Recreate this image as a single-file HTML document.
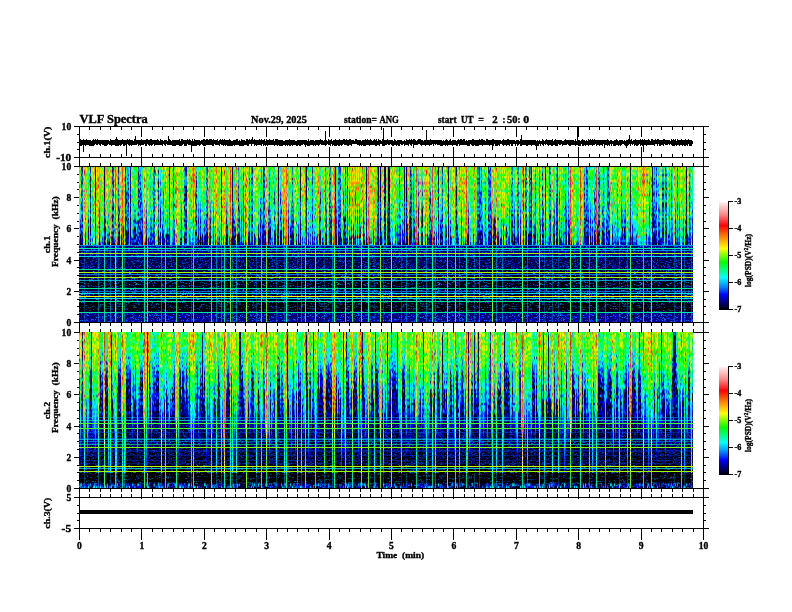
<!DOCTYPE html>
<html><head><meta charset="utf-8"><style>
html,body{margin:0;padding:0;background:#fff;width:792px;height:612px;overflow:hidden;position:relative}
svg{position:absolute;left:0;top:0}
text{font-family:"Liberation Serif",serif;font-weight:bold;fill:#000;stroke:#000;stroke-width:0.35px}
.sp{position:absolute;left:79px;width:614px;display:flex}
.sp i{display:block;width:1px;height:100%;flex:none}
.rw{position:absolute;left:79px;width:614px;mix-blend-mode:lighten}
.rw i{position:absolute;left:0;width:614px;height:1px}
.a0{background:linear-gradient(#5fff00 0px,#4cff00 2px,#ffcb00 4px,#00ffe6 6px,#87ff00 8px,#f9ff00 10px,#4dff00 12px,#57ff00 14px,#ffd400 16px,#00ffae 18px,#68ff00 20px,#6fff00 22px,#66ff00 24px,#23ff00 26px,#00ff3b 28px,#84ff00 30px,#ffa300 32px,#35ff00 34px,#deff00 36px,#77ff00 38px,#00ff00 40px,#00ffad 42px,#00ff47 44px,#1eff00 46px,#00ff1b 48px,#00ffd8 50px,#0038ff 52px,#009cff 54px,#00ff20 56px,#00ff2c 58px,#10ff00 60px,#00a1ff 62px,#00ff47 64px,#004cff 66px,#0081ff 68px,#0057ff 70px,#00c0ff 72px,#0032ff 74px,#0020ff 76px,#000aff 77px)}.a1{background:linear-gradient(#ffa700 0px,#ffd200 2px,#ff0808 4px,#ff0300 6px,#ff5800 8px,#e2ff00 10px,#c1ff00 12px,#ffe700 14px,#ff8c00 16px,#ff9f00 18px,#ffe000 20px,#6fff00 22px,#ff2a2a 24px,#a4ff00 26px,#ff6200 28px,#ffd000 30px,#ff1f00 32px,#fff700 34px,#ff2c00 36px,#daff00 38px,#ff3900 40px,#ffa800 42px,#ff7a00 44px,#ffe800 46px,#ffc100 48px,#ffa600 50px,#fff800 52px,#fff500 54px,#ff6900 56px,#d5ff00 58px,#ffc500 60px,#fff800 62px,#ffd700 64px,#fffe00 66px,#ff7f00 68px,#30ff00 70px,#e2ff00 72px,#e1ff00 74px,#49ff00 76px,#ffca00 77px)}.a2{background:linear-gradient(#00ff89 0px,#0073ff 2px,#00eeff 4px,#00ffd0 6px,#0059ff 8px,#00a5ff 10px,#00ff47 12px,#0030ff 14px,#00edff 16px,#0074ff 18px,#00f6ff 20px,#00ffa3 22px,#009aff 24px,#00deff 26px,#000011 28px,#00d2ff 30px,#0000a8 32px,#0038ff 34px,#0000aa 36px,#0059ff 38px,#0000f4 40px,#0000ee 42px,#0041ff 44px,#0015ff 46px,#002cff 48px,#0034ff 50px,#0089ff 52px,#002aff 54px,#000036 56px,#0024ff 58px,#005dff 60px,#00003b 62px,#004cff 64px,#000050 66px,#0000ac 68px,#008eff 70px,#000035 72px,#000069 74px,#000000 76px,#0000b0 77px)}.a3{background:linear-gradient(#00ffb2 0px,#00ffb2 2px,#dfff00 4px,#00ffc2 6px,#0044ff 8px,#00ff97 10px,#00ffb5 12px,#00ff6f 14px,#0076ff 16px,#03ff00 18px,#00ffdd 20px,#0052ff 22px,#00cbff 24px,#00d7ff 26px,#00fff8 28px,#00fff8 30px,#000088 32px,#0000ab 34px,#00ff71 36px,#0077ff 38px,#0000e9 40px,#0004ff 42px,#00ffee 44px,#00b7ff 46px,#0000ea 48px,#0010ff 50px,#00a0ff 52px,#0081ff 54px,#000070 56px,#00ffde 58px,#000000 60px,#00d3ff 62px,#0000b2 64px,#00fff6 66px,#0000b6 68px,#003cff 70px,#000070 72px,#00002a 74px,#0000b4 76px,#0000e4 77px)}.a4{background:linear-gradient(#03ff00 0px,#00ff01 2px,#00ffb7 4px,#00ffc9 6px,#00ffd3 8px,#34ff00 10px,#00ff42 12px,#00ffe2 14px,#00ff0f 16px,#00ff57 18px,#00ff2e 20px,#00ff7f 22px,#00ffa2 24px,#00ff93 26px,#00ff61 28px,#25ff00 30px,#00ff7c 32px,#00ffb0 34px,#77ff00 36px,#00ff92 38px,#00ffaa 40px,#00ff4d 42px,#0063ff 44px,#00ffec 46px,#00a6ff 48px,#00acff 50px,#0070ff 52px,#0000e0 54px,#003cff 56px,#00e8ff 58px,#0024ff 60px,#000029 62px,#000033 64px,#0000f1 66px,#0000ea 68px,#000015 70px,#0000e4 72px,#00aaff 74px,#0000a7 76px,#0000b7 77px)}.a5{background:linear-gradient(#00ffc6 0px,#73ff00 2px,#fffc00 4px,#deff00 6px,#43ff00 8px,#ffff00 10px,#00ffae 12px,#00ff33 14px,#a0ff00 16px,#13ff00 18px,#44ff00 20px,#00ffa8 22px,#00ffad 24px,#59ff00 26px,#00ff89 28px,#00e5ff 30px,#00ffd0 32px,#96ff00 34px,#00ff75 36px,#00d7ff 38px,#00ff64 40px,#00fbff 42px,#00d2ff 44px,#00ffe3 46px,#0bff00 48px,#0065ff 50px,#00006e 52px,#000000 54px,#0000e6 56px,#0000f4 58px,#000078 60px,#0000a9 62px,#002bff 64px,#000017 66px,#000009 68px,#0058ff 70px,#0020ff 72px,#000094 74px,#000000 76px,#0000a6 77px)}.a6{background:linear-gradient(#ff7a00 0px,#8aff00 2px,#ff8100 4px,#2eff00 6px,#ffd100 8px,#9fff00 10px,#ffe400 12px,#ffcf00 14px,#a1ff00 16px,#19ff00 18px,#ff1c00 20px,#ffe200 22px,#ff6c00 24px,#ffa500 26px,#ffc600 28px,#ffca00 30px,#73ff00 32px,#6cff00 34px,#ff9400 36px,#c1ff00 38px,#dcff00 40px,#edff00 42px,#5fff00 44px,#c3ff00 46px,#9dff00 48px,#fff200 50px,#00ff99 52px,#92ff00 54px,#3eff00 56px,#c8ff00 58px,#18ff00 60px,#b0ff00 62px,#00ffaa 64px,#00ff4d 66px,#06ff00 68px,#00ffbe 70px,#0088ff 72px,#0089ff 74px,#0030ff 76px,#00d9ff 77px)}.a7{background:linear-gradient(#95ff00 0px,#ffdd00 2px,#fff400 4px,#5aff00 6px,#01ff00 8px,#93ff00 10px,#88ff00 12px,#00ffba 14px,#6eff00 16px,#00ff74 18px,#84ff00 20px,#00ff0b 22px,#ff7800 24px,#00ff79 26px,#ffce00 28px,#abff00 30px,#00ff6c 32px,#ffe600 34px,#35ff00 36px,#ffc900 38px,#ffd700 40px,#81ff00 42px,#f1ff00 44px,#3cff00 46px,#1bff00 48px,#f5ff00 50px,#32ff00 52px,#feff00 54px,#73ff00 56px,#38ff00 58px,#00ff10 60px,#15ff00 62px,#5dff00 64px,#00ff98 66px,#00ff23 68px,#00ff7c 70px,#73ff00 72px,#00ff0f 74px,#50ff00 76px,#00ffe4 77px)}.a8{background:linear-gradient(#00a2ff 0px,#00007e 2px,#005dff 4px,#00a2ff 6px,#000054 8px,#008eff 10px,#00bfff 12px,#0019ff 14px,#0009ff 16px,#002fff 18px,#000cff 20px,#00e5ff 22px,#005bff 24px,#0015ff 26px,#0000a8 28px,#005aff 30px,#00ddff 32px,#00c9ff 34px,#002dff 36px,#0000ff 38px,#0000e1 40px,#00005f 42px,#0098ff 44px,#00f8ff 46px,#003bff 48px,#0000bc 50px,#008dff 52px,#0097ff 54px,#0085ff 56px,#0067ff 58px,#0000da 60px,#00d1ff 62px,#000094 64px,#000048 66px,#0000de 68px,#0078ff 70px,#000aff 72px,#0005ff 74px,#00009e 76px,#00001a 77px)}.a9{background:linear-gradient(#ccff00 0px,#ffb200 2px,#00ffb7 4px,#f5ff00 6px,#00ff55 8px,#9bff00 10px,#88ff00 12px,#8aff00 14px,#00ff4e 16px,#0cff00 18px,#00ff24 20px,#ffa800 22px,#91ff00 24px,#ffe100 26px,#6cff00 28px,#fffc00 30px,#44ff00 32px,#93ff00 34px,#d8ff00 36px,#6cff00 38px,#87ff00 40px,#61ff00 42px,#00ff1d 44px,#1fff00 46px,#00ff83 48px,#99ff00 50px,#00ff97 52px,#68ff00 54px,#00cdff 56px,#00ff7c 58px,#00ff27 60px,#00d8ff 62px,#00aaff 64px,#00ff87 66px,#00ffe0 68px,#00ff6c 70px,#0000ac 72px,#0000b0 74px,#0000f1 76px,#0000ea 77px)}.a10{background:linear-gradient(#00ffab 0px,#ffe800 2px,#00ecff 4px,#00ff7a 6px,#00fffd 8px,#36ff00 10px,#f8ff00 12px,#1aff00 14px,#00ff21 16px,#0eff00 18px,#00ff08 20px,#ffe200 22px,#00ddff 24px,#02ff00 26px,#00ff18 28px,#00ff9a 30px,#7eff00 32px,#0bff00 34px,#00ff0a 36px,#a4ff00 38px,#00ff35 40px,#00ff77 42px,#00ffdb 44px,#00ff55 46px,#00acff 48px,#00ff22 50px,#00ff21 52px,#00ff87 54px,#00ffc4 56px,#00fcff 58px,#00ebff 60px,#00fff1 62px,#00ff51 64px,#00fff2 66px,#0044ff 68px,#000049 70px,#008eff 72px,#0009ff 74px,#0001ff 76px,#0000e5 77px)}.a11{background:linear-gradient(#ff6100 0px,#ffe800 2px,#fbff00 4px,#ff8900 6px,#ff9a00 8px,#ffb800 10px,#44ff00 12px,#e6ff00 14px,#ff5f00 16px,#ffbf00 18px,#ffa400 20px,#ffd900 22px,#26ff00 24px,#ffdd00 26px,#ffe900 28px,#ffa800 30px,#ff6500 32px,#ffb000 34px,#ffd700 36px,#ff1000 38px,#ffe500 40px,#ff3232 42px,#83ff00 44px,#ff0600 46px,#5eff00 48px,#ffe200 50px,#ff5b00 52px,#ff3f00 54px,#77ff00 56px,#b1ff00 58px,#ff5300 60px,#ffe300 62px,#a2ff00 64px,#2aff00 66px,#ff9200 68px,#ff6f00 70px,#e3ff00 72px,#cdff00 74px,#ffe500 76px,#ff6f00 77px)}.a12{background:linear-gradient(#0061ff 0px,#000082 2px,#0030ff 4px,#0039ff 6px,#007bff 8px,#00ffba 10px,#0069ff 12px,#000038 14px,#00cfff 16px,#006bff 18px,#0000ce 20px,#000005 22px,#00f0ff 24px,#00ff46 26px,#00bfff 28px,#0049ff 30px,#00c1ff 32px,#000aff 34px,#008aff 36px,#00007d 38px,#0094ff 40px,#000088 42px,#00cdff 44px,#000035 46px,#00009f 48px,#0000e7 50px,#0095ff 52px,#0073ff 54px,#00a8ff 56px,#0023ff 58px,#00b8ff 60px,#000000 62px,#0072ff 64px,#00006f 66px,#000091 68px,#000000 70px,#000099 72px,#0000bd 74px,#002fff 76px,#0000bc 77px)}.a13{background:linear-gradient(#3eff00 0px,#9bff00 2px,#00ff1b 4px,#ffb000 6px,#fff700 8px,#00ff22 10px,#00ff0a 12px,#00ffb1 14px,#1cff00 16px,#4bff00 18px,#00ff10 20px,#76ff00 22px,#00ff44 24px,#00ff09 26px,#00ff71 28px,#00ff81 30px,#fff300 32px,#00fdff 34px,#00ffcc 36px,#74ff00 38px,#00ff6a 40px,#00d9ff 42px,#00ffe3 44px,#00ffa8 46px,#33ff00 48px,#0050ff 50px,#00ff2e 52px,#00ff86 54px,#00f0ff 56px,#00fff3 58px,#00b7ff 60px,#00ffe7 62px,#00c2ff 64px,#00008e 66px,#00ffac 68px,#002dff 70px,#00006e 72px,#005eff 74px,#0047ff 76px,#000082 77px)}.a14{background:linear-gradient(#0000ea 0px,#0084ff 2px,#0000ab 4px,#0001ff 6px,#0006ff 8px,#0052ff 10px,#00afff 12px,#000069 14px,#00f0ff 16px,#000038 18px,#00abff 20px,#008bff 22px,#00ff13 24px,#0093ff 26px,#0080ff 28px,#0000c9 30px,#0044ff 32px,#0087ff 34px,#0000ab 36px,#00cdff 38px,#0023ff 40px,#0000c3 42px,#000fff 44px,#0020ff 46px,#00a5ff 48px,#00006c 50px,#000098 52px,#0000f0 54px,#000052 56px,#00008b 58px,#00008b 60px,#0040ff 62px,#0000a9 64px,#000000 66px,#00008d 68px,#000035 70px,#000085 72px,#0004ff 74px,#0000a3 76px,#0000d9 77px)}.a15{background:linear-gradient(#00efff 0px,#00cbff 2px,#0094ff 4px,#00d4ff 6px,#0001ff 8px,#00b5ff 10px,#00b3ff 12px,#00b6ff 14px,#0009ff 16px,#005eff 18px,#0099ff 20px,#000000 22px,#00cbff 24px,#006eff 26px,#00005b 28px,#004cff 30px,#0036ff 32px,#00efff 34px,#000081 36px,#0000d9 38px,#0000f9 40px,#006cff 42px,#0000ff 44px,#0095ff 46px,#0032ff 48px,#00e9ff 50px,#00003f 52px,#007cff 54px,#0000b9 56px,#007bff 58px,#0048ff 60px,#000070 62px,#000cff 64px,#000000 66px,#0000a5 68px,#0000d8 70px,#0000ec 72px,#0028ff 74px,#0000e6 76px,#0076ff 77px)}.a16{background:linear-gradient(#76ff00 0px,#ffd300 2px,#aeff00 4px,#e1ff00 6px,#7bff00 8px,#80ff00 10px,#ff5400 12px,#02ff00 14px,#a2ff00 16px,#ff9700 18px,#57ff00 20px,#fffd00 22px,#00ff20 24px,#74ff00 26px,#bbff00 28px,#00ff1a 30px,#a4ff00 32px,#6cff00 34px,#56ff00 36px,#ffab00 38px,#68ff00 40px,#7aff00 42px,#00ff58 44px,#8cff00 46px,#95ff00 48px,#fffb00 50px,#00ff2c 52px,#4fff00 54px,#ffd900 56px,#acff00 58px,#00ff8a 60px,#2aff00 62px,#64ff00 64px,#68ff00 66px,#11ff00 68px,#c6ff00 70px,#00ff76 72px,#0dff00 74px,#82ff00 76px,#5eff00 77px)}.a17{background:linear-gradient(#00ff63 0px,#00eeff 2px,#5aff00 4px,#2fff00 6px,#21ff00 8px,#00ff3d 10px,#00ff08 12px,#00ff9b 14px,#00ff62 16px,#00ff81 18px,#00ff43 20px,#00ffb9 22px,#00ffa1 24px,#00ff9e 26px,#00ffca 28px,#00ff84 30px,#00fffb 32px,#00ff8b 34px,#00a5ff 36px,#0099ff 38px,#00a8ff 40px,#0099ff 42px,#000bff 44px,#006cff 46px,#00a8ff 48px,#0052ff 50px,#0026ff 52px,#0000b8 54px,#0000c7 56px,#0087ff 58px,#000059 60px,#004cff 62px,#0046ff 64px,#0033ff 66px,#0000e0 68px,#000000 70px,#000040 72px,#000082 74px,#000000 76px,#000000 77px)}.a18{background:linear-gradient(#82ff00 0px,#84ff00 2px,#69ff00 4px,#1aff00 6px,#00ff16 8px,#00ff40 10px,#00ffbe 12px,#82ff00 14px,#93ff00 16px,#00ffc7 18px,#1cff00 20px,#39ff00 22px,#00fff9 24px,#ffbc00 26px,#0eff00 28px,#1cff00 30px,#fff700 32px,#00ff5c 34px,#00ffb0 36px,#00ff3b 38px,#00d2ff 40px,#83ff00 42px,#00ff5e 44px,#00ff57 46px,#00ffdd 48px,#14ff00 50px,#0015ff 52px,#00ffd2 54px,#00ff4f 56px,#00ff95 58px,#00ffd7 60px,#00b2ff 62px,#00baff 64px,#000cff 66px,#0061ff 68px,#0000b4 70px,#00009c 72px,#000092 74px,#0000ae 76px,#0000ad 77px)}.a19{background:linear-gradient(#a0ff00 0px,#00ff99 2px,#00e6ff 4px,#ffcc00 6px,#ffc700 8px,#ffbd00 10px,#00ffc5 12px,#00ff2f 14px,#00ff40 16px,#00ffdf 18px,#00ff5f 20px,#00ff23 22px,#00ffee 24px,#00b2ff 26px,#00ff8c 28px,#00ff8a 30px,#0060ff 32px,#009aff 34px,#0009ff 36px,#00ffb2 38px,#00f1ff 40px,#0000a6 42px,#00007f 44px,#0090ff 46px,#0010ff 48px,#0000a6 50px,#000052 52px,#0038ff 54px,#0000da 56px,#00007f 58px,#000000 60px,#0051ff 62px,#0054ff 64px,#0000ad 66px,#00008d 68px,#0022ff 70px,#000fff 72px,#000042 74px,#000051 76px,#0000cb 77px)}.a20{background:linear-gradient(#80ff00 0px,#ffe100 2px,#00ff19 4px,#13ff00 6px,#ffd300 8px,#16ff00 10px,#00ff17 12px,#0eff00 14px,#c8ff00 16px,#01ff00 18px,#35ff00 20px,#fff400 22px,#c9ff00 24px,#bcff00 26px,#00ff55 28px,#dcff00 30px,#00ff67 32px,#00ff54 34px,#83ff00 36px,#00aaff 38px,#00ff96 40px,#00ff1a 42px,#00e4ff 44px,#00ff87 46px,#00edff 48px,#00dbff 50px,#00b7ff 52px,#0025ff 54px,#0091ff 56px,#0000f4 58px,#0000aa 60px,#002dff 62px,#0051ff 64px,#0086ff 66px,#000006 68px,#000000 70px,#00007a 72px,#000083 74px,#000031 76px,#000000 77px)}.a21{background:linear-gradient(#ff4400 0px,#ff6c00 2px,#ffaa00 4px,#d2ff00 6px,#fff800 8px,#ff1b00 10px,#ff5100 12px,#ffc800 14px,#ff7979 16px,#ff5400 18px,#c2ff00 20px,#fffa00 22px,#b3ff00 24px,#d4ff00 26px,#e2ff00 28px,#ffb300 30px,#ff0b00 32px,#ffac00 34px,#ff9c00 36px,#ffd000 38px,#ffcf00 40px,#ff9400 42px,#fff900 44px,#ddff00 46px,#ff8000 48px,#c4ff00 50px,#ffeb00 52px,#ff9100 54px,#ff9e00 56px,#c2ff00 58px,#9eff00 60px,#ff7500 62px,#c4ff00 64px,#ff1c00 66px,#00ff50 68px,#80ff00 70px,#ffef00 72px,#ffce00 74px,#f5ff00 76px,#02ff00 77px)}.a22{background:linear-gradient(#0000ee 0px,#0024ff 2px,#000000 4px,#000017 6px,#0000e8 8px,#000000 10px,#000055 12px,#000000 14px,#0048ff 16px,#000000 18px,#000000 20px,#0000c8 22px,#0000be 24px,#0057ff 26px,#000000 28px,#0000cb 30px,#000000 32px,#000000 34px,#00002d 36px,#007eff 38px,#000000 40px,#000000 42px,#000000 44px,#0000b0 46px,#0059ff 48px,#0000e5 50px,#000000 52px,#000020 54px,#00004f 56px,#000035 58px,#0000f0 60px,#000000 62px,#00001c 64px,#0000d9 66px,#000000 68px,#000046 70px,#0000a5 72px,#0000cc 74px,#00000f 76px,#0000c5 77px)}.a23{background:linear-gradient(#ff5800 0px,#ffb300 2px,#ffe500 4px,#ff3535 6px,#ffc000 8px,#fffb00 10px,#ffe900 12px,#ff5c00 14px,#ff1b00 16px,#ffc400 18px,#ffcc00 20px,#ff9e00 22px,#ff6d6d 24px,#ffd100 26px,#d5ff00 28px,#ffcc00 30px,#ff2b00 32px,#dbff00 34px,#ff0505 36px,#ffc400 38px,#fff100 40px,#ffba00 42px,#ffa400 44px,#6aff00 46px,#bdff00 48px,#ffc700 50px,#51ff00 52px,#ffda00 54px,#fffd00 56px,#ff3e00 58px,#ffa300 60px,#ffee00 62px,#ffa600 64px,#97ff00 66px,#1fff00 68px,#8eff00 70px,#24ff00 72px,#beff00 74px,#0eff00 76px,#00ffb0 77px)}.a24{background:linear-gradient(#00ff33 0px,#00fff0 2px,#00ff14 4px,#d1ff00 6px,#1cff00 8px,#ffcd00 10px,#00ff5b 12px,#bbff00 14px,#6aff00 16px,#00ff04 18px,#00ffb5 20px,#10ff00 22px,#7aff00 24px,#00ffc5 26px,#00ffa9 28px,#00ff39 30px,#37ff00 32px,#00f9ff 34px,#00ff17 36px,#00ffa6 38px,#00ff7b 40px,#00ffe1 42px,#00ff43 44px,#00f2ff 46px,#0062ff 48px,#00a3ff 50px,#00daff 52px,#00ff86 54px,#00ff2b 56px,#00ffbd 58px,#0047ff 60px,#00e6ff 62px,#00bbff 64px,#00ff5f 66px,#0000e1 68px,#0075ff 70px,#007cff 72px,#005cff 74px,#000074 76px,#0000a9 77px)}.a25{background:linear-gradient(#ff2800 0px,#ff2c00 2px,#22ff00 4px,#ff5a00 6px,#6eff00 8px,#ff8200 10px,#ffd400 12px,#1cff00 14px,#ffac00 16px,#ff3800 18px,#ffa300 20px,#dbff00 22px,#ff1000 24px,#ff8c00 26px,#ff8d00 28px,#ff8a00 30px,#ff0404 32px,#ffc500 34px,#ffc100 36px,#ffef00 38px,#ffa700 40px,#ffd300 42px,#ff9000 44px,#fff000 46px,#f3ff00 48px,#b8ff00 50px,#ff8300 52px,#ffa400 54px,#4dff00 56px,#f3ff00 58px,#ff9100 60px,#47ff00 62px,#9bff00 64px,#c2ff00 66px,#ff4700 68px,#ecff00 70px,#79ff00 72px,#e0ff00 74px,#32ff00 76px,#4eff00 77px)}.a26{background:linear-gradient(#0000a5 0px,#0000bb 2px,#000000 4px,#0000c9 6px,#000000 8px,#00003c 10px,#000000 12px,#00006d 14px,#0000a7 16px,#0000bc 18px,#000071 20px,#000000 22px,#000093 24px,#000030 26px,#000011 28px,#000029 30px,#00009b 32px,#00002a 34px,#007bff 36px,#0000c5 38px,#0074ff 40px,#000013 42px,#004bff 44px,#0000a5 46px,#00005a 48px,#0068ff 50px,#0000b9 52px,#0000ed 54px,#000047 56px,#000043 58px,#000092 60px,#000000 62px,#00004e 64px,#0000e4 66px,#0036ff 68px,#000000 70px,#000060 72px,#00006d 74px,#000078 76px,#000000 77px)}.a27{background:linear-gradient(#00c0ff 0px,#0086ff 2px,#00f3ff 4px,#0000ec 6px,#00f6ff 8px,#00f7ff 10px,#00ffe7 12px,#00ffb5 14px,#00fcff 16px,#004aff 18px,#0000c0 20px,#00efff 22px,#0000d7 24px,#00ffd0 26px,#000040 28px,#0095ff 30px,#00ff93 32px,#0091ff 34px,#008dff 36px,#0087ff 38px,#00cbff 40px,#00ff78 42px,#0000d9 44px,#009aff 46px,#000094 48px,#0000c3 50px,#0039ff 52px,#0067ff 54px,#0000f1 56px,#0000f8 58px,#0000ff 60px,#000aff 62px,#0000c2 64px,#0075ff 66px,#00004e 68px,#0023ff 70px,#000034 72px,#0000b5 74px,#004fff 76px,#00c4ff 77px)}.a28{background:linear-gradient(#ff8100 0px,#ffd700 2px,#ffb100 4px,#ffd600 6px,#ffe200 8px,#ff9200 10px,#ff3100 12px,#ff3a00 14px,#e8ff00 16px,#ff3700 18px,#ff1900 20px,#ffe400 22px,#e7ff00 24px,#ffb200 26px,#ffb800 28px,#ffc200 30px,#ffce00 32px,#ff1600 34px,#ffcf00 36px,#fffb00 38px,#ffc100 40px,#ff6c00 42px,#ff7e00 44px,#ffab00 46px,#ff3000 48px,#ff8c00 50px,#edff00 52px,#c4ff00 54px,#ff1f00 56px,#ffd800 58px,#ff3800 60px,#ffd400 62px,#ffcd00 64px,#ff7800 66px,#ffeb00 68px,#d4ff00 70px,#ffc900 72px,#ffe200 74px,#ff4a00 76px,#ff4b00 77px)}.a29{background:linear-gradient(#ffb200 0px,#1eff00 2px,#bdff00 4px,#ffc000 6px,#5cff00 8px,#ffe400 10px,#ffd900 12px,#ffec00 14px,#ff8700 16px,#fffe00 18px,#11ff00 20px,#ffe300 22px,#0fff00 24px,#fff500 26px,#ff9700 28px,#00ff0b 30px,#26ff00 32px,#00ff15 34px,#b6ff00 36px,#00ff1d 38px,#ffdc00 40px,#55ff00 42px,#38ff00 44px,#ffe900 46px,#90ff00 48px,#00ff90 50px,#35ff00 52px,#45ff00 54px,#07ff00 56px,#00ff3b 58px,#00ffad 60px,#4cff00 62px,#00ffdc 64px,#00ffcb 66px,#00fff1 68px,#0080ff 70px,#0003ff 72px,#006dff 74px,#0000e3 76px,#007aff 77px)}.a30{background:linear-gradient(#00ff9d 0px,#00ff39 2px,#00ff10 4px,#00ff2a 6px,#42ff00 8px,#00ff9a 10px,#000eff 12px,#00ffc6 14px,#22ff00 16px,#00ff73 18px,#87ff00 20px,#002fff 22px,#00ff87 24px,#00ff71 26px,#00ff98 28px,#a8ff00 30px,#00ff35 32px,#00ff7f 34px,#00aaff 36px,#00ffaf 38px,#23ff00 40px,#00ff83 42px,#00f9ff 44px,#0040ff 46px,#00ffe6 48px,#00ffbb 50px,#00a8ff 52px,#eaff00 54px,#0068ff 56px,#00ff2b 58px,#00ffdb 60px,#003cff 62px,#00d2ff 64px,#0040ff 66px,#0025ff 68px,#004cff 70px,#002cff 72px,#000097 74px,#0000d4 76px,#0000fb 77px)}.a31{background:linear-gradient(#00ff96 0px,#00ff60 2px,#c8ff00 4px,#00ff5e 6px,#35ff00 8px,#00ff03 10px,#29ff00 12px,#3dff00 14px,#baff00 16px,#00ff6b 18px,#bdff00 20px,#38ff00 22px,#00ffa8 24px,#00ff49 26px,#00ff97 28px,#00ffd1 30px,#00ff20 32px,#00ffb2 34px,#00ff84 36px,#00007b 38px,#00ff89 40px,#00f3ff 42px,#00ff6f 44px,#58ff00 46px,#00ff03 48px,#00ff54 50px,#00ffa4 52px,#000067 54px,#00b2ff 56px,#0071ff 58px,#00d2ff 60px,#0090ff 62px,#000085 64px,#000093 66px,#000dff 68px,#0030ff 70px,#0000ef 72px,#0000f4 74px,#0000e3 76px,#0000f5 77px)}.a32{background:linear-gradient(#00d5ff 0px,#00cbff 2px,#00ff84 4px,#00feff 6px,#00ffa6 8px,#00b0ff 10px,#00ecff 12px,#00fcff 14px,#00ffb3 16px,#00ff8a 18px,#00d5ff 20px,#00d0ff 22px,#00b9ff 24px,#0000fa 26px,#0041ff 28px,#0087ff 30px,#0001ff 32px,#0000cf 34px,#0000ac 36px,#0096ff 38px,#00e9ff 40px,#00baff 42px,#0068ff 44px,#005aff 46px,#00d5ff 48px,#0041ff 50px,#000000 52px,#003eff 54px,#00d7ff 56px,#009dff 58px,#00d2ff 60px,#00e9ff 62px,#0000fb 64px,#00001e 66px,#00007d 68px,#0000ac 70px,#000067 72px,#0000de 74px,#000007 76px,#00009a 77px)}.a33{background:linear-gradient(#ffe100 0px,#18ff00 2px,#ff9400 4px,#ffbe00 6px,#0074ff 8px,#68ff00 10px,#00ffb9 12px,#00ff86 14px,#3dff00 16px,#56ff00 18px,#90ff00 20px,#00ff50 22px,#c9ff00 24px,#00ff69 26px,#5dff00 28px,#00ff47 30px,#00ffa1 32px,#00ff33 34px,#fff500 36px,#00ff1c 38px,#04ff00 40px,#00ff03 42px,#00ffa0 44px,#00ffb7 46px,#00efff 48px,#0dff00 50px,#00c9ff 52px,#00ffb0 54px,#00ff30 56px,#00ffaa 58px,#00faff 60px,#00acff 62px,#0090ff 64px,#00f3ff 66px,#00005b 68px,#0000d2 70px,#000095 72px,#002bff 74px,#0000cb 76px,#0000e9 77px)}.a34{background:linear-gradient(#00fffd 0px,#b8ff00 2px,#06ff00 4px,#00ff29 6px,#1dff00 8px,#00ff1f 10px,#00ff14 12px,#00ff6c 14px,#00ffb2 16px,#00cdff 18px,#00ff13 20px,#ffd000 22px,#00ff96 24px,#1cff00 26px,#00ffd4 28px,#00ff86 30px,#00ff34 32px,#72ff00 34px,#00ff16 36px,#00ff7f 38px,#00ffef 40px,#00b8ff 42px,#00ffc7 44px,#16ff00 46px,#0087ff 48px,#00ffea 50px,#00ffe5 52px,#001dff 54px,#0007ff 56px,#00ffde 58px,#0049ff 60px,#0004ff 62px,#0000e5 64px,#007fff 66px,#0065ff 68px,#00006b 70px,#0000d1 72px,#0000b3 74px,#0000ce 76px,#000086 77px)}.a35{background:linear-gradient(#ffa100 0px,#8dff00 2px,#c9ff00 4px,#8fff00 6px,#00ff48 8px,#acff00 10px,#00ff92 12px,#ffd200 14px,#ff3200 16px,#90ff00 18px,#ffde00 20px,#ffcf00 22px,#9cff00 24px,#ff3100 26px,#ccff00 28px,#ffa200 30px,#b1ff00 32px,#43ff00 34px,#00ff1c 36px,#ff7600 38px,#00ff12 40px,#40ff00 42px,#ffd700 44px,#00ff4a 46px,#e8ff00 48px,#c3ff00 50px,#72ff00 52px,#95ff00 54px,#60ff00 56px,#22ff00 58px,#ddff00 60px,#00ff57 62px,#fff700 64px,#ffcb00 66px,#f5ff00 68px,#a0ff00 70px,#00ffe0 72px,#00ffdb 74px,#00ff62 76px,#00b2ff 77px)}.a36{background:linear-gradient(#ff1800 0px,#ff8787 2px,#ff4100 4px,#ff3d00 6px,#ff4949 8px,#ff3333 10px,#ff4500 12px,#ff7000 14px,#ff0303 16px,#ff6060 18px,#ffa100 20px,#ff6c6c 22px,#ffa0a0 24px,#ff3b3b 26px,#ffcaca 28px,#ff6060 30px,#ff1111 32px,#ff9797 34px,#ff5c5c 36px,#ff1212 38px,#ff3e3e 40px,#ff8000 42px,#ff2200 44px,#ff2100 46px,#ff3700 48px,#ff8a8a 50px,#ff4d4d 52px,#ff0400 54px,#ff3737 56px,#ff5b00 58px,#ff3f3f 60px,#ff5c00 62px,#ff8484 64px,#ff4a00 66px,#ff8080 68px,#ff1d1d 70px,#ff6800 72px,#ff5000 74px,#ff4100 76px,#ff6c00 77px)}.a37{background:linear-gradient(#08ff00 0px,#7dff00 2px,#89ff00 4px,#9dff00 6px,#39ff00 8px,#ffe600 10px,#00ffc6 12px,#00ff2d 14px,#00ff25 16px,#00ff95 18px,#88ff00 20px,#00ff29 22px,#00ff29 24px,#0cff00 26px,#00ffb0 28px,#00ffc7 30px,#00ffcd 32px,#00ff3a 34px,#00ff6b 36px,#99ff00 38px,#00ff01 40px,#00ff94 42px,#00c8ff 44px,#00ff56 46px,#acff00 48px,#00ffb6 50px,#00ffb7 52px,#0cff00 54px,#00ff52 56px,#80ff00 58px,#82ff00 60px,#00ff0b 62px,#24ff00 64px,#34ff00 66px,#00ff93 68px,#61ff00 70px,#00fff0 72px,#91ff00 74px,#00c8ff 76px,#00ffc8 77px)}.a38{background:linear-gradient(#ff3f00 0px,#ff8600 2px,#ff4400 4px,#ff4600 6px,#ff9200 8px,#fff800 10px,#ffbd00 12px,#ff2900 14px,#ff9500 16px,#dcff00 18px,#ffad00 20px,#fbff00 22px,#f4ff00 24px,#ffd000 26px,#ff2b00 28px,#ff6300 30px,#ffbe00 32px,#ff1b00 34px,#ffc500 36px,#ff3434 38px,#ffcb00 40px,#ffd800 42px,#00ffa1 44px,#ff1a00 46px,#fbff00 48px,#ffcd00 50px,#fff400 52px,#ffaf00 54px,#ffcf00 56px,#deff00 58px,#ffcf00 60px,#e3ff00 62px,#ffd900 64px,#78ff00 66px,#ffb800 68px,#f7ff00 70px,#ffcd00 72px,#ff5d00 74px,#ff9800 76px,#ffaa00 77px)}.a39{background:linear-gradient(#68ff00 0px,#d3ff00 2px,#ff4800 4px,#d8ff00 6px,#f4ff00 8px,#ff8200 10px,#ffc000 12px,#ffbe00 14px,#ffa900 16px,#ffec00 18px,#ffd400 20px,#ff7200 22px,#ff5e00 24px,#ff9600 26px,#ffa800 28px,#ffbf00 30px,#ffc300 32px,#ff5100 34px,#ff4b00 36px,#caff00 38px,#ff8900 40px,#cbff00 42px,#77ff00 44px,#ff8600 46px,#ffba00 48px,#ffa900 50px,#ff5300 52px,#ff9800 54px,#ffbb00 56px,#ffad00 58px,#ffc100 60px,#ff5600 62px,#ffd600 64px,#ffb000 66px,#fdff00 68px,#ff1500 70px,#5cff00 72px,#75ff00 74px,#ffa100 76px,#ffed00 77px)}.a40{background:linear-gradient(#00dfff 0px,#00ffca 2px,#0000a1 4px,#001bff 6px,#00bcff 8px,#00beff 10px,#0051ff 12px,#0002ff 14px,#00004a 16px,#0000c4 18px,#000004 20px,#00ff98 22px,#0000a8 24px,#0083ff 26px,#0033ff 28px,#0000fd 30px,#0000d0 32px,#00b4ff 34px,#00c3ff 36px,#0042ff 38px,#004dff 40px,#008dff 42px,#0000a5 44px,#0079ff 46px,#0077ff 48px,#007eff 50px,#007dff 52px,#00004c 54px,#00fff5 56px,#000047 58px,#003cff 60px,#00a5ff 62px,#000091 64px,#000015 66px,#000092 68px,#00009a 70px,#000064 72px,#000077 74px,#00009e 76px,#000000 77px)}.a41{background:linear-gradient(#0000a1 0px,#0000cc 2px,#000027 4px,#000090 6px,#00008c 8px,#0000ab 10px,#0000e4 12px,#000080 14px,#000000 16px,#0000af 18px,#0044ff 20px,#00008a 22px,#0000b4 24px,#0000e4 26px,#00ffe2 28px,#00008c 30px,#000056 32px,#0008ff 34px,#000016 36px,#000dff 38px,#00006e 40px,#00f2ff 42px,#0000e1 44px,#0025ff 46px,#000046 48px,#000000 50px,#000089 52px,#0000ab 54px,#00b6ff 56px,#00002a 58px,#0000e1 60px,#001cff 62px,#0035ff 64px,#000049 66px,#000063 68px,#0000f2 70px,#00007d 72px,#009bff 74px,#0081ff 76px,#000007 77px)}.a42{background:linear-gradient(#ffdc00 0px,#ff0000 2px,#ff7000 4px,#ffdb00 6px,#ffd900 8px,#ffbc00 10px,#88ff00 12px,#ffcf00 14px,#ff8d00 16px,#ff8600 18px,#ffb300 20px,#8bff00 22px,#ff3800 24px,#ffc600 26px,#d6ff00 28px,#ffb000 30px,#ff0f0f 32px,#ff3300 34px,#ff9400 36px,#ff4a00 38px,#ff9c00 40px,#fff500 42px,#ffbc00 44px,#90ff00 46px,#ffbe00 48px,#ffc500 50px,#e9ff00 52px,#fff500 54px,#ffe500 56px,#ffee00 58px,#e8ff00 60px,#ff5e5e 62px,#ffdc00 64px,#cbff00 66px,#ff7900 68px,#ff0100 70px,#ffdb00 72px,#feff00 74px,#ffb800 76px,#ffd300 77px)}.a43{background:linear-gradient(#8dff00 0px,#ffff00 2px,#bbff00 4px,#00ff14 6px,#ffa800 8px,#ffd600 10px,#fffe00 12px,#fff600 14px,#ff9d00 16px,#ffa300 18px,#00ff1c 20px,#e4ff00 22px,#00ff6f 24px,#fff500 26px,#ffc800 28px,#ffb900 30px,#ff5b00 32px,#ecff00 34px,#dcff00 36px,#7aff00 38px,#ff0b0b 40px,#72ff00 42px,#6eff00 44px,#ffe100 46px,#cbff00 48px,#4cff00 50px,#ffab00 52px,#ff6a00 54px,#dfff00 56px,#00ff3e 58px,#a9ff00 60px,#9aff00 62px,#ffc400 64px,#fff900 66px,#ddff00 68px,#00ff02 70px,#00ff9e 72px,#9dff00 74px,#ffdb00 76px,#51ff00 77px)}.a44{background:linear-gradient(#00008f 0px,#003dff 2px,#00008c 4px,#0021ff 6px,#00beff 8px,#0056ff 10px,#001aff 12px,#0065ff 14px,#0000c2 16px,#0095ff 18px,#00d4ff 20px,#00a4ff 22px,#001fff 24px,#0095ff 26px,#0019ff 28px,#00ffde 30px,#0042ff 32px,#0048ff 34px,#008bff 36px,#0090ff 38px,#001dff 40px,#0000cc 42px,#0062ff 44px,#00d0ff 46px,#0000c0 48px,#0000b3 50px,#0000d3 52px,#000000 54px,#00ffdf 56px,#0000ae 58px,#0000e2 60px,#00b0ff 62px,#009bff 64px,#00003a 66px,#0074ff 68px,#000062 70px,#000080 72px,#0000d8 74px,#0000fe 76px,#00009c 77px)}.a45{background:linear-gradient(#37ff00 0px,#ffe700 2px,#00ff2d 4px,#9aff00 6px,#00ffd2 8px,#94ff00 10px,#00ff6b 12px,#00ff35 14px,#00ff46 16px,#00ff3d 18px,#23ff00 20px,#bfff00 22px,#11ff00 24px,#fffc00 26px,#00ff49 28px,#fbff00 30px,#bbff00 32px,#4aff00 34px,#00e3ff 36px,#ffeb00 38px,#00ff31 40px,#00ffc1 42px,#00fffc 44px,#e2ff00 46px,#90ff00 48px,#7cff00 50px,#00ffec 52px,#00ff9b 54px,#00ff7e 56px,#e3ff00 58px,#10ff00 60px,#00fffd 62px,#00ff4f 64px,#00ff34 66px,#00ff4c 68px,#00d7ff 70px,#00fff3 72px,#00ff99 74px,#007fff 76px,#00ffed 77px)}.a46{background:linear-gradient(#00ff3d 0px,#3bff00 2px,#ffa200 4px,#ffd200 6px,#ffe000 8px,#d8ff00 10px,#ffad00 12px,#ff5900 14px,#ffe300 16px,#ff9100 18px,#ff9800 20px,#daff00 22px,#dbff00 24px,#cbff00 26px,#00ff78 28px,#45ff00 30px,#e4ff00 32px,#fffb00 34px,#ffe400 36px,#00ff59 38px,#26ff00 40px,#c8ff00 42px,#00ff54 44px,#00ff8b 46px,#a7ff00 48px,#00ff70 50px,#00ff50 52px,#00ff4b 54px,#00a0ff 56px,#00ff65 58px,#32ff00 60px,#009eff 62px,#005dff 64px,#00d3ff 66px,#00ffe2 68px,#00d1ff 70px,#0070ff 72px,#006cff 74px,#000056 76px,#000058 77px)}.a47{background:linear-gradient(#00caff 0px,#00c8ff 2px,#00b8ff 4px,#00e2ff 6px,#00beff 8px,#0001ff 10px,#0021ff 12px,#00ffc1 14px,#0019ff 16px,#00cfff 18px,#00f0ff 20px,#00cbff 22px,#00007f 24px,#0012ff 26px,#00fff3 28px,#0008ff 30px,#00c0ff 32px,#0000a3 34px,#00fff8 36px,#00a2ff 38px,#0021ff 40px,#0093ff 42px,#00c7ff 44px,#00e2ff 46px,#0072ff 48px,#00f3ff 50px,#000078 52px,#000000 54px,#0054ff 56px,#00d8ff 58px,#000083 60px,#000008 62px,#00ffc8 64px,#00007c 66px,#00001d 68px,#000064 70px,#00abff 72px,#000000 74px,#000000 76px,#008eff 77px)}.a48{background:linear-gradient(#45ff00 0px,#4aff00 2px,#00ff05 4px,#9cff00 6px,#0bff00 8px,#00ff6f 10px,#01ff00 12px,#00ff43 14px,#00ffd5 16px,#0cff00 18px,#00ff22 20px,#00ff20 22px,#c6ff00 24px,#00ff24 26px,#00ff52 28px,#97ff00 30px,#fffd00 32px,#00ff4b 34px,#a3ff00 36px,#30ff00 38px,#25ff00 40px,#9bff00 42px,#00ffac 44px,#d3ff00 46px,#00ff45 48px,#03ff00 50px,#ffe700 52px,#3bff00 54px,#deff00 56px,#5cff00 58px,#ff3f3f 60px,#00ff96 62px,#00abff 64px,#83ff00 66px,#00ff26 68px,#00ff20 70px,#00ffad 72px,#bbff00 74px,#93ff00 76px,#00ffdb 77px)}.a49{background:linear-gradient(#ff9a00 0px,#ffdf00 2px,#ffbb00 4px,#83ff00 6px,#00ff0f 8px,#ff5959 10px,#ff7e00 12px,#ff2e00 14px,#ffbf00 16px,#ffbb00 18px,#ff7b00 20px,#ff5700 22px,#ff3300 24px,#ff0303 26px,#ffe500 28px,#ff9600 30px,#e6ff00 32px,#4aff00 34px,#9dff00 36px,#ff5e00 38px,#ff0500 40px,#fffb00 42px,#ffd100 44px,#ff6300 46px,#e8ff00 48px,#ff9500 50px,#ffc200 52px,#a5ff00 54px,#ebff00 56px,#69ff00 58px,#24ff00 60px,#f5ff00 62px,#ff9200 64px,#8eff00 66px,#ff1000 68px,#ffdb00 70px,#ffb700 72px,#69ff00 74px,#81ff00 76px,#00ff42 77px)}.a50{background:linear-gradient(#58ff00 0px,#dbff00 2px,#faff00 4px,#fff500 6px,#10ff00 8px,#00ff3c 10px,#75ff00 12px,#00ff32 14px,#c1ff00 16px,#a9ff00 18px,#00ff3b 20px,#00ff81 22px,#ffa700 24px,#fff100 26px,#b6ff00 28px,#00ffc2 30px,#00e8ff 32px,#0bff00 34px,#00ff0f 36px,#00ff5b 38px,#32ff00 40px,#00ffee 42px,#00eaff 44px,#00ff1c 46px,#00f4ff 48px,#00e2ff 50px,#58ff00 52px,#0012ff 54px,#00eeff 56px,#0062ff 58px,#00f2ff 60px,#00c9ff 62px,#0027ff 64px,#0000c9 66px,#000071 68px,#0000a5 70px,#000091 72px,#000029 74px,#0000f3 76px,#000000 77px)}.a51{background:linear-gradient(#feff00 0px,#01ff00 2px,#ffbc00 4px,#ffe900 6px,#ffe900 8px,#ff5200 10px,#fffa00 12px,#fff200 14px,#5bff00 16px,#fffb00 18px,#66ff00 20px,#e1ff00 22px,#bdff00 24px,#00ff54 26px,#8fff00 28px,#21ff00 30px,#6cff00 32px,#23ff00 34px,#16ff00 36px,#00ff29 38px,#2aff00 40px,#00ffd0 42px,#00aaff 44px,#fff900 46px,#39ff00 48px,#24ff00 50px,#00ff6c 52px,#00ff7d 54px,#00ceff 56px,#0aff00 58px,#00ff86 60px,#00c8ff 62px,#00ff41 64px,#00baff 66px,#000000 68px,#000096 70px,#0006ff 72px,#000007 74px,#000077 76px,#000001 77px)}.a52{background:linear-gradient(#00ff54 0px,#64ff00 2px,#00a7ff 4px,#00ff42 6px,#68ff00 8px,#fff000 10px,#00ffe2 12px,#00ff67 14px,#00a0ff 16px,#00fff9 18px,#49ff00 20px,#00ff0d 22px,#00ff66 24px,#70ff00 26px,#00ff23 28px,#45ff00 30px,#00bfff 32px,#00fffb 34px,#00fffd 36px,#c3ff00 38px,#00fff9 40px,#ffa400 42px,#1aff00 44px,#00ffb1 46px,#00ff14 48px,#00ff59 50px,#00ffc8 52px,#00d1ff 54px,#07ff00 56px,#00ff41 58px,#00f8ff 60px,#00ff03 62px,#00ff5e 64px,#005cff 66px,#002eff 68px,#00a6ff 70px,#00ff73 72px,#00ffdb 74px,#00c7ff 76px,#00e8ff 77px)}.a53{background:linear-gradient(#d8ff00 0px,#ff9300 2px,#ff8700 4px,#ff9300 6px,#ffbc00 8px,#e3ff00 10px,#b2ff00 12px,#45ff00 14px,#ffe000 16px,#ff6700 18px,#37ff00 20px,#fcff00 22px,#ffeb00 24px,#ff8300 26px,#ffa200 28px,#ffa000 30px,#deff00 32px,#00ff43 34px,#ff5a00 36px,#ffb200 38px,#7fff00 40px,#ffe000 42px,#a0ff00 44px,#ff9500 46px,#efff00 48px,#00ffa5 50px,#87ff00 52px,#48ff00 54px,#00ff7b 56px,#deff00 58px,#abff00 60px,#00ff0f 62px,#00ff0e 64px,#00ffe6 66px,#00ff78 68px,#00ffef 70px,#acff00 72px,#6bff00 74px,#97ff00 76px,#00a8ff 77px)}.a54{background:linear-gradient(#78ff00 0px,#00ff34 2px,#2dff00 4px,#00ff99 6px,#05ff00 8px,#00ff2e 10px,#6aff00 12px,#e2ff00 14px,#00ff86 16px,#00ff3c 18px,#00ffac 20px,#00ff56 22px,#e0ff00 24px,#9dff00 26px,#ffe700 28px,#00ff25 30px,#ffb300 32px,#13ff00 34px,#ff4100 36px,#14ff00 38px,#00ffe2 40px,#c0ff00 42px,#ff9b00 44px,#8bff00 46px,#00ff83 48px,#00ffd4 50px,#00ff6b 52px,#00f6ff 54px,#00ff04 56px,#00ff1f 58px,#005dff 60px,#00ffa6 62px,#00bdff 64px,#00aeff 66px,#00ffcf 68px,#00a8ff 70px,#007bff 72px,#00a0ff 74px,#0000f2 76px,#00ffdf 77px)}.a55{background:linear-gradient(#00f7ff 0px,#9bff00 2px,#c4ff00 4px,#96ff00 6px,#00ff88 8px,#00ffb9 10px,#beff00 12px,#00ff25 14px,#00f7ff 16px,#00ffa1 18px,#5aff00 20px,#07ff00 22px,#00ff05 24px,#00ff49 26px,#37ff00 28px,#00ff0c 30px,#00ff45 32px,#62ff00 34px,#00ff9d 36px,#00ff68 38px,#00ff82 40px,#00ff09 42px,#00ff65 44px,#00ff7c 46px,#00b9ff 48px,#00ff13 50px,#26ff00 52px,#26ff00 54px,#00ffb6 56px,#00ff78 58px,#00f0ff 60px,#00ffdb 62px,#00ff0d 64px,#00ff87 66px,#00abff 68px,#00ff4e 70px,#00faff 72px,#00ff52 74px,#0075ff 76px,#0011ff 77px)}.a56{background:linear-gradient(#ffe400 0px,#80ff00 2px,#ff9b00 4px,#ffe400 6px,#03ff00 8px,#e7ff00 10px,#ffcc00 12px,#ffbf00 14px,#ff4c00 16px,#ffd800 18px,#b4ff00 20px,#b3ff00 22px,#ff0800 24px,#e7ff00 26px,#79ff00 28px,#ffb400 30px,#00ff08 32px,#f4ff00 34px,#b2ff00 36px,#ffec00 38px,#e6ff00 40px,#6bff00 42px,#d9ff00 44px,#ffe500 46px,#d9ff00 48px,#15ff00 50px,#00ff1e 52px,#19ff00 54px,#fffb00 56px,#feff00 58px,#00ff74 60px,#00ff00 62px,#2cff00 64px,#00ff5d 66px,#ffcc00 68px,#0bff00 70px,#00ff79 72px,#00ff0d 74px,#99ff00 76px,#66ff00 77px)}.a57{background:linear-gradient(#32ff00 0px,#a3ff00 2px,#00ffc0 4px,#00ff11 6px,#95ff00 8px,#04ff00 10px,#bbff00 12px,#5cff00 14px,#61ff00 16px,#49ff00 18px,#fff400 20px,#00ff99 22px,#00ff1b 24px,#00ff00 26px,#00ff4d 28px,#00a5ff 30px,#9bff00 32px,#00ff08 34px,#00ff58 36px,#00feff 38px,#00ff57 40px,#00fff7 42px,#00ff91 44px,#84ff00 46px,#28ff00 48px,#3dff00 50px,#00ff24 52px,#00ffbf 54px,#00ff8d 56px,#00daff 58px,#49ff00 60px,#00ff30 62px,#0084ff 64px,#00b2ff 66px,#00ff9e 68px,#00ffec 70px,#00008d 72px,#0057ff 74px,#0000fd 76px,#00006a 77px)}.a58{background:linear-gradient(#cdff00 0px,#fff200 2px,#ffc900 4px,#ffe600 6px,#fff300 8px,#dfff00 10px,#b1ff00 12px,#fff800 14px,#ff6900 16px,#55ff00 18px,#ff7800 20px,#ff4700 22px,#ffaf00 24px,#56ff00 26px,#32ff00 28px,#3fff00 30px,#27ff00 32px,#c1ff00 34px,#b2ff00 36px,#ff5900 38px,#84ff00 40px,#fdff00 42px,#51ff00 44px,#91ff00 46px,#bbff00 48px,#88ff00 50px,#27ff00 52px,#b0ff00 54px,#94ff00 56px,#00ffbd 58px,#00ff2c 60px,#00ff74 62px,#40ff00 64px,#00ffc8 66px,#88ff00 68px,#ff5a00 70px,#00ffd9 72px,#00fcff 74px,#00e7ff 76px,#00ddff 77px)}.a59{background:linear-gradient(#ff3a00 0px,#ff3f3f 2px,#ff3232 4px,#ff4242 6px,#ff1d1d 8px,#ff4800 10px,#ff2222 12px,#ff0e0e 14px,#ff8100 16px,#ff8b8b 18px,#ff4f00 20px,#ff8888 22px,#ff0505 24px,#ff2828 26px,#ff3e3e 28px,#ff6b6b 30px,#ff3000 32px,#ff5a00 34px,#ff3300 36px,#ff3700 38px,#ff3434 40px,#ffaf00 42px,#ff1a00 44px,#ff3b00 46px,#ff9494 48px,#ff0c00 50px,#ff4500 52px,#ff2200 54px,#ff6600 56px,#ffbd00 58px,#ff1a1a 60px,#ff3b3b 62px,#ff1818 64px,#ff4848 66px,#ff7300 68px,#ff6c00 70px,#ff1b1b 72px,#ffa400 74px,#ff2e00 76px,#ff2d00 77px)}.a60{background:linear-gradient(#00d3ff 0px,#0022ff 2px,#00a0ff 4px,#00bbff 6px,#00afff 8px,#00beff 10px,#00ffb6 12px,#0053ff 14px,#00b8ff 16px,#0092ff 18px,#0000f3 20px,#0071ff 22px,#0094ff 24px,#0088ff 26px,#000082 28px,#00a8ff 30px,#0000d7 32px,#00009f 34px,#00e5ff 36px,#008dff 38px,#0000a1 40px,#000020 42px,#0060ff 44px,#0092ff 46px,#0061ff 48px,#00ffd6 50px,#0046ff 52px,#000097 54px,#00d5ff 56px,#002eff 58px,#0061ff 60px,#00ff92 62px,#00ffa3 64px,#002cff 66px,#000085 68px,#000083 70px,#000000 72px,#00005f 74px,#0012ff 76px,#0000c7 77px)}.a61{background:linear-gradient(#ff1f00 0px,#ffa000 2px,#ff0300 4px,#ff3b3b 6px,#ff6300 8px,#ff2323 10px,#ff1300 12px,#ff3f00 14px,#ff0909 16px,#ff1300 18px,#ff2d00 20px,#ff7e00 22px,#ff1c00 24px,#ff5200 26px,#ff1800 28px,#ff0100 30px,#ff1919 32px,#ff1e1e 34px,#ff5959 36px,#ff9300 38px,#ff3e00 40px,#ff2a2a 42px,#ff0808 44px,#ff3434 46px,#ff2e2e 48px,#ff7000 50px,#ff0606 52px,#ff6969 54px,#ff0909 56px,#ff5d00 58px,#ebff00 60px,#ff5800 62px,#ff5000 64px,#ff3400 66px,#ffc300 68px,#ff5d00 70px,#ff9a00 72px,#ff0700 74px,#ffbc00 76px,#ff1400 77px)}.a62{background:linear-gradient(#0018ff 0px,#00f2ff 2px,#009bff 4px,#0065ff 6px,#00003a 8px,#0095ff 10px,#000096 12px,#00ffd1 14px,#00ffca 16px,#00ffd3 18px,#000069 20px,#0000b3 22px,#00a3ff 24px,#0090ff 26px,#000039 28px,#0058ff 30px,#00ff84 32px,#000eff 34px,#000077 36px,#000bff 38px,#00ff63 40px,#000000 42px,#0087ff 44px,#003cff 46px,#0020ff 48px,#0066ff 50px,#00006b 52px,#0000d2 54px,#004eff 56px,#000093 58px,#00007a 60px,#00007d 62px,#0000e5 64px,#0098ff 66px,#00007f 68px,#000021 70px,#008eff 72px,#0000ee 74px,#0000fb 76px,#000000 77px)}.a63{background:linear-gradient(#60ff00 0px,#4fff00 2px,#00ebff 4px,#00ffa0 6px,#00dbff 8px,#00f4ff 10px,#00deff 12px,#00a6ff 14px,#0036ff 16px,#006eff 18px,#00ffcd 20px,#00a3ff 22px,#00b1ff 24px,#0033ff 26px,#0000d9 28px,#00d8ff 30px,#00daff 32px,#00beff 34px,#0081ff 36px,#009eff 38px,#0069ff 40px,#000042 42px,#0000d6 44px,#00008d 46px,#0000f6 48px,#0000a8 50px,#000052 52px,#00007e 54px,#00009c 56px,#0000b7 58px,#000000 60px,#00fff3 62px,#00d1ff 64px,#0000d4 66px,#000026 68px,#0000f3 70px,#00008b 72px,#0000f2 74px,#000000 76px,#000000 77px)}.a64{background:linear-gradient(#ffe100 0px,#ff6400 2px,#ffe200 4px,#ffb300 6px,#ff2020 8px,#ffad00 10px,#ffa900 12px,#ff1919 14px,#ff5f00 16px,#ff8c00 18px,#ffb500 20px,#ffd600 22px,#ffa700 24px,#ffc900 26px,#ff3300 28px,#61ff00 30px,#fff900 32px,#fcff00 34px,#ffe700 36px,#efff00 38px,#a7ff00 40px,#ffeb00 42px,#09ff00 44px,#ffc300 46px,#d1ff00 48px,#ffc600 50px,#6eff00 52px,#ff8000 54px,#a8ff00 56px,#00ff11 58px,#00ff06 60px,#80ff00 62px,#00ff7f 64px,#ffd200 66px,#1eff00 68px,#00f0ff 70px,#00ff57 72px,#00ffe9 74px,#00c8ff 76px,#00ff83 77px)}.a65{background:linear-gradient(#89ff00 0px,#71ff00 2px,#efff00 4px,#0092ff 6px,#92ff00 8px,#11ff00 10px,#7bff00 12px,#36ff00 14px,#00b5ff 16px,#41ff00 18px,#19ff00 20px,#99ff00 22px,#e3ff00 24px,#f1ff00 26px,#00ff97 28px,#ffba00 30px,#b0ff00 32px,#00ffbd 34px,#00ffd4 36px,#00ff04 38px,#f8ff00 40px,#00adff 42px,#bdff00 44px,#00ffbb 46px,#4bff00 48px,#00f5ff 50px,#59ff00 52px,#fdff00 54px,#00ffcc 56px,#00ffc3 58px,#00e1ff 60px,#0061ff 62px,#00c8ff 64px,#00ff3d 66px,#00ffef 68px,#00ff06 70px,#00ff3a 72px,#000071 74px,#004aff 76px,#0084ff 77px)}.a66{background:linear-gradient(#00ff3b 0px,#00ff9b 2px,#36ff00 4px,#00ff79 6px,#00ffec 8px,#00fbff 10px,#14ff00 12px,#00fff8 14px,#00ffea 16px,#00ff80 18px,#00ff98 20px,#00ff97 22px,#00ffbe 24px,#bbff00 26px,#008fff 28px,#00ffdf 30px,#00c5ff 32px,#00ffe6 34px,#39ff00 36px,#00ff97 38px,#009aff 40px,#0073ff 42px,#00007a 44px,#000fff 46px,#0089ff 48px,#00ffa1 50px,#0071ff 52px,#00ffc8 54px,#0009ff 56px,#0000a4 58px,#005bff 60px,#00a5ff 62px,#000000 64px,#000019 66px,#0000a5 68px,#0000b1 70px,#0000bb 72px,#0000a0 74px,#0000bf 76px,#0000ad 77px)}.a67{background:linear-gradient(#efff00 0px,#e0ff00 2px,#ffe700 4px,#ff6300 6px,#ff8900 8px,#ffa400 10px,#50ff00 12px,#ffaf00 14px,#ff3d00 16px,#ffe600 18px,#ff5300 20px,#ff3d00 22px,#ff6800 24px,#ff5900 26px,#ffc900 28px,#fffb00 30px,#ffb700 32px,#ff4600 34px,#ff7800 36px,#ff8c00 38px,#ff1800 40px,#95ff00 42px,#ffc500 44px,#ffff00 46px,#ff6400 48px,#ccff00 50px,#ff4b00 52px,#ff2800 54px,#ff1600 56px,#ff9400 58px,#ffc800 60px,#e5ff00 62px,#fffe00 64px,#ffdc00 66px,#ff2a00 68px,#ff0000 70px,#ffc400 72px,#ff0303 74px,#ffcd00 76px,#c2ff00 77px)}.a68{background:linear-gradient(#00f7ff 0px,#00beff 2px,#4cff00 4px,#00d4ff 6px,#0075ff 8px,#87ff00 10px,#00ffcd 12px,#00f1ff 14px,#00ff31 16px,#003aff 18px,#00f0ff 20px,#00d4ff 22px,#008cff 24px,#00f1ff 26px,#0000cb 28px,#00ffc7 30px,#00cbff 32px,#00d9ff 34px,#00ffea 36px,#00a5ff 38px,#00b1ff 40px,#0027ff 42px,#0008ff 44px,#0093ff 46px,#00b3ff 48px,#003fff 50px,#009aff 52px,#00b5ff 54px,#0008ff 56px,#000056 58px,#0077ff 60px,#006dff 62px,#003bff 64px,#0000cf 66px,#0000cb 68px,#0000fe 70px,#00dbff 72px,#000072 74px,#000073 76px,#000000 77px)}.a69{background:linear-gradient(#0009ff 0px,#0000fb 2px,#000087 4px,#0000f8 6px,#000052 8px,#00a6ff 10px,#00a7ff 12px,#00b4ff 14px,#007dff 16px,#0091ff 18px,#000000 20px,#0000df 22px,#00006b 24px,#000000 26px,#000022 28px,#00004a 30px,#0000f3 32px,#0028ff 34px,#002bff 36px,#000043 38px,#00e7ff 40px,#008aff 42px,#000000 44px,#00008a 46px,#0000c4 48px,#0000be 50px,#0083ff 52px,#0000fa 54px,#0000fb 56px,#00006e 58px,#0000a5 60px,#000082 62px,#0088ff 64px,#0000e3 66px,#0000c8 68px,#007bff 70px,#0000b9 72px,#0000d3 74px,#000000 76px,#00a0ff 77px)}.a70{background:linear-gradient(#ff8300 0px,#88ff00 2px,#49ff00 4px,#aaff00 6px,#fff300 8px,#c0ff00 10px,#ffa100 12px,#fffd00 14px,#75ff00 16px,#00ff15 18px,#00ff1c 20px,#00ff6a 22px,#00ff7f 24px,#00ff00 26px,#68ff00 28px,#69ff00 30px,#f2ff00 32px,#1cff00 34px,#44ff00 36px,#cbff00 38px,#97ff00 40px,#00ff95 42px,#1aff00 44px,#00ff5e 46px,#00ff3f 48px,#00aeff 50px,#00ff7e 52px,#24ff00 54px,#00ffd4 56px,#00c5ff 58px,#004cff 60px,#0000b2 62px,#00008f 64px,#0034ff 66px,#000028 68px,#000000 70px,#00deff 72px,#0000e5 74px,#003cff 76px,#0000b7 77px)}.a71{background:linear-gradient(#ff3200 0px,#aaff00 2px,#4eff00 4px,#8cff00 6px,#ffd800 8px,#ffcc00 10px,#ff9d00 12px,#ffd200 14px,#76ff00 16px,#e5ff00 18px,#ffe100 20px,#3eff00 22px,#4dff00 24px,#e1ff00 26px,#ff7e00 28px,#ff9300 30px,#fff900 32px,#d9ff00 34px,#96ff00 36px,#75ff00 38px,#ff9f00 40px,#fdff00 42px,#82ff00 44px,#ffbc00 46px,#4eff00 48px,#5eff00 50px,#ffce00 52px,#00ff83 54px,#4fff00 56px,#00ff3e 58px,#4eff00 60px,#ffae00 62px,#00ff8f 64px,#00ff4d 66px,#00ff34 68px,#00ff13 70px,#00ffff 72px,#00ff54 74px,#00c5ff 76px,#00ffc5 77px)}.a72{background:linear-gradient(#00f2ff 0px,#20ff00 2px,#48ff00 4px,#00ff6d 6px,#00ff9c 8px,#00ff9d 10px,#00ffc4 12px,#00ff38 14px,#ffd600 16px,#0bff00 18px,#d5ff00 20px,#00ff0d 22px,#00ff1f 24px,#ffa100 26px,#00ffcb 28px,#00a3ff 30px,#00ff06 32px,#52ff00 34px,#00ffc5 36px,#ffc200 38px,#48ff00 40px,#7dff00 42px,#00ff96 44px,#00ff36 46px,#00d4ff 48px,#5fff00 50px,#0000e3 52px,#00ffee 54px,#002aff 56px,#00d2ff 58px,#0000fb 60px,#00ff7d 62px,#0084ff 64px,#00008b 66px,#00cbff 68px,#000000 70px,#00c2ff 72px,#0001ff 74px,#00004e 76px,#000000 77px)}.a73{background:linear-gradient(#00ff80 0px,#00ff2f 2px,#00ff47 4px,#00ffab 6px,#00b3ff 8px,#00bcff 10px,#00f7ff 12px,#00ffe9 14px,#00ffa0 16px,#00ffb4 18px,#0091ff 20px,#00ff52 22px,#00c0ff 24px,#00ff96 26px,#00ffb4 28px,#00a3ff 30px,#00ff34 32px,#00efff 34px,#00c7ff 36px,#00ff2f 38px,#0096ff 40px,#00ffff 42px,#00e6ff 44px,#b3ff00 46px,#00ffa0 48px,#00d3ff 50px,#0043ff 52px,#00d8ff 54px,#00a7ff 56px,#0078ff 58px,#005eff 60px,#0048ff 62px,#00ffab 64px,#0040ff 66px,#0000c5 68px,#0079ff 70px,#0000dd 72px,#0020ff 74px,#0000a7 76px,#000088 77px)}.a74{background:linear-gradient(#ffc300 0px,#4cff00 2px,#ffdc00 4px,#00ff20 6px,#00ff62 8px,#00ff2b 10px,#b1ff00 12px,#bbff00 14px,#dbff00 16px,#d9ff00 18px,#06ff00 20px,#ffdd00 22px,#00ff6e 24px,#00ff0b 26px,#00ff08 28px,#00d6ff 30px,#bfff00 32px,#00ff31 34px,#00ffd0 36px,#00b4ff 38px,#00ff35 40px,#00fff3 42px,#12ff00 44px,#00ff46 46px,#00e6ff 48px,#00ff2d 50px,#00e5ff 52px,#00ff55 54px,#00d3ff 56px,#00fff4 58px,#00d1ff 60px,#0090ff 62px,#00ffab 64px,#000041 66px,#000eff 68px,#00f5ff 70px,#0043ff 72px,#000084 74px,#000027 76px,#00000a 77px)}.a75{background:linear-gradient(#ffd900 0px,#ffa600 2px,#ffd800 4px,#ffb300 6px,#ff4c00 8px,#ffcf00 10px,#fffa00 12px,#c0ff00 14px,#e6ff00 16px,#33ff00 18px,#e2ff00 20px,#ff0c0c 22px,#ffe600 24px,#cbff00 26px,#81ff00 28px,#00ff4a 30px,#79ff00 32px,#ff9900 34px,#ff9a00 36px,#ffac00 38px,#ffc700 40px,#f7ff00 42px,#fffc00 44px,#ff9800 46px,#5fff00 48px,#bcff00 50px,#f4ff00 52px,#ffc800 54px,#ffd300 56px,#ff3000 58px,#e0ff00 60px,#ff3300 62px,#ccff00 64px,#ff8900 66px,#8fff00 68px,#ffb100 70px,#ff9000 72px,#ff8e00 74px,#ffa900 76px,#ff9400 77px)}.a76{background:linear-gradient(#0010ff 0px,#0000a9 2px,#0000c7 4px,#0023ff 6px,#00c2ff 8px,#00008f 10px,#0005ff 12px,#000000 14px,#0053ff 16px,#000011 18px,#000000 20px,#0000f1 22px,#000000 24px,#0000ea 26px,#000000 28px,#000062 30px,#0016ff 32px,#0071ff 34px,#001fff 36px,#0000af 38px,#000000 40px,#0049ff 42px,#0000e7 44px,#000047 46px,#00d2ff 48px,#00005c 50px,#000000 52px,#000000 54px,#000000 56px,#00006d 58px,#0000ae 60px,#000000 62px,#00003f 64px,#000000 66px,#0004ff 68px,#00b2ff 70px,#002eff 72px,#000000 74px,#00d4ff 76px,#000064 77px)}.a77{background:linear-gradient(#fdff00 0px,#ff5b00 2px,#ffb700 4px,#ffce00 6px,#ff4141 8px,#ff9800 10px,#ff7373 12px,#ff7800 14px,#6aff00 16px,#ff6b6b 18px,#ffbe00 20px,#b2ff00 22px,#ffc000 24px,#ffba00 26px,#ff9a00 28px,#ff9f00 30px,#ffe500 32px,#ffe100 34px,#d2ff00 36px,#ffcf00 38px,#ff8100 40px,#ffd600 42px,#00ff16 44px,#adff00 46px,#ffe600 48px,#b5ff00 50px,#00ff31 52px,#00ff05 54px,#02ff00 56px,#00bbff 58px,#80ff00 60px,#93ff00 62px,#00ffed 64px,#00ddff 66px,#00a5ff 68px,#00eaff 70px,#003fff 72px,#00d4ff 74px,#0054ff 76px,#0018ff 77px)}.a78{background:linear-gradient(#006bff 0px,#0069ff 2px,#0099ff 4px,#0080ff 6px,#00b6ff 8px,#00ffc0 10px,#00006d 12px,#00d8ff 14px,#0000d8 16px,#00adff 18px,#00c4ff 20px,#00d1ff 22px,#008eff 24px,#0031ff 26px,#004cff 28px,#009fff 30px,#00a1ff 32px,#003bff 34px,#0087ff 36px,#00faff 38px,#0000f6 40px,#00c3ff 42px,#004eff 44px,#00ffc9 46px,#00006c 48px,#005eff 50px,#0090ff 52px,#0000d0 54px,#0000e0 56px,#0007ff 58px,#000097 60px,#00b8ff 62px,#003aff 64px,#0000a2 66px,#00004a 68px,#0000cc 70px,#00006a 72px,#000038 74px,#00007b 76px,#0000c0 77px)}.a79{background:linear-gradient(#000064 0px,#0073ff 2px,#0077ff 4px,#000000 6px,#00009c 8px,#002aff 10px,#002dff 12px,#0000ac 14px,#0084ff 16px,#0000ea 18px,#00fff0 20px,#0000f3 22px,#0000bd 24px,#0059ff 26px,#0000d5 28px,#0003ff 30px,#00f6ff 32px,#00008c 34px,#0000ba 36px,#0000ca 38px,#0000e2 40px,#00c1ff 42px,#00ffef 44px,#0000f6 46px,#0000bc 48px,#00deff 50px,#00ffca 52px,#0000a0 54px,#000074 56px,#000014 58px,#0012ff 60px,#005bff 62px,#00a8ff 64px,#000085 66px,#00e0ff 68px,#0000e5 70px,#000068 72px,#0006ff 74px,#00d7ff 76px,#0000e4 77px)}.a80{background:linear-gradient(#96ff00 0px,#88ff00 2px,#ffe800 4px,#39ff00 6px,#01ff00 8px,#c3ff00 10px,#2aff00 12px,#00ff6c 14px,#00ff25 16px,#00f5ff 18px,#00ff08 20px,#69ff00 22px,#00ff07 24px,#0073ff 26px,#00ff79 28px,#00ffa8 30px,#ffc100 32px,#18ff00 34px,#d8ff00 36px,#00ff23 38px,#00efff 40px,#00fffc 42px,#c1ff00 44px,#00ff5c 46px,#00ffbf 48px,#00ffc1 50px,#00b5ff 52px,#4dff00 54px,#00f0ff 56px,#00ff07 58px,#00ff84 60px,#0091ff 62px,#41ff00 64px,#00a9ff 66px,#0000f7 68px,#003aff 70px,#00ffa1 72px,#0000f0 74px,#00004f 76px,#0045ff 77px)}.a81{background:linear-gradient(#b4ff00 0px,#fff300 2px,#00ff9b 4px,#baff00 6px,#00ff7d 8px,#00ff98 10px,#00ff33 12px,#ffd600 14px,#00ff5e 16px,#00ffa2 18px,#2eff00 20px,#00ff00 22px,#1cff00 24px,#3bff00 26px,#00ffa0 28px,#96ff00 30px,#00dbff 32px,#00f6ff 34px,#00b7ff 36px,#00ff40 38px,#00ff78 40px,#00ffbf 42px,#00ff89 44px,#0069ff 46px,#00d1ff 48px,#00ffac 50px,#00ffa3 52px,#00d4ff 54px,#00faff 56px,#0043ff 58px,#0000d0 60px,#001eff 62px,#0045ff 64px,#0043ff 66px,#00007d 68px,#000091 70px,#00006e 72px,#0000b3 74px,#00009b 76px,#00007a 77px)}.a82{background:linear-gradient(#73ff00 0px,#ffd400 2px,#8eff00 4px,#9aff00 6px,#ffdb00 8px,#a4ff00 10px,#ffe300 12px,#00ff21 14px,#4bff00 16px,#3cff00 18px,#00ff24 20px,#00ff79 22px,#00ff1e 24px,#82ff00 26px,#45ff00 28px,#0082ff 30px,#09ff00 32px,#00ff40 34px,#00ff7c 36px,#00ff0c 38px,#00ff6f 40px,#00ff2d 42px,#00ff8e 44px,#82ff00 46px,#00ff6a 48px,#26ff00 50px,#00ffce 52px,#00ff50 54px,#4fff00 56px,#008aff 58px,#00ffac 60px,#00ff4c 62px,#00ffd7 64px,#00fff7 66px,#00ffce 68px,#00ffc2 70px,#0044ff 72px,#006aff 74px,#00c4ff 76px,#06ff00 77px)}.a83{background:linear-gradient(#00ff80 0px,#00f0ff 2px,#00fffc 4px,#003fff 6px,#00ff90 8px,#0000d5 10px,#0092ff 12px,#0000c1 14px,#0000ea 16px,#0000c2 18px,#0000e3 20px,#0097ff 22px,#0034ff 24px,#00ffc9 26px,#00001a 28px,#0009ff 30px,#008fff 32px,#00daff 34px,#009bff 36px,#0000f0 38px,#0021ff 40px,#002bff 42px,#006aff 44px,#00abff 46px,#006eff 48px,#000098 50px,#00b8ff 52px,#000091 54px,#000088 56px,#0000e6 58px,#00a5ff 60px,#009aff 62px,#0025ff 64px,#000098 66px,#000000 68px,#00b4ff 70px,#0051ff 72px,#000bff 74px,#0082ff 76px,#000063 77px)}.a84{background:linear-gradient(#83ff00 0px,#8eff00 2px,#2dff00 4px,#7dff00 6px,#95ff00 8px,#00ff07 10px,#00ff29 12px,#7bff00 14px,#00ff5c 16px,#6fff00 18px,#78ff00 20px,#00ff20 22px,#00ff44 24px,#00ff3a 26px,#37ff00 28px,#54ff00 30px,#00ff03 32px,#45ff00 34px,#00ffce 36px,#00ff44 38px,#00ff36 40px,#00ffde 42px,#00ff78 44px,#00ff3c 46px,#00ff8e 48px,#f0ff00 50px,#60ff00 52px,#00ffdf 54px,#00d6ff 56px,#00ffb0 58px,#00ffc8 60px,#009dff 62px,#00b0ff 64px,#00ffd2 66px,#00ffb6 68px,#00aeff 70px,#007aff 72px,#00b7ff 74px,#0023ff 76px,#0036ff 77px)}.a85{background:linear-gradient(#00ff5f 0px,#00ff35 2px,#04ff00 4px,#79ff00 6px,#00d6ff 8px,#00ff87 10px,#00ff88 12px,#00fffd 14px,#00ffde 16px,#00ff6b 18px,#00ff50 20px,#00f3ff 22px,#1cff00 24px,#00ff05 26px,#43ff00 28px,#00ff3e 30px,#21ff00 32px,#00ffa3 34px,#00ff9c 36px,#00ffae 38px,#ffd500 40px,#005bff 42px,#00ffe6 44px,#00ffb2 46px,#003bff 48px,#00ff9d 50px,#00ffa3 52px,#49ff00 54px,#00f4ff 56px,#00bfff 58px,#00ffc0 60px,#00ff89 62px,#00ff4c 64px,#0016ff 66px,#00b6ff 68px,#00a6ff 70px,#00f0ff 72px,#00a3ff 74px,#00fff0 76px,#0075ff 77px)}.a86{background:linear-gradient(#c7ff00 0px,#0bff00 2px,#79ff00 4px,#3eff00 6px,#e5ff00 8px,#a4ff00 10px,#b7ff00 12px,#00ffe0 14px,#00ff9e 16px,#ffdd00 18px,#00ff43 20px,#92ff00 22px,#00ff46 24px,#07ff00 26px,#00ff07 28px,#36ff00 30px,#01ff00 32px,#6aff00 34px,#24ff00 36px,#4bff00 38px,#f3ff00 40px,#00ffa9 42px,#4aff00 44px,#00ffd7 46px,#00ff03 48px,#9cff00 50px,#0062ff 52px,#00d0ff 54px,#00ff96 56px,#0001ff 58px,#00ff4e 60px,#0046ff 62px,#00b5ff 64px,#00e9ff 66px,#0000c7 68px,#00001c 70px,#000092 72px,#000000 74px,#000098 76px,#000037 77px)}.a87{background:linear-gradient(#afff00 0px,#00ff01 2px,#00ff24 4px,#24ff00 6px,#2eff00 8px,#ffd100 10px,#82ff00 12px,#2fff00 14px,#ffc900 16px,#02ff00 18px,#00ff04 20px,#49ff00 22px,#02ff00 24px,#00c9ff 26px,#05ff00 28px,#00ff15 30px,#00ff08 32px,#00a2ff 34px,#0dff00 36px,#00ff95 38px,#8eff00 40px,#00bbff 42px,#0088ff 44px,#00ffe6 46px,#00ffc9 48px,#002aff 50px,#00efff 52px,#00ff11 54px,#00fffc 56px,#000095 58px,#001cff 60px,#000bff 62px,#005bff 64px,#0000ec 66px,#0000e0 68px,#0011ff 70px,#0000cd 72px,#0000a6 74px,#000046 76px,#000033 77px)}.a88{background:linear-gradient(#ffac00 0px,#88ff00 2px,#fff700 4px,#c4ff00 6px,#00ff0a 8px,#edff00 10px,#00ff39 12px,#6bff00 14px,#b7ff00 16px,#ffed00 18px,#ffdc00 20px,#70ff00 22px,#00ff80 24px,#f1ff00 26px,#fff300 28px,#aaff00 30px,#c3ff00 32px,#80ff00 34px,#ffc200 36px,#00ff2f 38px,#ff7200 40px,#fff400 42px,#ffd200 44px,#ffc200 46px,#aeff00 48px,#caff00 50px,#0aff00 52px,#00ff0e 54px,#00ff11 56px,#00a1ff 58px,#fffe00 60px,#e8ff00 62px,#24ff00 64px,#00ff58 66px,#00ff10 68px,#daff00 70px,#b4ff00 72px,#00ff47 74px,#71ff00 76px,#52ff00 77px)}.a89{background:linear-gradient(#00ff76 0px,#00ff41 2px,#03ff00 4px,#3fff00 6px,#4bff00 8px,#0bff00 10px,#00ff06 12px,#c6ff00 14px,#f4ff00 16px,#00ff21 18px,#71ff00 20px,#f6ff00 22px,#8fff00 24px,#d3ff00 26px,#00ff52 28px,#ffed00 30px,#59ff00 32px,#00ff7f 34px,#8eff00 36px,#00ff70 38px,#00ff44 40px,#09ff00 42px,#5dff00 44px,#00ffd7 46px,#6bff00 48px,#42ff00 50px,#00ffba 52px,#01ff00 54px,#0016ff 56px,#00e8ff 58px,#00ffaf 60px,#00ffc6 62px,#00c6ff 64px,#00d1ff 66px,#00004e 68px,#0094ff 70px,#0087ff 72px,#0000c4 74px,#000059 76px,#000041 77px)}.t0{background:linear-gradient(90deg,transparent 0px 2px,#0000b5 2px 3px,#0000cf 3px 4px,#0000ca 4px 5px,#0000df 5px 6px,transparent 6px 10px,#0000da 10px 11px,transparent 11px 15px,#004cff 15px 16px,transparent 16px 19px,#0000d6 19px 20px,#006cff 20px 21px,#0089ff 21px 22px,#003dff 22px 23px,transparent 23px 24px,#006fff 24px 25px,transparent 25px 26px,#0000d4 26px 27px,#0000df 27px 28px,transparent 28px 29px,#0000a4 29px 30px,#004bff 30px 31px,transparent 31px 32px,#00006f 32px 33px,#0000f4 33px 34px,#000087 34px 35px,#000078 35px 36px,transparent 36px 40px,#0000aa 40px 41px,#005bff 41px 42px,transparent 42px 43px,#0000ee 43px 44px,#0032ff 44px 45px,transparent 45px 54px,#0000aa 54px 55px,#0026ff 55px 56px,#000086 56px 57px,#0000f5 57px 58px,transparent 58px 59px,#00008d 59px 60px,#0000ef 60px 61px,#000083 61px 62px,transparent 62px 64px,#0071ff 64px 65px,#004fff 65px 66px,#0000f7 66px 67px,#007bff 67px 68px,transparent 68px 70px,#000097 70px 71px,transparent 71px 75px,#00009a 75px 76px,#002bff 76px 77px,transparent 77px 82px,#004aff 82px 83px,#000090 83px 84px,#000079 84px 85px,#0034ff 85px 86px,transparent 86px 88px,#0083ff 88px 89px,#0080ff 89px 90px,transparent 90px 94px,#0036ff 94px 95px,#004bff 95px 96px,#0000c6 96px 97px,#0085ff 97px 98px,transparent 98px 101px) 0 0/101px 1px repeat-x}.t1{background:linear-gradient(90deg,transparent 0px 5px,#0000b4 5px 6px,#0000ca 6px 7px,#006fff 7px 8px,#0010ff 8px 9px,transparent 9px 12px,#0000f5 12px 13px,transparent 13px 15px,#000bff 15px 16px,#006bff 16px 17px,#0064ff 17px 18px,transparent 18px 25px,#00007c 25px 26px,#0000c0 26px 27px,#0000c6 27px 28px,#000091 28px 29px,transparent 29px 37px,#0067ff 37px 38px,#0000eb 38px 39px,#000084 39px 40px,#0000df 40px 41px,transparent 41px 42px,#0000f3 42px 43px,#008dff 43px 44px,transparent 44px 46px,#000081 46px 47px,#0000d7 47px 48px,transparent 48px 50px,#00008a 50px 51px,#008bff 51px 52px,transparent 52px 53px,#0043ff 53px 54px,#000dff 54px 55px,transparent 55px 60px,#000081 60px 61px,#000076 61px 62px,transparent 62px 63px,#0034ff 63px 64px,#00009b 64px 65px,#00009c 65px 66px,transparent 66px 68px,#0085ff 68px 69px,transparent 69px 72px,#0029ff 72px 73px,transparent 73px 77px,#000093 77px 78px,#0057ff 78px 79px,#0063ff 79px 80px,transparent 80px 82px,#0000be 82px 83px,#0054ff 83px 84px,#00009c 84px 85px,#008bff 85px 86px,transparent 86px 87px,#0031ff 87px 88px,#0025ff 88px 89px,#0038ff 89px 90px,#00007b 90px 91px,transparent 91px 92px,#0030ff 92px 93px,#001eff 93px 94px,#0000ad 94px 95px,#006eff 95px 96px,transparent 96px 101px) 0 0/101px 1px repeat-x}.t2{background:linear-gradient(90deg,transparent 0px 5px,#0000df 5px 6px,#005aff 6px 7px,#004bff 7px 8px,transparent 8px 11px,#0014ff 11px 12px,#0004ff 12px 13px,#0007ff 13px 14px,#0015ff 14px 15px,transparent 15px 25px,#0067ff 25px 26px,#007cff 26px 27px,transparent 27px 31px,#0073ff 31px 32px,transparent 32px 34px,#0010ff 34px 35px,#0000cf 35px 36px,transparent 36px 37px,#0071ff 37px 38px,#000095 38px 39px,#0067ff 39px 40px,transparent 40px 50px,#0000b2 50px 51px,#001aff 51px 52px,#0020ff 52px 53px,transparent 53px 55px,#0044ff 55px 56px,#0062ff 56px 57px,transparent 57px 61px,#007aff 61px 62px,transparent 62px 63px,#0078ff 63px 64px,transparent 64px 65px,#0000e4 65px 66px,#0026ff 66px 67px,#004cff 67px 68px,#0054ff 68px 69px,transparent 69px 72px,#001aff 72px 73px,#0000f8 73px 74px,#0030ff 74px 75px,transparent 75px 79px,#0000bc 79px 80px,#0000a2 80px 81px,#0000df 81px 82px,#0000c5 82px 83px,transparent 83px 85px,#0000cd 85px 86px,transparent 86px 92px,#003cff 92px 93px,transparent 93px 95px,#0000ac 95px 96px,#0001ff 96px 97px,transparent 97px 101px) 0 0/101px 1px repeat-x}.t3{background:linear-gradient(90deg,transparent 0px 7px,#0043ff 7px 8px,#004eff 8px 9px,#007fff 9px 10px,transparent 10px 13px,#0016ff 13px 14px,transparent 14px 15px,#003eff 15px 16px,#000090 16px 17px,#0013ff 17px 18px,transparent 18px 20px,#0070ff 20px 21px,#0000a7 21px 22px,#0000df 22px 23px,#006aff 23px 24px,transparent 24px 32px,#005eff 32px 33px,#000089 33px 34px,transparent 34px 35px,#005fff 35px 36px,transparent 36px 39px,#0007ff 39px 40px,#0000cd 40px 41px,#00006f 41px 42px,#0000ba 42px 43px,transparent 43px 45px,#0000e7 45px 46px,transparent 46px 47px,#0000ff 47px 48px,#005cff 48px 49px,#005cff 49px 50px,transparent 50px 51px,#0000b6 51px 52px,transparent 52px 54px,#0000e8 54px 55px,#0000da 55px 56px,#0048ff 56px 57px,#004bff 57px 58px,transparent 58px 61px,#0000f8 61px 62px,#0045ff 62px 63px,transparent 63px 65px,#000073 65px 66px,transparent 66px 72px,#0000a7 72px 73px,transparent 73px 74px,#008eff 74px 75px,#000097 75px 76px,#0059ff 76px 77px,transparent 77px 78px,#000085 78px 79px,#0000df 79px 80px,#003eff 80px 81px,transparent 81px 87px,#0000dc 87px 88px,#0000c8 88px 89px,#0000bb 89px 90px,#000083 90px 91px,transparent 91px 95px,#008dff 95px 96px,transparent 96px 97px,#005eff 97px 98px,#000074 98px 99px,transparent 99px 101px) 0 0/101px 1px repeat-x}.t4{background:linear-gradient(90deg,transparent 0px 3px,#0000e6 3px 4px,#000072 4px 5px,transparent 5px 7px,#0009ff 7px 8px,#0000b2 8px 9px,transparent 9px 10px,#0077ff 10px 11px,#0000d9 11px 12px,transparent 12px 13px,#0085ff 13px 14px,#0060ff 14px 15px,#0000f2 15px 16px,transparent 16px 17px,#00007f 17px 18px,#0078ff 18px 19px,#0000e8 19px 20px,transparent 20px 22px,#0018ff 22px 23px,#0060ff 23px 24px,transparent 24px 28px,#0085ff 28px 29px,transparent 29px 30px,#0038ff 30px 31px,#0000b1 31px 32px,#0000c4 32px 33px,#0000ea 33px 34px,transparent 34px 41px,#0083ff 41px 42px,#0000cd 42px 43px,transparent 43px 47px,#0030ff 47px 48px,transparent 48px 49px,#0087ff 49px 50px,transparent 50px 52px,#0000dc 52px 53px,#004aff 53px 54px,transparent 54px 55px,#0036ff 55px 56px,transparent 56px 57px,#0000d0 57px 58px,#0026ff 58px 59px,#00008b 59px 60px,transparent 60px 61px,#0068ff 61px 62px,transparent 62px 69px,#0060ff 69px 70px,#0000f6 70px 71px,#00007e 71px 72px,#000088 72px 73px,transparent 73px 76px,#0038ff 76px 77px,transparent 77px 78px,#0056ff 78px 79px,#0003ff 79px 80px,#0003ff 80px 81px,transparent 81px 83px,#0000ac 83px 84px,#0042ff 84px 85px,#00008a 85px 86px,transparent 86px 89px,#00009c 89px 90px,#0000ed 90px 91px,transparent 91px 92px,#0000e1 92px 93px,#0059ff 93px 94px,#0000a9 94px 95px,transparent 95px 101px) 0 0/101px 1px repeat-x}.t5{background:linear-gradient(90deg,transparent 0px 6px,#00009a 6px 7px,#0000b7 7px 8px,#0088ff 8px 9px,#0000c1 9px 10px,transparent 10px 14px,#0000a5 14px 15px,transparent 15px 16px,#0070ff 16px 17px,#0000c3 17px 18px,#0000d0 18px 19px,#0077ff 19px 20px,transparent 20px 22px,#0000fa 22px 23px,#0070ff 23px 24px,#0073ff 24px 25px,#0000b3 25px 26px,transparent 26px 30px,#0063ff 30px 31px,#0063ff 31px 32px,#006bff 32px 33px,#0000e3 33px 34px,transparent 34px 40px,#007fff 40px 41px,#0008ff 41px 42px,transparent 42px 43px,#0021ff 43px 44px,#0000ca 44px 45px,#00008f 45px 46px,transparent 46px 47px,#0000da 47px 48px,#00007b 48px 49px,#0068ff 49px 50px,#00008c 50px 51px,transparent 51px 53px,#0069ff 53px 54px,#0086ff 54px 55px,#001bff 55px 56px,transparent 56px 58px,#0000a6 58px 59px,#0000fc 59px 60px,#0000f4 60px 61px,#000080 61px 62px,transparent 62px 63px,#004bff 63px 64px,#00007d 64px 65px,transparent 65px 68px,#0000a2 68px 69px,#0000cc 69px 70px,#0046ff 70px 71px,transparent 71px 74px,#0000af 74px 75px,transparent 75px 76px,#0021ff 76px 77px,#0000e5 77px 78px,transparent 78px 82px,#006fff 82px 83px,#007aff 83px 84px,#000081 84px 85px,transparent 85px 86px,#000077 86px 87px,#0000a8 87px 88px,transparent 88px 89px,#001bff 89px 90px,transparent 90px 92px,#0041ff 92px 93px,transparent 93px 94px,#00007d 94px 95px,#006fff 95px 96px,#0000f3 96px 97px,#00009c 97px 98px,transparent 98px 100px,#0082ff 100px 101px) 0 0/101px 1px repeat-x}.t6{background:linear-gradient(90deg,transparent 0px 14px,#0000be 14px 15px,transparent 15px 20px,#0004ff 20px 21px,#0049ff 21px 22px,#00beff 22px 23px,transparent 23px 30px,#00d3ff 30px 31px,#00a5ff 31px 32px,#0000c1 32px 33px,#00cdff 33px 34px,transparent 34px 35px,#0067ff 35px 36px,#00c5ff 36px 37px,#0061ff 37px 38px,transparent 38px 41px,#00b7ff 41px 42px,transparent 42px 46px,#006cff 46px 47px,#0000f4 47px 48px,#004dff 48px 49px,#0083ff 49px 50px,transparent 50px 51px,#0067ff 51px 52px,#0078ff 52px 53px,transparent 53px 65px,#0065ff 65px 66px,transparent 66px 69px,#00cbff 69px 70px,#00e3ff 70px 71px,#0000a9 71px 72px,#0004ff 72px 73px,transparent 73px 76px,#0029ff 76px 77px,transparent 77px 96px,#0000e5 96px 97px,transparent 97px 98px,#0071ff 98px 99px,#0000f2 99px 100px,transparent 100px 101px) 0 0/101px 1px repeat-x}.t7{background:linear-gradient(90deg,transparent 0px 2px,#00b3ff 2px 3px,#0000e0 3px 4px,#0000d5 4px 5px,#0057ff 5px 6px,transparent 6px 7px,#00fbff 7px 8px,#0000ff 8px 9px,#00afff 9px 10px,#0059ff 10px 11px,transparent 11px 17px,#0000c0 17px 18px,#0056ff 18px 19px,#0000eb 19px 20px,transparent 20px 42px,#0010ff 42px 43px,#0060ff 43px 44px,transparent 44px 52px,#00f3ff 52px 53px,#0070ff 53px 54px,#00f2ff 54px 55px,#0084ff 55px 56px,transparent 56px 61px,#004dff 61px 62px,#0000e3 62px 63px,transparent 63px 64px,#0073ff 64px 65px,#0000d6 65px 66px,#0000bd 66px 67px,transparent 67px 70px,#0011ff 70px 71px,#00d0ff 71px 72px,#0083ff 72px 73px,#0015ff 73px 74px,transparent 74px 77px,#0034ff 77px 78px,#00deff 78px 79px,transparent 79px 88px,#0000ad 88px 89px,#0000c6 89px 90px,#00cdff 90px 91px,#009aff 91px 92px,transparent 92px 94px,#008dff 94px 95px,#0000c8 95px 96px,#000eff 96px 97px,#00bcff 97px 98px,transparent 98px 100px,#00aeff 100px 101px) 0 0/101px 1px repeat-x}.t8{background:linear-gradient(90deg,transparent 0px 16px,#0085ff 16px 17px,#0007ff 17px 18px,transparent 18px 30px,#0000dc 30px 31px,#0002ff 31px 32px,#00fbff 32px 33px,#00f0ff 33px 34px,transparent 34px 40px,#0074ff 40px 41px,transparent 41px 46px,#0000de 46px 47px,#00faff 47px 48px,transparent 48px 51px,#0007ff 51px 52px,#00e0ff 52px 53px,transparent 53px 63px,#0000b6 63px 64px,#0070ff 64px 65px,#0000cd 65px 66px,#0036ff 66px 67px,transparent 67px 72px,#0064ff 72px 73px,#0056ff 73px 74px,transparent 74px 78px,#0033ff 78px 79px,#009fff 79px 80px,#0031ff 80px 81px,#00cdff 81px 82px,transparent 82px 98px,#008aff 98px 99px,#0039ff 99px 100px,#0073ff 100px 101px) 0 0/101px 1px repeat-x}.t9{background:linear-gradient(90deg,transparent 0px 37px,#000099 37px 38px,transparent 38px 44px,#0000da 44px 45px,#001cff 45px 46px,#0053ff 46px 47px,#0000e8 47px 48px,transparent 48px 67px,#00e7ff 67px 68px,#002bff 68px 69px,transparent 69px 73px,#00d4ff 73px 74px,#00f0ff 74px 75px,#0000da 75px 76px,#00d8ff 76px 77px,transparent 77px 78px,#005eff 78px 79px,#0000ae 79px 80px,#0000f2 80px 81px,#002dff 81px 82px,transparent 82px 84px,#000094 84px 85px,#00a1ff 85px 86px,transparent 86px 91px,#002aff 91px 92px,transparent 92px 99px,#0086ff 99px 100px,#00bdff 100px 101px) 0 0/101px 1px repeat-x}.t10{background:linear-gradient(90deg,transparent 0px 9px,#0092ff 9px 10px,#00a0ff 10px 11px,transparent 11px 12px,#0007ff 12px 13px,#00a1ff 13px 14px,transparent 14px 28px,#00beff 28px 29px,#0000ab 29px 30px,#0049ff 30px 31px,#0000fd 31px 32px,transparent 32px 34px,#005dff 34px 35px,transparent 35px 39px,#0076ff 39px 40px,#0019ff 40px 41px,#00c4ff 41px 42px,transparent 42px 43px,#0022ff 43px 44px,transparent 44px 51px,#003fff 51px 52px,transparent 52px 60px,#00009c 60px 61px,#00faff 61px 62px,#0034ff 62px 63px,transparent 63px 70px,#0094ff 70px 71px,#00e2ff 71px 72px,#00009b 72px 73px,#0000e2 73px 74px,transparent 74px 77px,#0049ff 77px 78px,#0011ff 78px 79px,#0000cd 79px 80px,#0044ff 80px 81px,transparent 81px 88px,#0004ff 88px 89px,#0022ff 89px 90px,#00fdff 90px 91px,#0087ff 91px 92px,transparent 92px 97px,#00bbff 97px 98px,#0005ff 98px 99px,#0012ff 99px 100px,#00aeff 100px 101px) 0 0/101px 1px repeat-x}.t11{background:linear-gradient(90deg,transparent 0px 2px,#0068ff 2px 3px,transparent 3px 4px,#0098ff 4px 5px,#00f6ff 5px 6px,#00c1ff 6px 7px,transparent 7px 13px,#00c8ff 13px 14px,#0000f8 14px 15px,transparent 15px 22px,#0000a6 22px 23px,transparent 23px 27px,#0059ff 27px 28px,#0040ff 28px 29px,#009bff 29px 30px,#0000c3 30px 31px,transparent 31px 32px,#0000c9 32px 33px,#00a2ff 33px 34px,#0000a3 34px 35px,transparent 35px 43px,#0000e6 43px 44px,transparent 44px 52px,#00afff 52px 53px,#0070ff 53px 54px,#0000dc 54px 55px,transparent 55px 58px,#003eff 58px 59px,#00c1ff 59px 60px,#003aff 60px 61px,#0025ff 61px 62px,transparent 62px 67px,#004cff 67px 68px,#00d4ff 68px 69px,#0000a4 69px 70px,#00edff 70px 71px,transparent 71px 72px,#0026ff 72px 73px,#001bff 73px 74px,transparent 74px 78px,#00c3ff 78px 79px,#00c4ff 79px 80px,#0069ff 80px 81px,#0093ff 81px 82px,transparent 82px 83px,#00c2ff 83px 84px,#00f4ff 84px 85px,transparent 85px 94px,#00d8ff 94px 95px,#0035ff 95px 96px,#000096 96px 97px,transparent 97px 101px) 0 0/101px 1px repeat-x}.c0{background:linear-gradient(#ffc000 0px,#fff200 2px,#ff9500 4px,#ffce00 6px,#ffdf00 8px,#beff00 10px,#ffbc00 12px,#ff6a00 14px,#ffab00 16px,#ff3030 18px,#ffc300 20px,#ffec00 22px,#ffe500 24px,#ff7a00 26px,#ff5f00 28px,#ff9100 30px,#ffaa00 32px,#d3ff00 34px,#e7ff00 36px,#ffd500 38px,#ffaa00 40px,#ffea00 42px,#3eff00 44px,#ccff00 46px,#fbff00 48px,#ff8100 50px,#e1ff00 52px,#ff9a00 54px,#ff6300 56px,#e9ff00 58px,#ff6400 60px,#ffd900 62px,#ffc000 64px,#ff6500 66px,#ffef00 68px,#ffb300 70px,#ffb500 72px,#ffca00 74px,#ffa500 76px,#ffd400 78px,#aaff00 80px,#ffd300 82px,#97ff00 84px,#ffc000 86px,#ffb600 88px,#aaff00 90px,#86ff00 92px,#fcff00 94px,#92ff00 96px,#5eff00 98px,#81ff00 100px,#a0ff00 102px,#bdff00 104px,#4fff00 106px,#5bff00 108px,#33ff00 110px,#3cff00 112px,#41ff00 114px,#62ff00 116px,#2eff00 118px,#2cff00 120px,#0fff00 122px,#26ff00 124px,#0dff00 126px,#1eff00 128px,#00ff1e 130px,#00ff19 132px,#00ff13 134px,#00ff25 136px,#00ff28 138px,#00ff33 140px)}.c1{background:linear-gradient(#00ff07 0px,#00ff32 2px,#5bff00 4px,#52ff00 6px,#00ff0f 8px,#00ff1b 10px,#00ff34 12px,#00ffa3 14px,#4eff00 16px,#03ff00 18px,#3eff00 20px,#00ff02 22px,#00ff3d 24px,#6bff00 26px,#00ff3b 28px,#0001ff 30px,#00ff16 32px,#00ff49 34px,#00e3ff 36px,#00ffb3 38px,#00e2ff 40px,#00c9ff 42px,#00ff8c 44px,#00ffd4 46px,#00e4ff 48px,#00d8ff 50px,#0074ff 52px,#0060ff 54px,#00ff72 56px,#00daff 58px,#00006d 60px,#0000de 62px,#000044 64px,#00001b 66px,#0000fa 68px,#00c5ff 70px,#000000 72px,#000072 74px,#00005e 76px,#000057 78px,#00005f 80px,#0000c4 82px,#00002c 84px,#000000 86px,#0000de 88px,#000028 90px,#000000 92px,#00008d 94px,#000051 96px,#00006f 98px,#000026 100px,#00001b 102px,#000029 104px,#000025 106px,#00005d 108px,#000024 110px,#00001c 112px,#000010 114px,#000014 116px,#000005 118px,#000044 120px,#000012 122px,#00001d 124px,#000017 126px,#000034 128px,#000030 130px,#000013 132px,#00001c 134px,#000000 136px,#000000 138px,#00000d 140px)}.c2{background:linear-gradient(#99ff00 0px,#00ff5b 2px,#00ff46 4px,#00ff78 6px,#bdff00 8px,#00ff56 10px,#d6ff00 12px,#dcff00 14px,#00ff6e 16px,#00f9ff 18px,#75ff00 20px,#00ff19 22px,#00ffa8 24px,#00e8ff 26px,#00ff53 28px,#c7ff00 30px,#00b2ff 32px,#00ffcf 34px,#00ffbb 36px,#00fdff 38px,#00ff00 40px,#00ffc3 42px,#00ffa1 44px,#00ffcb 46px,#8cff00 48px,#00fff0 50px,#00ff8d 52px,#00fff6 54px,#00ff0c 56px,#00fff3 58px,#00b8ff 60px,#00daff 62px,#00a1ff 64px,#0009ff 66px,#0092ff 68px,#00ffdc 70px,#0073ff 72px,#0086ff 74px,#00c6ff 76px,#00ccff 78px,#00edff 80px,#001cff 82px,#00ecff 84px,#006cff 86px,#008fff 88px,#00b8ff 90px,#004bff 92px,#001eff 94px,#0049ff 96px,#0007ff 98px,#0053ff 100px,#0000be 102px,#0000ec 104px,#0000c1 106px,#0000db 108px,#0000df 110px,#0000ea 112px,#000097 114px,#000074 116px,#000078 118px,#00004b 120px,#000037 122px,#000054 124px,#000052 126px,#00004e 128px,#00000c 130px,#000003 132px,#000000 134px,#00000b 136px,#00001e 138px,#000000 140px)}.c3{background:linear-gradient(#0dff00 0px,#00ff8f 2px,#00ff5f 4px,#03ff00 6px,#19ff00 8px,#00ff51 10px,#76ff00 12px,#00ff7d 14px,#00ff6b 16px,#00ff55 18px,#00ffac 20px,#0022ff 22px,#00ff9a 24px,#07ff00 26px,#00ff1d 28px,#0081ff 30px,#00ffd5 32px,#00ffe0 34px,#00ffb0 36px,#00ff55 38px,#00bbff 40px,#0000d8 42px,#00c7ff 44px,#001eff 46px,#0095ff 48px,#000054 50px,#0000eb 52px,#004fff 54px,#0082ff 56px,#0000eb 58px,#0000a9 60px,#000000 62px,#00003b 64px,#0013ff 66px,#000046 68px,#0000de 70px,#0000a7 72px,#00006f 74px,#000087 76px,#0000a1 78px,#000081 80px,#004fff 82px,#000076 84px,#000012 86px,#00001f 88px,#000027 90px,#000073 92px,#00003f 94px,#00002f 96px,#000009 98px,#000000 100px,#000000 102px,#00003c 104px,#000000 106px,#000003 108px,#000013 110px,#000000 112px,#000040 114px,#00002a 116px,#00002f 118px,#00000e 120px,#000027 122px,#000024 124px,#000012 126px,#00001a 128px,#000003 130px,#00001d 132px,#000000 134px,#000000 136px,#000018 138px,#000009 140px)}.c4{background:linear-gradient(#a6ff00 0px,#71ff00 2px,#9cff00 4px,#00ff32 6px,#e6ff00 8px,#04ff00 10px,#ffd100 12px,#a7ff00 14px,#00ff35 16px,#27ff00 18px,#b5ff00 20px,#ffee00 22px,#e0ff00 24px,#00ff15 26px,#a9ff00 28px,#a8ff00 30px,#0cff00 32px,#daff00 34px,#00ff3f 36px,#00ff40 38px,#8eff00 40px,#00ff29 42px,#bbff00 44px,#ffd500 46px,#00ff23 48px,#dbff00 50px,#00ff3f 52px,#00ff90 54px,#00fff6 56px,#b2ff00 58px,#00ff81 60px,#00ff44 62px,#00ffe2 64px,#00ff17 66px,#00ff68 68px,#00ff08 70px,#00ff43 72px,#00ff03 74px,#00ffe0 76px,#00ff38 78px,#00ffd0 80px,#00ff32 82px,#02ff00 84px,#00feff 86px,#00ffe9 88px,#00ff58 90px,#00ff79 92px,#00ffa5 94px,#00ffa4 96px,#00ffeb 98px,#00ff86 100px,#00f4ff 102px,#00ffed 104px,#00ffc4 106px,#00e8ff 108px,#00d6ff 110px,#00ffc6 112px,#00d6ff 114px,#00d4ff 116px,#00f2ff 118px,#00b7ff 120px,#00b2ff 122px,#00c1ff 124px,#00aeff 126px,#008fff 128px,#008eff 130px,#0095ff 132px,#009fff 134px,#007eff 136px,#007bff 138px,#0070ff 140px)}.c5{background:linear-gradient(#000dff 0px,#000021 2px,#000054 4px,#000000 6px,#000001 8px,#0058ff 10px,#0017ff 12px,#001eff 14px,#000bff 16px,#000004 18px,#000000 20px,#0092ff 22px,#0027ff 24px,#000084 26px,#000099 28px,#0031ff 30px,#0000cd 32px,#00b1ff 34px,#0003ff 36px,#0000c9 38px,#0000d4 40px,#0012ff 42px,#00001c 44px,#000053 46px,#00008a 48px,#0000e8 50px,#000019 52px,#00006b 54px,#00009f 56px,#000006 58px,#000087 60px,#0000cd 62px,#00007b 64px,#0000ca 66px,#000046 68px,#0000ed 70px,#0000ef 72px,#001eff 74px,#0017ff 76px,#00006a 78px,#0000f0 80px,#00007f 82px,#000073 84px,#0000d5 86px,#0000a1 88px,#00007a 90px,#000083 92px,#0000e8 94px,#0000c7 96px,#0000c9 98px,#000066 100px,#00007e 102px,#000067 104px,#000053 106px,#000024 108px,#000038 110px,#000018 112px,#000039 114px,#000000 116px,#000047 118px,#000022 120px,#00004a 122px,#00000b 124px,#000013 126px,#000031 128px,#000026 130px,#000018 132px,#00001a 134px,#00000c 136px,#000000 138px,#000000 140px)}.c6{background:linear-gradient(#ffec00 0px,#ffc500 2px,#91ff00 4px,#ffcb00 6px,#e7ff00 8px,#ffc300 10px,#45ff00 12px,#abff00 14px,#ffe600 16px,#91ff00 18px,#ffcb00 20px,#ff8a00 22px,#99ff00 24px,#22ff00 26px,#ffd500 28px,#41ff00 30px,#ffc300 32px,#26ff00 34px,#00ff65 36px,#1dff00 38px,#cdff00 40px,#00ff03 42px,#00ff39 44px,#00bbff 46px,#00ffaf 48px,#18ff00 50px,#00ffe0 52px,#00ff40 54px,#39ff00 56px,#00ff3a 58px,#00ffe1 60px,#00d7ff 62px,#0083ff 64px,#002eff 66px,#00ffa0 68px,#0016ff 70px,#00a5ff 72px,#0093ff 74px,#00b2ff 76px,#0072ff 78px,#004aff 80px,#0068ff 82px,#0000f5 84px,#000fff 86px,#001cff 88px,#0000e3 90px,#0000c6 92px,#0000d8 94px,#00006b 96px,#00008d 98px,#000017 100px,#000030 102px,#000039 104px,#000077 106px,#00002c 108px,#000054 110px,#000015 112px,#000022 114px,#000043 116px,#000004 118px,#00002b 120px,#000046 122px,#00001e 124px,#000008 126px,#000000 128px,#000000 130px,#000003 132px,#00001a 134px,#000011 136px,#000005 138px,#000005 140px)}.c7{background:linear-gradient(#00ffbf 0px,#00ff28 2px,#3dff00 4px,#00e3ff 6px,#cbff00 8px,#00ffdd 10px,#09ff00 12px,#00ff6d 14px,#00ff25 16px,#27ff00 18px,#0094ff 20px,#34ff00 22px,#4dff00 24px,#00ffb8 26px,#00ffd3 28px,#00ffc7 30px,#00ff79 32px,#00ff0d 34px,#00ffe4 36px,#00beff 38px,#00d2ff 40px,#00ff4c 42px,#0078ff 44px,#00efff 46px,#00ff32 48px,#00f7ff 50px,#0084ff 52px,#00ebff 54px,#00ffc6 56px,#0060ff 58px,#0049ff 60px,#0086ff 62px,#0009ff 64px,#0000de 66px,#007fff 68px,#0095ff 70px,#009aff 72px,#00f4ff 74px,#0078ff 76px,#000035 78px,#0000fc 80px,#00efff 82px,#00c4ff 84px,#0000bb 86px,#000095 88px,#00007f 90px,#000035 92px,#000000 94px,#000015 96px,#000039 98px,#00000c 100px,#00001f 102px,#00005f 104px,#00000f 106px,#000050 108px,#000029 110px,#00001e 112px,#000000 114px,#00004f 116px,#000012 118px,#000000 120px,#000000 122px,#000012 124px,#000020 126px,#00001f 128px,#000007 130px,#000003 132px,#000000 134px,#000011 136px,#000000 138px,#000009 140px)}.c8{background:linear-gradient(#00ffab 0px,#00ff0c 2px,#00ff60 4px,#00ff8c 6px,#00ff82 8px,#00ffe9 10px,#51ff00 12px,#00ff8d 14px,#00ffc8 16px,#00ff4a 18px,#00ffbc 20px,#00ffb6 22px,#0028ff 24px,#00ffcc 26px,#00ff92 28px,#00ffe0 30px,#0026ff 32px,#0028ff 34px,#00bbff 36px,#00f8ff 38px,#0068ff 40px,#0055ff 42px,#0000fd 44px,#001bff 46px,#0051ff 48px,#0072ff 50px,#0029ff 52px,#003fff 54px,#000047 56px,#000064 58px,#000000 60px,#000007 62px,#006dff 64px,#000053 66px,#00009e 68px,#0000b2 70px,#0000cc 72px,#00a9ff 74px,#00002a 76px,#000029 78px,#00008b 80px,#0000ac 82px,#0000b3 84px,#000018 86px,#000035 88px,#000074 90px,#000024 92px,#000050 94px,#00002d 96px,#00006f 98px,#00003f 100px,#000060 102px,#000013 104px,#000056 106px,#00002e 108px,#000065 110px,#000063 112px,#000022 114px,#000017 116px,#000019 118px,#000025 120px,#000000 122px,#000024 124px,#000012 126px,#000013 128px,#000011 130px,#00000d 132px,#00000a 134px,#000000 136px,#000017 138px,#000000 140px)}.c9{background:linear-gradient(#ffa400 0px,#ff2100 2px,#ffc800 4px,#ffa500 6px,#ffbe00 8px,#ff7300 10px,#ff4d00 12px,#ff1f1f 14px,#ffbf00 16px,#ff2400 18px,#ff0a00 20px,#aaff00 22px,#ff8a00 24px,#ff4700 26px,#ff8500 28px,#47ff00 30px,#e2ff00 32px,#ff3900 34px,#e8ff00 36px,#e9ff00 38px,#ff6700 40px,#fffe00 42px,#18ff00 44px,#f5ff00 46px,#ffd200 48px,#ecff00 50px,#ffd700 52px,#00ff46 54px,#91ff00 56px,#d4ff00 58px,#27ff00 60px,#23ff00 62px,#fff500 64px,#6fff00 66px,#00ffc2 68px,#00ff82 70px,#00e9ff 72px,#00ff78 74px,#00ff89 76px,#00ff77 78px,#00b0ff 80px,#00ffe9 82px,#00b5ff 84px,#00c4ff 86px,#0043ff 88px,#007aff 90px,#003fff 92px,#0037ff 94px,#000aff 96px,#0014ff 98px,#00009f 100px,#000079 102px,#00002d 104px,#00005f 106px,#000023 108px,#000026 110px,#000018 112px,#00006d 114px,#000057 116px,#000034 118px,#000051 120px,#000017 122px,#000008 124px,#000034 126px,#000000 128px,#000000 130px,#000000 132px,#00000d 134px,#000006 136px,#000000 138px,#00001f 140px)}.c10{background:linear-gradient(#b6ff00 0px,#00ff36 2px,#3cff00 4px,#00ff2e 6px,#00ff8c 8px,#00ff1f 10px,#00ffc4 12px,#00ff73 14px,#00ff49 16px,#00f0ff 18px,#00ff64 20px,#00ffca 22px,#00ff55 24px,#0081ff 26px,#00ff89 28px,#0007ff 30px,#000fff 32px,#00ffdf 34px,#0059ff 36px,#0073ff 38px,#000066 40px,#0023ff 42px,#0000c2 44px,#000041 46px,#0000e7 48px,#0000ac 50px,#00006b 52px,#0000ed 54px,#0000da 56px,#0086ff 58px,#000bff 60px,#0000c4 62px,#0000fc 64px,#00005d 66px,#00002a 68px,#00004d 70px,#000059 72px,#000081 74px,#0055ff 76px,#000000 78px,#0077ff 80px,#0009ff 82px,#0000db 84px,#00002e 86px,#0000fa 88px,#00001e 90px,#000021 92px,#000042 94px,#000046 96px,#00006c 98px,#0000a4 100px,#000039 102px,#000043 104px,#000025 106px,#000055 108px,#000000 110px,#000000 112px,#000000 114px,#000014 116px,#000030 118px,#000018 120px,#000000 122px,#000012 124px,#000003 126px,#00000e 128px,#00000a 130px,#000018 132px,#000000 134px,#00002a 136px,#000004 138px,#00000f 140px)}.c11{background:linear-gradient(#ffb700 0px,#ffa100 2px,#ff1400 4px,#ff5a00 6px,#ff6500 8px,#ff6c00 10px,#ff2121 12px,#ff5900 14px,#ffad00 16px,#fffb00 18px,#ff8c00 20px,#ffdc00 22px,#ff8200 24px,#ffcf00 26px,#ff9400 28px,#ff2900 30px,#ff5600 32px,#ffaf00 34px,#27ff00 36px,#a4ff00 38px,#ffe600 40px,#fff600 42px,#ff8800 44px,#ffac00 46px,#ffeb00 48px,#ffd200 50px,#ffd900 52px,#ffe200 54px,#ffd000 56px,#ffe000 58px,#3bff00 60px,#ffcd00 62px,#afff00 64px,#ffda00 66px,#a0ff00 68px,#60ff00 70px,#ffeb00 72px,#9dff00 74px,#e0ff00 76px,#82ff00 78px,#25ff00 80px,#0bff00 82px,#00ff02 84px,#06ff00 86px,#c0ff00 88px,#89ff00 90px,#24ff00 92px,#61ff00 94px,#1cff00 96px,#39ff00 98px,#00ff36 100px,#00ff2e 102px,#00ff48 104px,#00ff50 106px,#00ff15 108px,#00ff85 110px,#00ff66 112px,#00ff66 114px,#00ff9b 116px,#00ff87 118px,#00ffa2 120px,#00ffb2 122px,#00ffbe 124px,#00ffe5 126px,#00ffe2 128px,#00f7ff 130px,#00f5ff 132px,#00f4ff 134px,#00e7ff 136px,#00f6ff 138px,#00ccff 140px)}.c12{background:linear-gradient(#ff5900 0px,#ff7300 2px,#ffff00 4px,#c1ff00 6px,#abff00 8px,#ff8b00 10px,#00ff51 12px,#a2ff00 14px,#ffb200 16px,#ff5d00 18px,#6aff00 20px,#ffd300 22px,#23ff00 24px,#a9ff00 26px,#89ff00 28px,#d1ff00 30px,#00ff3d 32px,#88ff00 34px,#00ff00 36px,#fff800 38px,#e6ff00 40px,#00ff9e 42px,#00ff1b 44px,#00ff15 46px,#00ff4e 48px,#67ff00 50px,#00ff74 52px,#10ff00 54px,#00c5ff 56px,#00ffb3 58px,#1fff00 60px,#00ffad 62px,#00ff62 64px,#00ffec 66px,#00acff 68px,#8eff00 70px,#00e1ff 72px,#00fff3 74px,#00feff 76px,#00ffca 78px,#00e5ff 80px,#00ffe4 82px,#00ffef 84px,#00f0ff 86px,#00d4ff 88px,#008dff 90px,#00d0ff 92px,#00c7ff 94px,#0087ff 96px,#0075ff 98px,#006aff 100px,#005bff 102px,#0050ff 104px,#004eff 106px,#0008ff 108px,#0000f3 110px,#0012ff 112px,#0000bf 114px,#0000bb 116px,#0000a2 118px,#000071 120px,#00003e 122px,#000036 124px,#000028 126px,#00000f 128px,#00000a 130px,#000006 132px,#000000 134px,#000000 136px,#000009 138px,#000000 140px)}.c13{background:linear-gradient(#a1ff00 0px,#eaff00 2px,#c8ff00 4px,#74ff00 6px,#00ff48 8px,#ceff00 10px,#b7ff00 12px,#9dff00 14px,#ffc900 16px,#2aff00 18px,#49ff00 20px,#91ff00 22px,#00ff0e 24px,#87ff00 26px,#26ff00 28px,#40ff00 30px,#00ff31 32px,#62ff00 34px,#53ff00 36px,#00ff1a 38px,#00ffa0 40px,#00ff73 42px,#00ffc8 44px,#00ffb1 46px,#00ff68 48px,#12ff00 50px,#00ff3f 52px,#00e9ff 54px,#00ff25 56px,#00ff20 58px,#00ff96 60px,#00ffc8 62px,#0058ff 64px,#00ff90 66px,#00ffd6 68px,#00ffb0 70px,#00f8ff 72px,#00d3ff 74px,#00c2ff 76px,#0097ff 78px,#00ddff 80px,#00acff 82px,#00ccff 84px,#0058ff 86px,#0081ff 88px,#006dff 90px,#0011ff 92px,#0068ff 94px,#004aff 96px,#0000e0 98px,#0021ff 100px,#0000ba 102px,#00007f 104px,#0000bf 106px,#0000a7 108px,#000079 110px,#000040 112px,#000008 114px,#000045 116px,#00003b 118px,#00002a 120px,#000005 122px,#000012 124px,#000014 126px,#000000 128px,#000001 130px,#00003c 132px,#000020 134px,#000013 136px,#000020 138px,#000001 140px)}.c14{background:linear-gradient(#0fff00 0px,#ebff00 2px,#96ff00 4px,#00ff7e 6px,#92ff00 8px,#48ff00 10px,#22ff00 12px,#91ff00 14px,#2bff00 16px,#00f5ff 18px,#00ff51 20px,#65ff00 22px,#00ff54 24px,#45ff00 26px,#00ff5a 28px,#0053ff 30px,#00ffee 32px,#00ff8f 34px,#00d6ff 36px,#00ffbf 38px,#00ffe4 40px,#00d0ff 42px,#0000f5 44px,#00ffd4 46px,#0037ff 48px,#008aff 50px,#00bdff 52px,#000079 54px,#0085ff 56px,#000019 58px,#00007c 60px,#0000bd 62px,#004bff 64px,#00009b 66px,#000041 68px,#00007f 70px,#00002e 72px,#000054 74px,#0045ff 76px,#000004 78px,#00004f 80px,#00003b 82px,#0000a8 84px,#000000 86px,#00007b 88px,#000059 90px,#000069 92px,#000037 94px,#000000 96px,#00003b 98px,#00002d 100px,#000053 102px,#000028 104px,#000028 106px,#000032 108px,#00001a 110px,#000026 112px,#000005 114px,#00005b 116px,#000032 118px,#000000 120px,#000000 122px,#000010 124px,#000019 126px,#00002a 128px,#000000 130px,#000000 132px,#000000 134px,#000000 136px,#000021 138px,#00000b 140px)}.c15{background:linear-gradient(#00dbff 0px,#00ff20 2px,#19ff00 4px,#00ff1c 6px,#00ffc0 8px,#00ff5b 10px,#00ff85 12px,#26ff00 14px,#00ff70 16px,#00ff36 18px,#78ff00 20px,#50ff00 22px,#1cff00 24px,#19ff00 26px,#00ffb1 28px,#00ffcc 30px,#00ff82 32px,#00ff66 34px,#00ffa4 36px,#008dff 38px,#00ff40 40px,#00b5ff 42px,#0080ff 44px,#0097ff 46px,#00bbff 48px,#08ff00 50px,#00c2ff 52px,#009fff 54px,#00f2ff 56px,#00c3ff 58px,#00c7ff 60px,#0084ff 62px,#00ffc7 64px,#00ffcb 66px,#0010ff 68px,#0098ff 70px,#00b2ff 72px,#000030 74px,#00007b 76px,#004fff 78px,#0013ff 80px,#0018ff 82px,#000091 84px,#000081 86px,#000048 88px,#000059 90px,#000065 92px,#00004e 94px,#00003f 96px,#000026 98px,#000061 100px,#00000c 102px,#00004f 104px,#000045 106px,#00000f 108px,#000000 110px,#00000e 112px,#000000 114px,#000014 116px,#000029 118px,#00002d 120px,#000027 122px,#000026 124px,#000018 126px,#000000 128px,#000010 130px,#000000 132px,#00000c 134px,#000007 136px,#000003 138px,#00000b 140px)}.c16{background:linear-gradient(#fff300 0px,#1eff00 2px,#fff100 4px,#3fff00 6px,#34ff00 8px,#ff6c00 10px,#fff700 12px,#b3ff00 14px,#35ff00 16px,#ffcf00 18px,#ff7b00 20px,#88ff00 22px,#08ff00 24px,#73ff00 26px,#0aff00 28px,#00ff0c 30px,#daff00 32px,#ff6c00 34px,#4cff00 36px,#70ff00 38px,#00ff07 40px,#00ff4a 42px,#10ff00 44px,#00ff76 46px,#87ff00 48px,#a6ff00 50px,#17ff00 52px,#00ff1c 54px,#afff00 56px,#00ff2f 58px,#00b2ff 60px,#3aff00 62px,#00ff42 64px,#00fff5 66px,#00ff41 68px,#00ff24 70px,#0082ff 72px,#00ff59 74px,#00ff56 76px,#00aaff 78px,#007fff 80px,#00ffd6 82px,#0092ff 84px,#0071ff 86px,#0033ff 88px,#0058ff 90px,#0000da 92px,#0017ff 94px,#0000c8 96px,#000077 98px,#000097 100px,#000060 102px,#000017 104px,#000036 106px,#000007 108px,#00003a 110px,#000000 112px,#000009 114px,#000000 116px,#000037 118px,#000028 120px,#000005 122px,#00002f 124px,#00001f 126px,#000009 128px,#00000c 130px,#000002 132px,#000013 134px,#000007 136px,#000013 138px,#000000 140px)}.c17{background:linear-gradient(#b6ff00 0px,#fdff00 2px,#ff7b00 4px,#ffad00 6px,#f2ff00 8px,#ffb200 10px,#ff3100 12px,#ff6e00 14px,#b1ff00 16px,#ffca00 18px,#fff400 20px,#ffb800 22px,#ff8d00 24px,#fff300 26px,#ffdb00 28px,#21ff00 30px,#fdff00 32px,#57ff00 34px,#fff500 36px,#25ff00 38px,#ffcd00 40px,#00ff2e 42px,#87ff00 44px,#00ff91 46px,#9dff00 48px,#00ff2b 50px,#00ff9e 52px,#20ff00 54px,#009dff 56px,#2dff00 58px,#00ff66 60px,#00ff70 62px,#00ff42 64px,#00ff49 66px,#00f4ff 68px,#00ffdc 70px,#00ff41 72px,#00ffc4 74px,#00deff 76px,#00ff47 78px,#00bcff 80px,#00afff 82px,#00cfff 84px,#0096ff 86px,#00bdff 88px,#0084ff 90px,#0010ff 92px,#0044ff 94px,#0042ff 96px,#0000b7 98px,#0000b7 100px,#00009d 102px,#000000 104px,#00003c 106px,#00000d 108px,#000060 110px,#00002b 112px,#000030 114px,#000039 116px,#00003f 118px,#000000 120px,#00000b 122px,#00002f 124px,#000026 126px,#00000f 128px,#000030 130px,#00000c 132px,#000007 134px,#000000 136px,#00000b 138px,#000000 140px)}.c18{background:linear-gradient(#00ffa6 0px,#00ffde 2px,#00eaff 4px,#00c8ff 6px,#00d2ff 8px,#00ff1c 10px,#00ffbf 12px,#00b9ff 14px,#00ff6c 16px,#0aff00 18px,#00ff02 20px,#00ffe1 22px,#00e2ff 24px,#005cff 26px,#00ecff 28px,#00ffbb 30px,#00ff16 32px,#00ffe6 34px,#0000d7 36px,#0090ff 38px,#0000aa 40px,#0092ff 42px,#0000ff 44px,#00adff 46px,#00beff 48px,#0025ff 50px,#000000 52px,#0000e0 54px,#0000d5 56px,#0000a5 58px,#00006d 60px,#0010ff 62px,#0038ff 64px,#0000e7 66px,#0000ad 68px,#0000e9 70px,#000046 72px,#0000a0 74px,#003cff 76px,#003eff 78px,#000033 80px,#00001b 82px,#000064 84px,#000097 86px,#000014 88px,#000035 90px,#00000a 92px,#00009a 94px,#000089 96px,#00002e 98px,#000064 100px,#000007 102px,#000040 104px,#000018 106px,#00000c 108px,#000042 110px,#000031 112px,#000036 114px,#000000 116px,#000036 118px,#000012 120px,#00002b 122px,#000015 124px,#00001d 126px,#000000 128px,#000019 130px,#000012 132px,#000001 134px,#000004 136px,#000010 138px,#000000 140px)}.c19{background:linear-gradient(#e5ff00 0px,#ff8800 2px,#ffd300 4px,#fff300 6px,#e0ff00 8px,#5eff00 10px,#ffc600 12px,#f8ff00 14px,#51ff00 16px,#ffe700 18px,#fff700 20px,#ffd900 22px,#ffdf00 24px,#b7ff00 26px,#00ff7a 28px,#3fff00 30px,#25ff00 32px,#ff9800 34px,#85ff00 36px,#11ff00 38px,#00ff15 40px,#00ff22 42px,#eeff00 44px,#07ff00 46px,#00ff5f 48px,#00ff45 50px,#6bff00 52px,#00ff57 54px,#00ff63 56px,#00ff3f 58px,#fff000 60px,#00ff16 62px,#00ffb3 64px,#00ff7a 66px,#00ff47 68px,#00ff27 70px,#00ff96 72px,#53ff00 74px,#00ff25 76px,#00c9ff 78px,#00ffd3 80px,#00fffc 82px,#00feff 84px,#00ffe2 86px,#00fff0 88px,#00ffb8 90px,#00a2ff 92px,#0073ff 94px,#00c8ff 96px,#0096ff 98px,#00b3ff 100px,#008fff 102px,#0075ff 104px,#0069ff 106px,#0003ff 108px,#003aff 110px,#0073ff 112px,#0040ff 114px,#0014ff 116px,#0010ff 118px,#0000dd 120px,#0000c0 122px,#0000b1 124px,#00009d 126px,#000073 128px,#00006c 130px,#00005f 132px,#000035 134px,#000027 136px,#000032 138px,#000008 140px)}.c20{background:linear-gradient(#ff1400 0px,#ff3b00 2px,#ff5f00 4px,#ff7676 6px,#ff0000 8px,#ff1100 10px,#ff1e1e 12px,#ff7e00 14px,#ff4a4a 16px,#ff4a00 18px,#ff1313 20px,#ff8787 22px,#ff8900 24px,#ff7900 26px,#ffb500 28px,#ff4e4e 30px,#ff3400 32px,#ff7000 34px,#ff7f00 36px,#ff5b00 38px,#ffa100 40px,#ff3200 42px,#ff9300 44px,#ff2400 46px,#ff7400 48px,#ff4949 50px,#ff8300 52px,#ff9c00 54px,#ffa700 56px,#ffb300 58px,#ffff00 60px,#d8ff00 62px,#ffb300 64px,#ff8e00 66px,#fff300 68px,#ffdf00 70px,#d8ff00 72px,#fff800 74px,#ffd100 76px,#2fff00 78px,#ff7600 80px,#ffc000 82px,#d4ff00 84px,#b4ff00 86px,#85ff00 88px,#adff00 90px,#78ff00 92px,#edff00 94px,#a9ff00 96px,#3dff00 98px,#7fff00 100px,#29ff00 102px,#03ff00 104px,#2cff00 106px,#33ff00 108px,#1bff00 110px,#0dff00 112px,#00ff10 114px,#00ff1b 116px,#00ff4e 118px,#00ff61 120px,#00ff45 122px,#00ff73 124px,#00ff75 126px,#00ffa6 128px,#00ff88 130px,#00ffa3 132px,#00ffa0 134px,#00ffb5 136px,#00fff2 138px,#00ffeb 140px)}.c21{background:linear-gradient(#00ffaa 0px,#00ff33 2px,#00ff0c 4px,#11ff00 6px,#00ff21 8px,#00ff70 10px,#00cdff 12px,#09ff00 14px,#82ff00 16px,#00ff66 18px,#00ffab 20px,#00eeff 22px,#00ff8e 24px,#00a0ff 26px,#00ff27 28px,#00fff0 30px,#0089ff 32px,#009cff 34px,#00c1ff 36px,#00003c 38px,#00003c 40px,#0058ff 42px,#0000ed 44px,#000016 46px,#0000ce 48px,#0000b1 50px,#00fffe 52px,#00004b 54px,#000000 56px,#0000aa 58px,#0000b4 60px,#00003e 62px,#0000e2 64px,#00d1ff 66px,#00009b 68px,#000009 70px,#0000ef 72px,#00006e 74px,#00000c 76px,#000060 78px,#000052 80px,#00000c 82px,#00002d 84px,#000090 86px,#000041 88px,#000030 90px,#000026 92px,#000022 94px,#000025 96px,#000038 98px,#000001 100px,#00001a 102px,#000077 104px,#00001a 106px,#000000 108px,#000046 110px,#000017 112px,#00000a 114px,#000000 116px,#000003 118px,#000030 120px,#000021 122px,#000010 124px,#000019 126px,#00000c 128px,#000012 130px,#000011 132px,#00001a 134px,#000006 136px,#00001b 138px,#000000 140px)}.c22{background:linear-gradient(#e9ff00 0px,#00ff10 2px,#07ff00 4px,#47ff00 6px,#00ff7a 8px,#48ff00 10px,#12ff00 12px,#5eff00 14px,#77ff00 16px,#00ff3b 18px,#1eff00 20px,#00ff59 22px,#00ff19 24px,#6bff00 26px,#00e1ff 28px,#18ff00 30px,#46ff00 32px,#00ff44 34px,#2cff00 36px,#00ff0f 38px,#00ffe8 40px,#00ff42 42px,#0eff00 44px,#00ffd6 46px,#00e7ff 48px,#00ffae 50px,#00ff19 52px,#00f7ff 54px,#0066ff 56px,#006dff 58px,#0094ff 60px,#00ffc0 62px,#0075ff 64px,#0025ff 66px,#00ffd8 68px,#00ffef 70px,#00edff 72px,#00ffcb 74px,#00aeff 76px,#00ffb4 78px,#00a5ff 80px,#005eff 82px,#008dff 84px,#00cdff 86px,#0015ff 88px,#0061ff 90px,#004eff 92px,#004bff 94px,#0000ef 96px,#000dff 98px,#0046ff 100px,#0007ff 102px,#003eff 104px,#0000d6 106px,#000081 108px,#0000ca 110px,#0000a2 112px,#000065 114px,#000057 116px,#00003c 118px,#000014 120px,#000019 122px,#000014 124px,#000036 126px,#000018 128px,#00000c 130px,#000000 132px,#000003 134px,#00000c 136px,#000000 138px,#000005 140px)}.c23{background:linear-gradient(#96ff00 0px,#ffc900 2px,#ffd200 4px,#ffef00 6px,#ffd800 8px,#ffc500 10px,#13ff00 12px,#ffe000 14px,#87ff00 16px,#ffbc00 18px,#04ff00 20px,#ff5c00 22px,#ffa900 24px,#c5ff00 26px,#ffed00 28px,#11ff00 30px,#91ff00 32px,#37ff00 34px,#fffa00 36px,#61ff00 38px,#fff600 40px,#09ff00 42px,#0bff00 44px,#00ff0d 46px,#33ff00 48px,#90ff00 50px,#10ff00 52px,#00ff91 54px,#00ff24 56px,#00ffcb 58px,#00ffd0 60px,#00ff47 62px,#00ffea 64px,#00ff27 66px,#1fff00 68px,#00faff 70px,#00ff28 72px,#009cff 74px,#00ff37 76px,#00ddff 78px,#00ffc4 80px,#00fffb 82px,#00fff6 84px,#00dcff 86px,#0094ff 88px,#0048ff 90px,#0053ff 92px,#0024ff 94px,#001bff 96px,#0000de 98px,#000cff 100px,#0000e3 102px,#0000e5 104px,#000084 106px,#00007a 108px,#000070 110px,#00003d 112px,#000033 114px,#000020 116px,#00003c 118px,#00003e 120px,#000031 122px,#000021 124px,#000048 126px,#00000d 128px,#000017 130px,#00000f 132px,#000000 134px,#000008 136px,#000000 138px,#000008 140px)}.c24{background:linear-gradient(#ffa400 0px,#00ff16 2px,#fff500 4px,#cfff00 6px,#8aff00 8px,#f2ff00 10px,#ff4300 12px,#ffd500 14px,#ffc700 16px,#ffef00 18px,#fbff00 20px,#ffa300 22px,#a1ff00 24px,#9aff00 26px,#fff200 28px,#00ff18 30px,#ffa800 32px,#ffac00 34px,#edff00 36px,#baff00 38px,#ffda00 40px,#ffa500 42px,#e8ff00 44px,#00ff0d 46px,#ffaf00 48px,#00ff36 50px,#b6ff00 52px,#c2ff00 54px,#ffea00 56px,#ffdd00 58px,#10ff00 60px,#28ff00 62px,#6eff00 64px,#00ff6e 66px,#00ff3f 68px,#ffe400 70px,#9bff00 72px,#00ff68 74px,#67ff00 76px,#40ff00 78px,#a9ff00 80px,#00ff0b 82px,#43ff00 84px,#25ff00 86px,#00ff79 88px,#1eff00 90px,#48ff00 92px,#00ff57 94px,#00ff15 96px,#00ff81 98px,#00ff65 100px,#00ff8f 102px,#00ffaa 104px,#00ff4b 106px,#00ffb9 108px,#00ffb6 110px,#00ff5f 112px,#00fff5 114px,#00ffe9 116px,#00ffdd 118px,#00faff 120px,#00fcff 122px,#00e3ff 124px,#00ebff 126px,#00e9ff 128px,#00ccff 130px,#00e2ff 132px,#00cdff 134px,#00b1ff 136px,#00b8ff 138px,#009bff 140px)}.c25{background:linear-gradient(#6eff00 0px,#49ff00 2px,#00ff3a 4px,#17ff00 6px,#04ff00 8px,#00ff26 10px,#d0ff00 12px,#2bff00 14px,#34ff00 16px,#00ff0f 18px,#00ff02 20px,#22ff00 22px,#00ff90 24px,#00ff5f 26px,#00ff46 28px,#00ffb6 30px,#00e2ff 32px,#00ff22 34px,#00ff3b 36px,#00ff76 38px,#00d4ff 40px,#009cff 42px,#00c7ff 44px,#008bff 46px,#00ffa8 48px,#0093ff 50px,#0000ea 52px,#0000e5 54px,#00d8ff 56px,#003cff 58px,#000014 60px,#00007c 62px,#0000a4 64px,#00b3ff 66px,#0000ad 68px,#0000d8 70px,#000035 72px,#000081 74px,#00004f 76px,#000000 78px,#000059 80px,#0000ab 82px,#0034ff 84px,#000067 86px,#000093 88px,#000090 90px,#000000 92px,#000012 94px,#000035 96px,#000009 98px,#000031 100px,#000024 102px,#00008d 104px,#000039 106px,#000035 108px,#00003c 110px,#000028 112px,#000000 114px,#00000e 116px,#000008 118px,#000004 120px,#000014 122px,#000018 124px,#000000 126px,#000026 128px,#000030 130px,#000012 132px,#000018 134px,#000000 136px,#000006 138px,#000000 140px)}.c26{background:linear-gradient(#ff7800 0px,#ffae00 2px,#ffe800 4px,#ff8500 6px,#ffea00 8px,#ff4300 10px,#ffa700 12px,#e7ff00 14px,#ff8d00 16px,#ff6700 18px,#ffae00 20px,#ffd700 22px,#f1ff00 24px,#ff6d00 26px,#ffc500 28px,#ffd600 30px,#ff0e0e 32px,#7cff00 34px,#b2ff00 36px,#ffb700 38px,#ffdf00 40px,#03ff00 42px,#fffc00 44px,#afff00 46px,#30ff00 48px,#74ff00 50px,#79ff00 52px,#a0ff00 54px,#abff00 56px,#00ff1a 58px,#23ff00 60px,#00ff62 62px,#00fffc 64px,#06ff00 66px,#00ff11 68px,#00ff70 70px,#00ff13 72px,#00ff5c 74px,#00dfff 76px,#00ffd2 78px,#00ff75 80px,#00ffd4 82px,#02ff00 84px,#00ff61 86px,#00ffff 88px,#00fffa 90px,#00ff99 92px,#00ff60 94px,#00ffb1 96px,#00ffce 98px,#00fff1 100px,#00ddff 102px,#00ffc0 104px,#00f7ff 106px,#00d0ff 108px,#00a9ff 110px,#00a9ff 112px,#00b4ff 114px,#00bfff 116px,#0082ff 118px,#007dff 120px,#0086ff 122px,#0051ff 124px,#0051ff 126px,#0028ff 128px,#0039ff 130px,#0046ff 132px,#0021ff 134px,#000bff 136px,#000cff 138px,#0000f6 140px)}.c27{background:linear-gradient(#e3ff00 0px,#53ff00 2px,#ffd500 4px,#cbff00 6px,#ffc300 8px,#ff2900 10px,#c9ff00 12px,#ffaa00 14px,#ff6300 16px,#00ff1c 18px,#ffdd00 20px,#00ffc8 22px,#f5ff00 24px,#ffb100 26px,#fff700 28px,#32ff00 30px,#00ff8e 32px,#28ff00 34px,#ffd000 36px,#ffc700 38px,#15ff00 40px,#3bff00 42px,#00ff38 44px,#00ff7a 46px,#00ff01 48px,#00ff16 50px,#61ff00 52px,#6cff00 54px,#00ff68 56px,#00ff82 58px,#00ff26 60px,#00ffab 62px,#00ff2b 64px,#18ff00 66px,#00ff2c 68px,#00fffd 70px,#00ffe6 72px,#0034ff 74px,#00ff4c 76px,#00f6ff 78px,#00c7ff 80px,#00fff5 82px,#00aeff 84px,#00bdff 86px,#00a8ff 88px,#00b0ff 90px,#0084ff 92px,#006fff 94px,#0094ff 96px,#007aff 98px,#000eff 100px,#0003ff 102px,#0017ff 104px,#0000da 106px,#00009b 108px,#00008b 110px,#000039 112px,#000078 114px,#00005b 116px,#000015 118px,#000030 120px,#000009 122px,#000031 124px,#00000e 126px,#00000f 128px,#000001 130px,#000017 132px,#000013 134px,#000018 136px,#000003 138px,#000007 140px)}.c28{background:linear-gradient(#00ff34 0px,#ffb800 2px,#b7ff00 4px,#4bff00 6px,#fff400 8px,#8aff00 10px,#2cff00 12px,#6cff00 14px,#51ff00 16px,#ffce00 18px,#d9ff00 20px,#00ff71 22px,#00ffe0 24px,#fff000 26px,#00ff00 28px,#35ff00 30px,#42ff00 32px,#ecff00 34px,#dcff00 36px,#00ff26 38px,#00ff28 40px,#00ff01 42px,#26ff00 44px,#00ffba 46px,#00ff8f 48px,#00ffdb 50px,#00ebff 52px,#00ff19 54px,#00ffa5 56px,#007aff 58px,#003dff 60px,#00ff50 62px,#00aeff 64px,#00b5ff 66px,#000029 68px,#007fff 70px,#0077ff 72px,#0076ff 74px,#0066ff 76px,#0000d7 78px,#0000fe 80px,#0000d4 82px,#000025 84px,#0000b5 86px,#00006f 88px,#00001e 90px,#000000 92px,#000000 94px,#000042 96px,#00001c 98px,#000002 100px,#000063 102px,#00002c 104px,#000068 106px,#000000 108px,#000003 110px,#000029 112px,#000011 114px,#00004b 116px,#000033 118px,#00002d 120px,#000000 122px,#000016 124px,#000014 126px,#000009 128px,#000014 130px,#000000 132px,#000004 134px,#00001a 136px,#000017 138px,#000000 140px)}.c29{background:linear-gradient(#ffb100 0px,#c6ff00 2px,#ff6a00 4px,#1eff00 6px,#cfff00 8px,#00ff37 10px,#c2ff00 12px,#5cff00 14px,#eeff00 16px,#00ff03 18px,#00ff13 20px,#9fff00 22px,#07ff00 24px,#fffe00 26px,#a3ff00 28px,#00ff64 30px,#68ff00 32px,#00ff5a 34px,#d0ff00 36px,#00ff6f 38px,#66ff00 40px,#00ff98 42px,#00f4ff 44px,#00ffec 46px,#ffde00 48px,#00ffcf 50px,#00ff9f 52px,#00ffcc 54px,#00c0ff 56px,#00ff10 58px,#00d8ff 60px,#00baff 62px,#00fff5 64px,#005aff 66px,#006bff 68px,#009fff 70px,#0002ff 72px,#0044ff 74px,#004dff 76px,#00cfff 78px,#00d6ff 80px,#007bff 82px,#0016ff 84px,#0000fe 86px,#0059ff 88px,#0005ff 90px,#0000b0 92px,#0000bc 94px,#0000c5 96px,#000070 98px,#00005e 100px,#00007a 102px,#000086 104px,#000019 106px,#000071 108px,#000015 110px,#00002a 112px,#00000c 114px,#000034 116px,#00001e 118px,#000031 120px,#000030 122px,#00002d 124px,#000021 126px,#00000f 128px,#00000a 130px,#000003 132px,#00000a 134px,#000000 136px,#000020 138px,#000008 140px)}.c30{background:linear-gradient(#00ff3e 0px,#ebff00 2px,#e5ff00 4px,#00ff6f 6px,#60ff00 8px,#e3ff00 10px,#1fff00 12px,#c0ff00 14px,#d5ff00 16px,#e1ff00 18px,#2dff00 20px,#e6ff00 22px,#00ff43 24px,#9aff00 26px,#17ff00 28px,#9bff00 30px,#4eff00 32px,#5cff00 34px,#00ff2c 36px,#00ff76 38px,#00ff2a 40px,#00ff51 42px,#25ff00 44px,#00ff24 46px,#00ff79 48px,#00ff98 50px,#00fcff 52px,#00f4ff 54px,#00ffc7 56px,#00ff71 58px,#00ffb5 60px,#00afff 62px,#009dff 64px,#00c8ff 66px,#00d4ff 68px,#00ffe0 70px,#0000df 72px,#00eeff 74px,#00c2ff 76px,#00f4ff 78px,#0058ff 80px,#0048ff 82px,#002bff 84px,#0058ff 86px,#0057ff 88px,#002fff 90px,#0000b1 92px,#0000d1 94px,#000cff 96px,#00004e 98px,#00005a 100px,#000088 102px,#000075 104px,#00004e 106px,#000053 108px,#000030 110px,#000045 112px,#000036 114px,#000053 116px,#000000 118px,#00000d 120px,#00001f 122px,#00000c 124px,#00002c 126px,#000007 128px,#000021 130px,#00000f 132px,#000015 134px,#000007 136px,#00000f 138px,#000007 140px)}.c31{background:linear-gradient(#adff00 0px,#c2ff00 2px,#c1ff00 4px,#ffdb00 6px,#a2ff00 8px,#b0ff00 10px,#fff900 12px,#fffe00 14px,#36ff00 16px,#00ff28 18px,#00ff11 20px,#47ff00 22px,#00ff06 24px,#00ff15 26px,#00ff33 28px,#00ff22 30px,#49ff00 32px,#43ff00 34px,#00ff66 36px,#00ff40 38px,#00ffd7 40px,#00ff9b 42px,#0056ff 44px,#00ff28 46px,#00ff78 48px,#00ff9b 50px,#00ffc1 52px,#00fffb 54px,#00ffb8 56px,#003bff 58px,#0079ff 60px,#0000db 62px,#0032ff 64px,#0024ff 66px,#0000e9 68px,#000052 70px,#000000 72px,#000072 74px,#0000cc 76px,#000092 78px,#000086 80px,#0000b2 82px,#000065 84px,#00003e 86px,#000069 88px,#0000a2 90px,#000000 92px,#000027 94px,#00000c 96px,#00004d 98px,#000006 100px,#000049 102px,#00000c 104px,#000029 106px,#00000d 108px,#000026 110px,#00001b 112px,#00002f 114px,#00000d 116px,#00000e 118px,#000009 120px,#00002f 122px,#000002 124px,#000044 126px,#00002c 128px,#000008 130px,#000013 132px,#00001e 134px,#000003 136px,#000017 138px,#000000 140px)}.c32{background:linear-gradient(#ffee00 0px,#87ff00 2px,#2bff00 4px,#3dff00 6px,#b0ff00 8px,#a9ff00 10px,#00ff1a 12px,#00ff89 14px,#6aff00 16px,#5cff00 18px,#00ff30 20px,#00ff91 22px,#00ff36 24px,#13ff00 26px,#7fff00 28px,#21ff00 30px,#9eff00 32px,#00ff34 34px,#d2ff00 36px,#00ff75 38px,#39ff00 40px,#00ff52 42px,#00ffca 44px,#00ff49 46px,#11ff00 48px,#00fff5 50px,#00ff3f 52px,#00d9ff 54px,#0073ff 56px,#00acff 58px,#00fbff 60px,#004fff 62px,#00fff1 64px,#00fff3 66px,#0044ff 68px,#00c0ff 70px,#0016ff 72px,#00afff 74px,#0059ff 76px,#000aff 78px,#006cff 80px,#0042ff 82px,#0000c9 84px,#0000f6 86px,#0000da 88px,#0000da 90px,#0007ff 92px,#00009c 94px,#0000a1 96px,#0000a7 98px,#000070 100px,#000072 102px,#00005c 104px,#000072 106px,#00002f 108px,#00003a 110px,#000054 112px,#000021 114px,#000045 116px,#000000 118px,#000019 120px,#000009 122px,#00000c 124px,#000018 126px,#000000 128px,#00000d 130px,#00001b 132px,#000014 134px,#000000 136px,#000000 138px,#000004 140px)}.c33{background:linear-gradient(#31ff00 0px,#00ff94 2px,#00ff1f 4px,#b3ff00 6px,#00ff0b 8px,#00ff1b 10px,#00ff01 12px,#86ff00 14px,#00ecff 16px,#00ff34 18px,#06ff00 20px,#00adff 22px,#00ffaa 24px,#00ff55 26px,#00ff32 28px,#00ff2a 30px,#00ff30 32px,#00ff81 34px,#006bff 36px,#00ffec 38px,#009bff 40px,#00ffd7 42px,#0064ff 44px,#0054ff 46px,#0051ff 48px,#0071ff 50px,#00ffee 52px,#3eff00 54px,#00e8ff 56px,#0046ff 58px,#0023ff 60px,#0052ff 62px,#008bff 64px,#0003ff 66px,#0024ff 68px,#00006a 70px,#0000bc 72px,#0000f1 74px,#001aff 76px,#000083 78px,#0009ff 80px,#000028 82px,#000075 84px,#000000 86px,#000045 88px,#000030 90px,#000004 92px,#000036 94px,#000018 96px,#000000 98px,#00003e 100px,#00004c 102px,#000076 104px,#00003b 106px,#000065 108px,#000061 110px,#000024 112px,#00001a 114px,#000013 116px,#000013 118px,#00002e 120px,#00002b 122px,#000018 124px,#000023 126px,#00001e 128px,#000018 130px,#000000 132px,#00001f 134px,#000020 136px,#00000d 138px,#000000 140px)}.c34{background:linear-gradient(#00ffe8 0px,#00ff1d 2px,#00ffb3 4px,#00ffa0 6px,#00ffcb 8px,#00ffdf 10px,#22ff00 12px,#00cbff 14px,#00ffc4 16px,#00cdff 18px,#00ff3a 20px,#0065ff 22px,#00ff70 24px,#00ff74 26px,#0056ff 28px,#003eff 30px,#008bff 32px,#00e5ff 34px,#0059ff 36px,#00e6ff 38px,#0062ff 40px,#0052ff 42px,#0000c5 44px,#000000 46px,#000009 48px,#000084 50px,#000044 52px,#0009ff 54px,#000000 56px,#000000 58px,#0020ff 60px,#00005f 62px,#000043 64px,#0059ff 66px,#000089 68px,#000008 70px,#0000fc 72px,#000066 74px,#000015 76px,#000001 78px,#0000c0 80px,#00003a 82px,#000027 84px,#00005b 86px,#00009a 88px,#000053 90px,#000062 92px,#000056 94px,#00006f 96px,#000048 98px,#000011 100px,#00001c 102px,#000060 104px,#000024 106px,#000022 108px,#000038 110px,#00004e 112px,#000000 114px,#000000 116px,#000003 118px,#000045 120px,#000000 122px,#000013 124px,#000032 126px,#000040 128px,#000025 130px,#000014 132px,#000023 134px,#000001 136px,#000009 138px,#000000 140px)}.c35{background:linear-gradient(#00ff24 0px,#00ff31 2px,#80ff00 4px,#4cff00 6px,#5aff00 8px,#63ff00 10px,#11ff00 12px,#ff8700 14px,#f1ff00 16px,#00ff0a 18px,#d9ff00 20px,#80ff00 22px,#ffe600 24px,#3cff00 26px,#00ff27 28px,#3cff00 30px,#04ff00 32px,#ffbf00 34px,#ffe100 36px,#5aff00 38px,#42ff00 40px,#02ff00 42px,#00ff01 44px,#00ff08 46px,#00ff29 48px,#00ff1f 50px,#00ffdb 52px,#00d5ff 54px,#00ffb5 56px,#00ff80 58px,#00f7ff 60px,#00c8ff 62px,#00bdff 64px,#00ff1a 66px,#3cff00 68px,#00ffe0 70px,#07ff00 72px,#00c1ff 74px,#00fff5 76px,#00a9ff 78px,#00e1ff 80px,#007dff 82px,#003fff 84px,#0068ff 86px,#004fff 88px,#008fff 90px,#004fff 92px,#003cff 94px,#0061ff 96px,#0049ff 98px,#0000cb 100px,#000092 102px,#0000cb 104px,#000082 106px,#000065 108px,#000053 110px,#0000a1 112px,#000048 114px,#00001a 116px,#00002f 118px,#00004c 120px,#000051 122px,#000011 124px,#000022 126px,#000020 128px,#00000a 130px,#000008 132px,#000000 134px,#000029 136px,#00000b 138px,#000009 140px)}.c36{background:linear-gradient(#00ffdc 0px,#00ff07 2px,#00ff41 4px,#00ff3e 6px,#28ff00 8px,#03ff00 10px,#00ff3d 12px,#00ff07 14px,#00ff31 16px,#00b9ff 18px,#00ffae 20px,#00c5ff 22px,#00ff9d 24px,#008cff 26px,#0000ea 28px,#00cbff 30px,#000eff 32px,#008bff 34px,#0061ff 36px,#0000d7 38px,#000eff 40px,#0095ff 42px,#0000ae 44px,#00001f 46px,#0000e1 48px,#000047 50px,#000000 52px,#000000 54px,#000bff 56px,#0000c4 58px,#000066 60px,#001eff 62px,#000068 64px,#003fff 66px,#0000dd 68px,#0003ff 70px,#002aff 72px,#0000ce 74px,#0060ff 76px,#00004c 78px,#004eff 80px,#000026 82px,#000074 84px,#000092 86px,#00007e 88px,#000000 90px,#00004d 92px,#000035 94px,#000037 96px,#000005 98px,#00003d 100px,#000026 102px,#000000 104px,#000000 106px,#000026 108px,#000008 110px,#00002e 112px,#000018 114px,#00002e 116px,#000000 118px,#000024 120px,#00002d 122px,#000000 124px,#000025 126px,#00001c 128px,#00000f 130px,#00001e 132px,#000013 134px,#00001c 136px,#000004 138px,#000000 140px)}.c37{background:linear-gradient(#ffbc00 0px,#ffad00 2px,#ff6a00 4px,#f1ff00 6px,#ffbc00 8px,#ff7000 10px,#ff8100 12px,#00ff16 14px,#ffbc00 16px,#ffd900 18px,#a3ff00 20px,#6aff00 22px,#97ff00 24px,#ffa000 26px,#ffab00 28px,#c7ff00 30px,#daff00 32px,#deff00 34px,#fffa00 36px,#c0ff00 38px,#58ff00 40px,#b2ff00 42px,#00ff02 44px,#73ff00 46px,#00fff5 48px,#00ff70 50px,#00ff60 52px,#00ff11 54px,#00ffa5 56px,#00ff5d 58px,#00ff77 60px,#4dff00 62px,#00ff6e 64px,#00ff0a 66px,#00ff71 68px,#00ff2c 70px,#00e3ff 72px,#00ffb8 74px,#00ffd1 76px,#00a6ff 78px,#00ff95 80px,#00ecff 82px,#00caff 84px,#0090ff 86px,#00abff 88px,#0038ff 90px,#0002ff 92px,#0000ff 94px,#002cff 96px,#0000af 98px,#0000ac 100px,#00002d 102px,#00004c 104px,#000054 106px,#000024 108px,#00001f 110px,#000019 112px,#000040 114px,#000015 116px,#00001b 118px,#000000 120px,#000000 122px,#00002e 124px,#00001b 126px,#00000d 128px,#000006 130px,#000000 132px,#000000 134px,#000000 136px,#000000 138px,#000009 140px)}.c38{background:linear-gradient(#8eff00 0px,#00ff2b 2px,#ffef00 4px,#ff8c00 6px,#00ff17 8px,#ffa100 10px,#ffd500 12px,#b9ff00 14px,#ff1f00 16px,#adff00 18px,#3fff00 20px,#c2ff00 22px,#c2ff00 24px,#bbff00 26px,#00ff1d 28px,#ffc700 30px,#ffe400 32px,#00ff2d 34px,#20ff00 36px,#3eff00 38px,#00ff56 40px,#14ff00 42px,#00ffe3 44px,#73ff00 46px,#00ff03 48px,#00ffdb 50px,#64ff00 52px,#00ffde 54px,#00a6ff 56px,#0bff00 58px,#00dfff 60px,#00eeff 62px,#00f8ff 64px,#00ff43 66px,#00ffd8 68px,#00aeff 70px,#00f2ff 72px,#00ffbb 74px,#0082ff 76px,#00d8ff 78px,#000eff 80px,#0081ff 82px,#005cff 84px,#005fff 86px,#0043ff 88px,#0000bf 90px,#005cff 92px,#0022ff 94px,#0000d0 96px,#0000f2 98px,#0000cb 100px,#0001ff 102px,#00009a 104px,#00002c 106px,#000034 108px,#000085 110px,#00000f 112px,#000000 114px,#00002c 116px,#00000d 118px,#00001c 120px,#000036 122px,#000038 124px,#00000a 126px,#000015 128px,#000020 130px,#00001f 132px,#000012 134px,#000007 136px,#000012 138px,#00000c 140px)}.c39{background:linear-gradient(#58ff00 0px,#3fff00 2px,#ebff00 4px,#70ff00 6px,#fffe00 8px,#ffeb00 10px,#ffda00 12px,#b7ff00 14px,#ffec00 16px,#ffd500 18px,#ffa800 20px,#0aff00 22px,#93ff00 24px,#aeff00 26px,#69ff00 28px,#ffd500 30px,#24ff00 32px,#1dff00 34px,#7fff00 36px,#fff100 38px,#00ff74 40px,#3cff00 42px,#95ff00 44px,#acff00 46px,#a1ff00 48px,#abff00 50px,#00ff8b 52px,#28ff00 54px,#61ff00 56px,#7eff00 58px,#ffcb00 60px,#2aff00 62px,#c2ff00 64px,#00ff70 66px,#ffb900 68px,#b5ff00 70px,#3dff00 72px,#0dff00 74px,#00ff81 76px,#4aff00 78px,#00ff5e 80px,#00ff02 82px,#00ff29 84px,#0eff00 86px,#00ff6b 88px,#39ff00 90px,#00ff51 92px,#00ff20 94px,#5fff00 96px,#00ff2c 98px,#00ff3f 100px,#00ff60 102px,#00ff60 104px,#00ff5b 106px,#00ff78 108px,#00ff94 110px,#00ffb3 112px,#00ffa2 114px,#00ffcc 116px,#00ff75 118px,#00ffd9 120px,#00ffd2 122px,#00ffb9 124px,#00ffd0 126px,#00ffc9 128px,#00ffce 130px,#00ffdf 132px,#00f9ff 134px,#00faff 136px,#00f9ff 138px,#00d8ff 140px)}.c40{background:linear-gradient(#ff8f00 0px,#ff6000 2px,#ff7e00 4px,#ff9400 6px,#ff0b00 8px,#ff3d3d 10px,#ff9e00 12px,#ff2400 14px,#ffec00 16px,#ff6500 18px,#fff900 20px,#ff3900 22px,#ff8700 24px,#ff9d00 26px,#edff00 28px,#ff2400 30px,#ffff00 32px,#ffc000 34px,#95ff00 36px,#fff800 38px,#ff9900 40px,#eaff00 42px,#aeff00 44px,#f9ff00 46px,#58ff00 48px,#e1ff00 50px,#97ff00 52px,#bfff00 54px,#8bff00 56px,#ffc500 58px,#afff00 60px,#e5ff00 62px,#32ff00 64px,#00ff50 66px,#00ff0d 68px,#fff900 70px,#39ff00 72px,#00ff34 74px,#00ff20 76px,#00ff09 78px,#86ff00 80px,#00ff96 82px,#00ffb6 84px,#00ffea 86px,#00f4ff 88px,#00ffe1 90px,#00cfff 92px,#00e1ff 94px,#00acff 96px,#00a9ff 98px,#00e0ff 100px,#007eff 102px,#0065ff 104px,#0039ff 106px,#004fff 108px,#0034ff 110px,#002bff 112px,#002fff 114px,#0000e9 116px,#0000c9 118px,#0000ca 120px,#000085 122px,#00009a 124px,#000048 126px,#00002e 128px,#00001d 130px,#000000 132px,#000003 134px,#00000d 136px,#000014 138px,#000000 140px)}.c41{background:linear-gradient(#eeff00 0px,#ffd600 2px,#fff000 4px,#c8ff00 6px,#e6ff00 8px,#fff800 10px,#ffb700 12px,#c3ff00 14px,#ff7900 16px,#ff8d00 18px,#ffa100 20px,#fdff00 22px,#fffe00 24px,#bdff00 26px,#fffe00 28px,#3dff00 30px,#4cff00 32px,#81ff00 34px,#11ff00 36px,#f8ff00 38px,#84ff00 40px,#40ff00 42px,#c5ff00 44px,#c1ff00 46px,#00ff8e 48px,#65ff00 50px,#00ff05 52px,#00ff71 54px,#3eff00 56px,#12ff00 58px,#38ff00 60px,#00ff87 62px,#00ff0b 64px,#00ffaf 66px,#00ff3e 68px,#21ff00 70px,#3bff00 72px,#00ff88 74px,#03ff00 76px,#00ffb3 78px,#00ff41 80px,#55ff00 82px,#00ff20 84px,#00ff72 86px,#00ff56 88px,#00ffaf 90px,#00ff6e 92px,#00ff71 94px,#00ff4f 96px,#00ff8b 98px,#00ff11 100px,#00ffa5 102px,#00ffb4 104px,#00ffcc 106px,#00ffb6 108px,#00ff99 110px,#00ffcb 112px,#00ff97 114px,#00ffb5 116px,#00ffcd 118px,#00ffec 120px,#00f9ff 122px,#00ffe3 124px,#00eeff 126px,#00e0ff 128px,#00f2ff 130px,#00e6ff 132px,#00cdff 134px,#00e0ff 136px,#00c4ff 138px,#00c2ff 140px)}.c42{background:linear-gradient(#56ff00 0px,#00d7ff 2px,#9aff00 4px,#6bff00 6px,#00ff9d 8px,#2dff00 10px,#00ffc1 12px,#00ff4b 14px,#00ffbf 16px,#0eff00 18px,#00ff29 20px,#0cff00 22px,#00ff93 24px,#00d2ff 26px,#00ffd9 28px,#00ffcd 30px,#00c2ff 32px,#00ffd0 34px,#0082ff 36px,#00000d 38px,#00c2ff 40px,#000089 42px,#0010ff 44px,#0000f2 46px,#00006f 48px,#0026ff 50px,#0000d9 52px,#00001d 54px,#0000d9 56px,#0002ff 58px,#00007a 60px,#000089 62px,#0000a3 64px,#0000a5 66px,#000067 68px,#000067 70px,#0038ff 72px,#0000f0 74px,#000096 76px,#00e0ff 78px,#00003f 80px,#00002c 82px,#00000b 84px,#0000c3 86px,#000055 88px,#00001c 90px,#000000 92px,#000032 94px,#00003a 96px,#00006a 98px,#000038 100px,#00001a 102px,#000062 104px,#000019 106px,#000052 108px,#00005b 110px,#000003 112px,#00002b 114px,#00002d 116px,#000033 118px,#000022 120px,#000044 122px,#000000 124px,#00001c 126px,#00000a 128px,#000013 130px,#000020 132px,#000000 134px,#000016 136px,#000022 138px,#000013 140px)}.c43{background:linear-gradient(#00d6ff 0px,#41ff00 2px,#00ffaa 4px,#00ff83 6px,#83ff00 8px,#00ff94 10px,#00ff9f 12px,#77ff00 14px,#00f2ff 16px,#00ff6a 18px,#00ff05 20px,#00ffcb 22px,#00ffec 24px,#0088ff 26px,#00ffaa 28px,#00f3ff 30px,#00cbff 32px,#00d6ff 34px,#00d7ff 36px,#004cff 38px,#0024ff 40px,#0000d2 42px,#0000d5 44px,#0000c9 46px,#0000cf 48px,#0000d5 50px,#00001e 52px,#0030ff 54px,#000044 56px,#00009a 58px,#000023 60px,#000048 62px,#000000 64px,#00008e 66px,#000000 68px,#0000a7 70px,#0000f1 72px,#00000d 74px,#00002a 76px,#000043 78px,#0000a8 80px,#0000b9 82px,#00001a 84px,#00007b 86px,#000099 88px,#00000d 90px,#000030 92px,#00002d 94px,#000042 96px,#000001 98px,#00004d 100px,#000040 102px,#000000 104px,#000014 106px,#000000 108px,#000024 110px,#000009 112px,#000007 114px,#000032 116px,#000018 118px,#000030 120px,#000015 122px,#000000 124px,#000000 126px,#00000c 128px,#000016 130px,#00000c 132px,#00000c 134px,#000004 136px,#000000 138px,#00000a 140px)}.c44{background:linear-gradient(#20ff00 0px,#fff000 2px,#ff4d00 4px,#ffe200 6px,#ff8600 8px,#a6ff00 10px,#fff600 12px,#ffb700 14px,#f1ff00 16px,#ff4a00 18px,#ff4c00 20px,#ff8200 22px,#fbff00 24px,#ff8200 26px,#ff8a00 28px,#ffde00 30px,#ff6300 32px,#ffa700 34px,#ffef00 36px,#f2ff00 38px,#ff9200 40px,#45ff00 42px,#edff00 44px,#ffa100 46px,#ddff00 48px,#a7ff00 50px,#c7ff00 52px,#ffe000 54px,#ff9200 56px,#8fff00 58px,#b4ff00 60px,#ff1c00 62px,#ff9500 64px,#e7ff00 66px,#3bff00 68px,#49ff00 70px,#fffa00 72px,#edff00 74px,#afff00 76px,#a5ff00 78px,#10ff00 80px,#4fff00 82px,#afff00 84px,#7aff00 86px,#71ff00 88px,#5aff00 90px,#6aff00 92px,#8bff00 94px,#37ff00 96px,#00ff22 98px,#00ff31 100px,#00ff11 102px,#26ff00 104px,#00ff18 106px,#00ff40 108px,#00ff67 110px,#00ff20 112px,#00ff5d 114px,#00ff78 116px,#00ff92 118px,#00ff77 120px,#00ff9c 122px,#00ffbb 124px,#00ffd4 126px,#00ff9c 128px,#00ffe5 130px,#00ffe9 132px,#00fffe 134px,#00fffc 136px,#00efff 138px,#00e2ff 140px)}.c45{background:linear-gradient(#ff6300 0px,#ffdb00 2px,#ff0b00 4px,#ff6400 6px,#ffe900 8px,#ff4800 10px,#ff7900 12px,#ff3600 14px,#ff9c00 16px,#ff7300 18px,#ff0d0d 20px,#ff3434 22px,#ff1919 24px,#ff9c00 26px,#ff1f00 28px,#ff9100 30px,#ff4700 32px,#ff1000 34px,#ff5d00 36px,#ffe100 38px,#ff4040 40px,#ebff00 42px,#ff2900 44px,#ff6800 46px,#ffe600 48px,#ff9200 50px,#ff4e00 52px,#ffa400 54px,#ffc600 56px,#ff2000 58px,#ffa900 60px,#ff9e9e 62px,#ff1f1f 64px,#ff5a00 66px,#ffd100 68px,#ff5a00 70px,#ffee00 72px,#ff3600 74px,#ffa400 76px,#ffee00 78px,#ffc800 80px,#ff6300 82px,#ff6d00 84px,#faff00 86px,#ffb800 88px,#ffc900 90px,#ffbf00 92px,#ffd500 94px,#ffcd00 96px,#ffe400 98px,#ffbe00 100px,#ffef00 102px,#ffb000 104px,#ffeb00 106px,#ffeb00 108px,#fff300 110px,#fffd00 112px,#eeff00 114px,#fff200 116px,#c5ff00 118px,#fcff00 120px,#f4ff00 122px,#c6ff00 124px,#e4ff00 126px,#f1ff00 128px,#c6ff00 130px,#c2ff00 132px,#aaff00 134px,#afff00 136px,#a1ff00 138px,#9cff00 140px)}.c46{background:linear-gradient(#eaff00 0px,#00ff1f 2px,#00ff02 4px,#36ff00 6px,#a2ff00 8px,#ffaf00 10px,#ffb700 12px,#caff00 14px,#ffe200 16px,#89ff00 18px,#b2ff00 20px,#bbff00 22px,#fff700 24px,#d6ff00 26px,#ccff00 28px,#00ff25 30px,#00ff8e 32px,#a2ff00 34px,#ffb300 36px,#a7ff00 38px,#72ff00 40px,#00ff26 42px,#00ff2e 44px,#00ff0f 46px,#00ff0b 48px,#00ff27 50px,#00f2ff 52px,#00ff34 54px,#13ff00 56px,#8dff00 58px,#6fff00 60px,#00ff9a 62px,#6bff00 64px,#00ff0c 66px,#00beff 68px,#00c6ff 70px,#00ffc7 72px,#00ff7b 74px,#00ffc1 76px,#00d1ff 78px,#00ffd8 80px,#00ebff 82px,#00b7ff 84px,#00ebff 86px,#0081ff 88px,#00bbff 90px,#0051ff 92px,#00b4ff 94px,#004aff 96px,#00afff 98px,#0037ff 100px,#0000fe 102px,#0035ff 104px,#0039ff 106px,#0000e5 108px,#0000f1 110px,#0000c9 112px,#0000bb 114px,#0000c5 116px,#0000a2 118px,#000096 120px,#000069 122px,#000058 124px,#00003f 126px,#000003 128px,#000000 130px,#00001a 132px,#000008 134px,#000000 136px,#00001a 138px,#000000 140px)}.c47{background:linear-gradient(#ff2424 0px,#ff8c00 2px,#ff5959 4px,#ff2525 6px,#ff3e3e 8px,#ff1e00 10px,#ff4100 12px,#ff0f00 14px,#ff0b0b 16px,#ff2b00 18px,#ff4700 20px,#ff1a1a 22px,#ffa3a3 24px,#ff1717 26px,#ffb000 28px,#ff4848 30px,#ff0500 32px,#ff6d00 34px,#ff7f00 36px,#ff3500 38px,#ff2f00 40px,#ff5050 42px,#ff2e2e 44px,#ffb100 46px,#ffc600 48px,#ff2600 50px,#ff7200 52px,#ff2800 54px,#ff2b00 56px,#ffbf00 58px,#ff3200 60px,#ff8e00 62px,#ff6d00 64px,#ff9d00 66px,#ff2b00 68px,#ff6e00 70px,#ff8b00 72px,#ff7000 74px,#ff4b00 76px,#ff4646 78px,#ff6300 80px,#ff7b00 82px,#ff3f00 84px,#ffa600 86px,#ffa900 88px,#ff0600 90px,#ff5a00 92px,#ff8400 94px,#ff6f00 96px,#ff8600 98px,#ff8100 100px,#ff9800 102px,#ffae00 104px,#ffa500 106px,#ffbf00 108px,#ffaf00 110px,#ffbb00 112px,#ffde00 114px,#ffd500 116px,#ffca00 118px,#ffe200 120px,#ffc500 122px,#ffc900 124px,#fff100 126px,#ffd700 128px,#ffe800 130px,#fff300 132px,#f5ff00 134px,#fff900 136px,#fff200 138px,#f4ff00 140px)}.c48{background:linear-gradient(#43ff00 0px,#00ff33 2px,#00ff15 4px,#57ff00 6px,#59ff00 8px,#00ffb6 10px,#00ff52 12px,#60ff00 14px,#98ff00 16px,#3aff00 18px,#00ff99 20px,#00ff46 22px,#56ff00 24px,#00ff02 26px,#14ff00 28px,#00ff3b 30px,#00ff57 32px,#00ff76 34px,#63ff00 36px,#00ffec 38px,#00dbff 40px,#00f6ff 42px,#00f2ff 44px,#00d3ff 46px,#00c0ff 48px,#00ffea 50px,#00ebff 52px,#003dff 54px,#00a1ff 56px,#004cff 58px,#00d5ff 60px,#00c6ff 62px,#00d3ff 64px,#00b6ff 66px,#0000fe 68px,#0000b3 70px,#000000 72px,#000057 74px,#000000 76px,#000077 78px,#000036 80px,#000000 82px,#000038 84px,#000036 86px,#000053 88px,#000081 90px,#00008a 92px,#000010 94px,#00006b 96px,#000027 98px,#000040 100px,#000018 102px,#000035 104px,#000001 106px,#000013 108px,#00003a 110px,#00000c 112px,#000021 114px,#000000 116px,#000000 118px,#000012 120px,#000002 122px,#000000 124px,#000027 126px,#000000 128px,#000032 130px,#00001b 132px,#00001f 134px,#000002 136px,#000014 138px,#00000b 140px)}.c49{background:linear-gradient(#0000a6 0px,#00004b 2px,#0032ff 4px,#00009a 6px,#00ddff 8px,#000000 10px,#0000e9 12px,#00008a 14px,#0000b7 16px,#007cff 18px,#000000 20px,#00009d 22px,#0000b6 24px,#0000e3 26px,#000099 28px,#005fff 30px,#005fff 32px,#007cff 34px,#0082ff 36px,#0030ff 38px,#000038 40px,#0000bd 42px,#0000e8 44px,#0039ff 46px,#00ffd7 48px,#000000 50px,#00009c 52px,#0065ff 54px,#000033 56px,#003aff 58px,#0000db 60px,#00009e 62px,#000096 64px,#000078 66px,#000061 68px,#000dff 70px,#0000f5 72px,#0000bc 74px,#00009b 76px,#0000a5 78px,#0000c6 80px,#000053 82px,#0000cf 84px,#0000a3 86px,#0000c3 88px,#00005c 90px,#00000a 92px,#000055 94px,#00002a 96px,#00003c 98px,#000083 100px,#000038 102px,#000019 104px,#00002f 106px,#000007 108px,#000015 110px,#000055 112px,#000037 114px,#000000 116px,#000002 118px,#000017 120px,#000021 122px,#000024 124px,#000016 126px,#000008 128px,#00000c 130px,#000010 132px,#000001 134px,#000000 136px,#000000 138px,#000001 140px)}.c50{background:linear-gradient(#00ff44 0px,#54ff00 2px,#86ff00 4px,#dbff00 6px,#00ff14 8px,#00ff0b 10px,#76ff00 12px,#ffa800 14px,#caff00 16px,#4aff00 18px,#5aff00 20px,#90ff00 22px,#00ff28 24px,#89ff00 26px,#00ffde 28px,#00ff9c 30px,#68ff00 32px,#00ff88 34px,#00ff7d 36px,#00ccff 38px,#00afff 40px,#00c4ff 42px,#00ffa0 44px,#008cff 46px,#00ffdd 48px,#65ff00 50px,#0090ff 52px,#0074ff 54px,#00ceff 56px,#0061ff 58px,#00ff28 60px,#0043ff 62px,#0000f8 64px,#0000ba 66px,#0000a5 68px,#00ffcb 70px,#0000d4 72px,#0000ab 74px,#007cff 76px,#0000a5 78px,#000050 80px,#000029 82px,#00002f 84px,#0000b3 86px,#0000bf 88px,#00007a 90px,#000034 92px,#00001b 94px,#000022 96px,#00004a 98px,#000006 100px,#00001d 102px,#000008 104px,#00005b 106px,#000015 108px,#000010 110px,#00000b 112px,#000019 114px,#000036 116px,#00000a 118px,#000003 120px,#00002b 122px,#000017 124px,#000018 126px,#000000 128px,#000006 130px,#000000 132px,#000023 134px,#000029 136px,#000000 138px,#000008 140px)}.c51{background:linear-gradient(#000000 0px,#00008c 2px,#00006c 4px,#000003 6px,#0046ff 8px,#000074 10px,#000070 12px,#00004d 14px,#0000fa 16px,#000000 18px,#000076 20px,#0000d6 22px,#000000 24px,#000042 26px,#00007a 28px,#000000 30px,#0000eb 32px,#000088 34px,#0000cb 36px,#0000dd 38px,#000dff 40px,#00007a 42px,#0015ff 44px,#00006c 46px,#000073 48px,#00004a 50px,#0011ff 52px,#0000d8 54px,#0000cf 56px,#000011 58px,#0022ff 60px,#0000d9 62px,#002cff 64px,#00001f 66px,#0021ff 68px,#0000c6 70px,#00004d 72px,#00002a 74px,#0077ff 76px,#000aff 78px,#00005b 80px,#00001b 82px,#0000f5 84px,#0058ff 86px,#000083 88px,#000095 90px,#000053 92px,#000089 94px,#00009b 96px,#00009b 98px,#00004c 100px,#000056 102px,#000068 104px,#000041 106px,#00002e 108px,#000000 110px,#000006 112px,#000000 114px,#000014 116px,#000000 118px,#000001 120px,#000000 122px,#000000 124px,#00002d 126px,#000011 128px,#000007 130px,#000000 132px,#000000 134px,#000000 136px,#000002 138px,#000004 140px)}.c52{background:linear-gradient(#00ffdd 0px,#00fff0 2px,#00ff7e 4px,#00ffe0 6px,#27ff00 8px,#00e3ff 10px,#00ffeb 12px,#00ff7d 14px,#00ffaa 16px,#00e6ff 18px,#00f5ff 20px,#00f4ff 22px,#00ffed 24px,#00ffdb 26px,#00e4ff 28px,#00c0ff 30px,#0053ff 32px,#0047ff 34px,#0043ff 36px,#0000f1 38px,#0000fa 40px,#0000bb 42px,#00004d 44px,#00003c 46px,#001dff 48px,#000fff 50px,#000000 52px,#0000bd 54px,#000047 56px,#009eff 58px,#002dff 60px,#000066 62px,#000077 64px,#00002c 66px,#00001b 68px,#0010ff 70px,#000046 72px,#000057 74px,#001eff 76px,#00005e 78px,#000057 80px,#0000d0 82px,#000085 84px,#00003f 86px,#0000e5 88px,#000024 90px,#000012 92px,#000072 94px,#000000 96px,#000023 98px,#000069 100px,#000025 102px,#000016 104px,#000025 106px,#000039 108px,#000023 110px,#000042 112px,#000000 114px,#000039 116px,#000000 118px,#000000 120px,#00001b 122px,#000049 124px,#000007 126px,#00000d 128px,#000000 130px,#000000 132px,#000000 134px,#000003 136px,#00001a 138px,#000003 140px)}.c53{background:linear-gradient(#0039ff 0px,#000cff 2px,#0000fe 4px,#0000fe 6px,#0022ff 8px,#0048ff 10px,#000000 12px,#00000d 14px,#000000 16px,#000000 18px,#000000 20px,#000044 22px,#0000ea 24px,#00009b 26px,#000079 28px,#000092 30px,#00000e 32px,#000074 34px,#000069 36px,#0061ff 38px,#000000 40px,#000000 42px,#00007d 44px,#0028ff 46px,#009dff 48px,#000066 50px,#00003d 52px,#0037ff 54px,#00005a 56px,#0006ff 58px,#0000fd 60px,#000033 62px,#0008ff 64px,#00001b 66px,#000068 68px,#000000 70px,#0000a8 72px,#0000e8 74px,#00007b 76px,#001cff 78px,#000000 80px,#00006c 82px,#000088 84px,#000012 86px,#00004e 88px,#000000 90px,#000012 92px,#000009 94px,#000039 96px,#00003f 98px,#000030 100px,#000045 102px,#00000a 104px,#00004e 106px,#00005a 108px,#000000 110px,#00003e 112px,#000035 114px,#000025 116px,#000021 118px,#00002d 120px,#000000 122px,#000039 124px,#000039 126px,#000000 128px,#00001d 130px,#00000e 132px,#000010 134px,#000000 136px,#000000 138px,#00001e 140px)}.c54{background:linear-gradient(#20ff00 0px,#00ff9b 2px,#fcff00 4px,#4bff00 6px,#00bdff 8px,#04ff00 10px,#00ff20 12px,#00ffb4 14px,#009eff 16px,#00ff74 18px,#00ff9b 20px,#00ff69 22px,#00ff82 24px,#00ff5b 26px,#00f8ff 28px,#00fff7 30px,#00ff92 32px,#00ffec 34px,#00d0ff 36px,#00ffba 38px,#00ff73 40px,#00b7ff 42px,#00dcff 44px,#00d1ff 46px,#00d3ff 48px,#00ffbc 50px,#00b4ff 52px,#00e1ff 54px,#0000a2 56px,#0086ff 58px,#00caff 60px,#000000 62px,#000000 64px,#0000f1 66px,#000000 68px,#0000c3 70px,#0080ff 72px,#0000c4 74px,#004aff 76px,#0025ff 78px,#000087 80px,#0000ad 82px,#00003a 84px,#00009e 86px,#00005c 88px,#000016 90px,#000046 92px,#00007b 94px,#000036 96px,#000065 98px,#000046 100px,#00004f 102px,#000049 104px,#000018 106px,#00001e 108px,#00001f 110px,#000009 112px,#000006 114px,#000012 116px,#000000 118px,#00002c 120px,#000000 122px,#000001 124px,#000000 126px,#00000a 128px,#000000 130px,#000007 132px,#000011 134px,#00001c 136px,#00000d 138px,#000005 140px)}.c55{background:linear-gradient(#45ff00 0px,#f0ff00 2px,#22ff00 4px,#b9ff00 6px,#ffb800 8px,#ffc300 10px,#ddff00 12px,#e5ff00 14px,#d7ff00 16px,#00ff3d 18px,#ffe300 20px,#00ff63 22px,#97ff00 24px,#00ff81 26px,#90ff00 28px,#a6ff00 30px,#92ff00 32px,#00ff91 34px,#06ff00 36px,#00ff4d 38px,#00ffb0 40px,#00ff4d 42px,#46ff00 44px,#00ff23 46px,#00c3ff 48px,#00ff95 50px,#00ff54 52px,#00fffd 54px,#00ff57 56px,#00ffa6 58px,#00a0ff 60px,#00ffbf 62px,#0082ff 64px,#004fff 66px,#00ffa9 68px,#0057ff 70px,#0000a0 72px,#009eff 74px,#006fff 76px,#001bff 78px,#0084ff 80px,#0000f1 82px,#0000f0 84px,#0000e9 86px,#000041 88px,#000055 90px,#00005a 92px,#000044 94px,#0000a3 96px,#00006e 98px,#000000 100px,#000010 102px,#000037 104px,#000049 106px,#000063 108px,#00003f 110px,#00002d 112px,#000014 114px,#000076 116px,#00000b 118px,#00000e 120px,#000000 122px,#00004b 124px,#000019 126px,#00001c 128px,#000000 130px,#00001e 132px,#00001b 134px,#000000 136px,#000000 138px,#000000 140px)}.c56{background:linear-gradient(#00ff2a 0px,#00ff26 2px,#00ff6e 4px,#d9ff00 6px,#adff00 8px,#16ff00 10px,#12ff00 12px,#95ff00 14px,#00ff41 16px,#00ff15 18px,#00ff59 20px,#00ff7a 22px,#16ff00 24px,#ffc800 26px,#3cff00 28px,#00ffa3 30px,#00ff22 32px,#23ff00 34px,#00ff13 36px,#00ff4b 38px,#00ff4e 40px,#00ffd3 42px,#00ff20 44px,#00ff9c 46px,#00ff37 48px,#0fff00 50px,#00dbff 52px,#d5ff00 54px,#00a0ff 56px,#00ff53 58px,#00ffd0 60px,#00b6ff 62px,#00dcff 64px,#00ffdc 66px,#00ffd7 68px,#00ffdc 70px,#0066ff 72px,#0086ff 74px,#0052ff 76px,#00ffb6 78px,#0081ff 80px,#0062ff 82px,#00ccff 84px,#0089ff 86px,#0000ee 88px,#001aff 90px,#0000bb 92px,#0000c9 94px,#00009f 96px,#000076 98px,#00007e 100px,#000004 102px,#00003c 104px,#00001b 106px,#000032 108px,#000065 110px,#00002e 112px,#000037 114px,#000000 116px,#000013 118px,#00003b 120px,#000000 122px,#000000 124px,#000024 126px,#00004b 128px,#00002c 130px,#00000c 132px,#00000f 134px,#000016 136px,#000000 138px,#000003 140px)}.c57{background:linear-gradient(#00ff4f 0px,#00c3ff 2px,#00b5ff 4px,#00ff64 6px,#0fff00 8px,#50ff00 10px,#00ffab 12px,#00f0ff 14px,#00ff38 16px,#00fff3 18px,#00ff76 20px,#00ffb5 22px,#00ffd6 24px,#00d5ff 26px,#00ffb3 28px,#008dff 30px,#00ffe2 32px,#0062ff 34px,#009aff 36px,#0022ff 38px,#0083ff 40px,#00008e 42px,#0000ec 44px,#0000e4 46px,#0000a7 48px,#0000e6 50px,#0000ea 52px,#0000d7 54px,#000029 56px,#00006d 58px,#00003f 60px,#00006c 62px,#0000d1 64px,#000021 66px,#0000bf 68px,#00008f 70px,#0022ff 72px,#000028 74px,#000090 76px,#0000dc 78px,#000013 80px,#0008ff 82px,#000007 84px,#000059 86px,#0000ba 88px,#00005a 90px,#000089 92px,#000043 94px,#00005a 96px,#00009e 98px,#000067 100px,#000013 102px,#000007 104px,#000003 106px,#000002 108px,#000000 110px,#000008 112px,#000042 114px,#000026 116px,#00002d 118px,#000008 120px,#000010 122px,#000000 124px,#000000 126px,#000048 128px,#000000 130px,#00001b 132px,#000000 134px,#00000d 136px,#000000 138px,#000020 140px)}.c58{background:linear-gradient(#35ff00 0px,#43ff00 2px,#00ff9a 4px,#ecff00 6px,#00ffbb 8px,#94ff00 10px,#45ff00 12px,#b5ff00 14px,#9eff00 16px,#feff00 18px,#00ff41 20px,#1eff00 22px,#e9ff00 24px,#00ff82 26px,#00ff2f 28px,#5eff00 30px,#00ffb9 32px,#00ff86 34px,#00ff2d 36px,#00ff72 38px,#00ff3e 40px,#44ff00 42px,#00ff68 44px,#00ff14 46px,#0082ff 48px,#00ffc6 50px,#0043ff 52px,#00b6ff 54px,#00d9ff 56px,#00d0ff 58px,#001bff 60px,#005dff 62px,#00ffbb 64px,#0086ff 66px,#00a1ff 68px,#003bff 70px,#0003ff 72px,#0000df 74px,#0000e8 76px,#0000cf 78px,#000079 80px,#000065 82px,#000051 84px,#000083 86px,#000027 88px,#0000b9 90px,#00004f 92px,#000033 94px,#00000b 96px,#00005c 98px,#00002c 100px,#00000c 102px,#000006 104px,#00002f 106px,#000000 108px,#00004e 110px,#000030 112px,#000032 114px,#000046 116px,#000015 118px,#000009 120px,#000028 122px,#000002 124px,#00001a 126px,#000010 128px,#000032 130px,#000027 132px,#00000c 134px,#000029 136px,#000003 138px,#000000 140px)}.c59{background:linear-gradient(#ff8500 0px,#ffd100 2px,#ff8900 4px,#ffc200 6px,#ffeb00 8px,#ffe400 10px,#ffd500 12px,#edff00 14px,#fff100 16px,#4dff00 18px,#ff5200 20px,#00ff46 22px,#c2ff00 24px,#ffc300 26px,#ffe800 28px,#85ff00 30px,#aeff00 32px,#ffd400 34px,#ffba00 36px,#93ff00 38px,#53ff00 40px,#80ff00 42px,#aaff00 44px,#b8ff00 46px,#ebff00 48px,#ccff00 50px,#00ff37 52px,#4fff00 54px,#35ff00 56px,#00ff88 58px,#91ff00 60px,#00ff51 62px,#ffb200 64px,#ffd600 66px,#00ffbc 68px,#37ff00 70px,#00ff1d 72px,#00ff78 74px,#00ff5b 76px,#00ff0e 78px,#01ff00 80px,#00ff64 82px,#00ffab 84px,#00ff39 86px,#00ffe8 88px,#00ffcc 90px,#00ffdb 92px,#00ffdc 94px,#00fff7 96px,#00d0ff 98px,#00f6ff 100px,#00afff 102px,#00e1ff 104px,#00cfff 106px,#0086ff 108px,#0096ff 110px,#007aff 112px,#0087ff 114px,#004eff 116px,#002fff 118px,#0000f2 120px,#0000c4 122px,#00009d 124px,#000099 126px,#00006e 128px,#00003b 130px,#000036 132px,#00000f 134px,#000002 136px,#000000 138px,#000006 140px)}.c60{background:linear-gradient(#ffbb00 0px,#ff3400 2px,#ff0f00 4px,#ff6200 6px,#ebff00 8px,#ff8d00 10px,#ffab00 12px,#ff9d00 14px,#ff2200 16px,#ff8800 18px,#ffd400 20px,#ff8100 22px,#ff8900 24px,#ff4b00 26px,#ff8e00 28px,#ffb100 30px,#ffbc00 32px,#e6ff00 34px,#ffbf00 36px,#ffb800 38px,#ff7600 40px,#63ff00 42px,#ff0505 44px,#ffda00 46px,#ff9100 48px,#ff4f00 50px,#99ff00 52px,#ff4700 54px,#ffd300 56px,#a9ff00 58px,#ff6300 60px,#ffd000 62px,#ff9800 64px,#ff1c00 66px,#ff4e00 68px,#85ff00 70px,#ff6500 72px,#ffcd00 74px,#ff8b00 76px,#ff9d00 78px,#ff9300 80px,#ceff00 82px,#98ff00 84px,#ffa400 86px,#c0ff00 88px,#84ff00 90px,#ffd200 92px,#fff100 94px,#ffe200 96px,#c1ff00 98px,#eaff00 100px,#b5ff00 102px,#e3ff00 104px,#c5ff00 106px,#baff00 108px,#d1ff00 110px,#84ff00 112px,#acff00 114px,#7cff00 116px,#7dff00 118px,#96ff00 120px,#5cff00 122px,#58ff00 124px,#75ff00 126px,#68ff00 128px,#4fff00 130px,#60ff00 132px,#56ff00 134px,#3cff00 136px,#38ff00 138px,#2aff00 140px)}.c61{background:linear-gradient(#ffe500 0px,#ffdb00 2px,#ff1313 4px,#ff5800 6px,#ff5a00 8px,#ff0505 10px,#ff6e00 12px,#ff1400 14px,#e2ff00 16px,#ffc400 18px,#ff3700 20px,#ff4800 22px,#ff9500 24px,#ff3d00 26px,#ff9500 28px,#ff8b00 30px,#ffd300 32px,#fff300 34px,#ff9100 36px,#ffe400 38px,#ffc800 40px,#ffc100 42px,#ff8e00 44px,#ff0e0e 46px,#ff5600 48px,#ffaf00 50px,#ff5300 52px,#64ff00 54px,#a7ff00 56px,#ffc300 58px,#f5ff00 60px,#ffd000 62px,#fff500 64px,#74ff00 66px,#d7ff00 68px,#ff9a00 70px,#a8ff00 72px,#ffcd00 74px,#fff300 76px,#ffbf00 78px,#35ff00 80px,#f7ff00 82px,#91ff00 84px,#00ff0c 86px,#00ff0a 88px,#89ff00 90px,#32ff00 92px,#4fff00 94px,#86ff00 96px,#4bff00 98px,#1cff00 100px,#56ff00 102px,#00ff04 104px,#00ff2d 106px,#00ff23 108px,#00ff13 110px,#00ff3b 112px,#00ff24 114px,#00ff43 116px,#00ff6c 118px,#00ff9a 120px,#00ff8b 122px,#00ffad 124px,#00ffaa 126px,#00ff95 128px,#00ffc8 130px,#00ffb0 132px,#00ffec 134px,#00ffea 136px,#00fff6 138px,#00eeff 140px)}.c62{background:linear-gradient(#c7ff00 0px,#00ff2e 2px,#7fff00 4px,#00ffcb 6px,#cfff00 8px,#25ff00 10px,#00ff1f 12px,#00ffa4 14px,#00f1ff 16px,#00ff75 18px,#00b0ff 20px,#00ffdc 22px,#0059ff 24px,#00d7ff 26px,#0081ff 28px,#00ff46 30px,#00cbff 32px,#00aaff 34px,#0083ff 36px,#000038 38px,#00e6ff 40px,#00d0ff 42px,#0027ff 44px,#000069 46px,#0000fb 48px,#000069 50px,#000013 52px,#000032 54px,#0000f1 56px,#0000b8 58px,#000079 60px,#0000c9 62px,#000000 64px,#000075 66px,#00f4ff 68px,#0045ff 70px,#000027 72px,#00005a 74px,#000018 76px,#0009ff 78px,#000055 80px,#000056 82px,#004aff 84px,#000045 86px,#00004b 88px,#00007b 90px,#000000 92px,#00000c 94px,#000020 96px,#00001a 98px,#000043 100px,#000060 102px,#00006e 104px,#000018 106px,#000009 108px,#000000 110px,#00000c 112px,#000000 114px,#00003a 116px,#000016 118px,#00002b 120px,#000016 122px,#00000f 124px,#000016 126px,#00001a 128px,#000003 130px,#00002a 132px,#000000 134px,#000000 136px,#000004 138px,#000021 140px)}.c63{background:linear-gradient(#ff3b00 0px,#ff9900 2px,#fff000 4px,#ffa700 6px,#ffe700 8px,#3aff00 10px,#ffde00 12px,#ffa500 14px,#ff3700 16px,#fffb00 18px,#ff9c00 20px,#ffac00 22px,#baff00 24px,#ffc900 26px,#29ff00 28px,#8dff00 30px,#ffd400 32px,#ffb400 34px,#fff100 36px,#ffe800 38px,#3aff00 40px,#fffd00 42px,#04ff00 44px,#92ff00 46px,#fffa00 48px,#c6ff00 50px,#d1ff00 52px,#ffed00 54px,#00ff0a 56px,#00ff5e 58px,#d9ff00 60px,#00ff3d 62px,#2dff00 64px,#7cff00 66px,#00ff20 68px,#0fff00 70px,#8eff00 72px,#00ff53 74px,#00ff00 76px,#00ff7f 78px,#00ff21 80px,#03ff00 82px,#00ff24 84px,#00ff45 86px,#0aff00 88px,#00ff47 90px,#00ffad 92px,#00ff4c 94px,#00ff68 96px,#00ff7f 98px,#00ffc4 100px,#00ffc5 102px,#00ffd8 104px,#00ffd8 106px,#00ffc0 108px,#00ffee 110px,#00ffb3 112px,#00f9ff 114px,#00fffd 116px,#00e7ff 118px,#00bcff 120px,#00daff 122px,#00d6ff 124px,#00e5ff 126px,#00a4ff 128px,#00b5ff 130px,#00a3ff 132px,#0071ff 134px,#0088ff 136px,#0072ff 138px,#0062ff 140px)}.c64{background:linear-gradient(#e7ff00 0px,#c6ff00 2px,#ffe300 4px,#9dff00 6px,#ff9e00 8px,#ffdd00 10px,#ffe800 12px,#ffa500 14px,#e6ff00 16px,#1bff00 18px,#ffbc00 20px,#54ff00 22px,#70ff00 24px,#86ff00 26px,#fcff00 28px,#00ffa2 30px,#ffed00 32px,#9eff00 34px,#b6ff00 36px,#00ffab 38px,#13ff00 40px,#0bff00 42px,#41ff00 44px,#69ff00 46px,#00ff18 48px,#00ff5f 50px,#4cff00 52px,#00ff8b 54px,#c7ff00 56px,#00ff72 58px,#00ff28 60px,#3cff00 62px,#00ff20 64px,#00ff85 66px,#00ff99 68px,#00ff5a 70px,#00ff31 72px,#0080ff 74px,#00ff4c 76px,#54ff00 78px,#00e5ff 80px,#00d7ff 82px,#005cff 84px,#00ffb0 86px,#0077ff 88px,#00c7ff 90px,#00b8ff 92px,#00dbff 94px,#009cff 96px,#0071ff 98px,#006fff 100px,#0064ff 102px,#0042ff 104px,#0025ff 106px,#0033ff 108px,#002aff 110px,#0000fc 112px,#0000d3 114px,#0000b3 116px,#0000a3 118px,#000081 120px,#000093 122px,#00002f 124px,#00004a 126px,#000026 128px,#000000 130px,#000019 132px,#00000b 134px,#000000 136px,#00000d 138px,#000008 140px)}.c65{background:linear-gradient(#00ff90 0px,#00ff7a 2px,#00ff27 4px,#e7ff00 6px,#00ff51 8px,#00ff39 10px,#00ffda 12px,#00ff20 14px,#1bff00 16px,#00ff38 18px,#00ffc6 20px,#00ff7b 22px,#01ff00 24px,#00ff92 26px,#00e1ff 28px,#00ffe5 30px,#00ffc3 32px,#0066ff 34px,#00ff6c 36px,#00a4ff 38px,#001dff 40px,#00ffda 42px,#00ff61 44px,#00ffdc 46px,#00d6ff 48px,#00ff5c 50px,#0092ff 52px,#0082ff 54px,#0093ff 56px,#0032ff 58px,#0046ff 60px,#0000d6 62px,#00aeff 64px,#0000cb 66px,#005bff 68px,#0000d7 70px,#005cff 72px,#000070 74px,#0000f9 76px,#0085ff 78px,#00abff 80px,#000033 82px,#000070 84px,#000050 86px,#00009e 88px,#000000 90px,#00001c 92px,#00001b 94px,#000010 96px,#000000 98px,#00000a 100px,#00004a 102px,#000000 104px,#00005f 106px,#000012 108px,#00001f 110px,#000012 112px,#00001d 114px,#00001a 116px,#000001 118px,#000006 120px,#000031 122px,#000000 124px,#000002 126px,#000017 128px,#000011 130px,#00000c 132px,#00001c 134px,#000001 136px,#00001e 138px,#000010 140px)}.c66{background:linear-gradient(#6dff00 0px,#fffb00 2px,#f9ff00 4px,#98ff00 6px,#ffdf00 8px,#b1ff00 10px,#74ff00 12px,#67ff00 14px,#14ff00 16px,#ffc200 18px,#dfff00 20px,#1bff00 22px,#00ff8d 24px,#00ff28 26px,#56ff00 28px,#00ff72 30px,#4fff00 32px,#ff8600 34px,#62ff00 36px,#89ff00 38px,#00ff13 40px,#0073ff 42px,#87ff00 44px,#00ff82 46px,#a0ff00 48px,#00a2ff 50px,#00ffb2 52px,#00feff 54px,#00c3ff 56px,#008aff 58px,#00deff 60px,#003fff 62px,#00ffe0 64px,#0061ff 66px,#0000e5 68px,#003aff 70px,#0000a2 72px,#000023 74px,#0026ff 76px,#001fff 78px,#0004ff 80px,#0000d0 82px,#000059 84px,#000000 86px,#000029 88px,#000090 90px,#00003a 92px,#000054 94px,#00005d 96px,#000027 98px,#000037 100px,#000046 102px,#000000 104px,#000037 106px,#000056 108px,#00002c 110px,#000037 112px,#00002c 114px,#000040 116px,#000051 118px,#000032 120px,#000026 122px,#000000 124px,#000011 126px,#000000 128px,#000005 130px,#000000 132px,#00001d 134px,#000015 136px,#000000 138px,#000015 140px)}.c67{background:linear-gradient(#55ff00 0px,#00ffed 2px,#00ecff 4px,#00ffda 6px,#00ff92 8px,#34ff00 10px,#00efff 12px,#4eff00 14px,#00ffa9 16px,#00ffc8 18px,#00ff2d 20px,#2cff00 22px,#00cfff 24px,#00ff96 26px,#0062ff 28px,#0084ff 30px,#0044ff 32px,#0098ff 34px,#00eeff 36px,#006dff 38px,#0000ef 40px,#000064 42px,#0000e3 44px,#0000dc 46px,#005dff 48px,#0000cc 50px,#0000aa 52px,#000040 54px,#0000bb 56px,#0000f3 58px,#000084 60px,#004fff 62px,#00001a 64px,#0009ff 66px,#00007e 68px,#0000e4 70px,#0000e8 72px,#000044 74px,#000000 76px,#003aff 78px,#000000 80px,#00002f 82px,#000091 84px,#000000 86px,#000036 88px,#00009b 90px,#000072 92px,#000080 94px,#000036 96px,#000009 98px,#000039 100px,#00000a 102px,#00008c 104px,#000020 106px,#00002f 108px,#000053 110px,#000029 112px,#00003c 114px,#000016 116px,#000022 118px,#000047 120px,#00003e 122px,#000019 124px,#000021 126px,#000010 128px,#000005 130px,#000012 132px,#000018 134px,#000000 136px,#000006 138px,#000000 140px)}.c68{background:linear-gradient(#00ff92 0px,#00ff2f 2px,#65ff00 4px,#77ff00 6px,#00fffd 8px,#00ffa3 10px,#00ff81 12px,#26ff00 14px,#00ff24 16px,#00ff62 18px,#00ff4f 20px,#0034ff 22px,#00ffb9 24px,#00ffc3 26px,#0000eb 28px,#00ff8f 30px,#00c4ff 32px,#00bcff 34px,#00ff8e 36px,#00ff34 38px,#00b2ff 40px,#009fff 42px,#00fff3 44px,#008fff 46px,#0046ff 48px,#000062 50px,#001dff 52px,#005cff 54px,#0012ff 56px,#00cdff 58px,#00009f 60px,#0000c6 62px,#00acff 64px,#0000e7 66px,#0027ff 68px,#000000 70px,#0012ff 72px,#0000ea 74px,#00004d 76px,#00005c 78px,#0000cd 80px,#00008a 82px,#00009d 84px,#000032 86px,#00005c 88px,#00009f 90px,#000012 92px,#000018 94px,#000010 96px,#00003f 98px,#000015 100px,#000038 102px,#00006a 104px,#000038 106px,#00000d 108px,#000018 110px,#00000b 112px,#000025 114px,#00002e 116px,#000026 118px,#00002c 120px,#000014 122px,#00004d 124px,#00001f 126px,#00000e 128px,#000026 130px,#00002b 132px,#00000a 134px,#00000c 136px,#000009 138px,#000003 140px)}.c69{background:linear-gradient(#000000 0px,#000096 2px,#006cff 4px,#0000e1 6px,#0000c5 8px,#00adff 10px,#00005e 12px,#000072 14px,#000057 16px,#00006d 18px,#000046 20px,#00d8ff 22px,#00008b 24px,#000091 26px,#0000f7 28px,#0000db 30px,#00009f 32px,#0000db 34px,#001bff 36px,#000074 38px,#00007f 40px,#0000e8 42px,#000011 44px,#0000f1 46px,#000000 48px,#0086ff 50px,#0019ff 52px,#0000a6 54px,#0000a4 56px,#00009f 58px,#000000 60px,#000073 62px,#0000e0 64px,#00008c 66px,#00009c 68px,#0000fd 70px,#003fff 72px,#000087 74px,#000086 76px,#0000e1 78px,#0089ff 80px,#00000b 82px,#00005b 84px,#000000 86px,#000000 88px,#000087 90px,#000018 92px,#000036 94px,#000005 96px,#00006b 98px,#000028 100px,#00001e 102px,#000052 104px,#000025 106px,#00002b 108px,#000000 110px,#00001d 112px,#00000f 114px,#000033 116px,#00001f 118px,#000035 120px,#000019 122px,#000000 124px,#000010 126px,#000000 128px,#000022 130px,#000000 132px,#000000 134px,#000009 136px,#00000a 138px,#00000c 140px)}.c70{background:linear-gradient(#0031ff 0px,#0092ff 2px,#000082 4px,#000000 6px,#000071 8px,#0000a7 10px,#0000ea 12px,#0008ff 14px,#0000ba 16px,#0000a5 18px,#000000 20px,#0000bc 22px,#00005a 24px,#000022 26px,#00000d 28px,#000036 30px,#0000cc 32px,#0000a5 34px,#00003f 36px,#000030 38px,#000072 40px,#000004 42px,#000000 44px,#00004f 46px,#000054 48px,#0040ff 50px,#000000 52px,#0000b0 54px,#00005f 56px,#000000 58px,#0000ec 60px,#000086 62px,#000000 64px,#0011ff 66px,#0000c2 68px,#00006d 70px,#0000b1 72px,#000015 74px,#00007d 76px,#000054 78px,#0022ff 80px,#000037 82px,#000048 84px,#000012 86px,#000070 88px,#00004c 90px,#00004e 92px,#000087 94px,#000041 96px,#000062 98px,#00002f 100px,#000035 102px,#00001a 104px,#000047 106px,#00004b 108px,#00001e 110px,#000000 112px,#000047 114px,#000008 116px,#000027 118px,#00000f 120px,#000026 122px,#000025 124px,#00002d 126px,#000000 128px,#000000 130px,#00000d 132px,#000014 134px,#000028 136px,#000010 138px,#000007 140px)}.c71{background:linear-gradient(#24ff00 0px,#ffe900 2px,#5bff00 4px,#e6ff00 6px,#49ff00 8px,#3fff00 10px,#7bff00 12px,#00e5ff 14px,#00ff71 16px,#00ff66 18px,#00ff7b 20px,#00ffad 22px,#40ff00 24px,#dcff00 26px,#00ffce 28px,#00ffad 30px,#00d4ff 32px,#00ff4b 34px,#00ff5a 36px,#00ffdf 38px,#00ffc5 40px,#00ffc7 42px,#00ff5a 44px,#00ffb3 46px,#00d8ff 48px,#00ffce 50px,#00deff 52px,#0079ff 54px,#00ffab 56px,#00c6ff 58px,#00beff 60px,#00ffcf 62px,#005bff 64px,#00fdff 66px,#0092ff 68px,#00fffa 70px,#00ffd1 72px,#003dff 74px,#00acff 76px,#00b1ff 78px,#0062ff 80px,#0043ff 82px,#00b7ff 84px,#005dff 86px,#001cff 88px,#005fff 90px,#0016ff 92px,#0000e5 94px,#0000d7 96px,#0000d3 98px,#0000f7 100px,#0000eb 102px,#0000ca 104px,#0000e4 106px,#0000f9 108px,#0000af 110px,#0000c1 112px,#0000b3 114px,#000074 116px,#00007c 118px,#000069 120px,#00003d 122px,#00003b 124px,#00001f 126px,#00002f 128px,#00001e 130px,#00000e 132px,#000018 134px,#000002 136px,#000014 138px,#000003 140px)}.c72{background:linear-gradient(#00ff59 0px,#00ff35 2px,#adff00 4px,#00ff3d 6px,#00d7ff 8px,#00ff51 10px,#00ff50 12px,#0aff00 14px,#00ff88 16px,#00cbff 18px,#00ff60 20px,#00ffe7 22px,#00a7ff 24px,#009eff 26px,#00ffe6 28px,#00d7ff 30px,#00ff97 32px,#0035ff 34px,#0000f9 36px,#00a8ff 38px,#0066ff 40px,#0019ff 42px,#0083ff 44px,#00b0ff 46px,#00008d 48px,#000061 50px,#0000b1 52px,#0026ff 54px,#000088 56px,#00005d 58px,#00004b 60px,#000015 62px,#000097 64px,#000000 66px,#000098 68px,#0000bb 70px,#000000 72px,#00002a 74px,#000077 76px,#00002d 78px,#001eff 80px,#003aff 82px,#0000d7 84px,#000000 86px,#000000 88px,#000093 90px,#00002b 92px,#000055 94px,#000060 96px,#000046 98px,#000000 100px,#000000 102px,#000000 104px,#00003e 106px,#000041 108px,#00001a 110px,#00001d 112px,#000000 114px,#00004b 116px,#00000f 118px,#000021 120px,#000022 122px,#000019 124px,#000000 126px,#000000 128px,#000000 130px,#000000 132px,#000000 134px,#00000b 136px,#000000 138px,#000000 140px)}.c73{background:linear-gradient(#a4ff00 0px,#00ff51 2px,#f1ff00 4px,#f4ff00 6px,#4fff00 8px,#2bff00 10px,#26ff00 12px,#3bff00 14px,#00ffc4 16px,#10ff00 18px,#fffd00 20px,#00ff67 22px,#ffcb00 24px,#96ff00 26px,#fffd00 28px,#00ff95 30px,#47ff00 32px,#26ff00 34px,#0fff00 36px,#40ff00 38px,#15ff00 40px,#00ff50 42px,#18ff00 44px,#00ff27 46px,#11ff00 48px,#00ff3c 50px,#00ff88 52px,#00ffd2 54px,#00ffae 56px,#00d6ff 58px,#00ff67 60px,#00ff8d 62px,#00ffb8 64px,#00cfff 66px,#00faff 68px,#00ff58 70px,#0091ff 72px,#00b4ff 74px,#006dff 76px,#00dbff 78px,#00b8ff 80px,#00d6ff 82px,#0035ff 84px,#0035ff 86px,#0043ff 88px,#002eff 90px,#0024ff 92px,#0012ff 94px,#0000cf 96px,#0000e9 98px,#0000a1 100px,#0025ff 102px,#00008f 104px,#0000a4 106px,#000047 108px,#000057 110px,#000032 112px,#000029 114px,#000048 116px,#000005 118px,#000000 120px,#00002c 122px,#000015 124px,#000006 126px,#00001a 128px,#00001c 130px,#00000d 132px,#000000 134px,#00001b 136px,#000000 138px,#000008 140px)}.c74{background:linear-gradient(#24ff00 0px,#00ff56 2px,#abff00 4px,#00ff4c 6px,#1dff00 8px,#00ff70 10px,#03ff00 12px,#0dff00 14px,#00ff32 16px,#00ff8e 18px,#00ff11 20px,#00ff84 22px,#00ff37 24px,#00ff92 26px,#00ff49 28px,#00ffca 30px,#00fbff 32px,#00ffb9 34px,#00ff93 36px,#00ffd9 38px,#00feff 40px,#0063ff 42px,#00f5ff 44px,#0071ff 46px,#00b3ff 48px,#0000be 50px,#007bff 52px,#00fbff 54px,#00faff 56px,#0000fa 58px,#0000c2 60px,#00001b 62px,#000000 64px,#0000c0 66px,#000077 68px,#00002f 70px,#00008a 72px,#0000d3 74px,#0000b9 76px,#000aff 78px,#0048ff 80px,#0000bd 82px,#00000a 84px,#000056 86px,#00008e 88px,#000020 90px,#000053 92px,#00005c 94px,#000057 96px,#00002f 98px,#000059 100px,#000035 102px,#000000 104px,#000025 106px,#000000 108px,#000062 110px,#000029 112px,#000000 114px,#00003e 116px,#000013 118px,#000023 120px,#00000e 122px,#000026 124px,#000028 126px,#00000f 128px,#00000d 130px,#000018 132px,#000000 134px,#000000 136px,#000000 138px,#000000 140px)}.c75{background:linear-gradient(#ffd800 0px,#fffc00 2px,#ffbd00 4px,#ffd500 6px,#fff900 8px,#00ff0e 10px,#85ff00 12px,#ceff00 14px,#75ff00 16px,#fff800 18px,#ffd000 20px,#8aff00 22px,#fff700 24px,#9fff00 26px,#c9ff00 28px,#53ff00 30px,#9dff00 32px,#63ff00 34px,#00ff72 36px,#fdff00 38px,#00ff0c 40px,#00ff99 42px,#3fff00 44px,#1cff00 46px,#00ff3a 48px,#4dff00 50px,#00ff74 52px,#00ff61 54px,#4aff00 56px,#00ff3b 58px,#00ff07 60px,#00ff8f 62px,#00ff63 64px,#00ff63 66px,#0088ff 68px,#00ff79 70px,#00b4ff 72px,#00ffee 74px,#00f4ff 76px,#00a0ff 78px,#00ff72 80px,#0063ff 82px,#00fcff 84px,#00a8ff 86px,#009aff 88px,#00b3ff 90px,#00b2ff 92px,#00d9ff 94px,#00b3ff 96px,#000eff 98px,#0074ff 100px,#003fff 102px,#0000f9 104px,#0000c3 106px,#0008ff 108px,#0000fa 110px,#0000cb 112px,#0000d5 114px,#0000a4 116px,#0000d7 118px,#0000a1 120px,#00005c 122px,#00005f 124px,#00002b 126px,#000000 128px,#000000 130px,#000006 132px,#000000 134px,#000000 136px,#000000 138px,#000000 140px)}.c76{background:linear-gradient(#9aff00 0px,#b8ff00 2px,#96ff00 4px,#3dff00 6px,#00ff8a 8px,#9bff00 10px,#40ff00 12px,#00ff3f 14px,#9bff00 16px,#00ffc9 18px,#79ff00 20px,#b1ff00 22px,#09ff00 24px,#00ff2a 26px,#96ff00 28px,#0084ff 30px,#00d2ff 32px,#84ff00 34px,#00ffb1 36px,#00ff53 38px,#00ff6e 40px,#00ff27 42px,#00f1ff 44px,#00f1ff 46px,#00ffbc 48px,#00c3ff 50px,#00d7ff 52px,#00f2ff 54px,#0004ff 56px,#00ffd5 58px,#00ffed 60px,#00e2ff 62px,#006eff 64px,#0000e8 66px,#0052ff 68px,#006eff 70px,#00009d 72px,#0021ff 74px,#000000 76px,#0063ff 78px,#0011ff 80px,#0000c4 82px,#00003b 84px,#000084 86px,#0000c5 88px,#000042 90px,#00006b 92px,#00001c 94px,#000001 96px,#0000cd 98px,#00000b 100px,#000015 102px,#00002c 104px,#00002b 106px,#000013 108px,#000000 110px,#00003d 112px,#00002f 114px,#000016 116px,#000022 118px,#000000 120px,#000000 122px,#000000 124px,#000000 126px,#000000 128px,#000007 130px,#000019 132px,#00001c 134px,#000000 136px,#000000 138px,#000025 140px)}.c77{background:linear-gradient(#ff0c00 0px,#ff3f00 2px,#ff9100 4px,#ffcb00 6px,#ff0d0d 8px,#ff3c00 10px,#3fff00 12px,#ffd500 14px,#ff8300 16px,#b4ff00 18px,#ff2424 20px,#ffc000 22px,#ff0e00 24px,#ff3100 26px,#ff5700 28px,#efff00 30px,#ff9a00 32px,#ff7800 34px,#d5ff00 36px,#ff8300 38px,#bbff00 40px,#6dff00 42px,#fff900 44px,#ffe400 46px,#d5ff00 48px,#ffac00 50px,#ffc700 52px,#caff00 54px,#85ff00 56px,#cbff00 58px,#67ff00 60px,#76ff00 62px,#ff1d00 64px,#9cff00 66px,#00ff5a 68px,#16ff00 70px,#46ff00 72px,#45ff00 74px,#d9ff00 76px,#ffe400 78px,#7eff00 80px,#6cff00 82px,#66ff00 84px,#00ff12 86px,#29ff00 88px,#00ff01 90px,#5eff00 92px,#00ff30 94px,#00ff2c 96px,#00ff72 98px,#00ff61 100px,#00ff11 102px,#00ff75 104px,#00ffa1 106px,#00ffa1 108px,#00ff95 110px,#00ffb2 112px,#00ff95 114px,#00ffb3 116px,#00ffd3 118px,#00ffde 120px,#00fffb 122px,#00ffe9 124px,#00f2ff 126px,#00edff 128px,#00dcff 130px,#00e7ff 132px,#00cfff 134px,#00bdff 136px,#00a1ff 138px,#00a4ff 140px)}.c78{background:linear-gradient(#ff4c4c 0px,#ff3400 2px,#ff3c3c 4px,#ff6868 6px,#a6ff00 8px,#ff8f00 10px,#ffc300 12px,#ff4141 14px,#ff5959 16px,#ff0500 18px,#ff1000 20px,#ff8a00 22px,#ff2100 24px,#ff0909 26px,#ff4500 28px,#ff1818 30px,#ff1500 32px,#ff2000 34px,#ff2a00 36px,#ff8282 38px,#ffc900 40px,#ff1300 42px,#ff5f00 44px,#ff6868 46px,#ff2b00 48px,#ff0e00 50px,#ff5200 52px,#ff3030 54px,#ff3636 56px,#ff3131 58px,#ffae00 60px,#ffe600 62px,#ff2f00 64px,#ff2400 66px,#ff7d00 68px,#ffa100 70px,#ff4a00 72px,#ff0404 74px,#ff3200 76px,#ffcd00 78px,#ff7e00 80px,#ffdb00 82px,#ff2900 84px,#ffab00 86px,#ff7c00 88px,#ffc300 90px,#ffa800 92px,#ffd800 94px,#ffef00 96px,#ffe300 98px,#fff200 100px,#fff200 102px,#ffee00 104px,#fff200 106px,#f0ff00 108px,#e3ff00 110px,#c3ff00 112px,#acff00 114px,#a9ff00 116px,#95ff00 118px,#6fff00 120px,#5bff00 122px,#84ff00 124px,#90ff00 126px,#85ff00 128px,#5aff00 130px,#5dff00 132px,#3dff00 134px,#23ff00 136px,#2cff00 138px,#18ff00 140px)}.c79{background:linear-gradient(#28ff00 0px,#ffba00 2px,#5aff00 4px,#00ff1f 6px,#32ff00 8px,#efff00 10px,#71ff00 12px,#00ff19 14px,#8cff00 16px,#00ff13 18px,#00ff44 20px,#93ff00 22px,#53ff00 24px,#37ff00 26px,#00ff35 28px,#85ff00 30px,#28ff00 32px,#00ffdc 34px,#00ffa6 36px,#03ff00 38px,#06ff00 40px,#00ff4a 42px,#00e7ff 44px,#00d1ff 46px,#bfff00 48px,#00ff29 50px,#00ff57 52px,#00d5ff 54px,#00fffd 56px,#0eff00 58px,#00ffdd 60px,#00ff87 62px,#00f7ff 64px,#00ff8f 66px,#00fff7 68px,#00cdff 70px,#00b8ff 72px,#00eeff 74px,#00f9ff 76px,#00b0ff 78px,#008dff 80px,#0000d9 82px,#000bff 84px,#0003ff 86px,#0000ec 88px,#00008d 90px,#00006e 92px,#000083 94px,#00005a 96px,#000012 98px,#00003a 100px,#00003c 102px,#000044 104px,#00004a 106px,#000005 108px,#000023 110px,#000005 112px,#00001e 114px,#000000 116px,#00000b 118px,#000028 120px,#000007 122px,#00000b 124px,#000000 126px,#000016 128px,#000016 130px,#000000 132px,#000016 134px,#000009 136px,#000009 138px,#000004 140px)}.c80{background:linear-gradient(#72ff00 0px,#39ff00 2px,#07ff00 4px,#bbff00 6px,#23ff00 8px,#b7ff00 10px,#00ff30 12px,#17ff00 14px,#00ffbe 16px,#6eff00 18px,#adff00 20px,#00ff90 22px,#00ff75 24px,#00fcff 26px,#00ff33 28px,#00ff31 30px,#00ffdc 32px,#00faff 34px,#0097ff 36px,#00ff1e 38px,#00c9ff 40px,#00ff99 42px,#0047ff 44px,#0000b7 46px,#0000ac 48px,#004fff 50px,#0000e0 52px,#00004f 54px,#0043ff 56px,#00004e 58px,#000095 60px,#0095ff 62px,#0000ed 64px,#0000bb 66px,#000000 68px,#000067 70px,#000090 72px,#00006e 74px,#000000 76px,#0004ff 78px,#000033 80px,#000056 82px,#0000a4 84px,#00004f 86px,#000033 88px,#000008 90px,#000019 92px,#00001a 94px,#000040 96px,#000032 98px,#000026 100px,#000037 102px,#000023 104px,#00002e 106px,#000022 108px,#00000f 110px,#00001d 112px,#00002f 114px,#00002f 116px,#00002d 118px,#00002a 120px,#000011 122px,#000000 124px,#000004 126px,#00000f 128px,#000009 130px,#000000 132px,#000017 134px,#000010 136px,#00000b 138px,#000000 140px)}.c81{background:linear-gradient(#70ff00 0px,#00ff0c 2px,#00eeff 4px,#00ff46 6px,#00ff60 8px,#00ff85 10px,#00ff37 12px,#00ff8d 14px,#00ff65 16px,#00ff86 18px,#00a4ff 20px,#00fcff 22px,#0084ff 24px,#00fff6 26px,#00fbff 28px,#00c2ff 30px,#0022ff 32px,#00f7ff 34px,#0068ff 36px,#0039ff 38px,#0000d2 40px,#00b6ff 42px,#0084ff 44px,#001dff 46px,#000060 48px,#0041ff 50px,#0000dd 52px,#00002c 54px,#0099ff 56px,#000000 58px,#000000 60px,#0000f9 62px,#000073 64px,#0000ef 66px,#000000 68px,#0000de 70px,#00007a 72px,#000097 74px,#0000a0 76px,#000000 78px,#0000ff 80px,#0000bf 82px,#0013ff 84px,#0000df 86px,#00009e 88px,#000075 90px,#00003d 92px,#00002b 94px,#00007e 96px,#00001e 98px,#000046 100px,#000015 102px,#000010 104px,#000038 106px,#000015 108px,#000008 110px,#000045 112px,#000029 114px,#000013 116px,#000013 118px,#000013 120px,#000027 122px,#000009 124px,#000000 126px,#000014 128px,#000025 130px,#000000 132px,#000008 134px,#000002 136px,#000000 138px,#000000 140px)}.c82{background:linear-gradient(#ffab00 0px,#fffa00 2px,#b6ff00 4px,#00ff1a 6px,#69ff00 8px,#9aff00 10px,#58ff00 12px,#fffe00 14px,#a0ff00 16px,#00ff13 18px,#00ff58 20px,#31ff00 22px,#9eff00 24px,#ffc200 26px,#28ff00 28px,#0aff00 30px,#00ff61 32px,#00ff0d 34px,#00ff9c 36px,#78ff00 38px,#00ffdf 40px,#00ffe2 42px,#00ff9d 44px,#23ff00 46px,#00ff65 48px,#00ff41 50px,#40ff00 52px,#00ff7f 54px,#00ffc3 56px,#00ffbc 58px,#00ff55 60px,#00ff2a 62px,#0061ff 64px,#00a8ff 66px,#00ffec 68px,#00d0ff 70px,#00d5ff 72px,#00ff93 74px,#00aeff 76px,#00c1ff 78px,#00c0ff 80px,#00ffdc 82px,#007bff 84px,#00f4ff 86px,#008fff 88px,#00bbff 90px,#0065ff 92px,#0097ff 94px,#006dff 96px,#0075ff 98px,#0058ff 100px,#0030ff 102px,#000cff 104px,#002eff 106px,#002bff 108px,#0000e2 110px,#0000aa 112px,#0000c4 114px,#000092 116px,#00008d 118px,#000086 120px,#000086 122px,#000071 124px,#000057 126px,#000056 128px,#00003c 130px,#00001d 132px,#000016 134px,#00000f 136px,#000007 138px,#000010 140px)}.c83{background:linear-gradient(#a3ff00 0px,#ffe700 2px,#00ffaf 4px,#69ff00 6px,#00ff1c 8px,#f0ff00 10px,#00ff44 12px,#20ff00 14px,#00ff2f 16px,#66ff00 18px,#e7ff00 20px,#2cff00 22px,#00ff95 24px,#cdff00 26px,#2fff00 28px,#00ff71 30px,#88ff00 32px,#2dff00 34px,#00ff14 36px,#05ff00 38px,#00fff8 40px,#00ff5b 42px,#68ff00 44px,#00ff8a 46px,#bbff00 48px,#00ff76 50px,#00c1ff 52px,#00ff87 54px,#00ff39 56px,#00ffb0 58px,#00f1ff 60px,#0033ff 62px,#00ff92 64px,#00ffda 66px,#00ffa0 68px,#00c5ff 70px,#009dff 72px,#00fffd 74px,#00a9ff 76px,#0044ff 78px,#005fff 80px,#0059ff 82px,#00a5ff 84px,#008cff 86px,#0049ff 88px,#001aff 90px,#0004ff 92px,#0000e0 94px,#0000b1 96px,#0000af 98px,#000084 100px,#000062 102px,#000068 104px,#00003d 106px,#000048 108px,#000000 110px,#000048 112px,#00002f 114px,#00000c 116px,#000010 118px,#000043 120px,#000000 122px,#000006 124px,#000002 126px,#000000 128px,#000000 130px,#000011 132px,#000000 134px,#000000 136px,#00000f 138px,#000016 140px)}.c84{background:linear-gradient(#00ff04 0px,#00faff 2px,#27ff00 4px,#58ff00 6px,#00ff67 8px,#4aff00 10px,#00ff6e 12px,#00ff0e 14px,#00ffad 16px,#00ffe5 18px,#00ffc4 20px,#0078ff 22px,#00ff68 24px,#008cff 26px,#00f8ff 28px,#0086ff 30px,#00ffbc 32px,#0000fa 34px,#00f4ff 36px,#00ffda 38px,#00004b 40px,#002fff 42px,#0045ff 44px,#000097 46px,#000013 48px,#0024ff 50px,#0000b1 52px,#0000a0 54px,#000032 56px,#00003b 58px,#0000a2 60px,#001cff 62px,#0000ac 64px,#0021ff 66px,#000064 68px,#000091 70px,#00003d 72px,#000052 74px,#000097 76px,#00008a 78px,#000000 80px,#0000ae 82px,#00003e 84px,#000019 86px,#000025 88px,#000032 90px,#000025 92px,#000067 94px,#00002f 96px,#00007d 98px,#000048 100px,#00006a 102px,#00000c 104px,#000000 106px,#000000 108px,#000041 110px,#00006e 112px,#00002e 114px,#000021 116px,#000037 118px,#000000 120px,#00000d 122px,#000013 124px,#00000c 126px,#000026 128px,#000000 130px,#000037 132px,#000007 134px,#000014 136px,#000000 138px,#000000 140px)}.c85{background:linear-gradient(#ff8f00 0px,#ffb100 2px,#c0ff00 4px,#58ff00 6px,#c7ff00 8px,#9bff00 10px,#f0ff00 12px,#ffc400 14px,#ffe700 16px,#c0ff00 18px,#ffa300 20px,#00ff15 22px,#09ff00 24px,#ffde00 26px,#88ff00 28px,#ffae00 30px,#ebff00 32px,#67ff00 34px,#fff800 36px,#34ff00 38px,#0cff00 40px,#00ff42 42px,#00ff3a 44px,#1eff00 46px,#d6ff00 48px,#1fff00 50px,#00ff52 52px,#00ff88 54px,#00fff8 56px,#00ff28 58px,#00c0ff 60px,#00ffcc 62px,#00ff9f 64px,#48ff00 66px,#00ff17 68px,#00e1ff 70px,#00c9ff 72px,#00ffde 74px,#00d6ff 76px,#0085ff 78px,#00c1ff 80px,#00abff 82px,#00beff 84px,#00fff5 86px,#0082ff 88px,#0012ff 90px,#0055ff 92px,#003dff 94px,#0069ff 96px,#0030ff 98px,#0025ff 100px,#0000ec 102px,#0000e0 104px,#0000b9 106px,#0000ca 108px,#0000ac 110px,#0000ad 112px,#000064 114px,#000058 116px,#000019 118px,#00000a 120px,#00001f 122px,#000039 124px,#00004b 126px,#000000 128px,#00000d 130px,#00000e 132px,#000024 134px,#000000 136px,#000014 138px,#000014 140px)}.c86{background:linear-gradient(#ff8300 0px,#ff8f00 2px,#ffd200 4px,#baff00 6px,#c8ff00 8px,#52ff00 10px,#ff7000 12px,#ffe900 14px,#ffb000 16px,#b7ff00 18px,#ff5e00 20px,#d4ff00 22px,#97ff00 24px,#25ff00 26px,#ffae00 28px,#fffb00 30px,#d7ff00 32px,#29ff00 34px,#ff9200 36px,#fffa00 38px,#5bff00 40px,#00ff18 42px,#22ff00 44px,#e1ff00 46px,#0aff00 48px,#6bff00 50px,#8bff00 52px,#00ffb1 54px,#a1ff00 56px,#00ff0b 58px,#67ff00 60px,#00ff18 62px,#a9ff00 64px,#00ff43 66px,#03ff00 68px,#00ff5d 70px,#00ff10 72px,#00ff2c 74px,#00ff00 76px,#00ff67 78px,#00ffc7 80px,#00ff89 82px,#00ffc0 84px,#00e5ff 86px,#00ff71 88px,#00ff58 90px,#00ffb1 92px,#00fffa 94px,#00ecff 96px,#00d6ff 98px,#00dcff 100px,#00d0ff 102px,#00c5ff 104px,#0081ff 106px,#00a7ff 108px,#00a6ff 110px,#007cff 112px,#007aff 114px,#004fff 116px,#0039ff 118px,#0025ff 120px,#0000ff 122px,#0000c7 124px,#0000c1 126px,#0000a4 128px,#000093 130px,#000068 132px,#000043 134px,#00002f 136px,#000000 138px,#000000 140px)}.c87{background:linear-gradient(#00ffec 0px,#00ffe4 2px,#00ff25 4px,#00ffa0 6px,#84ff00 8px,#00ff5e 10px,#00ffb0 12px,#00ffad 14px,#00ffc5 16px,#00ff65 18px,#00ffe6 20px,#00ffc7 22px,#00a3ff 24px,#00ff60 26px,#00b4ff 28px,#00d1ff 30px,#0021ff 32px,#00c4ff 34px,#00b5ff 36px,#000000 38px,#0053ff 40px,#00001a 42px,#0000a5 44px,#00004b 46px,#0073ff 48px,#0000bd 50px,#0000ce 52px,#0006ff 54px,#000079 56px,#000eff 58px,#00006e 60px,#00007e 62px,#000032 64px,#000000 66px,#0000f0 68px,#0000d1 70px,#0000a1 72px,#004bff 74px,#00006b 76px,#0000c4 78px,#000092 80px,#0000c5 82px,#000093 84px,#00003d 86px,#000021 88px,#000000 90px,#00004a 92px,#000073 94px,#000000 96px,#00001d 98px,#000043 100px,#000028 102px,#000066 104px,#000047 106px,#000044 108px,#00001d 110px,#00000b 112px,#000036 114px,#000000 116px,#000018 118px,#00000f 120px,#000007 122px,#000026 124px,#000008 126px,#000006 128px,#00000b 130px,#000009 132px,#000008 134px,#000008 136px,#000001 138px,#000009 140px)}.c88{background:linear-gradient(#2fff00 0px,#8aff00 2px,#ffab00 4px,#00ff15 6px,#17ff00 8px,#00ff7f 10px,#afff00 12px,#40ff00 14px,#bfff00 16px,#b9ff00 18px,#15ff00 20px,#1aff00 22px,#ddff00 24px,#42ff00 26px,#d0ff00 28px,#00ff4c 30px,#52ff00 32px,#fff200 34px,#00ff61 36px,#00ff4f 38px,#00ff07 40px,#00ff14 42px,#00ffe0 44px,#25ff00 46px,#00ff6d 48px,#00ffb4 50px,#00ff78 52px,#00ff4f 54px,#00d9ff 56px,#38ff00 58px,#00fff7 60px,#00e5ff 62px,#31ff00 64px,#00ff83 66px,#00a6ff 68px,#006bff 70px,#0069ff 72px,#0073ff 74px,#00f0ff 76px,#002aff 78px,#0048ff 80px,#0086ff 82px,#0000f0 84px,#0024ff 86px,#0000b9 88px,#0000b6 90px,#00007a 92px,#00003d 94px,#000065 96px,#000000 98px,#00002d 100px,#000015 102px,#00001b 104px,#00000f 106px,#00003c 108px,#00002f 110px,#000025 112px,#00003f 114px,#00002a 116px,#000032 118px,#000000 120px,#000011 122px,#000000 124px,#000010 126px,#000025 128px,#00001e 130px,#000012 132px,#000000 134px,#000028 136px,#00000b 138px,#000016 140px)}.c89{background:linear-gradient(#dcff00 0px,#ffe000 2px,#ffad00 4px,#efff00 6px,#ffdd00 8px,#ffcd00 10px,#d0ff00 12px,#daff00 14px,#ffac00 16px,#ffde00 18px,#ff3200 20px,#ffc700 22px,#ffad00 24px,#90ff00 26px,#6eff00 28px,#ffd800 30px,#68ff00 32px,#ffe500 34px,#00ff04 36px,#ff9f00 38px,#e3ff00 40px,#ff2d00 42px,#ffaf00 44px,#3eff00 46px,#00ff21 48px,#b0ff00 50px,#ffb600 52px,#15ff00 54px,#fff100 56px,#ffb100 58px,#0fff00 60px,#ff9000 62px,#00ffab 64px,#c9ff00 66px,#85ff00 68px,#2aff00 70px,#f8ff00 72px,#a9ff00 74px,#44ff00 76px,#ffc500 78px,#30ff00 80px,#ffe800 82px,#b0ff00 84px,#00ff7f 86px,#00ff24 88px,#22ff00 90px,#00ff5a 92px,#00ff3f 94px,#00ff10 96px,#00ff22 98px,#0aff00 100px,#00ff77 102px,#00ff39 104px,#00ff66 106px,#00ff63 108px,#00ff67 110px,#00ffaa 112px,#00ff98 114px,#00ff93 116px,#00ff81 118px,#00ffbe 120px,#00ffc0 122px,#00ffe5 124px,#00ffda 126px,#00ffe1 128px,#00f4ff 130px,#00caff 132px,#00e5ff 134px,#00d6ff 136px,#00c8ff 138px,#00b9ff 140px)}.c90{background:linear-gradient(#00ff2b 0px,#00ffbb 2px,#00ff3f 4px,#00ff4b 6px,#00ff4c 8px,#00ff1b 10px,#00ffe0 12px,#00ff16 14px,#04ff00 16px,#00ffc2 18px,#00ff0f 20px,#00ff4b 22px,#00ff84 24px,#00efff 26px,#00ffd1 28px,#0066ff 30px,#00ff05 32px,#00ecff 34px,#00dcff 36px,#00ffae 38px,#00fff0 40px,#00f9ff 42px,#0000f0 44px,#0090ff 46px,#00b1ff 48px,#005eff 50px,#000074 52px,#005dff 54px,#00c1ff 56px,#0000e7 58px,#0075ff 60px,#00001a 62px,#00afff 64px,#000041 66px,#0000a7 68px,#0070ff 70px,#0000cb 72px,#000097 74px,#003cff 76px,#0030ff 78px,#0000f4 80px,#000025 82px,#0000c3 84px,#000035 86px,#00006a 88px,#000000 90px,#00000f 92px,#000050 94px,#000026 96px,#00003d 98px,#000016 100px,#000000 102px,#000035 104px,#00004e 106px,#000016 108px,#000003 110px,#00002a 112px,#00003a 114px,#000000 116px,#000000 118px,#000000 120px,#000024 122px,#00000d 124px,#000029 126px,#000012 128px,#000018 130px,#000007 132px,#000000 134px,#000000 136px,#000012 138px,#000005 140px)}.c91{background:linear-gradient(#26ff00 0px,#00ffb3 2px,#13ff00 4px,#00ff75 6px,#00ff49 8px,#00ff36 10px,#00ff5e 12px,#00ff34 14px,#00ff9f 16px,#4eff00 18px,#00ff9a 20px,#00fffe 22px,#00eeff 24px,#00ffde 26px,#00ff6c 28px,#008eff 30px,#00ffa6 32px,#00feff 34px,#00a5ff 36px,#003bff 38px,#00d2ff 40px,#007fff 42px,#0000c1 44px,#0034ff 46px,#000061 48px,#0000b6 50px,#000003 52px,#007bff 54px,#000029 56px,#000000 58px,#000063 60px,#000046 62px,#00c6ff 64px,#000016 66px,#000000 68px,#0000f0 70px,#00001f 72px,#00009c 74px,#000000 76px,#00009e 78px,#0000ac 80px,#0000c9 82px,#000044 84px,#0000b6 86px,#0000a6 88px,#0000a2 90px,#000000 92px,#000046 94px,#000027 96px,#00004d 98px,#000004 100px,#00002d 102px,#000047 104px,#000021 106px,#000030 108px,#000030 110px,#000030 112px,#00002e 114px,#00002c 116px,#000004 118px,#00001e 120px,#00001b 122px,#000022 124px,#00000f 126px,#00003a 128px,#000011 130px,#000013 132px,#000003 134px,#000009 136px,#00000f 138px,#000000 140px)}.c92{background:linear-gradient(#0cff00 0px,#00ff56 2px,#00ff4e 4px,#00ff77 6px,#00ffd6 8px,#00ff42 10px,#00ff78 12px,#00ff70 14px,#00edff 16px,#6aff00 18px,#00ff10 20px,#46ff00 22px,#00ffcd 24px,#00ff23 26px,#00ff23 28px,#0091ff 30px,#00ffe9 32px,#00ff67 34px,#00ff68 36px,#00ff8f 38px,#00ff69 40px,#00ff94 42px,#00ff6a 44px,#00ff76 46px,#00ffa9 48px,#00ff34 50px,#008eff 52px,#00b8ff 54px,#0007ff 56px,#0074ff 58px,#006dff 60px,#0020ff 62px,#00fdff 64px,#001bff 66px,#000059 68px,#0000cb 70px,#0000cb 72px,#00003c 74px,#0000d9 76px,#0000bd 78px,#000032 80px,#000000 82px,#00009d 84px,#0000cc 86px,#000058 88px,#000002 90px,#000053 92px,#000041 94px,#000013 96px,#00001e 98px,#000012 100px,#000028 102px,#000071 104px,#000010 106px,#000000 108px,#000047 110px,#000020 112px,#000029 114px,#00003f 116px,#000000 118px,#00001e 120px,#000000 122px,#000022 124px,#000019 126px,#000002 128px,#000000 130px,#000003 132px,#00000e 134px,#000017 136px,#000000 138px,#000000 140px)}.c93{background:linear-gradient(#dcff00 0px,#00ff85 2px,#3cff00 4px,#5eff00 6px,#00ff0f 8px,#02ff00 10px,#00ff69 12px,#07ff00 14px,#00ff2e 16px,#42ff00 18px,#80ff00 20px,#ddff00 22px,#63ff00 24px,#00ff1d 26px,#bfff00 28px,#61ff00 30px,#caff00 32px,#00ff83 34px,#ffe900 36px,#ffd000 38px,#38ff00 40px,#00ff0f 42px,#85ff00 44px,#ffea00 46px,#34ff00 48px,#00ffbc 50px,#00ff46 52px,#59ff00 54px,#53ff00 56px,#bfff00 58px,#38ff00 60px,#ffb200 62px,#44ff00 64px,#00ff14 66px,#00ff47 68px,#9dff00 70px,#04ff00 72px,#9cff00 74px,#00ff19 76px,#93ff00 78px,#00ffac 80px,#00ff7b 82px,#00ff1b 84px,#00ff1b 86px,#00ff95 88px,#00ff8e 90px,#00ff15 92px,#00ff65 94px,#00ff09 96px,#00ff75 98px,#00ff7c 100px,#00ff91 102px,#00ff55 104px,#00ffb1 106px,#00ffab 108px,#00ffa3 110px,#00ffbd 112px,#00ff87 114px,#00fff7 116px,#00ff9f 118px,#00ffa9 120px,#00ffa5 122px,#00ffd8 124px,#00ffda 126px,#00feff 128px,#00fff9 130px,#00faff 132px,#00fff0 134px,#00fff2 136px,#00e6ff 138px,#00f4ff 140px)}.c94{background:linear-gradient(#00000a 0px,#0004ff 2px,#0000d0 4px,#000088 6px,#00007e 8px,#0000b4 10px,#000080 12px,#0000bc 14px,#006eff 16px,#000069 18px,#0015ff 20px,#00005d 22px,#0047ff 24px,#000040 26px,#0000e5 28px,#0042ff 30px,#00b3ff 32px,#0041ff 34px,#0053ff 36px,#0000d3 38px,#0000f2 40px,#00004c 42px,#0000b0 44px,#000007 46px,#000037 48px,#00006b 50px,#0030ff 52px,#0000c6 54px,#0001ff 56px,#00ffed 58px,#00dbff 60px,#0000a4 62px,#0000fb 64px,#000087 66px,#0000b5 68px,#0000b5 70px,#0000e5 72px,#007dff 74px,#0091ff 76px,#0000e4 78px,#00009a 80px,#0009ff 82px,#00bfff 84px,#004cff 86px,#0020ff 88px,#0015ff 90px,#0000fb 92px,#002cff 94px,#0000b1 96px,#0015ff 98px,#0017ff 100px,#000089 102px,#0000ef 104px,#0000c4 106px,#0006ff 108px,#0000bf 110px,#0000fc 112px,#0005ff 114px,#0000d2 116px,#0000dd 118px,#0000b0 120px,#0000c4 122px,#0000cc 124px,#00007f 126px,#000074 128px,#00004c 130px,#00005c 132px,#000023 134px,#00001b 136px,#000000 138px,#000002 140px)}.c95{background:linear-gradient(#c3ff00 0px,#00ff2d 2px,#00ff98 4px,#00ff50 6px,#00ff5d 8px,#00f8ff 10px,#00fff3 12px,#00ff29 14px,#00eeff 16px,#00ff3e 18px,#00ff3e 20px,#6aff00 22px,#00eeff 24px,#00ffed 26px,#00c8ff 28px,#00ff8a 30px,#00fff5 32px,#00c5ff 34px,#009aff 36px,#0084ff 38px,#0000c2 40px,#00006a 42px,#00a1ff 44px,#00002f 46px,#0025ff 48px,#00004c 50px,#000000 52px,#000000 54px,#00003d 56px,#00001a 58px,#0052ff 60px,#000005 62px,#0036ff 64px,#000cff 66px,#000033 68px,#0049ff 70px,#0099ff 72px,#00006d 74px,#000073 76px,#00009b 78px,#00002b 80px,#000079 82px,#00006c 84px,#000089 86px,#00009d 88px,#000027 90px,#00003c 92px,#00004b 94px,#000041 96px,#000019 98px,#00000d 100px,#000005 102px,#000020 104px,#000000 106px,#00003c 108px,#000021 110px,#000000 112px,#000000 114px,#000026 116px,#00001f 118px,#000015 120px,#00002b 122px,#000015 124px,#000026 126px,#000009 128px,#000009 130px,#000003 132px,#000011 134px,#000006 136px,#000009 138px,#000002 140px)}.c96{background:linear-gradient(#00ff65 0px,#00deff 2px,#00ff7b 4px,#00ffa2 6px,#25ff00 8px,#00ff78 10px,#00ff28 12px,#00ff31 14px,#00f2ff 16px,#00ff51 18px,#00ff39 20px,#00ffaa 22px,#00ff64 24px,#00009a 26px,#00ffa4 28px,#00ffd7 30px,#00ddff 32px,#0065ff 34px,#0098ff 36px,#006dff 38px,#008eff 40px,#0017ff 42px,#0075ff 44px,#004bff 46px,#0000a0 48px,#0000a7 50px,#006fff 52px,#000021 54px,#000000 56px,#001dff 58px,#0002ff 60px,#0007ff 62px,#000000 64px,#000054 66px,#000fff 68px,#0000db 70px,#0000dd 72px,#000059 74px,#00000d 76px,#000000 78px,#0000dd 80px,#000098 82px,#000011 84px,#00008b 86px,#00007a 88px,#000087 90px,#000040 92px,#000091 94px,#0000ba 96px,#000030 98px,#000039 100px,#000028 102px,#000011 104px,#000025 106px,#000025 108px,#00001e 110px,#00005d 112px,#000012 114px,#000000 116px,#000017 118px,#000023 120px,#000028 122px,#000013 124px,#00000b 126px,#00001a 128px,#00001c 130px,#000017 132px,#00001b 134px,#000001 136px,#000006 138px,#000007 140px)}.c97{background:linear-gradient(#ffb700 0px,#ffd100 2px,#ff3900 4px,#ff8400 6px,#ff5800 8px,#ff5d00 10px,#ff6d00 12px,#ffa700 14px,#ff2d00 16px,#ffc300 18px,#ff6600 20px,#ffd800 22px,#ff8000 24px,#cdff00 26px,#ffab00 28px,#ffc300 30px,#ffb600 32px,#ff9f00 34px,#ffeb00 36px,#ff9c00 38px,#9bff00 40px,#bdff00 42px,#ff1100 44px,#f9ff00 46px,#ffeb00 48px,#ffec00 50px,#78ff00 52px,#38ff00 54px,#f4ff00 56px,#2bff00 58px,#00ff0a 60px,#61ff00 62px,#ffce00 64px,#fffb00 66px,#0aff00 68px,#00ffe3 70px,#25ff00 72px,#00ff48 74px,#69ff00 76px,#0eff00 78px,#00ff25 80px,#00ff6d 82px,#00ff7e 84px,#00ff87 86px,#00ffda 88px,#00ffbe 90px,#00ecff 92px,#00dcff 94px,#0083ff 96px,#008fff 98px,#0083ff 100px,#0000f6 102px,#0000e2 104px,#0000d8 106px,#00009b 108px,#000022 110px,#000028 112px,#00001f 114px,#00003c 116px,#000011 118px,#00000f 120px,#000023 122px,#000038 124px,#000000 126px,#00002e 128px,#000000 130px,#000000 132px,#000000 134px,#00000c 136px,#000007 138px,#000000 140px)}.c98{background:linear-gradient(#ff2800 0px,#ff3d00 2px,#ff3f00 4px,#ff2c2c 6px,#ff4747 8px,#ff0200 10px,#ff0e0e 12px,#ff1616 14px,#ff4f00 16px,#ff4141 18px,#ff0808 20px,#ffa800 22px,#ff3e00 24px,#ff3700 26px,#ff1900 28px,#ff9900 30px,#ff5200 32px,#ff7100 34px,#ffc200 36px,#ff0700 38px,#ffea00 40px,#ffcf00 42px,#ff8200 44px,#ff3800 46px,#ff3900 48px,#ecff00 50px,#ff4b00 52px,#ffe900 54px,#ff4e00 56px,#ffa600 58px,#fff300 60px,#cdff00 62px,#ecff00 64px,#ffb200 66px,#ff6a00 68px,#ff8000 70px,#ffdb00 72px,#ffc500 74px,#ff5d00 76px,#ffcf00 78px,#b4ff00 80px,#ffed00 82px,#ffdd00 84px,#ffc700 86px,#ffe200 88px,#ffa800 90px,#fffe00 92px,#ddff00 94px,#fffd00 96px,#ebff00 98px,#d3ff00 100px,#e1ff00 102px,#fff400 104px,#a0ff00 106px,#d8ff00 108px,#fff600 110px,#d9ff00 112px,#93ff00 114px,#65ff00 116px,#7aff00 118px,#62ff00 120px,#43ff00 122px,#51ff00 124px,#4cff00 126px,#47ff00 128px,#00ff09 130px,#1dff00 132px,#2aff00 134px,#23ff00 136px,#01ff00 138px,#00ff38 140px)}.c99{background:linear-gradient(#00ffdf 0px,#00ff8f 2px,#84ff00 4px,#65ff00 6px,#00ffde 8px,#00ff6c 10px,#00d6ff 12px,#00d9ff 14px,#00ff70 16px,#00ff20 18px,#00ffcf 20px,#00ffff 22px,#00ffef 24px,#00ffc1 26px,#00ffa2 28px,#00ccff 30px,#009aff 32px,#00b7ff 34px,#0015ff 36px,#00ffd1 38px,#008cff 40px,#00c3ff 42px,#0069ff 44px,#00d0ff 46px,#00ffdd 48px,#00ffde 50px,#009eff 52px,#00f6ff 54px,#0070ff 56px,#00d1ff 58px,#00f5ff 60px,#004cff 62px,#001aff 64px,#002bff 66px,#0051ff 68px,#007bff 70px,#0000b8 72px,#0010ff 74px,#002fff 76px,#0000f8 78px,#000079 80px,#0020ff 82px,#0000a1 84px,#000045 86px,#00005d 88px,#00005c 90px,#000079 92px,#000000 94px,#000004 96px,#000031 98px,#000000 100px,#00003c 102px,#000070 104px,#000000 106px,#000010 108px,#000028 110px,#00003b 112px,#000000 114px,#000004 116px,#000018 118px,#00003a 120px,#000007 122px,#000016 124px,#00000e 126px,#00000c 128px,#000016 130px,#00000e 132px,#000016 134px,#000000 136px,#000000 138px,#000004 140px)}.d0{background:linear-gradient(#000000 0px,#000000 3px,#000000 6px,#000000 9px,#0042ff 12px,#0000e8 14px)}.d1{background:linear-gradient(#000000 0px,#000000 3px,#000000 6px,#000000 9px,#0005ff 12px,#000058 14px)}.d2{background:linear-gradient(#000000 0px,#000000 3px,#000000 6px,#000000 9px,#00a6ff 12px,#00fff6 14px)}.d3{background:linear-gradient(#000000 0px,#000000 3px,#000000 6px,#000000 9px,#000033 12px,#00f2ff 14px)}.d4{background:linear-gradient(#000000 0px,#000000 3px,#000000 6px,#000000 9px,#00005e 12px,#000092 14px)}.d5{background:linear-gradient(#000000 0px,#000000 3px,#000000 6px,#000000 9px,#00ffe6 12px,#000034 14px)}.d6{background:linear-gradient(#000000 0px,#000000 3px,#000000 6px,#000000 9px,#00c2ff 12px,#007dff 14px)}.d7{background:linear-gradient(#000000 0px,#000000 3px,#000000 6px,#000000 9px,#000030 12px,#0021ff 14px)}.d8{background:linear-gradient(#000000 0px,#000000 3px,#000000 6px,#000000 9px,#00005a 12px,#000025 14px)}.d9{background:linear-gradient(#000000 0px,#000000 3px,#000000 6px,#000000 9px,#00002b 12px,#0000dd 14px)}.d10{background:linear-gradient(#000000 0px,#000000 3px,#000000 6px,#000000 9px,#000036 12px,#000060 14px)}.d11{background:linear-gradient(#000000 0px,#000000 3px,#000000 6px,#000000 9px,#0062ff 12px,#000028 14px)}.d12{background:linear-gradient(#000000 0px,#000000 3px,#000000 6px,#000000 9px,#0038ff 12px,#00a7ff 14px)}.d13{background:linear-gradient(#000000 0px,#000000 3px,#000000 6px,#000000 9px,#0020ff 12px,#0000a3 14px)}.d14{background:linear-gradient(#000000 0px,#000000 3px,#000000 6px,#000000 9px,#0000c9 12px,#00ecff 14px)}.d15{background:linear-gradient(#000000 0px,#000000 3px,#000000 6px,#000000 9px,#000042 12px,#000063 14px)}.d16{background:linear-gradient(#000000 0px,#000000 3px,#000000 6px,#000000 9px,#000025 12px,#000025 14px)}.d17{background:linear-gradient(#000000 0px,#000000 3px,#000000 6px,#000000 9px,#00006a 12px,#006eff 14px)}.d18{background:linear-gradient(#000000 0px,#000000 3px,#000000 6px,#000000 9px,#0000c0 12px,#000026 14px)}.d19{background:linear-gradient(#000000 0px,#000000 3px,#000000 6px,#000000 9px,#000025 12px,#0059ff 14px)}.d20{background:linear-gradient(#000000 0px,#000000 3px,#000000 6px,#000000 9px,#00007a 12px,#00bdff 14px)}.d21{background:linear-gradient(#000000 0px,#000000 3px,#000000 6px,#000000 9px,#00f4ff 12px,#006bff 14px)}.d22{background:linear-gradient(#000000 0px,#000000 3px,#000000 6px,#000000 9px,#009cff 12px,#0099ff 14px)}.d23{background:linear-gradient(#000000 0px,#000000 3px,#000000 6px,#000000 9px,#00adff 12px,#00daff 14px)}.d24{background:linear-gradient(#000000 0px,#000000 3px,#000000 6px,#000000 9px,#0051ff 12px,#00fffe 14px)}.d25{background:linear-gradient(#000000 0px,#000000 3px,#000000 6px,#000000 9px,#00bdff 12px,#000037 14px)}.d26{background:linear-gradient(#000000 0px,#000000 3px,#000000 6px,#000000 9px,#0036ff 12px,#00002a 14px)}.d27{background:linear-gradient(#000000 0px,#000000 3px,#000000 6px,#000000 9px,#00cdff 12px,#000094 14px)}.d28{background:linear-gradient(#000000 0px,#000000 3px,#000000 6px,#000000 9px,#004bff 12px,#00009e 14px)}.d29{background:linear-gradient(#000000 0px,#000000 3px,#000000 6px,#000000 9px,#00009d 12px,#000064 14px)}.d30{background:linear-gradient(#000000 0px,#000000 3px,#000000 6px,#000000 9px,#0000d1 12px,#006bff 14px)}.d31{background:linear-gradient(#000000 0px,#000000 3px,#000000 6px,#000000 9px,#000026 12px,#00abff 14px)}.d32{background:linear-gradient(#000000 0px,#000000 3px,#000000 6px,#000000 9px,#00009d 12px,#0000b2 14px)}.d33{background:linear-gradient(#000000 0px,#000000 3px,#000000 6px,#000000 9px,#00ecff 12px,#000025 14px)}.d34{background:linear-gradient(#000000 0px,#000000 3px,#000000 6px,#000000 9px,#003bff 12px,#00e2ff 14px)}.d35{background:linear-gradient(#000000 0px,#000000 3px,#000000 6px,#000000 9px,#00b5ff 12px,#0000f2 14px)}.d36{background:linear-gradient(#000000 0px,#000000 3px,#000000 6px,#000000 9px,#00ffec 12px,#000081 14px)}.d37{background:linear-gradient(#000000 0px,#000000 3px,#000000 6px,#000000 9px,#00003b 12px,#0069ff 14px)}.d38{background:linear-gradient(#000000 0px,#000000 3px,#000000 6px,#000000 9px,#000080 12px,#000026 14px)}.d39{background:linear-gradient(#000000 0px,#000000 3px,#000000 6px,#000000 9px,#0000de 12px,#0000ad 14px)}
</style></head><body>
<div class="sp" style="top:167px;height:78px"><i class=a6></i><i class=a20></i><i class=a8></i><i class=a44></i><i class=a16></i><i class=a1></i><i class=a18></i><i class=a7></i><i class=a71></i><i class=a4></i><i class=a64></i><i class=a76></i><i class=a16></i><i class=a82></i><i class=a11></i><i class=a53></i><i class=a26></i><i class=a58></i><i class=a48></i><i class=a28></i><i class=a17></i><i class=a55></i><i class=a45></i><i class=a29></i><i class=a84></i><i class=a26></i><i class=a4></i><i class=a53></i><i class=a89></i><i class=a24></i><i class=a74></i><i class=a39></i><i class=a13></i><i class=a44></i><i class=a8></i><i class=a46></i><i class=a61></i><i class=a75></i><i class=a84></i><i class=a44></i><i class=a66></i><i class=a43></i><i class=a86></i><i class=a59></i><i class=a70></i><i class=a16></i><i class=a76></i><i class=a32></i><i class=a78></i><i class=a15></i><i class=a71></i><i class=a22></i><i class=a29></i><i class=a57></i><i class=a31></i><i class=a4></i><i class=a4></i><i class=a89></i><i class=a34></i><i class=a79></i><i class=a47></i><i class=a15></i><i class=a32></i><i class=a17></i><i class=a71></i><i class=a28></i><i class=a46></i><i class=a17></i><i class=a75></i><i class=a9></i><i class=a84></i><i class=a73></i><i class=a4></i><i class=a80></i><i class=a15></i><i class=a44></i><i class=a1></i><i class=a88></i><i class=a56></i><i class=a40></i><i class=a29></i><i class=a63></i><i class=a39></i><i class=a81></i><i class=a32></i><i class=a9></i><i class=a67></i><i class=a51></i><i class=a4></i><i class=a33></i><i class=a26></i><i class=a71></i><i class=a35></i><i class=a84></i><i class=a8></i><i class=a31></i><i class=a49></i><i class=a67></i><i class=a75></i><i class=a7></i><i class=a7></i><i class=a57></i><i class=a17></i><i class=a7></i><i class=a39></i><i class=a60></i><i class=a69></i><i class=a69></i><i class=a56></i><i class=a71></i><i class=a33></i><i class=a84></i><i class=a28></i><i class=a77></i><i class=a59></i><i class=a64></i><i class=a32></i><i class=a83></i><i class=a29></i><i class=a17></i><i class=a65></i><i class=a17></i><i class=a29></i><i class=a51></i><i class=a84></i><i class=a34></i><i class=a86></i><i class=a78></i><i class=a12></i><i class=a39></i><i class=a73></i><i class=a17></i><i class=a39></i><i class=a45></i><i class=a17></i><i class=a56></i><i class=a24></i><i class=a38></i><i class=a84></i><i class=a84></i><i class=a13></i><i class=a7></i><i class=a41></i><i class=a43></i><i class=a29></i><i class=a1></i><i class=a84></i><i class=a17></i><i class=a81></i><i class=a71></i><i class=a29></i><i class=a61></i><i class=a9></i><i class=a26></i><i class=a17></i><i class=a34></i><i class=a70></i><i class=a25></i><i class=a86></i><i class=a60></i><i class=a17></i><i class=a84></i><i class=a17></i><i class=a55></i><i class=a62></i><i class=a43></i><i class=a68></i><i class=a28></i><i class=a23></i><i class=a18></i><i class=a78></i><i class=a55></i><i class=a78></i><i class=a44></i><i class=a53></i><i class=a51></i><i class=a29></i><i class=a16></i><i class=a16></i><i class=a81></i><i class=a9></i><i class=a19></i><i class=a36></i><i class=a81></i><i class=a22></i><i class=a8></i><i class=a50></i><i class=a28></i><i class=a45></i><i class=a66></i><i class=a15></i><i class=a4></i><i class=a82></i><i class=a84></i><i class=a23></i><i class=a32></i><i class=a81></i><i class=a16></i><i class=a81></i><i class=a26></i><i class=a71></i><i class=a32></i><i class=a66></i><i class=a53></i><i class=a4></i><i class=a39></i><i class=a29></i><i class=a36></i><i class=a64></i><i class=a17></i><i class=a58></i><i class=a70></i><i class=a17></i><i class=a78></i><i class=a17></i><i class=a16></i><i class=a56></i><i class=a89></i><i class=a23></i><i class=a81></i><i class=a55></i><i class=a26></i><i class=a75></i><i class=a29></i><i class=a71></i><i class=a6></i><i class=a59></i><i class=a26></i><i class=a21></i><i class=a30></i><i class=a45></i><i class=a24></i><i class=a37></i><i class=a44></i><i class=a84></i><i class=a13></i><i class=a11></i><i class=a29></i><i class=a10></i><i class=a49></i><i class=a17></i><i class=a32></i><i class=a37></i><i class=a57></i><i class=a84></i><i class=a56></i><i class=a60></i><i class=a17></i><i class=a23></i><i class=a71></i><i class=a15></i><i class=a78></i><i class=a17></i><i class=a43></i><i class=a77></i><i class=a36></i><i class=a22></i><i class=a17></i><i class=a37></i><i class=a78></i><i class=a44></i><i class=a12></i><i class=a9></i><i class=a7></i><i class=a32></i><i class=a5></i><i class=a44></i><i class=a57></i><i class=a69></i><i class=a88></i><i class=a32></i><i class=a29></i><i class=a34></i><i class=a42></i><i class=a81></i><i class=a29></i><i class=a32></i><i class=a58></i><i class=a17></i><i class=a58></i><i class=a17></i><i class=a70></i><i class=a28></i><i class=a25></i><i class=a17></i><i class=a89></i><i class=a35></i><i class=a26></i><i class=a77></i><i class=a36></i><i class=a29></i><i class=a6></i><i class=a6></i><i class=a7></i><i class=a50></i><i class=a39></i><i class=a84></i><i class=a84></i><i class=a78></i><i class=a26></i><i class=a82></i><i class=a26></i><i class=a18></i><i class=a6></i><i class=a56></i><i class=a41></i><i class=a26></i><i class=a16></i><i class=a17></i><i class=a26></i><i class=a22></i><i class=a46></i><i class=a11></i><i class=a84></i><i class=a43></i><i class=a53></i><i class=a70></i><i class=a52></i><i class=a87></i><i class=a24></i><i class=a8></i><i class=a87></i><i class=a16></i><i class=a31></i><i class=a89></i><i class=a26></i><i class=a55></i><i class=a26></i><i class=a87></i><i class=a75></i><i class=a17></i><i class=a14></i><i class=a15></i><i class=a55></i><i class=a15></i><i class=a4></i><i class=a46></i><i class=a59></i><i class=a77></i><i class=a63></i><i class=a35></i><i class=a56></i><i class=a17></i><i class=a63></i><i class=a43></i><i class=a56></i><i class=a24></i><i class=a1></i><i class=a86></i><i class=a29></i><i class=a3></i><i class=a32></i><i class=a20></i><i class=a59></i><i class=a29></i><i class=a13></i><i class=a25></i><i class=a18></i><i class=a1></i><i class=a41></i><i class=a71></i><i class=a20></i><i class=a4></i><i class=a44></i><i class=a7></i><i class=a45></i><i class=a81></i><i class=a70></i><i class=a38></i><i class=a22></i><i class=a71></i><i class=a34></i><i class=a29></i><i class=a58></i><i class=a39></i><i class=a71></i><i class=a59></i><i class=a69></i><i class=a81></i><i class=a29></i><i class=a25></i><i class=a16></i><i class=a17></i><i class=a56></i><i class=a84></i><i class=a35></i><i class=a46></i><i class=a61></i><i class=a51></i><i class=a17></i><i class=a7></i><i class=a84></i><i class=a37></i><i class=a37></i><i class=a33></i><i class=a25></i><i class=a55></i><i class=a84></i><i class=a78></i><i class=a78></i><i class=a41></i><i class=a32></i><i class=a8></i><i class=a81></i><i class=a56></i><i class=a52></i><i class=a3></i><i class=a84></i><i class=a16></i><i class=a44></i><i class=a40></i><i class=a8></i><i class=a17></i><i class=a39></i><i class=a20></i><i class=a5></i><i class=a4></i><i class=a42></i><i class=a18></i><i class=a18></i><i class=a71></i><i class=a9></i><i class=a31></i><i class=a88></i><i class=a20></i><i class=a88></i><i class=a52></i><i class=a70></i><i class=a85></i><i class=a29></i><i class=a17></i><i class=a37></i><i class=a27></i><i class=a78></i><i class=a24></i><i class=a17></i><i class=a29></i><i class=a29></i><i class=a27></i><i class=a78></i><i class=a35></i><i class=a17></i><i class=a37></i><i class=a38></i><i class=a8></i><i class=a16></i><i class=a8></i><i class=a78></i><i class=a56></i><i class=a51></i><i class=a14></i><i class=a78></i><i class=a22></i><i class=a58></i><i class=a24></i><i class=a81></i><i class=a15></i><i class=a37></i><i class=a89></i><i class=a7></i><i class=a61></i><i class=a20></i><i class=a88></i><i class=a62></i><i class=a66></i><i class=a71></i><i class=a26></i><i class=a45></i><i class=a6></i><i class=a84></i><i class=a44></i><i class=a27></i><i class=a55></i><i class=a56></i><i class=a87></i><i class=a17></i><i class=a88></i><i class=a2></i><i class=a26></i><i class=a16></i><i class=a32></i><i class=a9></i><i class=a72></i><i class=a55></i><i class=a73></i><i class=a85></i><i class=a2></i><i class=a17></i><i class=a88></i><i class=a78></i><i class=a20></i><i class=a61></i><i class=a46></i><i class=a56></i><i class=a84></i><i class=a48></i><i class=a88></i><i class=a55></i><i class=a0></i><i class=a84></i><i class=a71></i><i class=a61></i><i class=a43></i><i class=a71></i><i class=a84></i><i class=a15></i><i class=a17></i><i class=a44></i><i class=a40></i><i class=a17></i><i class=a21></i><i class=a17></i><i class=a84></i><i class=a34></i><i class=a56></i><i class=a32></i><i class=a3></i><i class=a61></i><i class=a81></i><i class=a78></i><i class=a83></i><i class=a48></i><i class=a84></i><i class=a66></i><i class=a78></i><i class=a73></i><i class=a16></i><i class=a4></i><i class=a79></i><i class=a8></i><i class=a32></i><i class=a58></i><i class=a35></i><i class=a81></i><i class=a84></i><i class=a54></i><i class=a89></i><i class=a84></i><i class=a68></i><i class=a46></i><i class=a39></i><i class=a29></i><i class=a63></i><i class=a4></i><i class=a24></i><i class=a4></i><i class=a17></i><i class=a71></i><i class=a28></i><i class=a84></i><i class=a46></i><i class=a26></i><i class=a29></i><i class=a81></i><i class=a84></i><i class=a84></i><i class=a84></i><i class=a10></i><i class=a85></i><i class=a58></i><i class=a71></i><i class=a45></i><i class=a84></i><i class=a64></i><i class=a36></i><i class=a64></i><i class=a71></i><i class=a33></i><i class=a64></i><i class=a29></i><i class=a63></i><i class=a84></i><i class=a28></i><i class=a26></i><i class=a63></i><i class=a78></i><i class=a17></i><i class=a8></i><i class=a6></i><i class=a68></i><i class=a66></i><i class=a9></i><i class=a9></i><i class=a15></i><i class=a15></i><i class=a37></i><i class=a8></i><i class=a15></i><i class=a7></i><i class=a10></i><i class=a68></i><i class=a84></i><i class=a15></i><i class=a73></i><i class=a71></i><i class=a21></i><i class=a17></i><i class=a84></i><i class=a8></i><i class=a84></i><i class=a17></i><i class=a71></i><i class=a39></i><i class=a84></i><i class=a4></i><i class=a16></i><i class=a34></i><i class=a22></i><i class=a51></i><i class=a29></i><i class=a15></i><i class=a73></i><i class=a39></i><i class=a17></i></div><div style="position:absolute;left:79px;top:245px;width:614px;height:77px;background:linear-gradient(#000070 0,#000070 11px,#000040 12px,#000040 23px,#000030 24px,#000038 35px,#000010 36px,#000010 42px,#000030 43px,#000030 56px,#000008 57px,#000008 66px,#000060 67px,#000080 77px)"></div><div class="rw" style="top:245px;height:77px"><i class=t0 style="top:0px;background-position:-60px 0;opacity:0.63"></i><i class=t3 style="top:1px;background-position:-18px 0;opacity:0.83"></i><i class=t1 style="top:2px;background-position:-14px 0;opacity:0.78"></i><i class=t5 style="top:3px;background-position:-96px 0;opacity:0.64"></i><i class=t5 style="top:4px;background-position:-4px 0;opacity:0.82"></i><i class=t1 style="top:5px;background-position:-29px 0;opacity:0.78"></i><i class=t3 style="top:6px;background-position:-67px 0;opacity:0.74"></i><i class=t4 style="top:7px;background-position:-11px 0;opacity:0.64"></i><i class=t3 style="top:8px;background-position:-43px 0;opacity:0.66"></i><i class=t2 style="top:9px;background-position:-50px 0;opacity:0.72"></i><i class=t1 style="top:10px;background-position:-26px 0;opacity:0.84"></i><i class=t3 style="top:11px;background-position:-74px 0;opacity:0.82"></i><i class=t0 style="top:12px;background-position:-6px 0;opacity:0.67"></i><i class=t2 style="top:13px;background-position:-17px 0;opacity:0.51"></i><i class=t3 style="top:14px;background-position:-3px 0;opacity:0.48"></i><i class=t4 style="top:15px;background-position:-56px 0;opacity:0.62"></i><i class=t1 style="top:16px;background-position:-26px 0;opacity:0.66"></i><i class=t5 style="top:17px;background-position:-47px 0;opacity:0.51"></i><i class=t5 style="top:18px;background-position:-28px 0;opacity:0.58"></i><i class=t2 style="top:19px;background-position:-43px 0;opacity:0.53"></i><i class=t4 style="top:20px;background-position:-50px 0;opacity:0.58"></i><i class=t5 style="top:21px;background-position:-40px 0;opacity:0.70"></i><i class=t5 style="top:22px;background-position:-12px 0;opacity:0.66"></i><i class=t2 style="top:23px;background-position:-22px 0;opacity:0.60"></i><i class=t10 style="top:24px;background-position:-86px 0;opacity:0.53"></i><i class=t7 style="top:25px;background-position:-24px 0;opacity:0.46"></i><i class=t10 style="top:26px;background-position:-47px 0;opacity:0.64"></i><i class=t6 style="top:27px;background-position:-85px 0;opacity:0.56"></i><i class=t8 style="top:28px;background-position:-83px 0;opacity:0.67"></i><i class=t7 style="top:29px;background-position:-14px 0;opacity:0.57"></i><i class=t8 style="top:30px;background-position:-56px 0;opacity:0.56"></i><i class=t6 style="top:31px;background-position:-71px 0;opacity:0.64"></i><i class=t8 style="top:32px;background-position:-12px 0;opacity:0.68"></i><i class=t11 style="top:33px;background-position:-15px 0;opacity:0.70"></i><i class=t7 style="top:34px;background-position:-42px 0;opacity:0.50"></i><i class=t7 style="top:35px;background-position:-60px 0;opacity:0.47"></i><i class=t10 style="top:36px;background-position:-100px 0;opacity:0.50"></i><i class=t8 style="top:37px;background-position:-78px 0;opacity:0.49"></i><i class=t10 style="top:38px;background-position:-4px 0;opacity:0.57"></i><i class=t9 style="top:39px;background-position:-17px 0;opacity:0.56"></i><i class=t10 style="top:40px;background-position:-88px 0;opacity:0.49"></i><i class=t6 style="top:41px;background-position:-32px 0;opacity:0.49"></i><i class=t9 style="top:42px;background-position:-44px 0;opacity:0.44"></i><i class=t6 style="top:43px;background-position:-48px 0;opacity:0.61"></i><i class=t9 style="top:44px;background-position:-22px 0;opacity:0.71"></i><i class=t7 style="top:45px;background-position:-15px 0;opacity:0.60"></i><i class=t10 style="top:46px;background-position:-6px 0;opacity:0.70"></i><i class=t7 style="top:47px;background-position:-100px 0;opacity:0.51"></i><i class=t8 style="top:48px;background-position:-88px 0;opacity:0.50"></i><i class=t9 style="top:49px;background-position:-71px 0;opacity:0.64"></i><i class=t10 style="top:50px;background-position:-90px 0;opacity:0.68"></i><i class=t9 style="top:51px;background-position:-29px 0;opacity:0.59"></i><i class=t11 style="top:52px;background-position:-78px 0;opacity:0.58"></i><i class=t11 style="top:53px;background-position:-59px 0;opacity:0.54"></i><i class=t8 style="top:54px;background-position:-15px 0;opacity:0.59"></i><i class=t8 style="top:55px;background-position:-95px 0;opacity:0.50"></i><i class=t8 style="top:56px;background-position:-88px 0;opacity:0.55"></i><i class=t7 style="top:57px;background-position:-5px 0;opacity:0.47"></i><i class=t6 style="top:58px;background-position:-93px 0;opacity:0.39"></i><i class=t7 style="top:59px;background-position:-31px 0;opacity:0.38"></i><i class=t8 style="top:60px;background-position:-26px 0;opacity:0.39"></i><i class=t11 style="top:61px;background-position:-39px 0;opacity:0.41"></i><i class=t7 style="top:62px;background-position:-99px 0;opacity:0.36"></i><i class=t6 style="top:63px;background-position:-4px 0;opacity:0.40"></i><i class=t8 style="top:64px;background-position:-33px 0;opacity:0.41"></i><i class=t9 style="top:65px;background-position:-89px 0;opacity:0.38"></i><i class=t9 style="top:66px;background-position:-4px 0;opacity:0.46"></i><i class=t3 style="top:67px;background-position:-90px 0;opacity:0.70"></i><i class=t1 style="top:68px;background-position:-41px 0;opacity:0.75"></i><i class=t5 style="top:69px;background-position:-47px 0;opacity:0.67"></i><i class=t1 style="top:70px;background-position:-8px 0;opacity:0.98"></i><i class=t4 style="top:71px;background-position:-88px 0;opacity:0.80"></i><i class=t3 style="top:72px;background-position:-57px 0;opacity:0.97"></i><i class=t2 style="top:73px;background-position:-84px 0;opacity:0.70"></i><i class=t0 style="top:74px;background-position:-8px 0;opacity:0.80"></i><i class=t2 style="top:75px;background-position:-60px 0;opacity:0.93"></i><i class=t0 style="top:76px;background-position:-35px 0;opacity:0.77"></i></div><div class="sp" style="top:332px;height:141px"><i class=c68></i><i class=c19></i><i class=c50></i><i class=c49></i><i class=c12></i><i class=c77></i><i class=c75></i><i class=c88></i><i class=c86></i><i class=c46></i><i class=c33></i><i class=c43></i><i class=c51></i><i class=c85></i><i class=c13></i><i class=c75></i><i class=c19></i><i class=c13></i><i class=c13></i><i class=c44></i><i class=c15></i><i class=c10></i><i class=c90></i><i class=c3></i><i class=c85></i><i class=c98></i><i class=c91></i><i class=c10></i><i class=c81></i><i class=c63></i><i class=c16></i><i class=c11></i><i class=c70></i><i class=c48></i><i class=c83></i><i class=c46></i><i class=c61></i><i class=c41></i><i class=c54></i><i class=c57></i><i class=c42></i><i class=c36></i><i class=c17></i><i class=c61></i><i class=c73></i><i class=c39></i><i class=c4></i><i class=c72></i><i class=c57></i><i class=c96></i><i class=c10></i><i class=c43></i><i class=c30></i><i class=c22></i><i class=c80></i><i class=c48></i><i class=c57></i><i class=c88></i><i class=c59></i><i class=c32></i><i class=c92></i><i class=c95></i><i class=c81></i><i class=c95></i><i class=c9></i><i class=c20></i><i class=c17></i><i class=c26></i><i class=c51></i><i class=c9></i><i class=c52></i><i class=c92></i><i class=c82></i><i class=c99></i><i class=c95></i><i class=c18></i><i class=c90></i><i class=c84></i><i class=c21></i><i class=c84></i><i class=c30></i><i class=c88></i><i class=c60></i><i class=c79></i><i class=c22></i><i class=c48></i><i class=c44></i><i class=c74></i><i class=c76></i><i class=c30></i><i class=c23></i><i class=c28></i><i class=c32></i><i class=c54></i><i class=c90></i><i class=c57></i><i class=c23></i><i class=c0></i><i class=c23></i><i class=c86></i><i class=c81></i><i class=c43></i><i class=c76></i><i class=c84></i><i class=c43></i><i class=c33></i><i class=c58></i><i class=c87></i><i class=c33></i><i class=c6></i><i class=c81></i><i class=c27></i><i class=c44></i><i class=c37></i><i class=c11></i><i class=c23></i><i class=c7></i><i class=c99></i><i class=c57></i><i class=c22></i><i class=c76></i><i class=c81></i><i class=c90></i><i class=c70></i><i class=c92></i><i class=c95></i><i class=c38></i><i class=c86></i><i class=c66></i><i class=c73></i><i class=c90></i><i class=c17></i><i class=c0></i><i class=c85></i><i class=c32></i><i class=c92></i><i class=c15></i><i class=c41></i><i class=c48></i><i class=c57></i><i class=c25></i><i class=c13></i><i class=c0></i><i class=c88></i><i class=c86></i><i class=c47></i><i class=c17></i><i class=c31></i><i class=c43></i><i class=c57></i><i class=c25></i><i class=c89></i><i class=c80></i><i class=c39></i><i class=c55></i><i class=c64></i><i class=c30></i><i class=c93></i><i class=c30></i><i class=c6></i><i class=c51></i><i class=c51></i><i class=c72></i><i class=c84></i><i class=c92></i><i class=c32></i><i class=c75></i><i class=c0></i><i class=c37></i><i class=c58></i><i class=c13></i><i class=c29></i><i class=c81></i><i class=c95></i><i class=c3></i><i class=c13></i><i class=c79></i><i class=c39></i><i class=c30></i><i class=c74></i><i class=c6></i><i class=c17></i><i class=c11></i><i class=c37></i><i class=c87></i><i class=c74></i><i class=c97></i><i class=c78></i><i class=c40></i><i class=c82></i><i class=c86></i><i class=c25></i><i class=c75></i><i class=c30></i><i class=c7></i><i class=c31></i><i class=c86></i><i class=c24></i><i class=c72></i><i class=c96></i><i class=c34></i><i class=c32></i><i class=c81></i><i class=c90></i><i class=c32></i><i class=c39></i><i class=c17></i><i class=c20></i><i class=c70></i><i class=c48></i><i class=c13></i><i class=c71></i><i class=c19></i><i class=c31></i><i class=c52></i><i class=c6></i><i class=c59></i><i class=c1></i><i class=c39></i><i class=c52></i><i class=c25></i><i class=c3></i><i class=c93></i><i class=c15></i><i class=c2></i><i class=c17></i><i class=c20></i><i class=c70></i><i class=c3></i><i class=c86></i><i class=c74></i><i class=c3></i><i class=c17></i><i class=c28></i><i class=c53></i><i class=c73></i><i class=c44></i><i class=c75></i><i class=c74></i><i class=c57></i><i class=c31></i><i class=c57></i><i class=c43></i><i class=c80></i><i class=c55></i><i class=c0></i><i class=c2></i><i class=c72></i><i class=c57></i><i class=c52></i><i class=c95></i><i class=c8></i><i class=c81></i><i class=c0></i><i class=c55></i><i class=c60></i><i class=c32></i><i class=c80></i><i class=c35></i><i class=c74></i><i class=c32></i><i class=c92></i><i class=c26></i><i class=c75></i><i class=c51></i><i class=c19></i><i class=c0></i><i class=c49></i><i class=c18></i><i class=c84></i><i class=c32></i><i class=c29></i><i class=c74></i><i class=c0></i><i class=c74></i><i class=c67></i><i class=c18></i><i class=c81></i><i class=c6></i><i class=c59></i><i class=c34></i><i class=c9></i><i class=c47></i><i class=c5></i><i class=c96></i><i class=c92></i><i class=c75></i><i class=c71></i><i class=c88></i><i class=c0></i><i class=c6></i><i class=c30></i><i class=c52></i><i class=c72></i><i class=c48></i><i class=c39></i><i class=c51></i><i class=c87></i><i class=c43></i><i class=c65></i><i class=c13></i><i class=c0></i><i class=c85></i><i class=c65></i><i class=c63></i><i class=c79></i><i class=c1></i><i class=c23></i><i class=c51></i><i class=c58></i><i class=c67></i><i class=c43></i><i class=c98></i><i class=c81></i><i class=c57></i><i class=c84></i><i class=c57></i><i class=c74></i><i class=c70></i><i class=c79></i><i class=c85></i><i class=c75></i><i class=c89></i><i class=c43></i><i class=c52></i><i class=c72></i><i class=c71></i><i class=c75></i><i class=c15></i><i class=c15></i><i class=c57></i><i class=c35></i><i class=c58></i><i class=c30></i><i class=c25></i><i class=c48></i><i class=c23></i><i class=c61></i><i class=c37></i><i class=c73></i><i class=c32></i><i class=c31></i><i class=c17></i><i class=c32></i><i class=c94></i><i class=c85></i><i class=c75></i><i class=c39></i><i class=c83></i><i class=c75></i><i class=c30></i><i class=c74></i><i class=c31></i><i class=c77></i><i class=c66></i><i class=c3></i><i class=c44></i><i class=c75></i><i class=c43></i><i class=c52></i><i class=c33></i><i class=c23></i><i class=c30></i><i class=c70></i><i class=c65></i><i class=c74></i><i class=c28></i><i class=c74></i><i class=c20></i><i class=c64></i><i class=c6></i><i class=c95></i><i class=c14></i><i class=c71></i><i class=c80></i><i class=c19></i><i class=c98></i><i class=c84></i><i class=c57></i><i class=c7></i><i class=c41></i><i class=c58></i><i class=c96></i><i class=c67></i><i class=c33></i><i class=c73></i><i class=c31></i><i class=c20></i><i class=c63></i><i class=c5></i><i class=c86></i><i class=c40></i><i class=c74></i><i class=c90></i><i class=c73></i><i class=c70></i><i class=c74></i><i class=c66></i><i class=c81></i><i class=c51></i><i class=c4></i><i class=c64></i><i class=c32></i><i class=c30></i><i class=c75></i><i class=c30></i><i class=c57></i><i class=c58></i><i class=c64></i><i class=c15></i><i class=c84></i><i class=c69></i><i class=c19></i><i class=c44></i><i class=c6></i><i class=c65></i><i class=c73></i><i class=c24></i><i class=c92></i><i class=c74></i><i class=c25></i><i class=c8></i><i class=c6></i><i class=c24></i><i class=c86></i><i class=c51></i><i class=c81></i><i class=c52></i><i class=c81></i><i class=c95></i><i class=c90></i><i class=c13></i><i class=c73></i><i class=c8></i><i class=c30></i><i class=c30></i><i class=c85></i><i class=c40></i><i class=c86></i><i class=c79></i><i class=c87></i><i class=c84></i><i class=c97></i><i class=c47></i><i class=c97></i><i class=c73></i><i class=c19></i><i class=c88></i><i class=c63></i><i class=c30></i><i class=c30></i><i class=c13></i><i class=c75></i><i class=c52></i><i class=c95></i><i class=c96></i><i class=c82></i><i class=c96></i><i class=c79></i><i class=c37></i><i class=c98></i><i class=c37></i><i class=c72></i><i class=c48></i><i class=c70></i><i class=c24></i><i class=c19></i><i class=c48></i><i class=c55></i><i class=c70></i><i class=c31></i><i class=c48></i><i class=c88></i><i class=c44></i><i class=c79></i><i class=c81></i><i class=c73></i><i class=c48></i><i class=c15></i><i class=c61></i><i class=c48></i><i class=c13></i><i class=c84></i><i class=c13></i><i class=c30></i><i class=c26></i><i class=c86></i><i class=c52></i><i class=c85></i><i class=c13></i><i class=c23></i><i class=c98></i><i class=c97></i><i class=c57></i><i class=c91></i><i class=c74></i><i class=c13></i><i class=c31></i><i class=c6></i><i class=c80></i><i class=c30></i><i class=c44></i><i class=c79></i><i class=c8></i><i class=c82></i><i class=c74></i><i class=c14></i><i class=c29></i><i class=c74></i><i class=c79></i><i class=c39></i><i class=c56></i><i class=c28></i><i class=c63></i><i class=c25></i><i class=c30></i><i class=c37></i><i class=c11></i><i class=c30></i><i class=c57></i><i class=c57></i><i class=c91></i><i class=c18></i><i class=c81></i><i class=c57></i><i class=c58></i><i class=c41></i><i class=c48></i><i class=c72></i><i class=c43></i><i class=c67></i><i class=c62></i><i class=c68></i><i class=c27></i><i class=c86></i><i class=c28></i><i class=c82></i><i class=c8></i><i class=c43></i><i class=c22></i><i class=c41></i><i class=c31></i><i class=c55></i><i class=c13></i><i class=c33></i><i class=c74></i><i class=c72></i><i class=c57></i><i class=c4></i><i class=c8></i><i class=c38></i><i class=c45></i><i class=c6></i><i class=c84></i><i class=c87></i><i class=c81></i><i class=c25></i><i class=c55></i><i class=c85></i><i class=c43></i><i class=c69></i><i class=c80></i><i class=c56></i><i class=c73></i><i class=c98></i><i class=c6></i><i class=c31></i><i class=c13></i><i class=c13></i><i class=c26></i><i class=c30></i><i class=c16></i><i class=c98></i><i class=c23></i><i class=c22></i><i class=c25></i><i class=c23></i><i class=c59></i><i class=c31></i><i class=c22></i><i class=c52></i><i class=c83></i><i class=c94></i><i class=c25></i><i class=c91></i><i class=c31></i><i class=c86></i><i class=c28></i><i class=c15></i><i class=c58></i><i class=c32></i><i class=c46></i><i class=c48></i><i class=c36></i><i class=c51></i><i class=c70></i><i class=c53></i><i class=c8></i><i class=c74></i><i class=c13></i><i class=c31></i><i class=c58></i><i class=c61></i><i class=c31></i><i class=c92></i><i class=c4></i><i class=c68></i><i class=c13></i><i class=c82></i><i class=c95></i><i class=c81></i><i class=c85></i><i class=c39></i><i class=c54></i></div><div class="sp" style="top:473px;height:15px"><i class=d12></i><i class=d6></i><i class=d33></i><i class=d37></i><i class=d16></i><i class=d30></i><i class=d1></i><i class=d32></i><i class=d8></i><i class=d24></i><i class=d26></i><i class=d25></i><i class=d16></i><i class=d38></i><i class=d14></i><i class=d2></i><i class=d26></i><i class=d14></i><i class=d8></i><i class=d39></i><i class=d10></i><i class=d24></i><i class=d15></i><i class=d7></i><i class=d10></i><i class=d28></i><i class=d3></i><i class=d7></i><i class=d23></i><i class=d10></i><i class=d30></i><i class=d37></i><i class=d34></i><i class=d26></i><i class=d4></i><i class=d31></i><i class=d9></i><i class=d9></i><i class=d33></i><i class=d16></i><i class=d8></i><i class=d26></i><i class=d4></i><i class=d27></i><i class=d16></i><i class=d29></i><i class=d16></i><i class=d12></i><i class=d9></i><i class=d26></i><i class=d3></i><i class=d32></i><i class=d38></i><i class=d35></i><i class=d26></i><i class=d37></i><i class=d19></i><i class=d10></i><i class=d11></i><i class=d35></i><i class=d32></i><i class=d0></i><i class=d9></i><i class=d16></i><i class=d16></i><i class=d18></i><i class=d38></i><i class=d25></i><i class=d38></i><i class=d3></i><i class=d9></i><i class=d16></i><i class=d10></i><i class=d10></i><i class=d28></i><i class=d25></i><i class=d4></i><i class=d37></i><i class=d38></i><i class=d6></i><i class=d3></i><i class=d30></i><i class=d31></i><i class=d31></i><i class=d13></i><i class=d1></i><i class=d29></i><i class=d8></i><i class=d22></i><i class=d25></i><i class=d7></i><i class=d16></i><i class=d16></i><i class=d13></i><i class=d16></i><i class=d11></i><i class=d21></i><i class=d9></i><i class=d18></i><i class=d18></i><i class=d34></i><i class=d24></i><i class=d11></i><i class=d30></i><i class=d31></i><i class=d39></i><i class=d32></i><i class=d16></i><i class=d7></i><i class=d21></i><i class=d33></i><i class=d8></i><i class=d35></i><i class=d10></i><i class=d9></i><i class=d3></i><i class=d20></i><i class=d16></i><i class=d3></i><i class=d9></i><i class=d29></i><i class=d16></i><i class=d9></i><i class=d38></i><i class=d16></i><i class=d36></i><i class=d25></i><i class=d31></i><i class=d4></i><i class=d10></i><i class=d8></i><i class=d16></i><i class=d3></i><i class=d12></i><i class=d8></i><i class=d31></i><i class=d38></i><i class=d11></i><i class=d17></i><i class=d32></i><i class=d16></i><i class=d10></i><i class=d31></i><i class=d18></i><i class=d4></i><i class=d31></i><i class=d9></i><i class=d10></i><i class=d19></i><i class=d19></i><i class=d7></i><i class=d19></i><i class=d31></i><i class=d26></i><i class=d6></i><i class=d19></i><i class=d8></i><i class=d1></i><i class=d6></i><i class=d8></i><i class=d11></i><i class=d8></i><i class=d16></i><i class=d10></i><i class=d29></i><i class=d16></i><i class=d32></i><i class=d1></i><i class=d18></i><i class=d39></i><i class=d7></i><i class=d16></i><i class=d20></i><i class=d27></i><i class=d31></i><i class=d33></i><i class=d10></i><i class=d16></i><i class=d8></i><i class=d5></i><i class=d10></i><i class=d16></i><i class=d30></i><i class=d19></i><i class=d4></i><i class=d16></i><i class=d25></i><i class=d28></i><i class=d11></i><i class=d32></i><i class=d32></i><i class=d37></i><i class=d28></i><i class=d9></i><i class=d38></i><i class=d26></i><i class=d11></i><i class=d11></i><i class=d8></i><i class=d38></i><i class=d16></i><i class=d16></i><i class=d25></i><i class=d20></i><i class=d38></i><i class=d18></i><i class=d33></i><i class=d9></i><i class=d10></i><i class=d4></i><i class=d16></i><i class=d33></i><i class=d32></i><i class=d3></i><i class=d11></i><i class=d11></i><i class=d37></i><i class=d30></i><i class=d4></i><i class=d7></i><i class=d0></i><i class=d3></i><i class=d14></i><i class=d39></i><i class=d7></i><i class=d32></i><i class=d16></i><i class=d0></i><i class=d16></i><i class=d9></i><i class=d16></i><i class=d20></i><i class=d39></i><i class=d16></i><i class=d17></i><i class=d16></i><i class=d24></i><i class=d26></i><i class=d26></i><i class=d36></i><i class=d10></i><i class=d28></i><i class=d16></i><i class=d11></i><i class=d9></i><i class=d7></i><i class=d29></i><i class=d9></i><i class=d10></i><i class=d22></i><i class=d11></i><i class=d15></i><i class=d8></i><i class=d8></i><i class=d16></i><i class=d26></i><i class=d4></i><i class=d38></i><i class=d8></i><i class=d16></i><i class=d29></i><i class=d7></i><i class=d26></i><i class=d4></i><i class=d30></i><i class=d32></i><i class=d7></i><i class=d25></i><i class=d3></i><i class=d21></i><i class=d7></i><i class=d13></i><i class=d9></i><i class=d16></i><i class=d29></i><i class=d38></i><i class=d26></i><i class=d4></i><i class=d15></i><i class=d35></i><i class=d16></i><i class=d25></i><i class=d18></i><i class=d11></i><i class=d1></i><i class=d33></i><i class=d2></i><i class=d9></i><i class=d11></i><i class=d11></i><i class=d10></i><i class=d16></i><i class=d15></i><i class=d8></i><i class=d30></i><i class=d20></i><i class=d25></i><i class=d29></i><i class=d19></i><i class=d16></i><i class=d16></i><i class=d15></i><i class=d16></i><i class=d16></i><i class=d36></i><i class=d13></i><i class=d4></i><i class=d3></i><i class=d9></i><i class=d1></i><i class=d0></i><i class=d7></i><i class=d0></i><i class=d18></i><i class=d7></i><i class=d25></i><i class=d14></i><i class=d31></i><i class=d16></i><i class=d16></i><i class=d32></i><i class=d20></i><i class=d7></i><i class=d10></i><i class=d11></i><i class=d7></i><i class=d18></i><i class=d1></i><i class=d16></i><i class=d1></i><i class=d8></i><i class=d8></i><i class=d27></i><i class=d16></i><i class=d16></i><i class=d16></i><i class=d15></i><i class=d7></i><i class=d16></i><i class=d28></i><i class=d18></i><i class=d39></i><i class=d32></i><i class=d7></i><i class=d10></i><i class=d28></i><i class=d14></i><i class=d1></i><i class=d37></i><i class=d20></i><i class=d3></i><i class=d17></i><i class=d3></i><i class=d1></i><i class=d8></i><i class=d9></i><i class=d17></i><i class=d16></i><i class=d16></i><i class=d36></i><i class=d9></i><i class=d37></i><i class=d8></i><i class=d17></i><i class=d16></i><i class=d4></i><i class=d10></i><i class=d16></i><i class=d8></i><i class=d31></i><i class=d38></i><i class=d29></i><i class=d0></i><i class=d25></i><i class=d8></i><i class=d8></i><i class=d12></i><i class=d25></i><i class=d22></i><i class=d16></i><i class=d1></i><i class=d26></i><i class=d38></i><i class=d25></i><i class=d38></i><i class=d16></i><i class=d4></i><i class=d28></i><i class=d16></i><i class=d32></i><i class=d37></i><i class=d16></i><i class=d18></i><i class=d25></i><i class=d15></i><i class=d9></i><i class=d32></i><i class=d16></i><i class=d28></i><i class=d10></i><i class=d26></i><i class=d16></i><i class=d8></i><i class=d37></i><i class=d29></i><i class=d10></i><i class=d38></i><i class=d12></i><i class=d31></i><i class=d1></i><i class=d4></i><i class=d3></i><i class=d11></i><i class=d10></i><i class=d14></i><i class=d28></i><i class=d0></i><i class=d11></i><i class=d37></i><i class=d3></i><i class=d13></i><i class=d18></i><i class=d15></i><i class=d35></i><i class=d16></i><i class=d16></i><i class=d8></i><i class=d34></i><i class=d18></i><i class=d31></i><i class=d9></i><i class=d16></i><i class=d7></i><i class=d36></i><i class=d33></i><i class=d25></i><i class=d16></i><i class=d8></i><i class=d4></i><i class=d8></i><i class=d18></i><i class=d3></i><i class=d8></i><i class=d1></i><i class=d10></i><i class=d24></i><i class=d4></i><i class=d0></i><i class=d18></i><i class=d27></i><i class=d33></i><i class=d0></i><i class=d15></i><i class=d9></i><i class=d1></i><i class=d20></i><i class=d31></i><i class=d8></i><i class=d20></i><i class=d26></i><i class=d33></i><i class=d31></i><i class=d18></i><i class=d3></i><i class=d25></i><i class=d10></i><i class=d29></i><i class=d16></i><i class=d30></i><i class=d26></i><i class=d2></i><i class=d28></i><i class=d25></i><i class=d26></i><i class=d17></i><i class=d26></i><i class=d16></i><i class=d18></i><i class=d14></i><i class=d26></i><i class=d38></i><i class=d3></i><i class=d1></i><i class=d16></i><i class=d16></i><i class=d21></i><i class=d38></i><i class=d9></i><i class=d16></i><i class=d1></i><i class=d8></i><i class=d29></i><i class=d4></i><i class=d10></i><i class=d4></i><i class=d14></i><i class=d16></i><i class=d3></i><i class=d7></i><i class=d16></i><i class=d32></i><i class=d8></i><i class=d16></i><i class=d32></i><i class=d2></i><i class=d7></i><i class=d21></i><i class=d18></i><i class=d8></i><i class=d38></i><i class=d28></i><i class=d7></i><i class=d12></i><i class=d16></i><i class=d16></i><i class=d10></i><i class=d0></i><i class=d5></i><i class=d38></i><i class=d10></i><i class=d38></i><i class=d10></i><i class=d28></i><i class=d8></i><i class=d30></i><i class=d10></i><i class=d0></i><i class=d10></i><i class=d30></i><i class=d16></i><i class=d16></i><i class=d5></i><i class=d27></i><i class=d31></i><i class=d10></i><i class=d5></i><i class=d16></i><i class=d7></i><i class=d9></i><i class=d7></i><i class=d2></i><i class=d25></i><i class=d16></i><i class=d4></i><i class=d10></i><i class=d7></i><i class=d10></i><i class=d1></i><i class=d31></i><i class=d25></i><i class=d12></i><i class=d8></i><i class=d18></i><i class=d16></i><i class=d18></i><i class=d18></i><i class=d38></i><i class=d0></i><i class=d37></i><i class=d9></i><i class=d25></i><i class=d11></i><i class=d32></i><i class=d11></i><i class=d16></i><i class=d4></i><i class=d32></i><i class=d16></i><i class=d34></i><i class=d27></i><i class=d17></i><i class=d29></i><i class=d10></i><i class=d3></i><i class=d0></i><i class=d16></i><i class=d15></i><i class=d13></i><i class=d31></i><i class=d16></i><i class=d0></i><i class=d16></i><i class=d0></i><i class=d18></i><i class=d16></i><i class=d10></i><i class=d4></i><i class=d30></i><i class=d18></i><i class=d25></i><i class=d16></i><i class=d30></i><i class=d27></i><i class=d14></i><i class=d4></i><i class=d29></i><i class=d35></i><i class=d16></i><i class=d27></i><i class=d16></i><i class=d7></i><i class=d38></i><i class=d4></i><i class=d10></i><i class=d17></i><i class=d3></i><i class=d19></i><i class=d25></i><i class=d29></i><i class=d10></i><i class=d16></i><i class=d16></i><i class=d29></i><i class=d16></i></div><div class="rw" style="top:417px;height:71px"><i class=t3 style="top:0px;background-position:-42px 0;opacity:0.48"></i><i class=t1 style="top:1px;background-position:-49px 0;opacity:0.56"></i><i class=t5 style="top:2px;background-position:-36px 0;opacity:0.55"></i><i class=t3 style="top:3px;background-position:-93px 0;opacity:0.60"></i><i class=t0 style="top:4px;background-position:-99px 0;opacity:0.48"></i><i class=t0 style="top:5px;background-position:-56px 0;opacity:0.65"></i><i class=t1 style="top:6px;background-position:-92px 0;opacity:0.50"></i><i class=t2 style="top:7px;background-position:-83px 0;opacity:0.59"></i><i class=t4 style="top:8px;background-position:-7px 0;opacity:0.45"></i><i class=t4 style="top:9px;background-position:-4px 0;opacity:0.52"></i><i class=t2 style="top:10px;background-position:-94px 0;opacity:0.47"></i><i class=t5 style="top:11px;background-position:-46px 0;opacity:0.60"></i><i class=t1 style="top:12px;background-position:-71px 0;opacity:0.58"></i><i class=t0 style="top:13px;background-position:-12px 0;opacity:0.64"></i><i class=t5 style="top:14px;background-position:-22px 0;opacity:0.43"></i><i class=t2 style="top:15px;background-position:-28px 0;opacity:0.57"></i><i class=t4 style="top:16px;background-position:-73px 0;opacity:0.46"></i><i class=t0 style="top:17px;background-position:-38px 0;opacity:0.52"></i><i class=t0 style="top:18px;background-position:-85px 0;opacity:0.44"></i><i class=t0 style="top:19px;background-position:-84px 0;opacity:0.58"></i><i class=t3 style="top:20px;background-position:-29px 0;opacity:0.43"></i><i class=t1 style="top:21px;background-position:-9px 0;opacity:0.62"></i><i class=t5 style="top:22px;background-position:-51px 0;opacity:0.61"></i><i class=t5 style="top:23px;background-position:-35px 0;opacity:0.64"></i><i class=t0 style="top:24px;background-position:-83px 0;opacity:0.62"></i><i class=t1 style="top:25px;background-position:-17px 0;opacity:0.72"></i><i class=t5 style="top:26px;background-position:-5px 0;opacity:0.69"></i><i class=t5 style="top:27px;background-position:-96px 0;opacity:0.72"></i><i class=t5 style="top:28px;background-position:-90px 0;opacity:0.53"></i><i class=t3 style="top:29px;background-position:-83px 0;opacity:0.69"></i><i class=t0 style="top:30px;background-position:-77px 0;opacity:0.46"></i><i class=t4 style="top:31px;background-position:-12px 0;opacity:0.54"></i><i class=t1 style="top:32px;background-position:-28px 0;opacity:0.44"></i><i class=t5 style="top:33px;background-position:-58px 0;opacity:0.49"></i><i class=t3 style="top:34px;background-position:-100px 0;opacity:0.44"></i><i class=t5 style="top:35px;background-position:-35px 0;opacity:0.46"></i><i class=t5 style="top:36px;background-position:-31px 0;opacity:0.41"></i><i class=t5 style="top:37px;background-position:-41px 0;opacity:0.51"></i><i class=t4 style="top:38px;background-position:-48px 0;opacity:0.51"></i><i class=t2 style="top:39px;background-position:-96px 0;opacity:0.44"></i><i class=t0 style="top:40px;background-position:-27px 0;opacity:0.46"></i><i class=t1 style="top:41px;background-position:-3px 0;opacity:0.40"></i><i class=t3 style="top:42px;background-position:-85px 0;opacity:0.40"></i><i class=t1 style="top:43px;background-position:-70px 0;opacity:0.46"></i><i class=t1 style="top:44px;background-position:-63px 0;opacity:0.42"></i><i class=t1 style="top:45px;background-position:-49px 0;opacity:0.49"></i><i class=t0 style="top:46px;background-position:-57px 0;opacity:0.47"></i><i class=t5 style="top:47px;background-position:-24px 0;opacity:0.46"></i><i class=t9 style="top:48px;background-position:-50px 0;opacity:0.54"></i><i class=t8 style="top:49px;background-position:-45px 0;opacity:0.36"></i><i class=t10 style="top:50px;background-position:-90px 0;opacity:0.54"></i><i class=t11 style="top:51px;background-position:-19px 0;opacity:0.45"></i><i class=t11 style="top:52px;background-position:-22px 0;opacity:0.43"></i><i class=t6 style="top:53px;background-position:-5px 0;opacity:0.45"></i><i class=t10 style="top:54px;background-position:-88px 0;opacity:0.42"></i><i class=t11 style="top:55px;background-position:-51px 0;opacity:0.53"></i><i class=t8 style="top:56px;background-position:-36px 0;opacity:0.30"></i><i class=t9 style="top:57px;background-position:-78px 0;opacity:0.32"></i><i class=t6 style="top:58px;background-position:-90px 0;opacity:0.32"></i><i class=t10 style="top:59px;background-position:-53px 0;opacity:0.33"></i><i class=t9 style="top:60px;background-position:-88px 0;opacity:0.42"></i><i class=t6 style="top:61px;background-position:-64px 0;opacity:0.36"></i><i class=t9 style="top:62px;background-position:-29px 0;opacity:0.36"></i><i class=t9 style="top:63px;background-position:-37px 0;opacity:0.29"></i><i class=t9 style="top:64px;background-position:-60px 0;opacity:0.43"></i><i class=t9 style="top:65px;background-position:-6px 0;opacity:0.38"></i><i class=t11 style="top:66px;background-position:-90px 0;opacity:0.46"></i><i class=t11 style="top:67px;background-position:-25px 0;opacity:0.43"></i><i class=t9 style="top:68px;background-position:-41px 0;opacity:0.53"></i><i class=t10 style="top:69px;background-position:-22px 0;opacity:0.44"></i><i class=t6 style="top:70px;background-position:-28px 0;opacity:0.38"></i></div>
<svg width="792" height="612" viewBox="0 0 792 612" shape-rendering="crispEdges">
<rect x="84" y="245" width="1" height="77" fill="#20c0ff" fill-opacity="0.26"/><rect x="98" y="245" width="1" height="77" fill="#00e0ff" fill-opacity="0.40"/><rect x="104" y="245" width="1" height="77" fill="#00ffa0" fill-opacity="0.81"/><rect x="110" y="245" width="1" height="77" fill="#00e0ff" fill-opacity="0.39"/><rect x="115" y="245" width="1" height="77" fill="#80ff00" fill-opacity="0.93"/><rect x="116" y="245" width="1" height="77" fill="#00ffff" fill-opacity="0.23"/><rect x="122" y="245" width="1" height="77" fill="#30ff60" fill-opacity="0.97"/><rect x="124" y="245" width="1" height="77" fill="#00e0ff" fill-opacity="0.34"/><rect x="144" y="245" width="1" height="77" fill="#00ffa0" fill-opacity="0.85"/><rect x="147" y="245" width="1" height="77" fill="#80ff00" fill-opacity="0.88"/><rect x="161" y="245" width="1" height="77" fill="#00ffff" fill-opacity="0.43"/><rect x="165" y="245" width="1" height="77" fill="#30ff60" fill-opacity="0.83"/><rect x="176" y="245" width="1" height="77" fill="#40ff40" fill-opacity="0.83"/><rect x="191" y="245" width="1" height="77" fill="#20c0ff" fill-opacity="0.31"/><rect x="193" y="245" width="1" height="77" fill="#80ff00" fill-opacity="0.80"/><rect x="211" y="245" width="1" height="77" fill="#40ff40" fill-opacity="0.84"/><rect x="216" y="245" width="1" height="77" fill="#00ffff" fill-opacity="0.44"/><rect x="221" y="245" width="1" height="77" fill="#00ffff" fill-opacity="0.42"/><rect x="224" y="245" width="1" height="77" fill="#00ff80" fill-opacity="0.86"/><rect x="230" y="245" width="1" height="77" fill="#80ff00" fill-opacity="0.91"/><rect x="232" y="245" width="1" height="77" fill="#20c0ff" fill-opacity="0.36"/><rect x="236" y="245" width="1" height="77" fill="#00ffff" fill-opacity="0.44"/><rect x="246" y="245" width="1" height="77" fill="#80ff00" fill-opacity="0.99"/><rect x="256" y="245" width="1" height="77" fill="#00e0ff" fill-opacity="0.27"/><rect x="261" y="245" width="1" height="77" fill="#00ff80" fill-opacity="0.88"/><rect x="266" y="245" width="1" height="77" fill="#80ff00" fill-opacity="0.85"/><rect x="276" y="245" width="1" height="77" fill="#00e0ff" fill-opacity="0.28"/><rect x="284" y="245" width="1" height="77" fill="#20c0ff" fill-opacity="0.35"/><rect x="286" y="245" width="1" height="77" fill="#00ffa0" fill-opacity="0.94"/><rect x="297" y="245" width="1" height="77" fill="#00e0ff" fill-opacity="0.22"/><rect x="301" y="245" width="1" height="77" fill="#00e0ff" fill-opacity="0.40"/><rect x="305" y="245" width="1" height="77" fill="#30ff60" fill-opacity="0.94"/><rect x="315" y="245" width="1" height="77" fill="#80ff00" fill-opacity="0.90"/><rect x="324" y="245" width="1" height="77" fill="#20c0ff" fill-opacity="0.24"/><rect x="332" y="245" width="1" height="77" fill="#00e0ff" fill-opacity="0.44"/><rect x="334" y="245" width="1" height="77" fill="#40ff40" fill-opacity="0.99"/><rect x="345" y="245" width="1" height="77" fill="#00ff80" fill-opacity="0.97"/><rect x="352" y="245" width="1" height="77" fill="#40ff40" fill-opacity="0.91"/><rect x="361" y="245" width="1" height="77" fill="#30ff60" fill-opacity="0.87"/><rect x="368" y="245" width="1" height="77" fill="#00ffa0" fill-opacity="0.97"/><rect x="374" y="245" width="1" height="77" fill="#00e0ff" fill-opacity="0.21"/><rect x="380" y="245" width="1" height="77" fill="#80ff00" fill-opacity="0.92"/><rect x="383" y="245" width="1" height="77" fill="#00ffff" fill-opacity="0.23"/><rect x="391" y="245" width="1" height="77" fill="#80ff00" fill-opacity="0.99"/><rect x="401" y="245" width="1" height="77" fill="#00e0ff" fill-opacity="0.29"/><rect x="406" y="245" width="1" height="77" fill="#00e0ff" fill-opacity="0.42"/><rect x="416" y="245" width="1" height="77" fill="#00ff80" fill-opacity="0.96"/><rect x="426" y="245" width="1" height="77" fill="#00ffff" fill-opacity="0.35"/><rect x="432" y="245" width="1" height="77" fill="#00ff80" fill-opacity="0.97"/><rect x="435" y="245" width="1" height="77" fill="#00ffff" fill-opacity="0.31"/><rect x="447" y="245" width="1" height="77" fill="#40ff40" fill-opacity="0.84"/><rect x="455" y="245" width="1" height="77" fill="#00ffa0" fill-opacity="0.92"/><rect x="459" y="245" width="1" height="77" fill="#00ffff" fill-opacity="0.28"/><rect x="466" y="245" width="1" height="77" fill="#00ffa0" fill-opacity="0.82"/><rect x="474" y="245" width="1" height="77" fill="#20c0ff" fill-opacity="0.28"/><rect x="479" y="245" width="1" height="77" fill="#00ffff" fill-opacity="0.40"/><rect x="492" y="245" width="1" height="77" fill="#80ff00" fill-opacity="0.94"/><rect x="496" y="245" width="1" height="77" fill="#00e0ff" fill-opacity="0.45"/><rect x="502" y="245" width="1" height="77" fill="#00ffff" fill-opacity="0.38"/><rect x="522" y="245" width="1" height="77" fill="#40ff40" fill-opacity="1.00"/><rect x="527" y="245" width="1" height="77" fill="#20c0ff" fill-opacity="0.43"/><rect x="539" y="245" width="1" height="77" fill="#40ff40" fill-opacity="0.85"/><rect x="544" y="245" width="1" height="77" fill="#20c0ff" fill-opacity="0.29"/><rect x="552" y="245" width="1" height="77" fill="#00e0ff" fill-opacity="0.31"/><rect x="558" y="245" width="1" height="77" fill="#00e0ff" fill-opacity="0.24"/><rect x="570" y="245" width="1" height="77" fill="#40ff40" fill-opacity="0.96"/><rect x="580" y="245" width="1" height="77" fill="#00ff80" fill-opacity="0.97"/><rect x="589" y="245" width="1" height="77" fill="#00ffff" fill-opacity="0.45"/><rect x="596" y="245" width="1" height="77" fill="#00ffa0" fill-opacity="0.99"/><rect x="605" y="245" width="1" height="77" fill="#20c0ff" fill-opacity="0.42"/><rect x="619" y="245" width="1" height="77" fill="#00e0ff" fill-opacity="0.23"/><rect x="627" y="245" width="1" height="77" fill="#00e0ff" fill-opacity="0.29"/><rect x="630" y="245" width="1" height="77" fill="#40ff40" fill-opacity="0.97"/><rect x="643" y="245" width="1" height="77" fill="#00ff80" fill-opacity="0.83"/><rect x="651" y="245" width="1" height="77" fill="#00ffa0" fill-opacity="0.97"/><rect x="674" y="245" width="1" height="77" fill="#20c0ff" fill-opacity="0.31"/><rect x="681" y="245" width="1" height="77" fill="#30ff60" fill-opacity="0.94"/><rect x="684" y="245" width="1" height="77" fill="#00e0ff" fill-opacity="0.32"/><rect x="691" y="245" width="1" height="77" fill="#00e0ff" fill-opacity="0.32"/><rect x="84" y="473" width="1" height="15" fill="#00ffff" fill-opacity="0.23"/><rect x="98" y="473" width="1" height="15" fill="#20c0ff" fill-opacity="0.44"/><rect x="104" y="473" width="1" height="15" fill="#30ff60" fill-opacity="0.97"/><rect x="110" y="473" width="1" height="15" fill="#00ffff" fill-opacity="0.22"/><rect x="115" y="473" width="1" height="15" fill="#00ff80" fill-opacity="0.90"/><rect x="116" y="473" width="1" height="15" fill="#20c0ff" fill-opacity="0.42"/><rect x="122" y="473" width="1" height="15" fill="#00ff80" fill-opacity="0.81"/><rect x="124" y="473" width="1" height="15" fill="#00e0ff" fill-opacity="0.37"/><rect x="144" y="473" width="1" height="15" fill="#40ff40" fill-opacity="0.95"/><rect x="147" y="473" width="1" height="15" fill="#00ff80" fill-opacity="0.91"/><rect x="161" y="473" width="1" height="15" fill="#20c0ff" fill-opacity="0.27"/><rect x="165" y="473" width="1" height="15" fill="#30ff60" fill-opacity="0.85"/><rect x="176" y="473" width="1" height="15" fill="#00ff80" fill-opacity="0.99"/><rect x="191" y="473" width="1" height="15" fill="#00e0ff" fill-opacity="0.36"/><rect x="193" y="473" width="1" height="15" fill="#00ffa0" fill-opacity="0.97"/><rect x="211" y="473" width="1" height="15" fill="#30ff60" fill-opacity="0.91"/><rect x="216" y="473" width="1" height="15" fill="#00e0ff" fill-opacity="0.28"/><rect x="221" y="473" width="1" height="15" fill="#00e0ff" fill-opacity="0.32"/><rect x="224" y="473" width="1" height="15" fill="#00ffa0" fill-opacity="0.93"/><rect x="230" y="473" width="1" height="15" fill="#00ff80" fill-opacity="0.87"/><rect x="232" y="473" width="1" height="15" fill="#20c0ff" fill-opacity="0.29"/><rect x="236" y="473" width="1" height="15" fill="#00e0ff" fill-opacity="0.29"/><rect x="246" y="473" width="1" height="15" fill="#80ff00" fill-opacity="0.97"/><rect x="256" y="473" width="1" height="15" fill="#20c0ff" fill-opacity="0.31"/><rect x="261" y="473" width="1" height="15" fill="#00ff80" fill-opacity="0.99"/><rect x="266" y="473" width="1" height="15" fill="#00ffa0" fill-opacity="0.83"/><rect x="276" y="473" width="1" height="15" fill="#00ffff" fill-opacity="0.25"/><rect x="284" y="473" width="1" height="15" fill="#00e0ff" fill-opacity="0.43"/><rect x="286" y="473" width="1" height="15" fill="#30ff60" fill-opacity="0.86"/><rect x="297" y="473" width="1" height="15" fill="#00ffff" fill-opacity="0.38"/><rect x="301" y="473" width="1" height="15" fill="#20c0ff" fill-opacity="0.30"/><rect x="305" y="473" width="1" height="15" fill="#00ffa0" fill-opacity="0.96"/><rect x="315" y="473" width="1" height="15" fill="#00ffa0" fill-opacity="0.90"/><rect x="324" y="473" width="1" height="15" fill="#00e0ff" fill-opacity="0.28"/><rect x="332" y="473" width="1" height="15" fill="#20c0ff" fill-opacity="0.39"/><rect x="334" y="473" width="1" height="15" fill="#00ff80" fill-opacity="0.94"/><rect x="345" y="473" width="1" height="15" fill="#40ff40" fill-opacity="0.84"/><rect x="352" y="473" width="1" height="15" fill="#00ffa0" fill-opacity="0.89"/><rect x="361" y="473" width="1" height="15" fill="#80ff00" fill-opacity="0.84"/><rect x="368" y="473" width="1" height="15" fill="#80ff00" fill-opacity="0.93"/><rect x="374" y="473" width="1" height="15" fill="#00ffff" fill-opacity="0.45"/><rect x="380" y="473" width="1" height="15" fill="#80ff00" fill-opacity="0.83"/><rect x="383" y="473" width="1" height="15" fill="#00ffff" fill-opacity="0.23"/><rect x="391" y="473" width="1" height="15" fill="#80ff00" fill-opacity="0.90"/><rect x="401" y="473" width="1" height="15" fill="#20c0ff" fill-opacity="0.21"/><rect x="406" y="473" width="1" height="15" fill="#00e0ff" fill-opacity="0.29"/><rect x="416" y="473" width="1" height="15" fill="#00ffa0" fill-opacity="0.81"/><rect x="426" y="473" width="1" height="15" fill="#00ffff" fill-opacity="0.26"/><rect x="432" y="473" width="1" height="15" fill="#00ff80" fill-opacity="0.80"/><rect x="435" y="473" width="1" height="15" fill="#00e0ff" fill-opacity="0.44"/><rect x="447" y="473" width="1" height="15" fill="#30ff60" fill-opacity="0.97"/><rect x="455" y="473" width="1" height="15" fill="#00ffa0" fill-opacity="0.87"/><rect x="459" y="473" width="1" height="15" fill="#00ffff" fill-opacity="0.34"/><rect x="466" y="473" width="1" height="15" fill="#00ff80" fill-opacity="0.82"/><rect x="474" y="473" width="1" height="15" fill="#20c0ff" fill-opacity="0.33"/><rect x="479" y="473" width="1" height="15" fill="#20c0ff" fill-opacity="0.27"/><rect x="492" y="473" width="1" height="15" fill="#00ff80" fill-opacity="0.96"/><rect x="496" y="473" width="1" height="15" fill="#00e0ff" fill-opacity="0.30"/><rect x="502" y="473" width="1" height="15" fill="#20c0ff" fill-opacity="0.36"/><rect x="522" y="473" width="1" height="15" fill="#00ff80" fill-opacity="0.89"/><rect x="527" y="473" width="1" height="15" fill="#00ffff" fill-opacity="0.35"/><rect x="539" y="473" width="1" height="15" fill="#00ffa0" fill-opacity="0.90"/><rect x="544" y="473" width="1" height="15" fill="#00ffff" fill-opacity="0.44"/><rect x="552" y="473" width="1" height="15" fill="#20c0ff" fill-opacity="0.22"/><rect x="558" y="473" width="1" height="15" fill="#20c0ff" fill-opacity="0.20"/><rect x="570" y="473" width="1" height="15" fill="#40ff40" fill-opacity="0.87"/><rect x="580" y="473" width="1" height="15" fill="#00ffa0" fill-opacity="0.91"/><rect x="589" y="473" width="1" height="15" fill="#00e0ff" fill-opacity="0.36"/><rect x="596" y="473" width="1" height="15" fill="#00ffa0" fill-opacity="0.88"/><rect x="605" y="473" width="1" height="15" fill="#00e0ff" fill-opacity="0.44"/><rect x="619" y="473" width="1" height="15" fill="#00e0ff" fill-opacity="0.27"/><rect x="627" y="473" width="1" height="15" fill="#20c0ff" fill-opacity="0.29"/><rect x="630" y="473" width="1" height="15" fill="#80ff00" fill-opacity="0.92"/><rect x="643" y="473" width="1" height="15" fill="#00ff80" fill-opacity="0.95"/><rect x="651" y="473" width="1" height="15" fill="#00ff80" fill-opacity="0.90"/><rect x="674" y="473" width="1" height="15" fill="#00e0ff" fill-opacity="0.20"/><rect x="681" y="473" width="1" height="15" fill="#00ff80" fill-opacity="0.90"/><rect x="684" y="473" width="1" height="15" fill="#00e0ff" fill-opacity="0.24"/><rect x="691" y="473" width="1" height="15" fill="#00ffff" fill-opacity="0.23"/><rect x="79" y="245" width="614" height="1" fill="#00c0ff" fill-opacity="0.7"/><rect x="79" y="248" width="614" height="1" fill="#00ffa0" fill-opacity="1"/><rect x="79" y="250" width="614" height="1" fill="#00ffff" fill-opacity="0.6"/><rect x="79" y="253" width="614" height="1" fill="#a0ff00" fill-opacity="1"/><rect x="79" y="256" width="614" height="1" fill="#00ffff" fill-opacity="0.9"/><rect x="79" y="269" width="614" height="1" fill="#00ffa0" fill-opacity="0.9"/><rect x="79" y="272" width="614" height="1" fill="#a0ff00" fill-opacity="1"/><rect x="79" y="274" width="614" height="1" fill="#0090ff" fill-opacity="0.8"/><rect x="79" y="277" width="614" height="1" fill="#a0ff00" fill-opacity="1"/><rect x="79" y="280" width="614" height="1" fill="#00e0ff" fill-opacity="0.7"/><rect x="79" y="288" width="614" height="1" fill="#00ffa0" fill-opacity="0.9"/><rect x="79" y="291" width="614" height="1" fill="#0080ff" fill-opacity="0.7"/><rect x="79" y="293" width="614" height="1" fill="#00ffff" fill-opacity="0.9"/><rect x="79" y="296" width="614" height="1" fill="#ffff00" fill-opacity="1"/><rect x="79" y="298" width="614" height="1" fill="#00ffff" fill-opacity="0.9"/><rect x="79" y="301" width="614" height="1" fill="#00ffa0" fill-opacity="0.9"/><rect x="79" y="312" width="614" height="1" fill="#00ffa0" fill-opacity="0.9"/><rect x="79" y="417" width="614" height="1" fill="#00c0ff" fill-opacity="0.4"/><rect x="79" y="420" width="614" height="1" fill="#00ffc0" fill-opacity="0.7"/><rect x="79" y="423" width="614" height="1" fill="#40ff40" fill-opacity="1"/><rect x="79" y="428" width="614" height="1" fill="#40ff40" fill-opacity="1"/><rect x="79" y="432" width="614" height="1" fill="#0060ff" fill-opacity="0.35"/><rect x="79" y="438" width="614" height="1" fill="#00a0ff" fill-opacity="0.4"/><rect x="79" y="439" width="614" height="1" fill="#00ffff" fill-opacity="0.6"/><rect x="79" y="441" width="614" height="1" fill="#00e0ff" fill-opacity="0.4"/><rect x="79" y="444" width="614" height="1" fill="#00ffa0" fill-opacity="0.6"/><rect x="79" y="447" width="614" height="1" fill="#80ff00" fill-opacity="1"/><rect x="79" y="450" width="614" height="1" fill="#0040ff" fill-opacity="0.35"/><rect x="79" y="451" width="614" height="1" fill="#0040ff" fill-opacity="0.35"/><rect x="79" y="455" width="614" height="1" fill="#0040ff" fill-opacity="0.3"/><rect x="79" y="460" width="614" height="1" fill="#0040ff" fill-opacity="0.3"/><rect x="79" y="463" width="614" height="1" fill="#0040ff" fill-opacity="0.3"/><rect x="79" y="466" width="614" height="1" fill="#c0ff00" fill-opacity="1"/><rect x="79" y="468" width="614" height="1" fill="#00ffff" fill-opacity="0.7"/><rect x="79" y="471" width="614" height="1" fill="#a0ff00" fill-opacity="1"/><rect x="74" y="126" width="635" height="1" fill="#000"/><rect x="74" y="157" width="635" height="1" fill="#000"/><rect x="74" y="166" width="635" height="1" fill="#000"/><rect x="74" y="322" width="635" height="1" fill="#000"/><rect x="74" y="497" width="635" height="1" fill="#000"/><rect x="74" y="528" width="635" height="1" fill="#000"/><rect x="74" y="332" width="5" height="1" fill="#000"/><rect x="693" y="332" width="16" height="1" fill="#000"/><rect x="74" y="488" width="635" height="1" fill="#000"/><rect x="79" y="126" width="1" height="40" fill="#000"/><rect x="79" y="322" width="1" height="11" fill="#000"/><rect x="79" y="488" width="1" height="41" fill="#000"/><rect x="703" y="126" width="1" height="403" fill="#000"/><rect x="79" y="127" width="1" height="10" fill="#000"/><rect x="79" y="147" width="1" height="10" fill="#000"/><rect x="89" y="127" width="1" height="3" fill="#000"/><rect x="89" y="154" width="1" height="3" fill="#000"/><rect x="100" y="127" width="1" height="3" fill="#000"/><rect x="100" y="154" width="1" height="3" fill="#000"/><rect x="110" y="127" width="1" height="3" fill="#000"/><rect x="110" y="154" width="1" height="3" fill="#000"/><rect x="121" y="127" width="1" height="3" fill="#000"/><rect x="121" y="154" width="1" height="3" fill="#000"/><rect x="131" y="127" width="1" height="3" fill="#000"/><rect x="131" y="154" width="1" height="3" fill="#000"/><rect x="141" y="127" width="1" height="10" fill="#000"/><rect x="141" y="147" width="1" height="10" fill="#000"/><rect x="152" y="127" width="1" height="3" fill="#000"/><rect x="152" y="154" width="1" height="3" fill="#000"/><rect x="162" y="127" width="1" height="3" fill="#000"/><rect x="162" y="154" width="1" height="3" fill="#000"/><rect x="173" y="127" width="1" height="3" fill="#000"/><rect x="173" y="154" width="1" height="3" fill="#000"/><rect x="183" y="127" width="1" height="3" fill="#000"/><rect x="183" y="154" width="1" height="3" fill="#000"/><rect x="193" y="127" width="1" height="3" fill="#000"/><rect x="193" y="154" width="1" height="3" fill="#000"/><rect x="204" y="127" width="1" height="10" fill="#000"/><rect x="204" y="147" width="1" height="10" fill="#000"/><rect x="214" y="127" width="1" height="3" fill="#000"/><rect x="214" y="154" width="1" height="3" fill="#000"/><rect x="225" y="127" width="1" height="3" fill="#000"/><rect x="225" y="154" width="1" height="3" fill="#000"/><rect x="235" y="127" width="1" height="3" fill="#000"/><rect x="235" y="154" width="1" height="3" fill="#000"/><rect x="245" y="127" width="1" height="3" fill="#000"/><rect x="245" y="154" width="1" height="3" fill="#000"/><rect x="256" y="127" width="1" height="3" fill="#000"/><rect x="256" y="154" width="1" height="3" fill="#000"/><rect x="266" y="127" width="1" height="10" fill="#000"/><rect x="266" y="147" width="1" height="10" fill="#000"/><rect x="277" y="127" width="1" height="3" fill="#000"/><rect x="277" y="154" width="1" height="3" fill="#000"/><rect x="287" y="127" width="1" height="3" fill="#000"/><rect x="287" y="154" width="1" height="3" fill="#000"/><rect x="297" y="127" width="1" height="3" fill="#000"/><rect x="297" y="154" width="1" height="3" fill="#000"/><rect x="308" y="127" width="1" height="3" fill="#000"/><rect x="308" y="154" width="1" height="3" fill="#000"/><rect x="318" y="127" width="1" height="3" fill="#000"/><rect x="318" y="154" width="1" height="3" fill="#000"/><rect x="329" y="127" width="1" height="10" fill="#000"/><rect x="329" y="147" width="1" height="10" fill="#000"/><rect x="339" y="127" width="1" height="3" fill="#000"/><rect x="339" y="154" width="1" height="3" fill="#000"/><rect x="349" y="127" width="1" height="3" fill="#000"/><rect x="349" y="154" width="1" height="3" fill="#000"/><rect x="360" y="127" width="1" height="3" fill="#000"/><rect x="360" y="154" width="1" height="3" fill="#000"/><rect x="370" y="127" width="1" height="3" fill="#000"/><rect x="370" y="154" width="1" height="3" fill="#000"/><rect x="381" y="127" width="1" height="3" fill="#000"/><rect x="381" y="154" width="1" height="3" fill="#000"/><rect x="391" y="127" width="1" height="10" fill="#000"/><rect x="391" y="147" width="1" height="10" fill="#000"/><rect x="401" y="127" width="1" height="3" fill="#000"/><rect x="401" y="154" width="1" height="3" fill="#000"/><rect x="412" y="127" width="1" height="3" fill="#000"/><rect x="412" y="154" width="1" height="3" fill="#000"/><rect x="422" y="127" width="1" height="3" fill="#000"/><rect x="422" y="154" width="1" height="3" fill="#000"/><rect x="433" y="127" width="1" height="3" fill="#000"/><rect x="433" y="154" width="1" height="3" fill="#000"/><rect x="443" y="127" width="1" height="3" fill="#000"/><rect x="443" y="154" width="1" height="3" fill="#000"/><rect x="453" y="127" width="1" height="10" fill="#000"/><rect x="453" y="147" width="1" height="10" fill="#000"/><rect x="464" y="127" width="1" height="3" fill="#000"/><rect x="464" y="154" width="1" height="3" fill="#000"/><rect x="474" y="127" width="1" height="3" fill="#000"/><rect x="474" y="154" width="1" height="3" fill="#000"/><rect x="485" y="127" width="1" height="3" fill="#000"/><rect x="485" y="154" width="1" height="3" fill="#000"/><rect x="495" y="127" width="1" height="3" fill="#000"/><rect x="495" y="154" width="1" height="3" fill="#000"/><rect x="505" y="127" width="1" height="3" fill="#000"/><rect x="505" y="154" width="1" height="3" fill="#000"/><rect x="516" y="127" width="1" height="10" fill="#000"/><rect x="516" y="147" width="1" height="10" fill="#000"/><rect x="526" y="127" width="1" height="3" fill="#000"/><rect x="526" y="154" width="1" height="3" fill="#000"/><rect x="537" y="127" width="1" height="3" fill="#000"/><rect x="537" y="154" width="1" height="3" fill="#000"/><rect x="547" y="127" width="1" height="3" fill="#000"/><rect x="547" y="154" width="1" height="3" fill="#000"/><rect x="557" y="127" width="1" height="3" fill="#000"/><rect x="557" y="154" width="1" height="3" fill="#000"/><rect x="568" y="127" width="1" height="3" fill="#000"/><rect x="568" y="154" width="1" height="3" fill="#000"/><rect x="578" y="127" width="1" height="10" fill="#000"/><rect x="578" y="147" width="1" height="10" fill="#000"/><rect x="589" y="127" width="1" height="3" fill="#000"/><rect x="589" y="154" width="1" height="3" fill="#000"/><rect x="599" y="127" width="1" height="3" fill="#000"/><rect x="599" y="154" width="1" height="3" fill="#000"/><rect x="609" y="127" width="1" height="3" fill="#000"/><rect x="609" y="154" width="1" height="3" fill="#000"/><rect x="620" y="127" width="1" height="3" fill="#000"/><rect x="620" y="154" width="1" height="3" fill="#000"/><rect x="630" y="127" width="1" height="3" fill="#000"/><rect x="630" y="154" width="1" height="3" fill="#000"/><rect x="641" y="127" width="1" height="10" fill="#000"/><rect x="641" y="147" width="1" height="10" fill="#000"/><rect x="651" y="127" width="1" height="3" fill="#000"/><rect x="651" y="154" width="1" height="3" fill="#000"/><rect x="661" y="127" width="1" height="3" fill="#000"/><rect x="661" y="154" width="1" height="3" fill="#000"/><rect x="672" y="127" width="1" height="3" fill="#000"/><rect x="672" y="154" width="1" height="3" fill="#000"/><rect x="682" y="127" width="1" height="3" fill="#000"/><rect x="682" y="154" width="1" height="3" fill="#000"/><rect x="693" y="127" width="1" height="3" fill="#000"/><rect x="693" y="154" width="1" height="3" fill="#000"/><rect x="703" y="127" width="1" height="10" fill="#000"/><rect x="703" y="147" width="1" height="10" fill="#000"/><rect x="79" y="156" width="1" height="10" fill="#000"/><rect x="79" y="323" width="1" height="10" fill="#000"/><rect x="89" y="163" width="1" height="3" fill="#000"/><rect x="89" y="323" width="1" height="3" fill="#000"/><rect x="100" y="163" width="1" height="3" fill="#000"/><rect x="100" y="323" width="1" height="3" fill="#000"/><rect x="110" y="163" width="1" height="3" fill="#000"/><rect x="110" y="323" width="1" height="3" fill="#000"/><rect x="121" y="163" width="1" height="3" fill="#000"/><rect x="121" y="323" width="1" height="3" fill="#000"/><rect x="131" y="163" width="1" height="3" fill="#000"/><rect x="131" y="323" width="1" height="3" fill="#000"/><rect x="141" y="156" width="1" height="10" fill="#000"/><rect x="141" y="323" width="1" height="10" fill="#000"/><rect x="152" y="163" width="1" height="3" fill="#000"/><rect x="152" y="323" width="1" height="3" fill="#000"/><rect x="162" y="163" width="1" height="3" fill="#000"/><rect x="162" y="323" width="1" height="3" fill="#000"/><rect x="173" y="163" width="1" height="3" fill="#000"/><rect x="173" y="323" width="1" height="3" fill="#000"/><rect x="183" y="163" width="1" height="3" fill="#000"/><rect x="183" y="323" width="1" height="3" fill="#000"/><rect x="193" y="163" width="1" height="3" fill="#000"/><rect x="193" y="323" width="1" height="3" fill="#000"/><rect x="204" y="156" width="1" height="10" fill="#000"/><rect x="204" y="323" width="1" height="10" fill="#000"/><rect x="214" y="163" width="1" height="3" fill="#000"/><rect x="214" y="323" width="1" height="3" fill="#000"/><rect x="225" y="163" width="1" height="3" fill="#000"/><rect x="225" y="323" width="1" height="3" fill="#000"/><rect x="235" y="163" width="1" height="3" fill="#000"/><rect x="235" y="323" width="1" height="3" fill="#000"/><rect x="245" y="163" width="1" height="3" fill="#000"/><rect x="245" y="323" width="1" height="3" fill="#000"/><rect x="256" y="163" width="1" height="3" fill="#000"/><rect x="256" y="323" width="1" height="3" fill="#000"/><rect x="266" y="156" width="1" height="10" fill="#000"/><rect x="266" y="323" width="1" height="10" fill="#000"/><rect x="277" y="163" width="1" height="3" fill="#000"/><rect x="277" y="323" width="1" height="3" fill="#000"/><rect x="287" y="163" width="1" height="3" fill="#000"/><rect x="287" y="323" width="1" height="3" fill="#000"/><rect x="297" y="163" width="1" height="3" fill="#000"/><rect x="297" y="323" width="1" height="3" fill="#000"/><rect x="308" y="163" width="1" height="3" fill="#000"/><rect x="308" y="323" width="1" height="3" fill="#000"/><rect x="318" y="163" width="1" height="3" fill="#000"/><rect x="318" y="323" width="1" height="3" fill="#000"/><rect x="329" y="156" width="1" height="10" fill="#000"/><rect x="329" y="323" width="1" height="10" fill="#000"/><rect x="339" y="163" width="1" height="3" fill="#000"/><rect x="339" y="323" width="1" height="3" fill="#000"/><rect x="349" y="163" width="1" height="3" fill="#000"/><rect x="349" y="323" width="1" height="3" fill="#000"/><rect x="360" y="163" width="1" height="3" fill="#000"/><rect x="360" y="323" width="1" height="3" fill="#000"/><rect x="370" y="163" width="1" height="3" fill="#000"/><rect x="370" y="323" width="1" height="3" fill="#000"/><rect x="381" y="163" width="1" height="3" fill="#000"/><rect x="381" y="323" width="1" height="3" fill="#000"/><rect x="391" y="156" width="1" height="10" fill="#000"/><rect x="391" y="323" width="1" height="10" fill="#000"/><rect x="401" y="163" width="1" height="3" fill="#000"/><rect x="401" y="323" width="1" height="3" fill="#000"/><rect x="412" y="163" width="1" height="3" fill="#000"/><rect x="412" y="323" width="1" height="3" fill="#000"/><rect x="422" y="163" width="1" height="3" fill="#000"/><rect x="422" y="323" width="1" height="3" fill="#000"/><rect x="433" y="163" width="1" height="3" fill="#000"/><rect x="433" y="323" width="1" height="3" fill="#000"/><rect x="443" y="163" width="1" height="3" fill="#000"/><rect x="443" y="323" width="1" height="3" fill="#000"/><rect x="453" y="156" width="1" height="10" fill="#000"/><rect x="453" y="323" width="1" height="10" fill="#000"/><rect x="464" y="163" width="1" height="3" fill="#000"/><rect x="464" y="323" width="1" height="3" fill="#000"/><rect x="474" y="163" width="1" height="3" fill="#000"/><rect x="474" y="323" width="1" height="3" fill="#000"/><rect x="485" y="163" width="1" height="3" fill="#000"/><rect x="485" y="323" width="1" height="3" fill="#000"/><rect x="495" y="163" width="1" height="3" fill="#000"/><rect x="495" y="323" width="1" height="3" fill="#000"/><rect x="505" y="163" width="1" height="3" fill="#000"/><rect x="505" y="323" width="1" height="3" fill="#000"/><rect x="516" y="156" width="1" height="10" fill="#000"/><rect x="516" y="323" width="1" height="10" fill="#000"/><rect x="526" y="163" width="1" height="3" fill="#000"/><rect x="526" y="323" width="1" height="3" fill="#000"/><rect x="537" y="163" width="1" height="3" fill="#000"/><rect x="537" y="323" width="1" height="3" fill="#000"/><rect x="547" y="163" width="1" height="3" fill="#000"/><rect x="547" y="323" width="1" height="3" fill="#000"/><rect x="557" y="163" width="1" height="3" fill="#000"/><rect x="557" y="323" width="1" height="3" fill="#000"/><rect x="568" y="163" width="1" height="3" fill="#000"/><rect x="568" y="323" width="1" height="3" fill="#000"/><rect x="578" y="156" width="1" height="10" fill="#000"/><rect x="578" y="323" width="1" height="10" fill="#000"/><rect x="589" y="163" width="1" height="3" fill="#000"/><rect x="589" y="323" width="1" height="3" fill="#000"/><rect x="599" y="163" width="1" height="3" fill="#000"/><rect x="599" y="323" width="1" height="3" fill="#000"/><rect x="609" y="163" width="1" height="3" fill="#000"/><rect x="609" y="323" width="1" height="3" fill="#000"/><rect x="620" y="163" width="1" height="3" fill="#000"/><rect x="620" y="323" width="1" height="3" fill="#000"/><rect x="630" y="163" width="1" height="3" fill="#000"/><rect x="630" y="323" width="1" height="3" fill="#000"/><rect x="641" y="156" width="1" height="10" fill="#000"/><rect x="641" y="323" width="1" height="10" fill="#000"/><rect x="651" y="163" width="1" height="3" fill="#000"/><rect x="651" y="323" width="1" height="3" fill="#000"/><rect x="661" y="163" width="1" height="3" fill="#000"/><rect x="661" y="323" width="1" height="3" fill="#000"/><rect x="672" y="163" width="1" height="3" fill="#000"/><rect x="672" y="323" width="1" height="3" fill="#000"/><rect x="682" y="163" width="1" height="3" fill="#000"/><rect x="682" y="323" width="1" height="3" fill="#000"/><rect x="693" y="163" width="1" height="3" fill="#000"/><rect x="693" y="323" width="1" height="3" fill="#000"/><rect x="703" y="156" width="1" height="10" fill="#000"/><rect x="703" y="323" width="1" height="10" fill="#000"/><rect x="79" y="322" width="1" height="10" fill="#000"/><rect x="79" y="489" width="1" height="10" fill="#000"/><rect x="89" y="329" width="1" height="3" fill="#000"/><rect x="89" y="489" width="1" height="3" fill="#000"/><rect x="100" y="329" width="1" height="3" fill="#000"/><rect x="100" y="489" width="1" height="3" fill="#000"/><rect x="110" y="329" width="1" height="3" fill="#000"/><rect x="110" y="489" width="1" height="3" fill="#000"/><rect x="121" y="329" width="1" height="3" fill="#000"/><rect x="121" y="489" width="1" height="3" fill="#000"/><rect x="131" y="329" width="1" height="3" fill="#000"/><rect x="131" y="489" width="1" height="3" fill="#000"/><rect x="141" y="322" width="1" height="10" fill="#000"/><rect x="141" y="489" width="1" height="10" fill="#000"/><rect x="152" y="329" width="1" height="3" fill="#000"/><rect x="152" y="489" width="1" height="3" fill="#000"/><rect x="162" y="329" width="1" height="3" fill="#000"/><rect x="162" y="489" width="1" height="3" fill="#000"/><rect x="173" y="329" width="1" height="3" fill="#000"/><rect x="173" y="489" width="1" height="3" fill="#000"/><rect x="183" y="329" width="1" height="3" fill="#000"/><rect x="183" y="489" width="1" height="3" fill="#000"/><rect x="193" y="329" width="1" height="3" fill="#000"/><rect x="193" y="489" width="1" height="3" fill="#000"/><rect x="204" y="322" width="1" height="10" fill="#000"/><rect x="204" y="489" width="1" height="10" fill="#000"/><rect x="214" y="329" width="1" height="3" fill="#000"/><rect x="214" y="489" width="1" height="3" fill="#000"/><rect x="225" y="329" width="1" height="3" fill="#000"/><rect x="225" y="489" width="1" height="3" fill="#000"/><rect x="235" y="329" width="1" height="3" fill="#000"/><rect x="235" y="489" width="1" height="3" fill="#000"/><rect x="245" y="329" width="1" height="3" fill="#000"/><rect x="245" y="489" width="1" height="3" fill="#000"/><rect x="256" y="329" width="1" height="3" fill="#000"/><rect x="256" y="489" width="1" height="3" fill="#000"/><rect x="266" y="322" width="1" height="10" fill="#000"/><rect x="266" y="489" width="1" height="10" fill="#000"/><rect x="277" y="329" width="1" height="3" fill="#000"/><rect x="277" y="489" width="1" height="3" fill="#000"/><rect x="287" y="329" width="1" height="3" fill="#000"/><rect x="287" y="489" width="1" height="3" fill="#000"/><rect x="297" y="329" width="1" height="3" fill="#000"/><rect x="297" y="489" width="1" height="3" fill="#000"/><rect x="308" y="329" width="1" height="3" fill="#000"/><rect x="308" y="489" width="1" height="3" fill="#000"/><rect x="318" y="329" width="1" height="3" fill="#000"/><rect x="318" y="489" width="1" height="3" fill="#000"/><rect x="329" y="322" width="1" height="10" fill="#000"/><rect x="329" y="489" width="1" height="10" fill="#000"/><rect x="339" y="329" width="1" height="3" fill="#000"/><rect x="339" y="489" width="1" height="3" fill="#000"/><rect x="349" y="329" width="1" height="3" fill="#000"/><rect x="349" y="489" width="1" height="3" fill="#000"/><rect x="360" y="329" width="1" height="3" fill="#000"/><rect x="360" y="489" width="1" height="3" fill="#000"/><rect x="370" y="329" width="1" height="3" fill="#000"/><rect x="370" y="489" width="1" height="3" fill="#000"/><rect x="381" y="329" width="1" height="3" fill="#000"/><rect x="381" y="489" width="1" height="3" fill="#000"/><rect x="391" y="322" width="1" height="10" fill="#000"/><rect x="391" y="489" width="1" height="10" fill="#000"/><rect x="401" y="329" width="1" height="3" fill="#000"/><rect x="401" y="489" width="1" height="3" fill="#000"/><rect x="412" y="329" width="1" height="3" fill="#000"/><rect x="412" y="489" width="1" height="3" fill="#000"/><rect x="422" y="329" width="1" height="3" fill="#000"/><rect x="422" y="489" width="1" height="3" fill="#000"/><rect x="433" y="329" width="1" height="3" fill="#000"/><rect x="433" y="489" width="1" height="3" fill="#000"/><rect x="443" y="329" width="1" height="3" fill="#000"/><rect x="443" y="489" width="1" height="3" fill="#000"/><rect x="453" y="322" width="1" height="10" fill="#000"/><rect x="453" y="489" width="1" height="10" fill="#000"/><rect x="464" y="329" width="1" height="3" fill="#000"/><rect x="464" y="489" width="1" height="3" fill="#000"/><rect x="474" y="329" width="1" height="3" fill="#000"/><rect x="474" y="489" width="1" height="3" fill="#000"/><rect x="485" y="329" width="1" height="3" fill="#000"/><rect x="485" y="489" width="1" height="3" fill="#000"/><rect x="495" y="329" width="1" height="3" fill="#000"/><rect x="495" y="489" width="1" height="3" fill="#000"/><rect x="505" y="329" width="1" height="3" fill="#000"/><rect x="505" y="489" width="1" height="3" fill="#000"/><rect x="516" y="322" width="1" height="10" fill="#000"/><rect x="516" y="489" width="1" height="10" fill="#000"/><rect x="526" y="329" width="1" height="3" fill="#000"/><rect x="526" y="489" width="1" height="3" fill="#000"/><rect x="537" y="329" width="1" height="3" fill="#000"/><rect x="537" y="489" width="1" height="3" fill="#000"/><rect x="547" y="329" width="1" height="3" fill="#000"/><rect x="547" y="489" width="1" height="3" fill="#000"/><rect x="557" y="329" width="1" height="3" fill="#000"/><rect x="557" y="489" width="1" height="3" fill="#000"/><rect x="568" y="329" width="1" height="3" fill="#000"/><rect x="568" y="489" width="1" height="3" fill="#000"/><rect x="578" y="322" width="1" height="10" fill="#000"/><rect x="578" y="489" width="1" height="10" fill="#000"/><rect x="589" y="329" width="1" height="3" fill="#000"/><rect x="589" y="489" width="1" height="3" fill="#000"/><rect x="599" y="329" width="1" height="3" fill="#000"/><rect x="599" y="489" width="1" height="3" fill="#000"/><rect x="609" y="329" width="1" height="3" fill="#000"/><rect x="609" y="489" width="1" height="3" fill="#000"/><rect x="620" y="329" width="1" height="3" fill="#000"/><rect x="620" y="489" width="1" height="3" fill="#000"/><rect x="630" y="329" width="1" height="3" fill="#000"/><rect x="630" y="489" width="1" height="3" fill="#000"/><rect x="641" y="322" width="1" height="10" fill="#000"/><rect x="641" y="489" width="1" height="10" fill="#000"/><rect x="651" y="329" width="1" height="3" fill="#000"/><rect x="651" y="489" width="1" height="3" fill="#000"/><rect x="661" y="329" width="1" height="3" fill="#000"/><rect x="661" y="489" width="1" height="3" fill="#000"/><rect x="672" y="329" width="1" height="3" fill="#000"/><rect x="672" y="489" width="1" height="3" fill="#000"/><rect x="682" y="329" width="1" height="3" fill="#000"/><rect x="682" y="489" width="1" height="3" fill="#000"/><rect x="693" y="329" width="1" height="3" fill="#000"/><rect x="693" y="489" width="1" height="3" fill="#000"/><rect x="703" y="322" width="1" height="10" fill="#000"/><rect x="703" y="489" width="1" height="10" fill="#000"/><rect x="79" y="487" width="1" height="10" fill="#000"/><rect x="79" y="529" width="1" height="11" fill="#000"/><rect x="89" y="494" width="1" height="3" fill="#000"/><rect x="89" y="529" width="1" height="3" fill="#000"/><rect x="100" y="494" width="1" height="3" fill="#000"/><rect x="100" y="529" width="1" height="3" fill="#000"/><rect x="110" y="494" width="1" height="3" fill="#000"/><rect x="110" y="529" width="1" height="3" fill="#000"/><rect x="121" y="494" width="1" height="3" fill="#000"/><rect x="121" y="529" width="1" height="3" fill="#000"/><rect x="131" y="494" width="1" height="3" fill="#000"/><rect x="131" y="529" width="1" height="3" fill="#000"/><rect x="141" y="487" width="1" height="10" fill="#000"/><rect x="141" y="529" width="1" height="11" fill="#000"/><rect x="152" y="494" width="1" height="3" fill="#000"/><rect x="152" y="529" width="1" height="3" fill="#000"/><rect x="162" y="494" width="1" height="3" fill="#000"/><rect x="162" y="529" width="1" height="3" fill="#000"/><rect x="173" y="494" width="1" height="3" fill="#000"/><rect x="173" y="529" width="1" height="3" fill="#000"/><rect x="183" y="494" width="1" height="3" fill="#000"/><rect x="183" y="529" width="1" height="3" fill="#000"/><rect x="193" y="494" width="1" height="3" fill="#000"/><rect x="193" y="529" width="1" height="3" fill="#000"/><rect x="204" y="487" width="1" height="10" fill="#000"/><rect x="204" y="529" width="1" height="11" fill="#000"/><rect x="214" y="494" width="1" height="3" fill="#000"/><rect x="214" y="529" width="1" height="3" fill="#000"/><rect x="225" y="494" width="1" height="3" fill="#000"/><rect x="225" y="529" width="1" height="3" fill="#000"/><rect x="235" y="494" width="1" height="3" fill="#000"/><rect x="235" y="529" width="1" height="3" fill="#000"/><rect x="245" y="494" width="1" height="3" fill="#000"/><rect x="245" y="529" width="1" height="3" fill="#000"/><rect x="256" y="494" width="1" height="3" fill="#000"/><rect x="256" y="529" width="1" height="3" fill="#000"/><rect x="266" y="487" width="1" height="10" fill="#000"/><rect x="266" y="529" width="1" height="11" fill="#000"/><rect x="277" y="494" width="1" height="3" fill="#000"/><rect x="277" y="529" width="1" height="3" fill="#000"/><rect x="287" y="494" width="1" height="3" fill="#000"/><rect x="287" y="529" width="1" height="3" fill="#000"/><rect x="297" y="494" width="1" height="3" fill="#000"/><rect x="297" y="529" width="1" height="3" fill="#000"/><rect x="308" y="494" width="1" height="3" fill="#000"/><rect x="308" y="529" width="1" height="3" fill="#000"/><rect x="318" y="494" width="1" height="3" fill="#000"/><rect x="318" y="529" width="1" height="3" fill="#000"/><rect x="329" y="487" width="1" height="10" fill="#000"/><rect x="329" y="529" width="1" height="11" fill="#000"/><rect x="339" y="494" width="1" height="3" fill="#000"/><rect x="339" y="529" width="1" height="3" fill="#000"/><rect x="349" y="494" width="1" height="3" fill="#000"/><rect x="349" y="529" width="1" height="3" fill="#000"/><rect x="360" y="494" width="1" height="3" fill="#000"/><rect x="360" y="529" width="1" height="3" fill="#000"/><rect x="370" y="494" width="1" height="3" fill="#000"/><rect x="370" y="529" width="1" height="3" fill="#000"/><rect x="381" y="494" width="1" height="3" fill="#000"/><rect x="381" y="529" width="1" height="3" fill="#000"/><rect x="391" y="487" width="1" height="10" fill="#000"/><rect x="391" y="529" width="1" height="11" fill="#000"/><rect x="401" y="494" width="1" height="3" fill="#000"/><rect x="401" y="529" width="1" height="3" fill="#000"/><rect x="412" y="494" width="1" height="3" fill="#000"/><rect x="412" y="529" width="1" height="3" fill="#000"/><rect x="422" y="494" width="1" height="3" fill="#000"/><rect x="422" y="529" width="1" height="3" fill="#000"/><rect x="433" y="494" width="1" height="3" fill="#000"/><rect x="433" y="529" width="1" height="3" fill="#000"/><rect x="443" y="494" width="1" height="3" fill="#000"/><rect x="443" y="529" width="1" height="3" fill="#000"/><rect x="453" y="487" width="1" height="10" fill="#000"/><rect x="453" y="529" width="1" height="11" fill="#000"/><rect x="464" y="494" width="1" height="3" fill="#000"/><rect x="464" y="529" width="1" height="3" fill="#000"/><rect x="474" y="494" width="1" height="3" fill="#000"/><rect x="474" y="529" width="1" height="3" fill="#000"/><rect x="485" y="494" width="1" height="3" fill="#000"/><rect x="485" y="529" width="1" height="3" fill="#000"/><rect x="495" y="494" width="1" height="3" fill="#000"/><rect x="495" y="529" width="1" height="3" fill="#000"/><rect x="505" y="494" width="1" height="3" fill="#000"/><rect x="505" y="529" width="1" height="3" fill="#000"/><rect x="516" y="487" width="1" height="10" fill="#000"/><rect x="516" y="529" width="1" height="11" fill="#000"/><rect x="526" y="494" width="1" height="3" fill="#000"/><rect x="526" y="529" width="1" height="3" fill="#000"/><rect x="537" y="494" width="1" height="3" fill="#000"/><rect x="537" y="529" width="1" height="3" fill="#000"/><rect x="547" y="494" width="1" height="3" fill="#000"/><rect x="547" y="529" width="1" height="3" fill="#000"/><rect x="557" y="494" width="1" height="3" fill="#000"/><rect x="557" y="529" width="1" height="3" fill="#000"/><rect x="568" y="494" width="1" height="3" fill="#000"/><rect x="568" y="529" width="1" height="3" fill="#000"/><rect x="578" y="487" width="1" height="10" fill="#000"/><rect x="578" y="529" width="1" height="11" fill="#000"/><rect x="589" y="494" width="1" height="3" fill="#000"/><rect x="589" y="529" width="1" height="3" fill="#000"/><rect x="599" y="494" width="1" height="3" fill="#000"/><rect x="599" y="529" width="1" height="3" fill="#000"/><rect x="609" y="494" width="1" height="3" fill="#000"/><rect x="609" y="529" width="1" height="3" fill="#000"/><rect x="620" y="494" width="1" height="3" fill="#000"/><rect x="620" y="529" width="1" height="3" fill="#000"/><rect x="630" y="494" width="1" height="3" fill="#000"/><rect x="630" y="529" width="1" height="3" fill="#000"/><rect x="641" y="487" width="1" height="10" fill="#000"/><rect x="641" y="529" width="1" height="11" fill="#000"/><rect x="651" y="494" width="1" height="3" fill="#000"/><rect x="651" y="529" width="1" height="3" fill="#000"/><rect x="661" y="494" width="1" height="3" fill="#000"/><rect x="661" y="529" width="1" height="3" fill="#000"/><rect x="672" y="494" width="1" height="3" fill="#000"/><rect x="672" y="529" width="1" height="3" fill="#000"/><rect x="682" y="494" width="1" height="3" fill="#000"/><rect x="682" y="529" width="1" height="3" fill="#000"/><rect x="693" y="494" width="1" height="3" fill="#000"/><rect x="693" y="529" width="1" height="3" fill="#000"/><rect x="703" y="487" width="1" height="10" fill="#000"/><rect x="703" y="529" width="1" height="11" fill="#000"/><rect x="74" y="157" width="5" height="1" fill="#000"/><rect x="704" y="157" width="5" height="1" fill="#000"/><rect x="77" y="149" width="2" height="1" fill="#000"/><rect x="704" y="149" width="2" height="1" fill="#000"/><rect x="77" y="142" width="2" height="1" fill="#000"/><rect x="704" y="142" width="2" height="1" fill="#000"/><rect x="77" y="134" width="2" height="1" fill="#000"/><rect x="704" y="134" width="2" height="1" fill="#000"/><rect x="74" y="126" width="5" height="1" fill="#000"/><rect x="704" y="126" width="5" height="1" fill="#000"/><rect x="74" y="322" width="5" height="1" fill="#000"/><rect x="704" y="322" width="5" height="1" fill="#000"/><rect x="77" y="314" width="2" height="1" fill="#000"/><rect x="704" y="314" width="2" height="1" fill="#000"/><rect x="77" y="306" width="2" height="1" fill="#000"/><rect x="704" y="306" width="2" height="1" fill="#000"/><rect x="77" y="299" width="2" height="1" fill="#000"/><rect x="704" y="299" width="2" height="1" fill="#000"/><rect x="74" y="291" width="5" height="1" fill="#000"/><rect x="704" y="291" width="5" height="1" fill="#000"/><rect x="77" y="283" width="2" height="1" fill="#000"/><rect x="704" y="283" width="2" height="1" fill="#000"/><rect x="77" y="275" width="2" height="1" fill="#000"/><rect x="704" y="275" width="2" height="1" fill="#000"/><rect x="77" y="267" width="2" height="1" fill="#000"/><rect x="704" y="267" width="2" height="1" fill="#000"/><rect x="74" y="260" width="5" height="1" fill="#000"/><rect x="704" y="260" width="5" height="1" fill="#000"/><rect x="77" y="252" width="2" height="1" fill="#000"/><rect x="704" y="252" width="2" height="1" fill="#000"/><rect x="77" y="244" width="2" height="1" fill="#000"/><rect x="704" y="244" width="2" height="1" fill="#000"/><rect x="77" y="236" width="2" height="1" fill="#000"/><rect x="704" y="236" width="2" height="1" fill="#000"/><rect x="74" y="228" width="5" height="1" fill="#000"/><rect x="704" y="228" width="5" height="1" fill="#000"/><rect x="77" y="221" width="2" height="1" fill="#000"/><rect x="704" y="221" width="2" height="1" fill="#000"/><rect x="77" y="213" width="2" height="1" fill="#000"/><rect x="704" y="213" width="2" height="1" fill="#000"/><rect x="77" y="205" width="2" height="1" fill="#000"/><rect x="704" y="205" width="2" height="1" fill="#000"/><rect x="74" y="197" width="5" height="1" fill="#000"/><rect x="704" y="197" width="5" height="1" fill="#000"/><rect x="77" y="189" width="2" height="1" fill="#000"/><rect x="704" y="189" width="2" height="1" fill="#000"/><rect x="77" y="182" width="2" height="1" fill="#000"/><rect x="704" y="182" width="2" height="1" fill="#000"/><rect x="77" y="174" width="2" height="1" fill="#000"/><rect x="704" y="174" width="2" height="1" fill="#000"/><rect x="74" y="166" width="5" height="1" fill="#000"/><rect x="704" y="166" width="5" height="1" fill="#000"/><rect x="74" y="488" width="5" height="1" fill="#000"/><rect x="704" y="488" width="5" height="1" fill="#000"/><rect x="77" y="480" width="2" height="1" fill="#000"/><rect x="704" y="480" width="2" height="1" fill="#000"/><rect x="77" y="472" width="2" height="1" fill="#000"/><rect x="704" y="472" width="2" height="1" fill="#000"/><rect x="77" y="465" width="2" height="1" fill="#000"/><rect x="704" y="465" width="2" height="1" fill="#000"/><rect x="74" y="457" width="5" height="1" fill="#000"/><rect x="704" y="457" width="5" height="1" fill="#000"/><rect x="77" y="449" width="2" height="1" fill="#000"/><rect x="704" y="449" width="2" height="1" fill="#000"/><rect x="77" y="441" width="2" height="1" fill="#000"/><rect x="704" y="441" width="2" height="1" fill="#000"/><rect x="77" y="433" width="2" height="1" fill="#000"/><rect x="704" y="433" width="2" height="1" fill="#000"/><rect x="74" y="426" width="5" height="1" fill="#000"/><rect x="704" y="426" width="5" height="1" fill="#000"/><rect x="77" y="418" width="2" height="1" fill="#000"/><rect x="704" y="418" width="2" height="1" fill="#000"/><rect x="77" y="410" width="2" height="1" fill="#000"/><rect x="704" y="410" width="2" height="1" fill="#000"/><rect x="77" y="402" width="2" height="1" fill="#000"/><rect x="704" y="402" width="2" height="1" fill="#000"/><rect x="74" y="394" width="5" height="1" fill="#000"/><rect x="704" y="394" width="5" height="1" fill="#000"/><rect x="77" y="387" width="2" height="1" fill="#000"/><rect x="704" y="387" width="2" height="1" fill="#000"/><rect x="77" y="379" width="2" height="1" fill="#000"/><rect x="704" y="379" width="2" height="1" fill="#000"/><rect x="77" y="371" width="2" height="1" fill="#000"/><rect x="704" y="371" width="2" height="1" fill="#000"/><rect x="74" y="363" width="5" height="1" fill="#000"/><rect x="704" y="363" width="5" height="1" fill="#000"/><rect x="77" y="355" width="2" height="1" fill="#000"/><rect x="704" y="355" width="2" height="1" fill="#000"/><rect x="77" y="348" width="2" height="1" fill="#000"/><rect x="704" y="348" width="2" height="1" fill="#000"/><rect x="77" y="340" width="2" height="1" fill="#000"/><rect x="704" y="340" width="2" height="1" fill="#000"/><rect x="74" y="332" width="5" height="1" fill="#000"/><rect x="704" y="332" width="5" height="1" fill="#000"/><rect x="74" y="528" width="5" height="1" fill="#000"/><rect x="704" y="528" width="5" height="1" fill="#000"/><rect x="77" y="520" width="2" height="1" fill="#000"/><rect x="704" y="520" width="2" height="1" fill="#000"/><rect x="77" y="513" width="2" height="1" fill="#000"/><rect x="704" y="513" width="2" height="1" fill="#000"/><rect x="77" y="505" width="2" height="1" fill="#000"/><rect x="704" y="505" width="2" height="1" fill="#000"/><rect x="74" y="497" width="5" height="1" fill="#000"/><rect x="704" y="497" width="5" height="1" fill="#000"/><defs><linearGradient id="cb1" x1="0" y1="1" x2="0" y2="0"><stop offset="0.0" stop-color="#000000"/><stop offset="0.06" stop-color="#00006e"/><stop offset="0.14" stop-color="#0000ff"/><stop offset="0.21" stop-color="#0080ff"/><stop offset="0.3" stop-color="#00ffff"/><stop offset="0.44" stop-color="#00ff00"/><stop offset="0.57" stop-color="#ffff00"/><stop offset="0.67" stop-color="#ff8c00"/><stop offset="0.78" stop-color="#ff0000"/><stop offset="0.88" stop-color="#ff8282"/><stop offset="1.0" stop-color="#fff0f0"/></linearGradient></defs><rect x="719" y="202" width="9" height="108" fill="url(#cb1)"/><rect x="728" y="201" width="1" height="109" fill="#000"/><rect x="729" y="201" width="4" height="1" fill="#000"/><text x="734.6" y="204" font-size="7.2" textLength="6.8" lengthAdjust="spacingAndGlyphs">-3</text><rect x="729" y="228" width="4" height="1" fill="#000"/><text x="734.6" y="231" font-size="7.2" textLength="6.8" lengthAdjust="spacingAndGlyphs">-4</text><rect x="729" y="255" width="4" height="1" fill="#000"/><text x="734.6" y="258" font-size="7.2" textLength="6.8" lengthAdjust="spacingAndGlyphs">-5</text><rect x="729" y="282" width="4" height="1" fill="#000"/><text x="734.6" y="285" font-size="7.2" textLength="6.8" lengthAdjust="spacingAndGlyphs">-6</text><rect x="729" y="309" width="4" height="1" fill="#000"/><text x="734.6" y="312" font-size="7.2" textLength="6.8" lengthAdjust="spacingAndGlyphs">-7</text><text x="0" y="0" font-size="8" textLength="53" lengthAdjust="spacingAndGlyphs" transform="translate(751,287) rotate(-90)">log(PSD)(V<tspan font-size="5.5" dy="-3.5">2</tspan><tspan dy="3.5">/Hz)</tspan></text><defs><linearGradient id="cb2" x1="0" y1="1" x2="0" y2="0"><stop offset="0.0" stop-color="#000000"/><stop offset="0.06" stop-color="#00006e"/><stop offset="0.14" stop-color="#0000ff"/><stop offset="0.21" stop-color="#0080ff"/><stop offset="0.3" stop-color="#00ffff"/><stop offset="0.44" stop-color="#00ff00"/><stop offset="0.57" stop-color="#ffff00"/><stop offset="0.67" stop-color="#ff8c00"/><stop offset="0.78" stop-color="#ff0000"/><stop offset="0.88" stop-color="#ff8282"/><stop offset="1.0" stop-color="#fff0f0"/></linearGradient></defs><rect x="719" y="367" width="9" height="108" fill="url(#cb2)"/><rect x="728" y="366" width="1" height="109" fill="#000"/><rect x="729" y="366" width="4" height="1" fill="#000"/><text x="734.6" y="369" font-size="7.2" textLength="6.8" lengthAdjust="spacingAndGlyphs">-3</text><rect x="729" y="393" width="4" height="1" fill="#000"/><text x="734.6" y="396" font-size="7.2" textLength="6.8" lengthAdjust="spacingAndGlyphs">-4</text><rect x="729" y="420" width="4" height="1" fill="#000"/><text x="734.6" y="423" font-size="7.2" textLength="6.8" lengthAdjust="spacingAndGlyphs">-5</text><rect x="729" y="447" width="4" height="1" fill="#000"/><text x="734.6" y="450" font-size="7.2" textLength="6.8" lengthAdjust="spacingAndGlyphs">-6</text><rect x="729" y="474" width="4" height="1" fill="#000"/><text x="734.6" y="477" font-size="7.2" textLength="6.8" lengthAdjust="spacingAndGlyphs">-7</text><text x="0" y="0" font-size="8" textLength="53" lengthAdjust="spacingAndGlyphs" transform="translate(751,452) rotate(-90)">log(PSD)(V<tspan font-size="5.5" dy="-3.5">2</tspan><tspan dy="3.5">/Hz)</tspan></text><rect x="79" y="510" width="614" height="4" fill="#000"/><rect x="79" y="139" width="1" height="7" fill="#000"/><rect x="80" y="139" width="1" height="7" fill="#000"/><rect x="81" y="140" width="1" height="6" fill="#000"/><rect x="82" y="140" width="1" height="5" fill="#000"/><rect x="83" y="139" width="1" height="13" fill="#000"/><rect x="84" y="140" width="1" height="5" fill="#000"/><rect x="85" y="140" width="1" height="6" fill="#000"/><rect x="86" y="139" width="1" height="6" fill="#000"/><rect x="87" y="140" width="1" height="5" fill="#000"/><rect x="88" y="140" width="1" height="5" fill="#000"/><rect x="89" y="140" width="1" height="6" fill="#000"/><rect x="90" y="140" width="1" height="6" fill="#000"/><rect x="91" y="141" width="1" height="5" fill="#000"/><rect x="92" y="140" width="1" height="6" fill="#000"/><rect x="93" y="139" width="1" height="7" fill="#000"/><rect x="94" y="140" width="1" height="5" fill="#000"/><rect x="95" y="139" width="1" height="5" fill="#000"/><rect x="96" y="140" width="1" height="5" fill="#000"/><rect x="97" y="139" width="1" height="6" fill="#000"/><rect x="98" y="140" width="1" height="4" fill="#000"/><rect x="99" y="140" width="1" height="5" fill="#000"/><rect x="100" y="140" width="1" height="6" fill="#000"/><rect x="101" y="140" width="1" height="4" fill="#000"/><rect x="102" y="140" width="1" height="5" fill="#000"/><rect x="103" y="140" width="1" height="5" fill="#000"/><rect x="104" y="140" width="1" height="6" fill="#000"/><rect x="105" y="140" width="1" height="6" fill="#000"/><rect x="106" y="140" width="1" height="6" fill="#000"/><rect x="107" y="140" width="1" height="5" fill="#000"/><rect x="108" y="140" width="1" height="4" fill="#000"/><rect x="109" y="141" width="1" height="4" fill="#000"/><rect x="110" y="139" width="1" height="6" fill="#000"/><rect x="111" y="140" width="1" height="6" fill="#000"/><rect x="112" y="140" width="1" height="5" fill="#000"/><rect x="113" y="140" width="1" height="5" fill="#000"/><rect x="114" y="140" width="1" height="5" fill="#000"/><rect x="115" y="139" width="1" height="7" fill="#000"/><rect x="116" y="137" width="1" height="9" fill="#000"/><rect x="117" y="139" width="1" height="7" fill="#000"/><rect x="118" y="140" width="1" height="6" fill="#000"/><rect x="119" y="140" width="1" height="5" fill="#000"/><rect x="120" y="140" width="1" height="6" fill="#000"/><rect x="121" y="140" width="1" height="5" fill="#000"/><rect x="122" y="139" width="1" height="5" fill="#000"/><rect x="123" y="140" width="1" height="6" fill="#000"/><rect x="124" y="140" width="1" height="6" fill="#000"/><rect x="125" y="140" width="1" height="5" fill="#000"/><rect x="126" y="140" width="1" height="16" fill="#000"/><rect x="127" y="139" width="1" height="5" fill="#000"/><rect x="128" y="140" width="1" height="5" fill="#000"/><rect x="129" y="139" width="1" height="7" fill="#000"/><rect x="130" y="140" width="1" height="5" fill="#000"/><rect x="131" y="140" width="1" height="6" fill="#000"/><rect x="132" y="140" width="1" height="5" fill="#000"/><rect x="133" y="141" width="1" height="4" fill="#000"/><rect x="134" y="139" width="1" height="6" fill="#000"/><rect x="135" y="136" width="1" height="9" fill="#000"/><rect x="136" y="140" width="1" height="5" fill="#000"/><rect x="137" y="140" width="1" height="4" fill="#000"/><rect x="138" y="140" width="1" height="6" fill="#000"/><rect x="139" y="140" width="1" height="5" fill="#000"/><rect x="140" y="140" width="1" height="6" fill="#000"/><rect x="141" y="139" width="1" height="6" fill="#000"/><rect x="142" y="140" width="1" height="5" fill="#000"/><rect x="143" y="140" width="1" height="5" fill="#000"/><rect x="144" y="140" width="1" height="4" fill="#000"/><rect x="145" y="140" width="1" height="6" fill="#000"/><rect x="146" y="139" width="1" height="7" fill="#000"/><rect x="147" y="139" width="1" height="5" fill="#000"/><rect x="148" y="140" width="1" height="5" fill="#000"/><rect x="149" y="140" width="1" height="6" fill="#000"/><rect x="150" y="139" width="1" height="6" fill="#000"/><rect x="151" y="139" width="1" height="7" fill="#000"/><rect x="152" y="140" width="1" height="5" fill="#000"/><rect x="153" y="140" width="1" height="4" fill="#000"/><rect x="154" y="140" width="1" height="6" fill="#000"/><rect x="155" y="140" width="1" height="5" fill="#000"/><rect x="156" y="140" width="1" height="5" fill="#000"/><rect x="157" y="139" width="1" height="6" fill="#000"/><rect x="158" y="140" width="1" height="5" fill="#000"/><rect x="159" y="141" width="1" height="4" fill="#000"/><rect x="160" y="139" width="1" height="6" fill="#000"/><rect x="161" y="140" width="1" height="5" fill="#000"/><rect x="162" y="140" width="1" height="6" fill="#000"/><rect x="163" y="141" width="1" height="3" fill="#000"/><rect x="164" y="140" width="1" height="5" fill="#000"/><rect x="165" y="140" width="1" height="6" fill="#000"/><rect x="166" y="140" width="1" height="4" fill="#000"/><rect x="167" y="141" width="1" height="4" fill="#000"/><rect x="168" y="136" width="1" height="9" fill="#000"/><rect x="169" y="139" width="1" height="6" fill="#000"/><rect x="170" y="140" width="1" height="5" fill="#000"/><rect x="171" y="141" width="1" height="4" fill="#000"/><rect x="172" y="140" width="1" height="6" fill="#000"/><rect x="173" y="140" width="1" height="6" fill="#000"/><rect x="174" y="140" width="1" height="6" fill="#000"/><rect x="175" y="140" width="1" height="6" fill="#000"/><rect x="176" y="140" width="1" height="5" fill="#000"/><rect x="177" y="140" width="1" height="5" fill="#000"/><rect x="178" y="140" width="1" height="5" fill="#000"/><rect x="179" y="139" width="1" height="7" fill="#000"/><rect x="180" y="141" width="1" height="5" fill="#000"/><rect x="181" y="139" width="1" height="7" fill="#000"/><rect x="182" y="139" width="1" height="6" fill="#000"/><rect x="183" y="140" width="1" height="4" fill="#000"/><rect x="184" y="140" width="1" height="6" fill="#000"/><rect x="185" y="140" width="1" height="6" fill="#000"/><rect x="186" y="140" width="1" height="6" fill="#000"/><rect x="187" y="139" width="1" height="5" fill="#000"/><rect x="188" y="140" width="1" height="5" fill="#000"/><rect x="189" y="139" width="1" height="6" fill="#000"/><rect x="190" y="140" width="1" height="5" fill="#000"/><rect x="191" y="141" width="1" height="11" fill="#000"/><rect x="192" y="139" width="1" height="7" fill="#000"/><rect x="193" y="141" width="1" height="5" fill="#000"/><rect x="194" y="139" width="1" height="7" fill="#000"/><rect x="195" y="140" width="1" height="6" fill="#000"/><rect x="196" y="140" width="1" height="6" fill="#000"/><rect x="197" y="140" width="1" height="5" fill="#000"/><rect x="198" y="140" width="1" height="5" fill="#000"/><rect x="199" y="140" width="1" height="6" fill="#000"/><rect x="200" y="141" width="1" height="4" fill="#000"/><rect x="201" y="140" width="1" height="4" fill="#000"/><rect x="202" y="140" width="1" height="5" fill="#000"/><rect x="203" y="139" width="1" height="7" fill="#000"/><rect x="204" y="139" width="1" height="7" fill="#000"/><rect x="205" y="140" width="1" height="6" fill="#000"/><rect x="206" y="139" width="1" height="6" fill="#000"/><rect x="207" y="139" width="1" height="6" fill="#000"/><rect x="208" y="140" width="1" height="5" fill="#000"/><rect x="209" y="139" width="1" height="6" fill="#000"/><rect x="210" y="139" width="1" height="6" fill="#000"/><rect x="211" y="139" width="1" height="6" fill="#000"/><rect x="212" y="140" width="1" height="6" fill="#000"/><rect x="213" y="139" width="1" height="7" fill="#000"/><rect x="214" y="140" width="1" height="4" fill="#000"/><rect x="215" y="140" width="1" height="5" fill="#000"/><rect x="216" y="140" width="1" height="5" fill="#000"/><rect x="217" y="139" width="1" height="6" fill="#000"/><rect x="218" y="141" width="1" height="4" fill="#000"/><rect x="219" y="140" width="1" height="6" fill="#000"/><rect x="220" y="139" width="1" height="5" fill="#000"/><rect x="221" y="140" width="1" height="5" fill="#000"/><rect x="222" y="139" width="1" height="6" fill="#000"/><rect x="223" y="140" width="1" height="6" fill="#000"/><rect x="224" y="139" width="1" height="6" fill="#000"/><rect x="225" y="140" width="1" height="6" fill="#000"/><rect x="226" y="140" width="1" height="5" fill="#000"/><rect x="227" y="140" width="1" height="6" fill="#000"/><rect x="228" y="140" width="1" height="6" fill="#000"/><rect x="229" y="139" width="1" height="7" fill="#000"/><rect x="230" y="140" width="1" height="6" fill="#000"/><rect x="231" y="141" width="1" height="5" fill="#000"/><rect x="232" y="141" width="1" height="5" fill="#000"/><rect x="233" y="140" width="1" height="5" fill="#000"/><rect x="234" y="140" width="1" height="6" fill="#000"/><rect x="235" y="140" width="1" height="5" fill="#000"/><rect x="236" y="139" width="1" height="6" fill="#000"/><rect x="237" y="139" width="1" height="6" fill="#000"/><rect x="238" y="141" width="1" height="4" fill="#000"/><rect x="239" y="140" width="1" height="6" fill="#000"/><rect x="240" y="141" width="1" height="5" fill="#000"/><rect x="241" y="139" width="1" height="7" fill="#000"/><rect x="242" y="140" width="1" height="6" fill="#000"/><rect x="243" y="140" width="1" height="6" fill="#000"/><rect x="244" y="140" width="1" height="5" fill="#000"/><rect x="245" y="141" width="1" height="4" fill="#000"/><rect x="246" y="139" width="1" height="6" fill="#000"/><rect x="247" y="139" width="1" height="7" fill="#000"/><rect x="248" y="140" width="1" height="6" fill="#000"/><rect x="249" y="139" width="1" height="5" fill="#000"/><rect x="250" y="140" width="1" height="4" fill="#000"/><rect x="251" y="139" width="1" height="7" fill="#000"/><rect x="252" y="137" width="1" height="7" fill="#000"/><rect x="253" y="140" width="1" height="4" fill="#000"/><rect x="254" y="139" width="1" height="7" fill="#000"/><rect x="255" y="140" width="1" height="5" fill="#000"/><rect x="256" y="140" width="1" height="6" fill="#000"/><rect x="257" y="140" width="1" height="5" fill="#000"/><rect x="258" y="140" width="1" height="5" fill="#000"/><rect x="259" y="139" width="1" height="6" fill="#000"/><rect x="260" y="140" width="1" height="5" fill="#000"/><rect x="261" y="139" width="1" height="7" fill="#000"/><rect x="262" y="140" width="1" height="4" fill="#000"/><rect x="263" y="140" width="1" height="6" fill="#000"/><rect x="264" y="139" width="1" height="6" fill="#000"/><rect x="265" y="141" width="1" height="5" fill="#000"/><rect x="266" y="139" width="1" height="6" fill="#000"/><rect x="267" y="140" width="1" height="6" fill="#000"/><rect x="268" y="140" width="1" height="5" fill="#000"/><rect x="269" y="139" width="1" height="6" fill="#000"/><rect x="270" y="140" width="1" height="5" fill="#000"/><rect x="271" y="140" width="1" height="5" fill="#000"/><rect x="272" y="140" width="1" height="5" fill="#000"/><rect x="273" y="139" width="1" height="6" fill="#000"/><rect x="274" y="141" width="1" height="5" fill="#000"/><rect x="275" y="139" width="1" height="6" fill="#000"/><rect x="276" y="139" width="1" height="6" fill="#000"/><rect x="277" y="139" width="1" height="7" fill="#000"/><rect x="278" y="140" width="1" height="5" fill="#000"/><rect x="279" y="140" width="1" height="6" fill="#000"/><rect x="280" y="140" width="1" height="6" fill="#000"/><rect x="281" y="140" width="1" height="6" fill="#000"/><rect x="282" y="140" width="1" height="6" fill="#000"/><rect x="283" y="141" width="1" height="4" fill="#000"/><rect x="284" y="141" width="1" height="4" fill="#000"/><rect x="285" y="140" width="1" height="6" fill="#000"/><rect x="286" y="140" width="1" height="5" fill="#000"/><rect x="287" y="140" width="1" height="6" fill="#000"/><rect x="288" y="140" width="1" height="5" fill="#000"/><rect x="289" y="139" width="1" height="7" fill="#000"/><rect x="290" y="140" width="1" height="6" fill="#000"/><rect x="291" y="140" width="1" height="5" fill="#000"/><rect x="292" y="140" width="1" height="6" fill="#000"/><rect x="293" y="140" width="1" height="5" fill="#000"/><rect x="294" y="140" width="1" height="5" fill="#000"/><rect x="295" y="141" width="1" height="4" fill="#000"/><rect x="296" y="141" width="1" height="5" fill="#000"/><rect x="297" y="140" width="1" height="6" fill="#000"/><rect x="298" y="140" width="1" height="5" fill="#000"/><rect x="299" y="140" width="1" height="6" fill="#000"/><rect x="300" y="140" width="1" height="6" fill="#000"/><rect x="301" y="140" width="1" height="5" fill="#000"/><rect x="302" y="140" width="1" height="5" fill="#000"/><rect x="303" y="140" width="1" height="4" fill="#000"/><rect x="304" y="140" width="1" height="5" fill="#000"/><rect x="305" y="140" width="1" height="7" fill="#000"/><rect x="306" y="140" width="1" height="5" fill="#000"/><rect x="307" y="141" width="1" height="5" fill="#000"/><rect x="308" y="139" width="1" height="7" fill="#000"/><rect x="309" y="141" width="1" height="5" fill="#000"/><rect x="310" y="140" width="1" height="5" fill="#000"/><rect x="311" y="140" width="1" height="5" fill="#000"/><rect x="312" y="140" width="1" height="5" fill="#000"/><rect x="313" y="140" width="1" height="6" fill="#000"/><rect x="314" y="141" width="1" height="4" fill="#000"/><rect x="315" y="140" width="1" height="6" fill="#000"/><rect x="316" y="140" width="1" height="5" fill="#000"/><rect x="317" y="140" width="1" height="5" fill="#000"/><rect x="318" y="140" width="1" height="6" fill="#000"/><rect x="319" y="140" width="1" height="5" fill="#000"/><rect x="320" y="139" width="1" height="5" fill="#000"/><rect x="321" y="140" width="1" height="5" fill="#000"/><rect x="322" y="140" width="1" height="5" fill="#000"/><rect x="323" y="141" width="1" height="4" fill="#000"/><rect x="324" y="140" width="1" height="5" fill="#000"/><rect x="325" y="131" width="1" height="15" fill="#000"/><rect x="326" y="140" width="1" height="5" fill="#000"/><rect x="327" y="141" width="1" height="3" fill="#000"/><rect x="328" y="139" width="1" height="6" fill="#000"/><rect x="329" y="140" width="1" height="5" fill="#000"/><rect x="330" y="140" width="1" height="6" fill="#000"/><rect x="331" y="139" width="1" height="5" fill="#000"/><rect x="332" y="141" width="1" height="5" fill="#000"/><rect x="333" y="140" width="1" height="5" fill="#000"/><rect x="334" y="140" width="1" height="6" fill="#000"/><rect x="335" y="139" width="1" height="7" fill="#000"/><rect x="336" y="140" width="1" height="6" fill="#000"/><rect x="337" y="140" width="1" height="5" fill="#000"/><rect x="338" y="140" width="1" height="6" fill="#000"/><rect x="339" y="139" width="1" height="7" fill="#000"/><rect x="340" y="140" width="1" height="5" fill="#000"/><rect x="341" y="140" width="1" height="6" fill="#000"/><rect x="342" y="140" width="1" height="5" fill="#000"/><rect x="343" y="139" width="1" height="5" fill="#000"/><rect x="344" y="139" width="1" height="6" fill="#000"/><rect x="345" y="140" width="1" height="5" fill="#000"/><rect x="346" y="139" width="1" height="6" fill="#000"/><rect x="347" y="140" width="1" height="6" fill="#000"/><rect x="348" y="140" width="1" height="6" fill="#000"/><rect x="349" y="139" width="1" height="6" fill="#000"/><rect x="350" y="139" width="1" height="6" fill="#000"/><rect x="351" y="140" width="1" height="6" fill="#000"/><rect x="352" y="140" width="1" height="4" fill="#000"/><rect x="353" y="140" width="1" height="4" fill="#000"/><rect x="354" y="141" width="1" height="3" fill="#000"/><rect x="355" y="139" width="1" height="5" fill="#000"/><rect x="356" y="139" width="1" height="5" fill="#000"/><rect x="357" y="140" width="1" height="5" fill="#000"/><rect x="358" y="140" width="1" height="5" fill="#000"/><rect x="359" y="140" width="1" height="6" fill="#000"/><rect x="360" y="140" width="1" height="5" fill="#000"/><rect x="361" y="141" width="1" height="5" fill="#000"/><rect x="362" y="140" width="1" height="5" fill="#000"/><rect x="363" y="140" width="1" height="6" fill="#000"/><rect x="364" y="140" width="1" height="6" fill="#000"/><rect x="365" y="139" width="1" height="7" fill="#000"/><rect x="366" y="140" width="1" height="5" fill="#000"/><rect x="367" y="139" width="1" height="6" fill="#000"/><rect x="368" y="140" width="1" height="5" fill="#000"/><rect x="369" y="140" width="1" height="6" fill="#000"/><rect x="370" y="139" width="1" height="6" fill="#000"/><rect x="371" y="140" width="1" height="5" fill="#000"/><rect x="372" y="141" width="1" height="4" fill="#000"/><rect x="373" y="140" width="1" height="5" fill="#000"/><rect x="374" y="139" width="1" height="6" fill="#000"/><rect x="375" y="140" width="1" height="6" fill="#000"/><rect x="376" y="139" width="1" height="7" fill="#000"/><rect x="377" y="141" width="1" height="4" fill="#000"/><rect x="378" y="139" width="1" height="6" fill="#000"/><rect x="379" y="140" width="1" height="6" fill="#000"/><rect x="380" y="140" width="1" height="4" fill="#000"/><rect x="381" y="141" width="1" height="3" fill="#000"/><rect x="382" y="139" width="1" height="7" fill="#000"/><rect x="383" y="128" width="1" height="18" fill="#000"/><rect x="384" y="140" width="1" height="6" fill="#000"/><rect x="385" y="140" width="1" height="5" fill="#000"/><rect x="386" y="140" width="1" height="5" fill="#000"/><rect x="387" y="139" width="1" height="5" fill="#000"/><rect x="388" y="140" width="1" height="5" fill="#000"/><rect x="389" y="140" width="1" height="5" fill="#000"/><rect x="390" y="140" width="1" height="4" fill="#000"/><rect x="391" y="140" width="1" height="5" fill="#000"/><rect x="392" y="140" width="1" height="6" fill="#000"/><rect x="393" y="141" width="1" height="5" fill="#000"/><rect x="394" y="139" width="1" height="6" fill="#000"/><rect x="395" y="140" width="1" height="5" fill="#000"/><rect x="396" y="141" width="1" height="5" fill="#000"/><rect x="397" y="140" width="1" height="5" fill="#000"/><rect x="398" y="140" width="1" height="6" fill="#000"/><rect x="399" y="140" width="1" height="6" fill="#000"/><rect x="400" y="140" width="1" height="4" fill="#000"/><rect x="401" y="140" width="1" height="5" fill="#000"/><rect x="402" y="141" width="1" height="4" fill="#000"/><rect x="403" y="141" width="1" height="3" fill="#000"/><rect x="404" y="140" width="1" height="6" fill="#000"/><rect x="405" y="141" width="1" height="4" fill="#000"/><rect x="406" y="139" width="1" height="6" fill="#000"/><rect x="407" y="140" width="1" height="5" fill="#000"/><rect x="408" y="140" width="1" height="6" fill="#000"/><rect x="409" y="139" width="1" height="5" fill="#000"/><rect x="410" y="140" width="1" height="5" fill="#000"/><rect x="411" y="139" width="1" height="7" fill="#000"/><rect x="412" y="140" width="1" height="4" fill="#000"/><rect x="413" y="139" width="1" height="9" fill="#000"/><rect x="414" y="139" width="1" height="6" fill="#000"/><rect x="415" y="140" width="1" height="5" fill="#000"/><rect x="416" y="141" width="1" height="4" fill="#000"/><rect x="417" y="140" width="1" height="5" fill="#000"/><rect x="418" y="139" width="1" height="5" fill="#000"/><rect x="419" y="139" width="1" height="5" fill="#000"/><rect x="420" y="139" width="1" height="6" fill="#000"/><rect x="421" y="140" width="1" height="6" fill="#000"/><rect x="422" y="140" width="1" height="5" fill="#000"/><rect x="423" y="141" width="1" height="4" fill="#000"/><rect x="424" y="140" width="1" height="5" fill="#000"/><rect x="425" y="140" width="1" height="6" fill="#000"/><rect x="426" y="130" width="1" height="15" fill="#000"/><rect x="427" y="140" width="1" height="5" fill="#000"/><rect x="428" y="140" width="1" height="5" fill="#000"/><rect x="429" y="140" width="1" height="6" fill="#000"/><rect x="430" y="139" width="1" height="6" fill="#000"/><rect x="431" y="140" width="1" height="5" fill="#000"/><rect x="432" y="140" width="1" height="4" fill="#000"/><rect x="433" y="140" width="1" height="6" fill="#000"/><rect x="434" y="140" width="1" height="4" fill="#000"/><rect x="435" y="140" width="1" height="5" fill="#000"/><rect x="436" y="140" width="1" height="4" fill="#000"/><rect x="437" y="140" width="1" height="5" fill="#000"/><rect x="438" y="140" width="1" height="5" fill="#000"/><rect x="439" y="140" width="1" height="5" fill="#000"/><rect x="440" y="140" width="1" height="6" fill="#000"/><rect x="441" y="140" width="1" height="6" fill="#000"/><rect x="442" y="141" width="1" height="5" fill="#000"/><rect x="443" y="140" width="1" height="5" fill="#000"/><rect x="444" y="141" width="1" height="4" fill="#000"/><rect x="445" y="140" width="1" height="6" fill="#000"/><rect x="446" y="139" width="1" height="6" fill="#000"/><rect x="447" y="140" width="1" height="6" fill="#000"/><rect x="448" y="141" width="1" height="4" fill="#000"/><rect x="449" y="140" width="1" height="5" fill="#000"/><rect x="450" y="139" width="1" height="6" fill="#000"/><rect x="451" y="141" width="1" height="4" fill="#000"/><rect x="452" y="140" width="1" height="6" fill="#000"/><rect x="453" y="140" width="1" height="5" fill="#000"/><rect x="454" y="140" width="1" height="5" fill="#000"/><rect x="455" y="140" width="1" height="5" fill="#000"/><rect x="456" y="141" width="1" height="5" fill="#000"/><rect x="457" y="140" width="1" height="6" fill="#000"/><rect x="458" y="139" width="1" height="5" fill="#000"/><rect x="459" y="140" width="1" height="6" fill="#000"/><rect x="460" y="139" width="1" height="6" fill="#000"/><rect x="461" y="139" width="1" height="6" fill="#000"/><rect x="462" y="140" width="1" height="5" fill="#000"/><rect x="463" y="139" width="1" height="6" fill="#000"/><rect x="464" y="139" width="1" height="6" fill="#000"/><rect x="465" y="141" width="1" height="4" fill="#000"/><rect x="466" y="140" width="1" height="5" fill="#000"/><rect x="467" y="141" width="1" height="5" fill="#000"/><rect x="468" y="140" width="1" height="6" fill="#000"/><rect x="469" y="140" width="1" height="6" fill="#000"/><rect x="470" y="140" width="1" height="4" fill="#000"/><rect x="471" y="140" width="1" height="5" fill="#000"/><rect x="472" y="139" width="1" height="7" fill="#000"/><rect x="473" y="139" width="1" height="7" fill="#000"/><rect x="474" y="140" width="1" height="5" fill="#000"/><rect x="475" y="140" width="1" height="6" fill="#000"/><rect x="476" y="140" width="1" height="6" fill="#000"/><rect x="477" y="140" width="1" height="6" fill="#000"/><rect x="478" y="140" width="1" height="6" fill="#000"/><rect x="479" y="139" width="1" height="6" fill="#000"/><rect x="480" y="140" width="1" height="5" fill="#000"/><rect x="481" y="139" width="1" height="6" fill="#000"/><rect x="482" y="139" width="1" height="7" fill="#000"/><rect x="483" y="140" width="1" height="5" fill="#000"/><rect x="484" y="140" width="1" height="5" fill="#000"/><rect x="485" y="141" width="1" height="4" fill="#000"/><rect x="486" y="139" width="1" height="6" fill="#000"/><rect x="487" y="139" width="1" height="6" fill="#000"/><rect x="488" y="140" width="1" height="5" fill="#000"/><rect x="489" y="140" width="1" height="6" fill="#000"/><rect x="490" y="140" width="1" height="5" fill="#000"/><rect x="491" y="140" width="1" height="5" fill="#000"/><rect x="492" y="139" width="1" height="11" fill="#000"/><rect x="493" y="139" width="1" height="7" fill="#000"/><rect x="494" y="140" width="1" height="4" fill="#000"/><rect x="495" y="140" width="1" height="6" fill="#000"/><rect x="496" y="140" width="1" height="6" fill="#000"/><rect x="497" y="140" width="1" height="6" fill="#000"/><rect x="498" y="140" width="1" height="5" fill="#000"/><rect x="499" y="140" width="1" height="6" fill="#000"/><rect x="500" y="140" width="1" height="4" fill="#000"/><rect x="501" y="141" width="1" height="3" fill="#000"/><rect x="502" y="140" width="1" height="5" fill="#000"/><rect x="503" y="139" width="1" height="7" fill="#000"/><rect x="504" y="140" width="1" height="5" fill="#000"/><rect x="505" y="140" width="1" height="5" fill="#000"/><rect x="506" y="140" width="1" height="6" fill="#000"/><rect x="507" y="139" width="1" height="6" fill="#000"/><rect x="508" y="139" width="1" height="6" fill="#000"/><rect x="509" y="140" width="1" height="6" fill="#000"/><rect x="510" y="140" width="1" height="4" fill="#000"/><rect x="511" y="140" width="1" height="6" fill="#000"/><rect x="512" y="140" width="1" height="6" fill="#000"/><rect x="513" y="140" width="1" height="4" fill="#000"/><rect x="514" y="140" width="1" height="4" fill="#000"/><rect x="515" y="141" width="1" height="5" fill="#000"/><rect x="516" y="140" width="1" height="4" fill="#000"/><rect x="517" y="140" width="1" height="6" fill="#000"/><rect x="518" y="140" width="1" height="5" fill="#000"/><rect x="519" y="141" width="1" height="3" fill="#000"/><rect x="520" y="139" width="1" height="7" fill="#000"/><rect x="521" y="135" width="1" height="11" fill="#000"/><rect x="522" y="140" width="1" height="5" fill="#000"/><rect x="523" y="140" width="1" height="5" fill="#000"/><rect x="524" y="140" width="1" height="5" fill="#000"/><rect x="525" y="140" width="1" height="5" fill="#000"/><rect x="526" y="140" width="1" height="6" fill="#000"/><rect x="527" y="140" width="1" height="6" fill="#000"/><rect x="528" y="140" width="1" height="5" fill="#000"/><rect x="529" y="140" width="1" height="5" fill="#000"/><rect x="530" y="140" width="1" height="5" fill="#000"/><rect x="531" y="140" width="1" height="6" fill="#000"/><rect x="532" y="140" width="1" height="5" fill="#000"/><rect x="533" y="140" width="1" height="5" fill="#000"/><rect x="534" y="140" width="1" height="5" fill="#000"/><rect x="535" y="140" width="1" height="6" fill="#000"/><rect x="536" y="141" width="1" height="9" fill="#000"/><rect x="537" y="140" width="1" height="6" fill="#000"/><rect x="538" y="141" width="1" height="5" fill="#000"/><rect x="539" y="140" width="1" height="4" fill="#000"/><rect x="540" y="141" width="1" height="5" fill="#000"/><rect x="541" y="141" width="1" height="3" fill="#000"/><rect x="542" y="139" width="1" height="6" fill="#000"/><rect x="543" y="140" width="1" height="6" fill="#000"/><rect x="544" y="141" width="1" height="3" fill="#000"/><rect x="545" y="140" width="1" height="5" fill="#000"/><rect x="546" y="139" width="1" height="5" fill="#000"/><rect x="547" y="140" width="1" height="5" fill="#000"/><rect x="548" y="140" width="1" height="6" fill="#000"/><rect x="549" y="140" width="1" height="5" fill="#000"/><rect x="550" y="140" width="1" height="5" fill="#000"/><rect x="551" y="140" width="1" height="6" fill="#000"/><rect x="552" y="139" width="1" height="7" fill="#000"/><rect x="553" y="141" width="1" height="4" fill="#000"/><rect x="554" y="140" width="1" height="5" fill="#000"/><rect x="555" y="139" width="1" height="7" fill="#000"/><rect x="556" y="140" width="1" height="6" fill="#000"/><rect x="557" y="140" width="1" height="6" fill="#000"/><rect x="558" y="140" width="1" height="4" fill="#000"/><rect x="559" y="140" width="1" height="5" fill="#000"/><rect x="560" y="140" width="1" height="5" fill="#000"/><rect x="561" y="140" width="1" height="4" fill="#000"/><rect x="562" y="141" width="1" height="5" fill="#000"/><rect x="563" y="141" width="1" height="4" fill="#000"/><rect x="564" y="140" width="1" height="5" fill="#000"/><rect x="565" y="139" width="1" height="6" fill="#000"/><rect x="566" y="140" width="1" height="5" fill="#000"/><rect x="567" y="140" width="1" height="4" fill="#000"/><rect x="568" y="140" width="1" height="5" fill="#000"/><rect x="569" y="140" width="1" height="6" fill="#000"/><rect x="570" y="140" width="1" height="6" fill="#000"/><rect x="571" y="140" width="1" height="5" fill="#000"/><rect x="572" y="140" width="1" height="5" fill="#000"/><rect x="573" y="140" width="1" height="5" fill="#000"/><rect x="574" y="141" width="1" height="4" fill="#000"/><rect x="575" y="139" width="1" height="7" fill="#000"/><rect x="576" y="141" width="1" height="4" fill="#000"/><rect x="577" y="127" width="1" height="18" fill="#000"/><rect x="578" y="140" width="1" height="6" fill="#000"/><rect x="579" y="140" width="1" height="6" fill="#000"/><rect x="580" y="141" width="1" height="5" fill="#000"/><rect x="581" y="140" width="1" height="4" fill="#000"/><rect x="582" y="139" width="1" height="7" fill="#000"/><rect x="583" y="140" width="1" height="6" fill="#000"/><rect x="584" y="140" width="1" height="5" fill="#000"/><rect x="585" y="141" width="1" height="5" fill="#000"/><rect x="586" y="140" width="1" height="5" fill="#000"/><rect x="587" y="141" width="1" height="4" fill="#000"/><rect x="588" y="139" width="1" height="7" fill="#000"/><rect x="589" y="140" width="1" height="5" fill="#000"/><rect x="590" y="139" width="1" height="6" fill="#000"/><rect x="591" y="140" width="1" height="5" fill="#000"/><rect x="592" y="139" width="1" height="7" fill="#000"/><rect x="593" y="140" width="1" height="5" fill="#000"/><rect x="594" y="139" width="1" height="6" fill="#000"/><rect x="595" y="140" width="1" height="4" fill="#000"/><rect x="596" y="140" width="1" height="6" fill="#000"/><rect x="597" y="140" width="1" height="5" fill="#000"/><rect x="598" y="140" width="1" height="5" fill="#000"/><rect x="599" y="140" width="1" height="6" fill="#000"/><rect x="600" y="140" width="1" height="5" fill="#000"/><rect x="601" y="140" width="1" height="5" fill="#000"/><rect x="602" y="140" width="1" height="6" fill="#000"/><rect x="603" y="140" width="1" height="4" fill="#000"/><rect x="604" y="140" width="1" height="8" fill="#000"/><rect x="605" y="140" width="1" height="5" fill="#000"/><rect x="606" y="140" width="1" height="5" fill="#000"/><rect x="607" y="139" width="1" height="7" fill="#000"/><rect x="608" y="140" width="1" height="5" fill="#000"/><rect x="609" y="141" width="1" height="5" fill="#000"/><rect x="610" y="140" width="1" height="4" fill="#000"/><rect x="611" y="140" width="1" height="6" fill="#000"/><rect x="612" y="141" width="1" height="3" fill="#000"/><rect x="613" y="141" width="1" height="5" fill="#000"/><rect x="614" y="140" width="1" height="6" fill="#000"/><rect x="615" y="140" width="1" height="6" fill="#000"/><rect x="616" y="139" width="1" height="6" fill="#000"/><rect x="617" y="140" width="1" height="5" fill="#000"/><rect x="618" y="141" width="1" height="5" fill="#000"/><rect x="619" y="140" width="1" height="5" fill="#000"/><rect x="620" y="140" width="1" height="6" fill="#000"/><rect x="621" y="140" width="1" height="5" fill="#000"/><rect x="622" y="140" width="1" height="4" fill="#000"/><rect x="623" y="141" width="1" height="3" fill="#000"/><rect x="624" y="140" width="1" height="5" fill="#000"/><rect x="625" y="141" width="1" height="5" fill="#000"/><rect x="626" y="140" width="1" height="8" fill="#000"/><rect x="627" y="140" width="1" height="6" fill="#000"/><rect x="628" y="139" width="1" height="6" fill="#000"/><rect x="629" y="135" width="1" height="9" fill="#000"/><rect x="630" y="140" width="1" height="6" fill="#000"/><rect x="631" y="139" width="1" height="5" fill="#000"/><rect x="632" y="141" width="1" height="4" fill="#000"/><rect x="633" y="140" width="1" height="4" fill="#000"/><rect x="634" y="140" width="1" height="6" fill="#000"/><rect x="635" y="139" width="1" height="6" fill="#000"/><rect x="636" y="140" width="1" height="6" fill="#000"/><rect x="637" y="140" width="1" height="6" fill="#000"/><rect x="638" y="140" width="1" height="5" fill="#000"/><rect x="639" y="140" width="1" height="4" fill="#000"/><rect x="640" y="139" width="1" height="7" fill="#000"/><rect x="641" y="140" width="1" height="5" fill="#000"/><rect x="642" y="139" width="1" height="7" fill="#000"/><rect x="643" y="140" width="1" height="12" fill="#000"/><rect x="644" y="139" width="1" height="6" fill="#000"/><rect x="645" y="140" width="1" height="5" fill="#000"/><rect x="646" y="140" width="1" height="6" fill="#000"/><rect x="647" y="140" width="1" height="5" fill="#000"/><rect x="648" y="139" width="1" height="6" fill="#000"/><rect x="649" y="140" width="1" height="5" fill="#000"/><rect x="650" y="141" width="1" height="4" fill="#000"/><rect x="651" y="139" width="1" height="6" fill="#000"/><rect x="652" y="139" width="1" height="6" fill="#000"/><rect x="653" y="140" width="1" height="5" fill="#000"/><rect x="654" y="140" width="1" height="6" fill="#000"/><rect x="655" y="139" width="1" height="5" fill="#000"/><rect x="656" y="140" width="1" height="4" fill="#000"/><rect x="657" y="139" width="1" height="7" fill="#000"/><rect x="658" y="139" width="1" height="5" fill="#000"/><rect x="659" y="140" width="1" height="6" fill="#000"/><rect x="660" y="140" width="1" height="6" fill="#000"/><rect x="661" y="140" width="1" height="5" fill="#000"/><rect x="662" y="140" width="1" height="5" fill="#000"/><rect x="663" y="139" width="1" height="7" fill="#000"/><rect x="664" y="139" width="1" height="5" fill="#000"/><rect x="665" y="140" width="1" height="5" fill="#000"/><rect x="666" y="140" width="1" height="5" fill="#000"/><rect x="667" y="140" width="1" height="5" fill="#000"/><rect x="668" y="140" width="1" height="4" fill="#000"/><rect x="669" y="140" width="1" height="5" fill="#000"/><rect x="670" y="141" width="1" height="3" fill="#000"/><rect x="671" y="139" width="1" height="6" fill="#000"/><rect x="672" y="140" width="1" height="6" fill="#000"/><rect x="673" y="139" width="1" height="7" fill="#000"/><rect x="674" y="140" width="1" height="6" fill="#000"/><rect x="675" y="139" width="1" height="6" fill="#000"/><rect x="676" y="141" width="1" height="5" fill="#000"/><rect x="677" y="139" width="1" height="6" fill="#000"/><rect x="678" y="140" width="1" height="5" fill="#000"/><rect x="679" y="140" width="1" height="6" fill="#000"/><rect x="680" y="140" width="1" height="5" fill="#000"/><rect x="681" y="139" width="1" height="6" fill="#000"/><rect x="682" y="140" width="1" height="6" fill="#000"/><rect x="683" y="140" width="1" height="5" fill="#000"/><rect x="684" y="140" width="1" height="6" fill="#000"/><rect x="685" y="139" width="1" height="7" fill="#000"/><rect x="686" y="140" width="1" height="5" fill="#000"/><rect x="687" y="140" width="1" height="6" fill="#000"/><rect x="688" y="139" width="1" height="5" fill="#000"/><rect x="689" y="140" width="1" height="6" fill="#000"/><rect x="690" y="140" width="1" height="6" fill="#000"/><rect x="691" y="140" width="1" height="6" fill="#000"/><rect x="692" y="141" width="1" height="3" fill="#000"/><text x="61.6" y="130" font-size="9.5" textLength="9.6" lengthAdjust="spacingAndGlyphs">10</text><text x="56.2" y="161" font-size="9.5" textLength="15.0" lengthAdjust="spacingAndGlyphs">-10</text><text x="66.4" y="326" font-size="9.5" textLength="4.8" lengthAdjust="spacingAndGlyphs">0</text><text x="66.4" y="295" font-size="9.5" textLength="4.8" lengthAdjust="spacingAndGlyphs">2</text><text x="66.4" y="264" font-size="9.5" textLength="4.8" lengthAdjust="spacingAndGlyphs">4</text><text x="66.4" y="232" font-size="9.5" textLength="4.8" lengthAdjust="spacingAndGlyphs">6</text><text x="66.4" y="201" font-size="9.5" textLength="4.8" lengthAdjust="spacingAndGlyphs">8</text><text x="61.6" y="170" font-size="9.5" textLength="9.6" lengthAdjust="spacingAndGlyphs">10</text><text x="66.4" y="492" font-size="9.5" textLength="4.8" lengthAdjust="spacingAndGlyphs">0</text><text x="66.4" y="461" font-size="9.5" textLength="4.8" lengthAdjust="spacingAndGlyphs">2</text><text x="66.4" y="430" font-size="9.5" textLength="4.8" lengthAdjust="spacingAndGlyphs">4</text><text x="66.4" y="398" font-size="9.5" textLength="4.8" lengthAdjust="spacingAndGlyphs">6</text><text x="66.4" y="367" font-size="9.5" textLength="4.8" lengthAdjust="spacingAndGlyphs">8</text><text x="61.6" y="336" font-size="9.5" textLength="9.6" lengthAdjust="spacingAndGlyphs">10</text><text x="66.4" y="501" font-size="9.5" textLength="4.8" lengthAdjust="spacingAndGlyphs">5</text><text x="61.6" y="532" font-size="9.5" textLength="9.6" lengthAdjust="spacingAndGlyphs">-5</text><text x="77.1" y="549.2" font-size="9.5" textLength="4.8" lengthAdjust="spacingAndGlyphs">0</text><text x="139.5" y="549.2" font-size="9.5" textLength="4.8" lengthAdjust="spacingAndGlyphs">1</text><text x="201.9" y="549.2" font-size="9.5" textLength="4.8" lengthAdjust="spacingAndGlyphs">2</text><text x="264.3" y="549.2" font-size="9.5" textLength="4.8" lengthAdjust="spacingAndGlyphs">3</text><text x="326.70000000000005" y="549.2" font-size="9.5" textLength="4.8" lengthAdjust="spacingAndGlyphs">4</text><text x="389.1" y="549.2" font-size="9.5" textLength="4.8" lengthAdjust="spacingAndGlyphs">5</text><text x="451.5" y="549.2" font-size="9.5" textLength="4.8" lengthAdjust="spacingAndGlyphs">6</text><text x="513.9" y="549.2" font-size="9.5" textLength="4.8" lengthAdjust="spacingAndGlyphs">7</text><text x="576.3000000000001" y="549.2" font-size="9.5" textLength="4.8" lengthAdjust="spacingAndGlyphs">8</text><text x="638.7" y="549.2" font-size="9.5" textLength="4.8" lengthAdjust="spacingAndGlyphs">9</text><text x="698.7" y="549.2" font-size="9.5" textLength="9.6" lengthAdjust="spacingAndGlyphs">10</text><text x="376.4" y="557.8" font-size="8.8" textLength="47.7" lengthAdjust="spacingAndGlyphs">Time&#160;&#160;(min)</text><text x="79.5" y="123.2" font-size="11.5" textLength="68.2" lengthAdjust="spacingAndGlyphs">VLF Spectra</text><text x="251.1" y="123.1" font-size="10" textLength="55.7" lengthAdjust="spacingAndGlyphs">Nov.29, 2025</text><text x="344" y="123.1" font-size="10" textLength="33.0" lengthAdjust="spacingAndGlyphs">station=</text><text x="379.4" y="123.1" font-size="10" textLength="19.4" lengthAdjust="spacingAndGlyphs">ANG</text><text x="438" y="123.1" font-size="10" textLength="18.5" lengthAdjust="spacingAndGlyphs">start</text><text x="461" y="123.1" font-size="10" textLength="12.5" lengthAdjust="spacingAndGlyphs">UT</text><text x="478.3" y="123.1" font-size="10" textLength="5.7" lengthAdjust="spacingAndGlyphs">=</text><text x="492.3" y="123.1" font-size="10" textLength="5.4" lengthAdjust="spacingAndGlyphs">2</text><text x="502.5" y="123.1" font-size="10" textLength="3.0" lengthAdjust="spacingAndGlyphs">:</text><text x="507" y="123.1" font-size="10" textLength="10.5" lengthAdjust="spacingAndGlyphs">50</text><text x="517.5" y="123.1" font-size="10" textLength="3.0" lengthAdjust="spacingAndGlyphs">:</text><text x="523.3" y="123.1" font-size="10" textLength="5.9" lengthAdjust="spacingAndGlyphs">0</text><text x="0" y="0" font-size="8.6" textLength="31.4" lengthAdjust="spacingAndGlyphs" transform="translate(50.2,158) rotate(-90)">ch.1(V)</text><text x="0" y="0" font-size="8.8" textLength="17.4" lengthAdjust="spacingAndGlyphs" transform="translate(50.0,253.2) rotate(-90)">ch.1</text><text x="0" y="0" font-size="8.2" textLength="70.8" lengthAdjust="spacingAndGlyphs" transform="translate(57.8,267.1) rotate(-90)">Frequency&#160;&#160;(kHz)</text><text x="0" y="0" font-size="8.8" textLength="17.4" lengthAdjust="spacingAndGlyphs" transform="translate(50.0,419.2) rotate(-90)">ch.2</text><text x="0" y="0" font-size="8.2" textLength="70.8" lengthAdjust="spacingAndGlyphs" transform="translate(57.8,433.1) rotate(-90)">Frequency&#160;&#160;(kHz)</text><text x="0" y="0" font-size="8.6" textLength="31.0" lengthAdjust="spacingAndGlyphs" transform="translate(50.2,528.7) rotate(-90)">ch.3(V)</text>
</svg></body></html>
